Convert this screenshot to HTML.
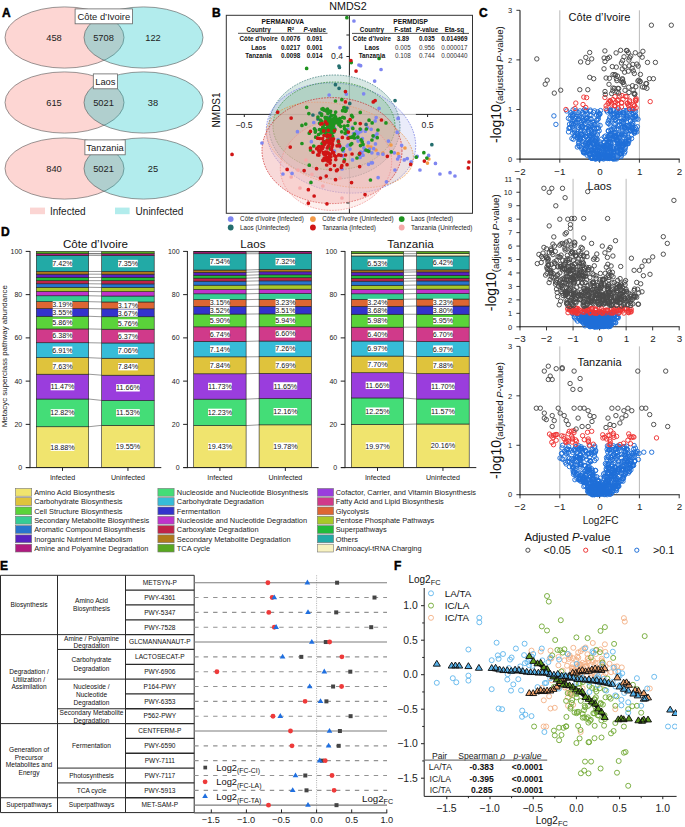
<!DOCTYPE html>
<html><head><meta charset="utf-8"><style>
html,body{margin:0;padding:0;background:#fff;overflow:hidden;}
svg{display:block;font-family:"Liberation Sans", sans-serif;}
</style></head><body>
<svg width="685" height="827" viewBox="0 0 685 827">
<text x="2.00" y="17.00" font-size="12" text-anchor="start" fill="#000" font-weight="bold" stroke="#000" stroke-width="0.45">A</text>
<text x="212.00" y="17.20" font-size="12" text-anchor="start" fill="#000" font-weight="bold" stroke="#000" stroke-width="0.45">B</text>
<text x="479.00" y="17.20" font-size="12" text-anchor="start" fill="#000" font-weight="bold" stroke="#000" stroke-width="0.45">C</text>
<text x="1.00" y="235.50" font-size="12" text-anchor="start" fill="#000" font-weight="bold" stroke="#000" stroke-width="0.45">D</text>
<text x="0.00" y="570.00" font-size="12" text-anchor="start" fill="#000" font-weight="bold" stroke="#000" stroke-width="0.45">E</text>
<text x="394.00" y="570.00" font-size="12" text-anchor="start" fill="#000" font-weight="bold" stroke="#000" stroke-width="0.45">F</text>
<ellipse cx="64.5" cy="37.5" rx="59.5" ry="30.6" fill="#f8766d" fill-opacity="0.3" stroke="#555" stroke-width="0.6"/>
<ellipse cx="143.5" cy="37.5" rx="59.5" ry="30.6" fill="#00bfc4" fill-opacity="0.3" stroke="#555" stroke-width="0.6"/>
<rect x="75.10" y="8.90" width="57.40" height="14.90" fill="#fff" stroke="#666" stroke-width="0.8"/>
<text x="103.80" y="19.60" font-size="9.4" text-anchor="middle" fill="#222">Côte d’Ivoire</text>
<text x="54.00" y="40.60" font-size="9.3" text-anchor="middle" fill="#222">458</text>
<text x="103.50" y="40.60" font-size="9.3" text-anchor="middle" fill="#222">5708</text>
<text x="153.00" y="40.60" font-size="9.3" text-anchor="middle" fill="#222">122</text>
<ellipse cx="64.5" cy="102.5" rx="59.5" ry="30.6" fill="#f8766d" fill-opacity="0.3" stroke="#555" stroke-width="0.6"/>
<ellipse cx="143.5" cy="102.5" rx="59.5" ry="30.6" fill="#00bfc4" fill-opacity="0.3" stroke="#555" stroke-width="0.6"/>
<rect x="93.30" y="73.90" width="24.10" height="14.90" fill="#fff" stroke="#666" stroke-width="0.8"/>
<text x="105.35" y="84.60" font-size="9.4" text-anchor="middle" fill="#222">Laos</text>
<text x="54.00" y="105.60" font-size="9.3" text-anchor="middle" fill="#222">615</text>
<text x="103.50" y="105.60" font-size="9.3" text-anchor="middle" fill="#222">5021</text>
<text x="153.00" y="105.60" font-size="9.3" text-anchor="middle" fill="#222">38</text>
<ellipse cx="64.5" cy="168.5" rx="59.5" ry="30.6" fill="#f8766d" fill-opacity="0.3" stroke="#555" stroke-width="0.6"/>
<ellipse cx="143.5" cy="168.5" rx="59.5" ry="30.6" fill="#00bfc4" fill-opacity="0.3" stroke="#555" stroke-width="0.6"/>
<rect x="84.90" y="139.90" width="40.30" height="14.90" fill="#fff" stroke="#666" stroke-width="0.8"/>
<text x="105.05" y="150.60" font-size="9.4" text-anchor="middle" fill="#222">Tanzania</text>
<text x="54.00" y="171.60" font-size="9.3" text-anchor="middle" fill="#222">840</text>
<text x="103.50" y="171.60" font-size="9.3" text-anchor="middle" fill="#222">5021</text>
<text x="153.00" y="171.60" font-size="9.3" text-anchor="middle" fill="#222">25</text>
<rect x="30.00" y="207.60" width="15.00" height="6.60" fill="#fbd5d3" stroke="none" stroke-width="1"/>
<text x="50.00" y="214.60" font-size="10" text-anchor="start" fill="#222">Infected</text>
<rect x="115.00" y="207.60" width="14.60" height="6.60" fill="#b2ecec" stroke="none" stroke-width="1"/>
<text x="135.60" y="214.60" font-size="10" text-anchor="start" fill="#222">Uninfected</text>
<defs><clipPath id="cb"><rect x="226.3" y="15.3" width="246.2" height="198.0"/></clipPath></defs>
<g clip-path="url(#cb)">
<line x1="270.50" y1="114.40" x2="415.80" y2="114.40" stroke="#222" stroke-width="1" stroke-opacity="0.3"/>
<line x1="349.40" y1="75.60" x2="349.40" y2="208.60" stroke="#222" stroke-width="1" stroke-opacity="0.3"/>
<line x1="226.30" y1="114.40" x2="270.50" y2="114.40" stroke="#222" stroke-width="1"/>
<line x1="415.80" y1="114.40" x2="472.50" y2="114.40" stroke="#222" stroke-width="1"/>
<line x1="349.40" y1="15.30" x2="349.40" y2="75.60" stroke="#222" stroke-width="1"/>
<line x1="349.40" y1="208.60" x2="349.40" y2="213.30" stroke="#222" stroke-width="1"/>
<ellipse cx="334.5" cy="127.0" rx="65.5" ry="52.0" transform="rotate(0 334.5 127.0)" fill="#499684" fill-opacity="0.22" stroke="#2d6e6e" stroke-width="0.7" stroke-dasharray="1.6 1.2"/>
<ellipse cx="341.0" cy="138.0" rx="75.5" ry="54.0" transform="rotate(12 341.0 138.0)" fill="#7b87e3" fill-opacity="0.16" stroke="#6a72e0" stroke-width="0.7" stroke-dasharray="1.6 1.2"/>
<ellipse cx="334.0" cy="126.0" rx="61.0" ry="44.0" transform="rotate(0 334.0 126.0)" fill="#64be5a" fill-opacity="0.22" stroke="#2a8a2a" stroke-width="0.7" stroke-dasharray="1.6 1.2"/>
<ellipse cx="340.0" cy="145.0" rx="75.0" ry="40.0" transform="rotate(14 340.0 145.0)" fill="#f0a060" fill-opacity="0.15" stroke="#e8913f" stroke-width="0.7" stroke-dasharray="1.6 1.2"/>
<ellipse cx="332.0" cy="150.6" rx="70.0" ry="53.0" transform="rotate(0 332.0 150.6)" fill="#f0aaaa" fill-opacity="0.45" stroke="#cc2020" stroke-width="0.7" stroke-dasharray="1.6 1.2"/>
<ellipse cx="336.0" cy="165.0" rx="56.0" ry="45.0" transform="rotate(-10 336.0 165.0)" fill="#f6beb9" fill-opacity="0.25" stroke="#f08d8d" stroke-width="0.7" stroke-dasharray="1.6 1.2"/>
<path fill="#f6a9a9" d="M289.3 177.0a1.85 1.85 0 1 0 3.7 0a1.85 1.85 0 1 0 -3.7 0M321.0 186.0a1.85 1.85 0 1 0 3.7 0a1.85 1.85 0 1 0 -3.7 0M310.1 174.3a1.85 1.85 0 1 0 3.7 0a1.85 1.85 0 1 0 -3.7 0M296.1 170.0a1.85 1.85 0 1 0 3.7 0a1.85 1.85 0 1 0 -3.7 0M328.1 165.0a1.85 1.85 0 1 0 3.7 0a1.85 1.85 0 1 0 -3.7 0M298.1 188.0a1.85 1.85 0 1 0 3.7 0a1.85 1.85 0 1 0 -3.7 0M338.1 178.0a1.85 1.85 0 1 0 3.7 0a1.85 1.85 0 1 0 -3.7 0M304.1 160.0a1.85 1.85 0 1 0 3.7 0a1.85 1.85 0 1 0 -3.7 0M340.1 198.0a1.85 1.85 0 1 0 3.7 0a1.85 1.85 0 1 0 -3.7 0"/>
<path fill="#f39a48" d="M427.0 159.0a1.85 1.85 0 1 0 3.7 0a1.85 1.85 0 1 0 -3.7 0M425.6 163.1a1.85 1.85 0 1 0 3.7 0a1.85 1.85 0 1 0 -3.7 0M396.2 153.6a1.85 1.85 0 1 0 3.7 0a1.85 1.85 0 1 0 -3.7 0M360.1 143.0a1.85 1.85 0 1 0 3.7 0a1.85 1.85 0 1 0 -3.7 0M366.1 146.0a1.85 1.85 0 1 0 3.7 0a1.85 1.85 0 1 0 -3.7 0M369.1 147.0a1.85 1.85 0 1 0 3.7 0a1.85 1.85 0 1 0 -3.7 0M389.1 145.0a1.85 1.85 0 1 0 3.7 0a1.85 1.85 0 1 0 -3.7 0M403.1 148.0a1.85 1.85 0 1 0 3.7 0a1.85 1.85 0 1 0 -3.7 0M381.1 153.0a1.85 1.85 0 1 0 3.7 0a1.85 1.85 0 1 0 -3.7 0M374.1 150.0a1.85 1.85 0 1 0 3.7 0a1.85 1.85 0 1 0 -3.7 0"/>
<path fill="#246e6e" d="M337.1 66.0a1.85 1.85 0 1 0 3.7 0a1.85 1.85 0 1 0 -3.7 0M337.6 67.5a1.85 1.85 0 1 0 3.7 0a1.85 1.85 0 1 0 -3.7 0M333.6 84.7a1.85 1.85 0 1 0 3.7 0a1.85 1.85 0 1 0 -3.7 0M337.2 88.3a1.85 1.85 0 1 0 3.7 0a1.85 1.85 0 1 0 -3.7 0M393.2 100.6a1.85 1.85 0 1 0 3.7 0a1.85 1.85 0 1 0 -3.7 0M347.9 103.4a1.85 1.85 0 1 0 3.7 0a1.85 1.85 0 1 0 -3.7 0M364.2 124.4a1.85 1.85 0 1 0 3.7 0a1.85 1.85 0 1 0 -3.7 0M430.0 144.7a1.85 1.85 0 1 0 3.7 0a1.85 1.85 0 1 0 -3.7 0M311.1 115.0a1.85 1.85 0 1 0 3.7 0a1.85 1.85 0 1 0 -3.7 0M318.1 113.0a1.85 1.85 0 1 0 3.7 0a1.85 1.85 0 1 0 -3.7 0M328.1 117.0a1.85 1.85 0 1 0 3.7 0a1.85 1.85 0 1 0 -3.7 0M322.1 110.0a1.85 1.85 0 1 0 3.7 0a1.85 1.85 0 1 0 -3.7 0M345.1 108.0a1.85 1.85 0 1 0 3.7 0a1.85 1.85 0 1 0 -3.7 0M316.1 119.0a1.85 1.85 0 1 0 3.7 0a1.85 1.85 0 1 0 -3.7 0"/>
<path fill="#7f86f0" d="M351.6 133.5a1.85 1.85 0 1 0 3.7 0a1.85 1.85 0 1 0 -3.7 0M372.8 135.9a1.85 1.85 0 1 0 3.7 0a1.85 1.85 0 1 0 -3.7 0M332.2 127.2a1.85 1.85 0 1 0 3.7 0a1.85 1.85 0 1 0 -3.7 0M392.5 152.8a1.85 1.85 0 1 0 3.7 0a1.85 1.85 0 1 0 -3.7 0M345.9 129.3a1.85 1.85 0 1 0 3.7 0a1.85 1.85 0 1 0 -3.7 0M336.2 139.5a1.85 1.85 0 1 0 3.7 0a1.85 1.85 0 1 0 -3.7 0M366.7 164.3a1.85 1.85 0 1 0 3.7 0a1.85 1.85 0 1 0 -3.7 0M381.1 154.2a1.85 1.85 0 1 0 3.7 0a1.85 1.85 0 1 0 -3.7 0M345.0 131.0a1.85 1.85 0 1 0 3.7 0a1.85 1.85 0 1 0 -3.7 0M311.9 122.5a1.85 1.85 0 1 0 3.7 0a1.85 1.85 0 1 0 -3.7 0M366.6 142.7a1.85 1.85 0 1 0 3.7 0a1.85 1.85 0 1 0 -3.7 0M365.5 127.8a1.85 1.85 0 1 0 3.7 0a1.85 1.85 0 1 0 -3.7 0M376.1 153.7a1.85 1.85 0 1 0 3.7 0a1.85 1.85 0 1 0 -3.7 0M359.0 152.0a1.85 1.85 0 1 0 3.7 0a1.85 1.85 0 1 0 -3.7 0M313.4 129.5a1.85 1.85 0 1 0 3.7 0a1.85 1.85 0 1 0 -3.7 0M340.2 169.0a1.85 1.85 0 1 0 3.7 0a1.85 1.85 0 1 0 -3.7 0M354.5 138.0a1.85 1.85 0 1 0 3.7 0a1.85 1.85 0 1 0 -3.7 0M375.2 133.9a1.85 1.85 0 1 0 3.7 0a1.85 1.85 0 1 0 -3.7 0M386.6 141.1a1.85 1.85 0 1 0 3.7 0a1.85 1.85 0 1 0 -3.7 0M357.0 132.5a1.85 1.85 0 1 0 3.7 0a1.85 1.85 0 1 0 -3.7 0M374.3 117.5a1.85 1.85 0 1 0 3.7 0a1.85 1.85 0 1 0 -3.7 0M372.0 136.7a1.85 1.85 0 1 0 3.7 0a1.85 1.85 0 1 0 -3.7 0M359.1 129.5a1.85 1.85 0 1 0 3.7 0a1.85 1.85 0 1 0 -3.7 0M362.7 149.6a1.85 1.85 0 1 0 3.7 0a1.85 1.85 0 1 0 -3.7 0M370.0 152.8a1.85 1.85 0 1 0 3.7 0a1.85 1.85 0 1 0 -3.7 0M370.6 162.8a1.85 1.85 0 1 0 3.7 0a1.85 1.85 0 1 0 -3.7 0M350.4 127.4a1.85 1.85 0 1 0 3.7 0a1.85 1.85 0 1 0 -3.7 0M332.6 151.1a1.85 1.85 0 1 0 3.7 0a1.85 1.85 0 1 0 -3.7 0M350.6 159.9a1.85 1.85 0 1 0 3.7 0a1.85 1.85 0 1 0 -3.7 0M359.1 131.5a1.85 1.85 0 1 0 3.7 0a1.85 1.85 0 1 0 -3.7 0M376.3 177.6a1.85 1.85 0 1 0 3.7 0a1.85 1.85 0 1 0 -3.7 0M354.5 131.7a1.85 1.85 0 1 0 3.7 0a1.85 1.85 0 1 0 -3.7 0M341.2 155.8a1.85 1.85 0 1 0 3.7 0a1.85 1.85 0 1 0 -3.7 0M346.4 137.9a1.85 1.85 0 1 0 3.7 0a1.85 1.85 0 1 0 -3.7 0M371.8 148.7a1.85 1.85 0 1 0 3.7 0a1.85 1.85 0 1 0 -3.7 0M360.5 138.5a1.85 1.85 0 1 0 3.7 0a1.85 1.85 0 1 0 -3.7 0M345.4 146.0a1.85 1.85 0 1 0 3.7 0a1.85 1.85 0 1 0 -3.7 0M361.2 155.2a1.85 1.85 0 1 0 3.7 0a1.85 1.85 0 1 0 -3.7 0M348.2 149.1a1.85 1.85 0 1 0 3.7 0a1.85 1.85 0 1 0 -3.7 0M367.7 149.0a1.85 1.85 0 1 0 3.7 0a1.85 1.85 0 1 0 -3.7 0M369.6 162.8a1.85 1.85 0 1 0 3.7 0a1.85 1.85 0 1 0 -3.7 0M362.1 147.9a1.85 1.85 0 1 0 3.7 0a1.85 1.85 0 1 0 -3.7 0M338.8 147.1a1.85 1.85 0 1 0 3.7 0a1.85 1.85 0 1 0 -3.7 0M356.3 141.1a1.85 1.85 0 1 0 3.7 0a1.85 1.85 0 1 0 -3.7 0M341.6 151.2a1.85 1.85 0 1 0 3.7 0a1.85 1.85 0 1 0 -3.7 0M409.3 161.9a1.85 1.85 0 1 0 3.7 0a1.85 1.85 0 1 0 -3.7 0M359.9 152.7a1.85 1.85 0 1 0 3.7 0a1.85 1.85 0 1 0 -3.7 0M346.3 145.2a1.85 1.85 0 1 0 3.7 0a1.85 1.85 0 1 0 -3.7 0M344.9 134.2a1.85 1.85 0 1 0 3.7 0a1.85 1.85 0 1 0 -3.7 0M362.8 150.2a1.85 1.85 0 1 0 3.7 0a1.85 1.85 0 1 0 -3.7 0M355.9 134.0a1.85 1.85 0 1 0 3.7 0a1.85 1.85 0 1 0 -3.7 0M363.4 131.2a1.85 1.85 0 1 0 3.7 0a1.85 1.85 0 1 0 -3.7 0M373.6 143.9a1.85 1.85 0 1 0 3.7 0a1.85 1.85 0 1 0 -3.7 0M358.2 157.4a1.85 1.85 0 1 0 3.7 0a1.85 1.85 0 1 0 -3.7 0M369.3 129.3a1.85 1.85 0 1 0 3.7 0a1.85 1.85 0 1 0 -3.7 0M338.1 47.6a1.85 1.85 0 1 0 3.7 0a1.85 1.85 0 1 0 -3.7 0M327.3 95.0a1.85 1.85 0 1 0 3.7 0a1.85 1.85 0 1 0 -3.7 0M344.5 94.1a1.85 1.85 0 1 0 3.7 0a1.85 1.85 0 1 0 -3.7 0M358.8 65.7a1.85 1.85 0 1 0 3.7 0a1.85 1.85 0 1 0 -3.7 0M379.2 69.5a1.85 1.85 0 1 0 3.7 0a1.85 1.85 0 1 0 -3.7 0M372.8 81.1a1.85 1.85 0 1 0 3.7 0a1.85 1.85 0 1 0 -3.7 0M361.8 93.8a1.85 1.85 0 1 0 3.7 0a1.85 1.85 0 1 0 -3.7 0M377.2 108.4a1.85 1.85 0 1 0 3.7 0a1.85 1.85 0 1 0 -3.7 0M373.3 120.9a1.85 1.85 0 1 0 3.7 0a1.85 1.85 0 1 0 -3.7 0M396.4 118.2a1.85 1.85 0 1 0 3.7 0a1.85 1.85 0 1 0 -3.7 0M395.3 132.0a1.85 1.85 0 1 0 3.7 0a1.85 1.85 0 1 0 -3.7 0M352.1 21.0a1.85 1.85 0 1 0 3.7 0a1.85 1.85 0 1 0 -3.7 0M357.1 65.0a1.85 1.85 0 1 0 3.7 0a1.85 1.85 0 1 0 -3.7 0M426.8 155.4a1.85 1.85 0 1 0 3.7 0a1.85 1.85 0 1 0 -3.7 0M433.6 163.4a1.85 1.85 0 1 0 3.7 0a1.85 1.85 0 1 0 -3.7 0M448.2 172.7a1.85 1.85 0 1 0 3.7 0a1.85 1.85 0 1 0 -3.7 0M415.4 156.3a1.85 1.85 0 1 0 3.7 0a1.85 1.85 0 1 0 -3.7 0M402.4 159.9a1.85 1.85 0 1 0 3.7 0a1.85 1.85 0 1 0 -3.7 0M405.4 158.6a1.85 1.85 0 1 0 3.7 0a1.85 1.85 0 1 0 -3.7 0M395.8 159.0a1.85 1.85 0 1 0 3.7 0a1.85 1.85 0 1 0 -3.7 0M397.1 156.7a1.85 1.85 0 1 0 3.7 0a1.85 1.85 0 1 0 -3.7 0M399.8 145.3a1.85 1.85 0 1 0 3.7 0a1.85 1.85 0 1 0 -3.7 0M395.3 132.3a1.85 1.85 0 1 0 3.7 0a1.85 1.85 0 1 0 -3.7 0M396.2 118.5a1.85 1.85 0 1 0 3.7 0a1.85 1.85 0 1 0 -3.7 0M384.6 181.8a1.85 1.85 0 1 0 3.7 0a1.85 1.85 0 1 0 -3.7 0M295.6 131.7a1.85 1.85 0 1 0 3.7 0a1.85 1.85 0 1 0 -3.7 0M290.2 173.4a1.85 1.85 0 1 0 3.7 0a1.85 1.85 0 1 0 -3.7 0M309.5 141.7a1.85 1.85 0 1 0 3.7 0a1.85 1.85 0 1 0 -3.7 0M260.1 143.0a1.85 1.85 0 1 0 3.7 0a1.85 1.85 0 1 0 -3.7 0M281.1 174.0a1.85 1.85 0 1 0 3.7 0a1.85 1.85 0 1 0 -3.7 0M418.1 170.0a1.85 1.85 0 1 0 3.7 0a1.85 1.85 0 1 0 -3.7 0M438.1 174.0a1.85 1.85 0 1 0 3.7 0a1.85 1.85 0 1 0 -3.7 0M453.1 176.0a1.85 1.85 0 1 0 3.7 0a1.85 1.85 0 1 0 -3.7 0M393.1 170.0a1.85 1.85 0 1 0 3.7 0a1.85 1.85 0 1 0 -3.7 0"/>
<path fill="#1f931f" d="M329.8 134.0a1.85 1.85 0 1 0 3.7 0a1.85 1.85 0 1 0 -3.7 0M322.6 132.1a1.85 1.85 0 1 0 3.7 0a1.85 1.85 0 1 0 -3.7 0M327.3 123.1a1.85 1.85 0 1 0 3.7 0a1.85 1.85 0 1 0 -3.7 0M342.4 126.1a1.85 1.85 0 1 0 3.7 0a1.85 1.85 0 1 0 -3.7 0M328.8 130.3a1.85 1.85 0 1 0 3.7 0a1.85 1.85 0 1 0 -3.7 0M337.0 124.8a1.85 1.85 0 1 0 3.7 0a1.85 1.85 0 1 0 -3.7 0M333.3 118.0a1.85 1.85 0 1 0 3.7 0a1.85 1.85 0 1 0 -3.7 0M326.6 121.8a1.85 1.85 0 1 0 3.7 0a1.85 1.85 0 1 0 -3.7 0M319.8 114.1a1.85 1.85 0 1 0 3.7 0a1.85 1.85 0 1 0 -3.7 0M317.8 123.3a1.85 1.85 0 1 0 3.7 0a1.85 1.85 0 1 0 -3.7 0M327.9 122.7a1.85 1.85 0 1 0 3.7 0a1.85 1.85 0 1 0 -3.7 0M329.6 115.4a1.85 1.85 0 1 0 3.7 0a1.85 1.85 0 1 0 -3.7 0M328.6 126.7a1.85 1.85 0 1 0 3.7 0a1.85 1.85 0 1 0 -3.7 0M334.4 118.9a1.85 1.85 0 1 0 3.7 0a1.85 1.85 0 1 0 -3.7 0M326.4 110.5a1.85 1.85 0 1 0 3.7 0a1.85 1.85 0 1 0 -3.7 0M325.6 109.2a1.85 1.85 0 1 0 3.7 0a1.85 1.85 0 1 0 -3.7 0M319.2 132.9a1.85 1.85 0 1 0 3.7 0a1.85 1.85 0 1 0 -3.7 0M313.7 130.7a1.85 1.85 0 1 0 3.7 0a1.85 1.85 0 1 0 -3.7 0M331.4 122.8a1.85 1.85 0 1 0 3.7 0a1.85 1.85 0 1 0 -3.7 0M332.4 128.8a1.85 1.85 0 1 0 3.7 0a1.85 1.85 0 1 0 -3.7 0M336.5 123.3a1.85 1.85 0 1 0 3.7 0a1.85 1.85 0 1 0 -3.7 0M325.0 120.6a1.85 1.85 0 1 0 3.7 0a1.85 1.85 0 1 0 -3.7 0M322.2 124.7a1.85 1.85 0 1 0 3.7 0a1.85 1.85 0 1 0 -3.7 0M323.6 132.7a1.85 1.85 0 1 0 3.7 0a1.85 1.85 0 1 0 -3.7 0M316.1 117.1a1.85 1.85 0 1 0 3.7 0a1.85 1.85 0 1 0 -3.7 0M322.5 109.9a1.85 1.85 0 1 0 3.7 0a1.85 1.85 0 1 0 -3.7 0M342.5 107.7a1.85 1.85 0 1 0 3.7 0a1.85 1.85 0 1 0 -3.7 0M327.2 121.2a1.85 1.85 0 1 0 3.7 0a1.85 1.85 0 1 0 -3.7 0M340.7 110.7a1.85 1.85 0 1 0 3.7 0a1.85 1.85 0 1 0 -3.7 0M336.7 119.7a1.85 1.85 0 1 0 3.7 0a1.85 1.85 0 1 0 -3.7 0M328.1 120.2a1.85 1.85 0 1 0 3.7 0a1.85 1.85 0 1 0 -3.7 0M333.6 116.8a1.85 1.85 0 1 0 3.7 0a1.85 1.85 0 1 0 -3.7 0M328.6 127.5a1.85 1.85 0 1 0 3.7 0a1.85 1.85 0 1 0 -3.7 0M342.0 107.7a1.85 1.85 0 1 0 3.7 0a1.85 1.85 0 1 0 -3.7 0M339.8 131.8a1.85 1.85 0 1 0 3.7 0a1.85 1.85 0 1 0 -3.7 0M325.8 127.2a1.85 1.85 0 1 0 3.7 0a1.85 1.85 0 1 0 -3.7 0M325.9 136.9a1.85 1.85 0 1 0 3.7 0a1.85 1.85 0 1 0 -3.7 0M330.6 123.4a1.85 1.85 0 1 0 3.7 0a1.85 1.85 0 1 0 -3.7 0M327.6 123.6a1.85 1.85 0 1 0 3.7 0a1.85 1.85 0 1 0 -3.7 0M327.9 118.7a1.85 1.85 0 1 0 3.7 0a1.85 1.85 0 1 0 -3.7 0M343.6 111.2a1.85 1.85 0 1 0 3.7 0a1.85 1.85 0 1 0 -3.7 0M303.9 124.1a1.85 1.85 0 1 0 3.7 0a1.85 1.85 0 1 0 -3.7 0M328.1 127.7a1.85 1.85 0 1 0 3.7 0a1.85 1.85 0 1 0 -3.7 0M327.7 123.9a1.85 1.85 0 1 0 3.7 0a1.85 1.85 0 1 0 -3.7 0M331.5 132.0a1.85 1.85 0 1 0 3.7 0a1.85 1.85 0 1 0 -3.7 0M326.0 122.3a1.85 1.85 0 1 0 3.7 0a1.85 1.85 0 1 0 -3.7 0M342.7 128.8a1.85 1.85 0 1 0 3.7 0a1.85 1.85 0 1 0 -3.7 0M322.3 141.7a1.85 1.85 0 1 0 3.7 0a1.85 1.85 0 1 0 -3.7 0M334.6 120.8a1.85 1.85 0 1 0 3.7 0a1.85 1.85 0 1 0 -3.7 0M320.9 127.1a1.85 1.85 0 1 0 3.7 0a1.85 1.85 0 1 0 -3.7 0M323.3 117.4a1.85 1.85 0 1 0 3.7 0a1.85 1.85 0 1 0 -3.7 0M320.1 121.4a1.85 1.85 0 1 0 3.7 0a1.85 1.85 0 1 0 -3.7 0M336.9 121.9a1.85 1.85 0 1 0 3.7 0a1.85 1.85 0 1 0 -3.7 0M319.0 129.8a1.85 1.85 0 1 0 3.7 0a1.85 1.85 0 1 0 -3.7 0M329.6 131.1a1.85 1.85 0 1 0 3.7 0a1.85 1.85 0 1 0 -3.7 0M337.6 123.8a1.85 1.85 0 1 0 3.7 0a1.85 1.85 0 1 0 -3.7 0M328.1 124.7a1.85 1.85 0 1 0 3.7 0a1.85 1.85 0 1 0 -3.7 0M321.2 129.8a1.85 1.85 0 1 0 3.7 0a1.85 1.85 0 1 0 -3.7 0M338.8 126.3a1.85 1.85 0 1 0 3.7 0a1.85 1.85 0 1 0 -3.7 0M327.5 123.1a1.85 1.85 0 1 0 3.7 0a1.85 1.85 0 1 0 -3.7 0M323.7 119.2a1.85 1.85 0 1 0 3.7 0a1.85 1.85 0 1 0 -3.7 0M326.3 118.9a1.85 1.85 0 1 0 3.7 0a1.85 1.85 0 1 0 -3.7 0M326.1 113.6a1.85 1.85 0 1 0 3.7 0a1.85 1.85 0 1 0 -3.7 0M331.6 125.4a1.85 1.85 0 1 0 3.7 0a1.85 1.85 0 1 0 -3.7 0M321.1 108.5a1.85 1.85 0 1 0 3.7 0a1.85 1.85 0 1 0 -3.7 0M329.1 132.9a1.85 1.85 0 1 0 3.7 0a1.85 1.85 0 1 0 -3.7 0M324.0 121.5a1.85 1.85 0 1 0 3.7 0a1.85 1.85 0 1 0 -3.7 0M325.2 129.7a1.85 1.85 0 1 0 3.7 0a1.85 1.85 0 1 0 -3.7 0M322.7 132.1a1.85 1.85 0 1 0 3.7 0a1.85 1.85 0 1 0 -3.7 0M327.0 131.7a1.85 1.85 0 1 0 3.7 0a1.85 1.85 0 1 0 -3.7 0M329.4 123.3a1.85 1.85 0 1 0 3.7 0a1.85 1.85 0 1 0 -3.7 0M318.8 120.1a1.85 1.85 0 1 0 3.7 0a1.85 1.85 0 1 0 -3.7 0M327.3 129.7a1.85 1.85 0 1 0 3.7 0a1.85 1.85 0 1 0 -3.7 0M330.9 120.0a1.85 1.85 0 1 0 3.7 0a1.85 1.85 0 1 0 -3.7 0M332.0 132.1a1.85 1.85 0 1 0 3.7 0a1.85 1.85 0 1 0 -3.7 0M328.1 121.8a1.85 1.85 0 1 0 3.7 0a1.85 1.85 0 1 0 -3.7 0M326.4 130.8a1.85 1.85 0 1 0 3.7 0a1.85 1.85 0 1 0 -3.7 0M332.9 118.3a1.85 1.85 0 1 0 3.7 0a1.85 1.85 0 1 0 -3.7 0M331.8 121.5a1.85 1.85 0 1 0 3.7 0a1.85 1.85 0 1 0 -3.7 0M323.9 133.9a1.85 1.85 0 1 0 3.7 0a1.85 1.85 0 1 0 -3.7 0M334.9 119.8a1.85 1.85 0 1 0 3.7 0a1.85 1.85 0 1 0 -3.7 0M329.7 128.6a1.85 1.85 0 1 0 3.7 0a1.85 1.85 0 1 0 -3.7 0M324.7 124.1a1.85 1.85 0 1 0 3.7 0a1.85 1.85 0 1 0 -3.7 0M333.8 112.1a1.85 1.85 0 1 0 3.7 0a1.85 1.85 0 1 0 -3.7 0M331.4 130.3a1.85 1.85 0 1 0 3.7 0a1.85 1.85 0 1 0 -3.7 0M332.7 115.3a1.85 1.85 0 1 0 3.7 0a1.85 1.85 0 1 0 -3.7 0M331.4 118.8a1.85 1.85 0 1 0 3.7 0a1.85 1.85 0 1 0 -3.7 0M333.1 129.4a1.85 1.85 0 1 0 3.7 0a1.85 1.85 0 1 0 -3.7 0M330.7 119.5a1.85 1.85 0 1 0 3.7 0a1.85 1.85 0 1 0 -3.7 0M325.0 131.1a1.85 1.85 0 1 0 3.7 0a1.85 1.85 0 1 0 -3.7 0M322.9 128.6a1.85 1.85 0 1 0 3.7 0a1.85 1.85 0 1 0 -3.7 0M332.7 123.0a1.85 1.85 0 1 0 3.7 0a1.85 1.85 0 1 0 -3.7 0M345.9 125.5a1.85 1.85 0 1 0 3.7 0a1.85 1.85 0 1 0 -3.7 0M344.2 110.5a1.85 1.85 0 1 0 3.7 0a1.85 1.85 0 1 0 -3.7 0M313.4 132.1a1.85 1.85 0 1 0 3.7 0a1.85 1.85 0 1 0 -3.7 0M333.6 122.8a1.85 1.85 0 1 0 3.7 0a1.85 1.85 0 1 0 -3.7 0M328.8 111.3a1.85 1.85 0 1 0 3.7 0a1.85 1.85 0 1 0 -3.7 0M324.7 117.6a1.85 1.85 0 1 0 3.7 0a1.85 1.85 0 1 0 -3.7 0M327.6 131.4a1.85 1.85 0 1 0 3.7 0a1.85 1.85 0 1 0 -3.7 0M329.5 127.7a1.85 1.85 0 1 0 3.7 0a1.85 1.85 0 1 0 -3.7 0M324.3 121.9a1.85 1.85 0 1 0 3.7 0a1.85 1.85 0 1 0 -3.7 0M329.9 123.0a1.85 1.85 0 1 0 3.7 0a1.85 1.85 0 1 0 -3.7 0M338.0 118.7a1.85 1.85 0 1 0 3.7 0a1.85 1.85 0 1 0 -3.7 0M342.4 117.9a1.85 1.85 0 1 0 3.7 0a1.85 1.85 0 1 0 -3.7 0M336.6 119.4a1.85 1.85 0 1 0 3.7 0a1.85 1.85 0 1 0 -3.7 0M371.2 135.8a1.85 1.85 0 1 0 3.7 0a1.85 1.85 0 1 0 -3.7 0M349.9 143.7a1.85 1.85 0 1 0 3.7 0a1.85 1.85 0 1 0 -3.7 0M332.4 120.5a1.85 1.85 0 1 0 3.7 0a1.85 1.85 0 1 0 -3.7 0M308.7 149.9a1.85 1.85 0 1 0 3.7 0a1.85 1.85 0 1 0 -3.7 0M331.3 126.3a1.85 1.85 0 1 0 3.7 0a1.85 1.85 0 1 0 -3.7 0M342.6 159.9a1.85 1.85 0 1 0 3.7 0a1.85 1.85 0 1 0 -3.7 0M313.8 137.2a1.85 1.85 0 1 0 3.7 0a1.85 1.85 0 1 0 -3.7 0M336.4 140.9a1.85 1.85 0 1 0 3.7 0a1.85 1.85 0 1 0 -3.7 0M312.6 128.8a1.85 1.85 0 1 0 3.7 0a1.85 1.85 0 1 0 -3.7 0M357.4 154.3a1.85 1.85 0 1 0 3.7 0a1.85 1.85 0 1 0 -3.7 0M370.3 122.9a1.85 1.85 0 1 0 3.7 0a1.85 1.85 0 1 0 -3.7 0M344.1 132.6a1.85 1.85 0 1 0 3.7 0a1.85 1.85 0 1 0 -3.7 0M319.8 115.3a1.85 1.85 0 1 0 3.7 0a1.85 1.85 0 1 0 -3.7 0M356.0 137.2a1.85 1.85 0 1 0 3.7 0a1.85 1.85 0 1 0 -3.7 0M340.7 149.8a1.85 1.85 0 1 0 3.7 0a1.85 1.85 0 1 0 -3.7 0M326.1 140.8a1.85 1.85 0 1 0 3.7 0a1.85 1.85 0 1 0 -3.7 0M343.3 133.2a1.85 1.85 0 1 0 3.7 0a1.85 1.85 0 1 0 -3.7 0M351.5 136.3a1.85 1.85 0 1 0 3.7 0a1.85 1.85 0 1 0 -3.7 0M347.7 137.5a1.85 1.85 0 1 0 3.7 0a1.85 1.85 0 1 0 -3.7 0M376.1 130.0a1.85 1.85 0 1 0 3.7 0a1.85 1.85 0 1 0 -3.7 0M360.4 141.9a1.85 1.85 0 1 0 3.7 0a1.85 1.85 0 1 0 -3.7 0M337.2 144.3a1.85 1.85 0 1 0 3.7 0a1.85 1.85 0 1 0 -3.7 0M328.6 149.1a1.85 1.85 0 1 0 3.7 0a1.85 1.85 0 1 0 -3.7 0M329.4 127.6a1.85 1.85 0 1 0 3.7 0a1.85 1.85 0 1 0 -3.7 0M348.6 144.8a1.85 1.85 0 1 0 3.7 0a1.85 1.85 0 1 0 -3.7 0M358.6 145.6a1.85 1.85 0 1 0 3.7 0a1.85 1.85 0 1 0 -3.7 0M339.6 121.6a1.85 1.85 0 1 0 3.7 0a1.85 1.85 0 1 0 -3.7 0M352.5 137.9a1.85 1.85 0 1 0 3.7 0a1.85 1.85 0 1 0 -3.7 0M327.0 146.7a1.85 1.85 0 1 0 3.7 0a1.85 1.85 0 1 0 -3.7 0M346.5 121.5a1.85 1.85 0 1 0 3.7 0a1.85 1.85 0 1 0 -3.7 0M350.7 116.8a1.85 1.85 0 1 0 3.7 0a1.85 1.85 0 1 0 -3.7 0M328.2 139.2a1.85 1.85 0 1 0 3.7 0a1.85 1.85 0 1 0 -3.7 0M316.7 134.5a1.85 1.85 0 1 0 3.7 0a1.85 1.85 0 1 0 -3.7 0M320.2 143.6a1.85 1.85 0 1 0 3.7 0a1.85 1.85 0 1 0 -3.7 0M330.8 136.4a1.85 1.85 0 1 0 3.7 0a1.85 1.85 0 1 0 -3.7 0M317.6 129.5a1.85 1.85 0 1 0 3.7 0a1.85 1.85 0 1 0 -3.7 0M359.3 139.9a1.85 1.85 0 1 0 3.7 0a1.85 1.85 0 1 0 -3.7 0M311.9 146.0a1.85 1.85 0 1 0 3.7 0a1.85 1.85 0 1 0 -3.7 0M358.3 129.1a1.85 1.85 0 1 0 3.7 0a1.85 1.85 0 1 0 -3.7 0M367.2 120.2a1.85 1.85 0 1 0 3.7 0a1.85 1.85 0 1 0 -3.7 0M341.7 148.5a1.85 1.85 0 1 0 3.7 0a1.85 1.85 0 1 0 -3.7 0M365.4 150.6a1.85 1.85 0 1 0 3.7 0a1.85 1.85 0 1 0 -3.7 0M324.5 110.9a1.85 1.85 0 1 0 3.7 0a1.85 1.85 0 1 0 -3.7 0M349.8 115.4a1.85 1.85 0 1 0 3.7 0a1.85 1.85 0 1 0 -3.7 0M340.9 117.3a1.85 1.85 0 1 0 3.7 0a1.85 1.85 0 1 0 -3.7 0M361.2 144.4a1.85 1.85 0 1 0 3.7 0a1.85 1.85 0 1 0 -3.7 0M352.6 134.2a1.85 1.85 0 1 0 3.7 0a1.85 1.85 0 1 0 -3.7 0M343.9 130.1a1.85 1.85 0 1 0 3.7 0a1.85 1.85 0 1 0 -3.7 0M349.7 137.2a1.85 1.85 0 1 0 3.7 0a1.85 1.85 0 1 0 -3.7 0M351.0 128.4a1.85 1.85 0 1 0 3.7 0a1.85 1.85 0 1 0 -3.7 0M375.4 137.7a1.85 1.85 0 1 0 3.7 0a1.85 1.85 0 1 0 -3.7 0M366.9 151.3a1.85 1.85 0 1 0 3.7 0a1.85 1.85 0 1 0 -3.7 0M328.2 112.1a1.85 1.85 0 1 0 3.7 0a1.85 1.85 0 1 0 -3.7 0M364.5 129.0a1.85 1.85 0 1 0 3.7 0a1.85 1.85 0 1 0 -3.7 0M344.5 130.6a1.85 1.85 0 1 0 3.7 0a1.85 1.85 0 1 0 -3.7 0M345.0 17.7a1.85 1.85 0 1 0 3.7 0a1.85 1.85 0 1 0 -3.7 0M304.8 68.4a1.85 1.85 0 1 0 3.7 0a1.85 1.85 0 1 0 -3.7 0M340.0 99.7a1.85 1.85 0 1 0 3.7 0a1.85 1.85 0 1 0 -3.7 0M333.6 101.0a1.85 1.85 0 1 0 3.7 0a1.85 1.85 0 1 0 -3.7 0M304.8 107.3a1.85 1.85 0 1 0 3.7 0a1.85 1.85 0 1 0 -3.7 0M320.1 109.1a1.85 1.85 0 1 0 3.7 0a1.85 1.85 0 1 0 -3.7 0M349.4 62.6a1.85 1.85 0 1 0 3.7 0a1.85 1.85 0 1 0 -3.7 0M377.2 58.5a1.85 1.85 0 1 0 3.7 0a1.85 1.85 0 1 0 -3.7 0M358.4 112.4a1.85 1.85 0 1 0 3.7 0a1.85 1.85 0 1 0 -3.7 0M384.1 122.9a1.85 1.85 0 1 0 3.7 0a1.85 1.85 0 1 0 -3.7 0M353.3 123.3a1.85 1.85 0 1 0 3.7 0a1.85 1.85 0 1 0 -3.7 0M422.0 152.7a1.85 1.85 0 1 0 3.7 0a1.85 1.85 0 1 0 -3.7 0M425.0 158.1a1.85 1.85 0 1 0 3.7 0a1.85 1.85 0 1 0 -3.7 0M414.4 157.2a1.85 1.85 0 1 0 3.7 0a1.85 1.85 0 1 0 -3.7 0M389.4 151.9a1.85 1.85 0 1 0 3.7 0a1.85 1.85 0 1 0 -3.7 0M368.6 180.0a1.85 1.85 0 1 0 3.7 0a1.85 1.85 0 1 0 -3.7 0M300.1 125.4a1.85 1.85 0 1 0 3.7 0a1.85 1.85 0 1 0 -3.7 0M307.4 133.2a1.85 1.85 0 1 0 3.7 0a1.85 1.85 0 1 0 -3.7 0M300.1 143.5a1.85 1.85 0 1 0 3.7 0a1.85 1.85 0 1 0 -3.7 0M307.4 165.2a1.85 1.85 0 1 0 3.7 0a1.85 1.85 0 1 0 -3.7 0M309.1 182.4a1.85 1.85 0 1 0 3.7 0a1.85 1.85 0 1 0 -3.7 0M307.0 113.6a1.85 1.85 0 1 0 3.7 0a1.85 1.85 0 1 0 -3.7 0M355.1 158.0a1.85 1.85 0 1 0 3.7 0a1.85 1.85 0 1 0 -3.7 0M364.1 150.0a1.85 1.85 0 1 0 3.7 0a1.85 1.85 0 1 0 -3.7 0M370.1 140.0a1.85 1.85 0 1 0 3.7 0a1.85 1.85 0 1 0 -3.7 0"/>
<path fill="#d01414" d="M325.9 134.8a1.85 1.85 0 1 0 3.7 0a1.85 1.85 0 1 0 -3.7 0M324.6 141.6a1.85 1.85 0 1 0 3.7 0a1.85 1.85 0 1 0 -3.7 0M325.1 123.8a1.85 1.85 0 1 0 3.7 0a1.85 1.85 0 1 0 -3.7 0M329.7 149.5a1.85 1.85 0 1 0 3.7 0a1.85 1.85 0 1 0 -3.7 0M315.7 138.2a1.85 1.85 0 1 0 3.7 0a1.85 1.85 0 1 0 -3.7 0M325.3 152.0a1.85 1.85 0 1 0 3.7 0a1.85 1.85 0 1 0 -3.7 0M325.2 159.1a1.85 1.85 0 1 0 3.7 0a1.85 1.85 0 1 0 -3.7 0M325.3 136.5a1.85 1.85 0 1 0 3.7 0a1.85 1.85 0 1 0 -3.7 0M321.4 152.7a1.85 1.85 0 1 0 3.7 0a1.85 1.85 0 1 0 -3.7 0M321.8 153.7a1.85 1.85 0 1 0 3.7 0a1.85 1.85 0 1 0 -3.7 0M330.8 152.1a1.85 1.85 0 1 0 3.7 0a1.85 1.85 0 1 0 -3.7 0M330.7 144.8a1.85 1.85 0 1 0 3.7 0a1.85 1.85 0 1 0 -3.7 0M325.1 140.4a1.85 1.85 0 1 0 3.7 0a1.85 1.85 0 1 0 -3.7 0M321.8 130.9a1.85 1.85 0 1 0 3.7 0a1.85 1.85 0 1 0 -3.7 0M322.1 135.6a1.85 1.85 0 1 0 3.7 0a1.85 1.85 0 1 0 -3.7 0M317.3 146.7a1.85 1.85 0 1 0 3.7 0a1.85 1.85 0 1 0 -3.7 0M327.7 143.0a1.85 1.85 0 1 0 3.7 0a1.85 1.85 0 1 0 -3.7 0M332.7 155.6a1.85 1.85 0 1 0 3.7 0a1.85 1.85 0 1 0 -3.7 0M330.9 140.8a1.85 1.85 0 1 0 3.7 0a1.85 1.85 0 1 0 -3.7 0M316.9 150.6a1.85 1.85 0 1 0 3.7 0a1.85 1.85 0 1 0 -3.7 0M326.8 153.0a1.85 1.85 0 1 0 3.7 0a1.85 1.85 0 1 0 -3.7 0M327.4 158.2a1.85 1.85 0 1 0 3.7 0a1.85 1.85 0 1 0 -3.7 0M323.6 152.2a1.85 1.85 0 1 0 3.7 0a1.85 1.85 0 1 0 -3.7 0M320.2 123.7a1.85 1.85 0 1 0 3.7 0a1.85 1.85 0 1 0 -3.7 0M322.7 160.0a1.85 1.85 0 1 0 3.7 0a1.85 1.85 0 1 0 -3.7 0M315.9 154.9a1.85 1.85 0 1 0 3.7 0a1.85 1.85 0 1 0 -3.7 0M321.4 141.9a1.85 1.85 0 1 0 3.7 0a1.85 1.85 0 1 0 -3.7 0M325.4 148.0a1.85 1.85 0 1 0 3.7 0a1.85 1.85 0 1 0 -3.7 0M319.8 146.7a1.85 1.85 0 1 0 3.7 0a1.85 1.85 0 1 0 -3.7 0M327.6 154.1a1.85 1.85 0 1 0 3.7 0a1.85 1.85 0 1 0 -3.7 0M321.0 160.4a1.85 1.85 0 1 0 3.7 0a1.85 1.85 0 1 0 -3.7 0M335.6 169.8a1.85 1.85 0 1 0 3.7 0a1.85 1.85 0 1 0 -3.7 0M317.8 147.0a1.85 1.85 0 1 0 3.7 0a1.85 1.85 0 1 0 -3.7 0M314.9 148.7a1.85 1.85 0 1 0 3.7 0a1.85 1.85 0 1 0 -3.7 0M328.2 135.4a1.85 1.85 0 1 0 3.7 0a1.85 1.85 0 1 0 -3.7 0M316.4 147.0a1.85 1.85 0 1 0 3.7 0a1.85 1.85 0 1 0 -3.7 0M328.6 138.8a1.85 1.85 0 1 0 3.7 0a1.85 1.85 0 1 0 -3.7 0M323.7 121.9a1.85 1.85 0 1 0 3.7 0a1.85 1.85 0 1 0 -3.7 0M321.3 147.1a1.85 1.85 0 1 0 3.7 0a1.85 1.85 0 1 0 -3.7 0M326.0 161.1a1.85 1.85 0 1 0 3.7 0a1.85 1.85 0 1 0 -3.7 0M318.9 124.1a1.85 1.85 0 1 0 3.7 0a1.85 1.85 0 1 0 -3.7 0M327.6 140.6a1.85 1.85 0 1 0 3.7 0a1.85 1.85 0 1 0 -3.7 0M326.7 153.0a1.85 1.85 0 1 0 3.7 0a1.85 1.85 0 1 0 -3.7 0M328.5 160.0a1.85 1.85 0 1 0 3.7 0a1.85 1.85 0 1 0 -3.7 0M332.6 130.8a1.85 1.85 0 1 0 3.7 0a1.85 1.85 0 1 0 -3.7 0M324.8 165.0a1.85 1.85 0 1 0 3.7 0a1.85 1.85 0 1 0 -3.7 0M322.9 155.0a1.85 1.85 0 1 0 3.7 0a1.85 1.85 0 1 0 -3.7 0M324.8 142.0a1.85 1.85 0 1 0 3.7 0a1.85 1.85 0 1 0 -3.7 0M333.9 156.6a1.85 1.85 0 1 0 3.7 0a1.85 1.85 0 1 0 -3.7 0M323.8 154.5a1.85 1.85 0 1 0 3.7 0a1.85 1.85 0 1 0 -3.7 0M317.9 138.5a1.85 1.85 0 1 0 3.7 0a1.85 1.85 0 1 0 -3.7 0M330.1 146.8a1.85 1.85 0 1 0 3.7 0a1.85 1.85 0 1 0 -3.7 0M319.3 149.8a1.85 1.85 0 1 0 3.7 0a1.85 1.85 0 1 0 -3.7 0M327.0 158.3a1.85 1.85 0 1 0 3.7 0a1.85 1.85 0 1 0 -3.7 0M330.4 143.8a1.85 1.85 0 1 0 3.7 0a1.85 1.85 0 1 0 -3.7 0M322.5 144.5a1.85 1.85 0 1 0 3.7 0a1.85 1.85 0 1 0 -3.7 0M323.9 159.8a1.85 1.85 0 1 0 3.7 0a1.85 1.85 0 1 0 -3.7 0M333.9 159.6a1.85 1.85 0 1 0 3.7 0a1.85 1.85 0 1 0 -3.7 0M327.2 143.9a1.85 1.85 0 1 0 3.7 0a1.85 1.85 0 1 0 -3.7 0M330.1 143.1a1.85 1.85 0 1 0 3.7 0a1.85 1.85 0 1 0 -3.7 0M326.4 130.3a1.85 1.85 0 1 0 3.7 0a1.85 1.85 0 1 0 -3.7 0M322.8 159.5a1.85 1.85 0 1 0 3.7 0a1.85 1.85 0 1 0 -3.7 0M320.7 138.6a1.85 1.85 0 1 0 3.7 0a1.85 1.85 0 1 0 -3.7 0M333.7 179.7a1.85 1.85 0 1 0 3.7 0a1.85 1.85 0 1 0 -3.7 0M357.9 153.3a1.85 1.85 0 1 0 3.7 0a1.85 1.85 0 1 0 -3.7 0M329.0 156.6a1.85 1.85 0 1 0 3.7 0a1.85 1.85 0 1 0 -3.7 0M322.2 158.5a1.85 1.85 0 1 0 3.7 0a1.85 1.85 0 1 0 -3.7 0M331.6 138.8a1.85 1.85 0 1 0 3.7 0a1.85 1.85 0 1 0 -3.7 0M327.5 154.7a1.85 1.85 0 1 0 3.7 0a1.85 1.85 0 1 0 -3.7 0M323.2 143.5a1.85 1.85 0 1 0 3.7 0a1.85 1.85 0 1 0 -3.7 0M349.7 182.6a1.85 1.85 0 1 0 3.7 0a1.85 1.85 0 1 0 -3.7 0M331.8 152.5a1.85 1.85 0 1 0 3.7 0a1.85 1.85 0 1 0 -3.7 0M343.7 155.0a1.85 1.85 0 1 0 3.7 0a1.85 1.85 0 1 0 -3.7 0M324.4 176.1a1.85 1.85 0 1 0 3.7 0a1.85 1.85 0 1 0 -3.7 0M320.5 148.5a1.85 1.85 0 1 0 3.7 0a1.85 1.85 0 1 0 -3.7 0M326.2 146.5a1.85 1.85 0 1 0 3.7 0a1.85 1.85 0 1 0 -3.7 0M332.6 165.5a1.85 1.85 0 1 0 3.7 0a1.85 1.85 0 1 0 -3.7 0M357.8 166.6a1.85 1.85 0 1 0 3.7 0a1.85 1.85 0 1 0 -3.7 0M336.7 141.7a1.85 1.85 0 1 0 3.7 0a1.85 1.85 0 1 0 -3.7 0M335.2 145.8a1.85 1.85 0 1 0 3.7 0a1.85 1.85 0 1 0 -3.7 0M334.7 170.7a1.85 1.85 0 1 0 3.7 0a1.85 1.85 0 1 0 -3.7 0M339.2 155.3a1.85 1.85 0 1 0 3.7 0a1.85 1.85 0 1 0 -3.7 0M324.9 157.7a1.85 1.85 0 1 0 3.7 0a1.85 1.85 0 1 0 -3.7 0M337.8 145.9a1.85 1.85 0 1 0 3.7 0a1.85 1.85 0 1 0 -3.7 0M328.6 169.5a1.85 1.85 0 1 0 3.7 0a1.85 1.85 0 1 0 -3.7 0M311.2 152.2a1.85 1.85 0 1 0 3.7 0a1.85 1.85 0 1 0 -3.7 0M318.6 178.1a1.85 1.85 0 1 0 3.7 0a1.85 1.85 0 1 0 -3.7 0M345.2 164.7a1.85 1.85 0 1 0 3.7 0a1.85 1.85 0 1 0 -3.7 0M342.1 161.7a1.85 1.85 0 1 0 3.7 0a1.85 1.85 0 1 0 -3.7 0M340.5 137.4a1.85 1.85 0 1 0 3.7 0a1.85 1.85 0 1 0 -3.7 0M340.0 165.7a1.85 1.85 0 1 0 3.7 0a1.85 1.85 0 1 0 -3.7 0M314.7 168.7a1.85 1.85 0 1 0 3.7 0a1.85 1.85 0 1 0 -3.7 0M346.2 138.2a1.85 1.85 0 1 0 3.7 0a1.85 1.85 0 1 0 -3.7 0M329.1 154.0a1.85 1.85 0 1 0 3.7 0a1.85 1.85 0 1 0 -3.7 0M328.2 163.1a1.85 1.85 0 1 0 3.7 0a1.85 1.85 0 1 0 -3.7 0M317.0 155.1a1.85 1.85 0 1 0 3.7 0a1.85 1.85 0 1 0 -3.7 0M339.5 167.4a1.85 1.85 0 1 0 3.7 0a1.85 1.85 0 1 0 -3.7 0M336.9 154.9a1.85 1.85 0 1 0 3.7 0a1.85 1.85 0 1 0 -3.7 0M346.5 132.1a1.85 1.85 0 1 0 3.7 0a1.85 1.85 0 1 0 -3.7 0M350.2 154.0a1.85 1.85 0 1 0 3.7 0a1.85 1.85 0 1 0 -3.7 0M317.4 152.4a1.85 1.85 0 1 0 3.7 0a1.85 1.85 0 1 0 -3.7 0M308.6 131.4a1.85 1.85 0 1 0 3.7 0a1.85 1.85 0 1 0 -3.7 0M343.6 91.6a1.85 1.85 0 1 0 3.7 0a1.85 1.85 0 1 0 -3.7 0M343.6 101.9a1.85 1.85 0 1 0 3.7 0a1.85 1.85 0 1 0 -3.7 0M275.8 112.2a1.85 1.85 0 1 0 3.7 0a1.85 1.85 0 1 0 -3.7 0M354.2 71.1a1.85 1.85 0 1 0 3.7 0a1.85 1.85 0 1 0 -3.7 0M373.3 100.6a1.85 1.85 0 1 0 3.7 0a1.85 1.85 0 1 0 -3.7 0M371.4 101.9a1.85 1.85 0 1 0 3.7 0a1.85 1.85 0 1 0 -3.7 0M379.6 120.0a1.85 1.85 0 1 0 3.7 0a1.85 1.85 0 1 0 -3.7 0M348.3 119.7a1.85 1.85 0 1 0 3.7 0a1.85 1.85 0 1 0 -3.7 0M358.4 123.6a1.85 1.85 0 1 0 3.7 0a1.85 1.85 0 1 0 -3.7 0M422.5 161.1a1.85 1.85 0 1 0 3.7 0a1.85 1.85 0 1 0 -3.7 0M467.1 162.0a1.85 1.85 0 1 0 3.7 0a1.85 1.85 0 1 0 -3.7 0M466.5 167.9a1.85 1.85 0 1 0 3.7 0a1.85 1.85 0 1 0 -3.7 0M408.8 164.3a1.85 1.85 0 1 0 3.7 0a1.85 1.85 0 1 0 -3.7 0M385.5 156.3a1.85 1.85 0 1 0 3.7 0a1.85 1.85 0 1 0 -3.7 0M363.2 194.6a1.85 1.85 0 1 0 3.7 0a1.85 1.85 0 1 0 -3.7 0M230.2 154.4a1.85 1.85 0 1 0 3.7 0a1.85 1.85 0 1 0 -3.7 0M289.3 118.1a1.85 1.85 0 1 0 3.7 0a1.85 1.85 0 1 0 -3.7 0M288.4 147.1a1.85 1.85 0 1 0 3.7 0a1.85 1.85 0 1 0 -3.7 0M285.3 169.4a1.85 1.85 0 1 0 3.7 0a1.85 1.85 0 1 0 -3.7 0M302.3 170.6a1.85 1.85 0 1 0 3.7 0a1.85 1.85 0 1 0 -3.7 0M306.5 189.7a1.85 1.85 0 1 0 3.7 0a1.85 1.85 0 1 0 -3.7 0M312.3 196.0a1.85 1.85 0 1 0 3.7 0a1.85 1.85 0 1 0 -3.7 0M306.5 203.2a1.85 1.85 0 1 0 3.7 0a1.85 1.85 0 1 0 -3.7 0M325.1 203.8a1.85 1.85 0 1 0 3.7 0a1.85 1.85 0 1 0 -3.7 0M308.6 148.0a1.85 1.85 0 1 0 3.7 0a1.85 1.85 0 1 0 -3.7 0M349.1 60.5a1.85 1.85 0 1 0 3.7 0a1.85 1.85 0 1 0 -3.7 0"/>
</g>
<rect x="226.30" y="15.30" width="246.20" height="198.00" fill="none" stroke="#333" stroke-width="1"/>
<line x1="244.30" y1="114.40" x2="244.30" y2="117.00" stroke="#222" stroke-width="1"/>
<text x="244.10" y="127.70" font-size="8.7" text-anchor="middle" fill="#222">−0.5</text>
<line x1="427.60" y1="114.40" x2="427.60" y2="117.00" stroke="#222" stroke-width="1"/>
<text x="427.60" y="127.70" font-size="8.7" text-anchor="middle" fill="#222">0.5</text>
<line x1="346.40" y1="35.00" x2="349.40" y2="35.00" stroke="#222" stroke-width="1"/>
<line x1="346.40" y1="56.50" x2="349.40" y2="56.50" stroke="#222" stroke-width="1"/>
<line x1="346.40" y1="203.00" x2="349.40" y2="203.00" stroke="#222" stroke-width="1"/>
<text x="343.20" y="58.90" font-size="8.7" text-anchor="end" fill="#222">0.4</text>
<text x="348.00" y="10.00" font-size="10.7" text-anchor="middle" fill="#111">NMDS2</text>
<text transform="translate(219.6,109.9) rotate(-90)" text-anchor="middle" font-size="10" fill="#111">NMDS1</text>
<text x="282.80" y="23.60" font-size="6.6" text-anchor="middle" fill="#111" font-weight="bold">PERMANOVA</text>
<text x="258.60" y="32.20" font-size="6.3" text-anchor="middle" fill="#111" font-weight="bold">Country</text>
<text x="290.7" y="32.2" font-size="6.3" text-anchor="middle" font-weight="bold" fill="#111">R<tspan font-size="4.2" dy="-2.2">2</tspan></text>
<text x="314.7" y="32.2" font-size="6.3" text-anchor="middle" font-weight="bold" fill="#111"><tspan font-style="italic">P</tspan>-value</text>
<line x1="238.00" y1="33.30" x2="327.50" y2="33.30" stroke="#222" stroke-width="0.8"/>
<text x="258.60" y="41.10" font-size="6.3" text-anchor="middle" fill="#111" font-weight="bold">Côte d’Ivoire</text>
<text x="290.70" y="41.10" font-size="6.3" text-anchor="middle" fill="#111" font-weight="bold">0.0076</text>
<text x="314.70" y="41.10" font-size="6.3" text-anchor="middle" fill="#111" font-weight="bold">0.091</text>
<text x="258.60" y="49.70" font-size="6.3" text-anchor="middle" fill="#111" font-weight="bold">Laos</text>
<text x="290.70" y="49.70" font-size="6.3" text-anchor="middle" fill="#111" font-weight="bold">0.0217</text>
<text x="314.70" y="49.70" font-size="6.3" text-anchor="middle" fill="#111" font-weight="bold">0.001</text>
<text x="258.60" y="58.30" font-size="6.3" text-anchor="middle" fill="#111" font-weight="bold">Tanzania</text>
<text x="290.70" y="58.30" font-size="6.3" text-anchor="middle" fill="#111" font-weight="bold">0.0098</text>
<text x="314.70" y="58.30" font-size="6.3" text-anchor="middle" fill="#111" font-weight="bold">0.014</text>
<text x="410.60" y="23.60" font-size="6.6" text-anchor="middle" fill="#111" font-weight="bold">PERMDISP</text>
<text x="371.90" y="32.20" font-size="6.3" text-anchor="middle" fill="#111" font-weight="bold">Country</text>
<text x="402.90" y="32.20" font-size="6.3" text-anchor="middle" fill="#111" font-weight="bold">F-stat</text>
<text x="427.0" y="32.2" font-size="6.3" text-anchor="middle" font-weight="bold" fill="#111"><tspan font-style="italic">P</tspan>-value</text>
<text x="454.40" y="32.20" font-size="6.3" text-anchor="middle" fill="#111" font-weight="bold">Eta-sq</text>
<line x1="352.00" y1="33.40" x2="469.00" y2="33.40" stroke="#222" stroke-width="0.8"/>
<text x="371.90" y="40.50" font-size="6.3" text-anchor="middle" fill="#111" font-weight="bold">Côte d’Ivoire</text>
<text x="402.90" y="40.50" font-size="6.3" text-anchor="middle" fill="#111" font-weight="bold">3.89</text>
<text x="427.00" y="40.50" font-size="6.3" text-anchor="middle" fill="#111" font-weight="bold">0.035</text>
<text x="454.40" y="40.50" font-size="6.3" text-anchor="middle" fill="#111" font-weight="bold">0.014969</text>
<text x="371.90" y="49.60" font-size="6.3" text-anchor="middle" fill="#111" font-weight="bold">Laos</text>
<text x="402.90" y="49.60" font-size="6.3" text-anchor="middle" fill="#333">0.005</text>
<text x="427.00" y="49.60" font-size="6.3" text-anchor="middle" fill="#333">0.956</text>
<text x="454.40" y="49.60" font-size="6.3" text-anchor="middle" fill="#333">0.000017</text>
<text x="371.90" y="58.20" font-size="6.3" text-anchor="middle" fill="#111" font-weight="bold">Tanzania</text>
<text x="402.90" y="58.20" font-size="6.3" text-anchor="middle" fill="#333">0.108</text>
<text x="427.00" y="58.20" font-size="6.3" text-anchor="middle" fill="#333">0.744</text>
<text x="454.40" y="58.20" font-size="6.3" text-anchor="middle" fill="#333">0.000440</text>
<circle cx="230.7" cy="219.1" r="2.9" fill="#7f86f0"/>
<text x="240.10" y="221.30" font-size="6.3" text-anchor="start" fill="#222">Côte d’Ivoire (Infected)</text>
<circle cx="312.9" cy="219.1" r="2.9" fill="#f39a48"/>
<text x="322.30" y="221.30" font-size="6.3" text-anchor="start" fill="#222">Côte d’Ivoire (Uninfected)</text>
<circle cx="401.7" cy="219.1" r="2.9" fill="#1f931f"/>
<text x="411.10" y="221.30" font-size="6.3" text-anchor="start" fill="#222">Laos (Infected)</text>
<circle cx="230.7" cy="227.5" r="2.9" fill="#246e6e"/>
<text x="240.10" y="229.70" font-size="6.3" text-anchor="start" fill="#222">Laos (Uninfected)</text>
<circle cx="312.9" cy="227.5" r="2.9" fill="#d01414"/>
<text x="322.30" y="229.70" font-size="6.3" text-anchor="start" fill="#222">Tanzania (Infected)</text>
<circle cx="401.7" cy="227.5" r="2.9" fill="#f6a9a9"/>
<text x="411.10" y="229.70" font-size="6.3" text-anchor="start" fill="#222">Tanzania (Uninfected)</text>
<line x1="559.80" y1="10.30" x2="559.80" y2="159.10" stroke="#a8a8a8" stroke-width="0.8"/>
<line x1="639.40" y1="10.30" x2="639.40" y2="159.10" stroke="#a8a8a8" stroke-width="0.8"/>
<line x1="520.00" y1="10.30" x2="520.00" y2="159.60" stroke="#222" stroke-width="1.1"/>
<line x1="519.50" y1="159.10" x2="679.70" y2="159.10" stroke="#222" stroke-width="1.1"/>
<line x1="516.40" y1="159.10" x2="520.00" y2="159.10" stroke="#222" stroke-width="0.9"/>
<text x="512.20" y="161.80" font-size="7.5" text-anchor="end" fill="#222">0</text>
<line x1="516.40" y1="109.50" x2="520.00" y2="109.50" stroke="#222" stroke-width="0.9"/>
<text x="512.20" y="112.20" font-size="7.5" text-anchor="end" fill="#222">1</text>
<line x1="516.40" y1="59.90" x2="520.00" y2="59.90" stroke="#222" stroke-width="0.9"/>
<text x="512.20" y="62.60" font-size="7.5" text-anchor="end" fill="#222">2</text>
<line x1="516.40" y1="10.30" x2="520.00" y2="10.30" stroke="#222" stroke-width="0.9"/>
<text x="512.20" y="13.00" font-size="7.5" text-anchor="end" fill="#222">3</text>
<line x1="520.00" y1="159.10" x2="520.00" y2="162.70" stroke="#222" stroke-width="0.9"/>
<text x="520.10" y="174.70" font-size="9.8" text-anchor="middle" fill="#222">−2</text>
<line x1="559.80" y1="159.10" x2="559.80" y2="162.70" stroke="#222" stroke-width="0.9"/>
<text x="559.90" y="174.70" font-size="9.8" text-anchor="middle" fill="#222">−1</text>
<line x1="599.60" y1="159.10" x2="599.60" y2="162.70" stroke="#222" stroke-width="0.9"/>
<text x="600.00" y="174.70" font-size="9.8" text-anchor="middle" fill="#222">0</text>
<line x1="639.40" y1="159.10" x2="639.40" y2="162.70" stroke="#222" stroke-width="0.9"/>
<text x="639.80" y="174.70" font-size="9.8" text-anchor="middle" fill="#222">1</text>
<line x1="679.20" y1="159.10" x2="679.20" y2="162.70" stroke="#222" stroke-width="0.9"/>
<text x="679.60" y="174.70" font-size="9.8" text-anchor="middle" fill="#222">2</text>
<text x="599.50" y="20.90" font-size="11.0" text-anchor="middle" fill="#111">Côte d’Ivoire</text>
<text transform="translate(500.6,84.7) rotate(-90)" text-anchor="middle" fill="#111" font-size="14">-log10<tspan font-size="9.6" dy="2.6">(adjusted <tspan font-style="italic">P</tspan>-value)</tspan></text>
<line x1="573.07" y1="178.80" x2="573.07" y2="326.80" stroke="#a8a8a8" stroke-width="0.8"/>
<line x1="626.13" y1="178.80" x2="626.13" y2="326.80" stroke="#a8a8a8" stroke-width="0.8"/>
<line x1="520.00" y1="178.80" x2="520.00" y2="327.30" stroke="#222" stroke-width="1.1"/>
<line x1="519.50" y1="326.80" x2="679.70" y2="326.80" stroke="#222" stroke-width="1.1"/>
<line x1="516.40" y1="326.80" x2="520.00" y2="326.80" stroke="#222" stroke-width="0.9"/>
<text x="512.20" y="329.50" font-size="7.5" text-anchor="end" fill="#222">0</text>
<line x1="516.40" y1="313.35" x2="520.00" y2="313.35" stroke="#222" stroke-width="0.9"/>
<text x="512.20" y="316.05" font-size="7.5" text-anchor="end" fill="#222">1</text>
<line x1="516.40" y1="299.89" x2="520.00" y2="299.89" stroke="#222" stroke-width="0.9"/>
<text x="512.20" y="302.59" font-size="7.5" text-anchor="end" fill="#222">2</text>
<line x1="516.40" y1="286.44" x2="520.00" y2="286.44" stroke="#222" stroke-width="0.9"/>
<text x="512.20" y="289.14" font-size="7.5" text-anchor="end" fill="#222">3</text>
<line x1="516.40" y1="272.98" x2="520.00" y2="272.98" stroke="#222" stroke-width="0.9"/>
<text x="512.20" y="275.68" font-size="7.5" text-anchor="end" fill="#222">4</text>
<line x1="516.40" y1="259.53" x2="520.00" y2="259.53" stroke="#222" stroke-width="0.9"/>
<text x="512.20" y="262.23" font-size="7.5" text-anchor="end" fill="#222">5</text>
<line x1="516.40" y1="246.07" x2="520.00" y2="246.07" stroke="#222" stroke-width="0.9"/>
<text x="512.20" y="248.77" font-size="7.5" text-anchor="end" fill="#222">6</text>
<line x1="516.40" y1="232.62" x2="520.00" y2="232.62" stroke="#222" stroke-width="0.9"/>
<text x="512.20" y="235.32" font-size="7.5" text-anchor="end" fill="#222">7</text>
<line x1="516.40" y1="219.16" x2="520.00" y2="219.16" stroke="#222" stroke-width="0.9"/>
<text x="512.20" y="221.86" font-size="7.5" text-anchor="end" fill="#222">8</text>
<line x1="516.40" y1="205.71" x2="520.00" y2="205.71" stroke="#222" stroke-width="0.9"/>
<text x="512.20" y="208.41" font-size="7.5" text-anchor="end" fill="#222">9</text>
<line x1="516.40" y1="192.25" x2="520.00" y2="192.25" stroke="#222" stroke-width="0.9"/>
<text x="512.20" y="194.95" font-size="7.5" text-anchor="end" fill="#222">10</text>
<line x1="516.40" y1="178.80" x2="520.00" y2="178.80" stroke="#222" stroke-width="0.9"/>
<text x="512.20" y="181.50" font-size="7.5" text-anchor="end" fill="#222">11</text>
<line x1="520.00" y1="326.80" x2="520.00" y2="330.40" stroke="#222" stroke-width="0.9"/>
<text x="520.10" y="342.40" font-size="9.8" text-anchor="middle" fill="#222">−3</text>
<line x1="546.53" y1="326.80" x2="546.53" y2="330.40" stroke="#222" stroke-width="0.9"/>
<text x="546.63" y="342.40" font-size="9.8" text-anchor="middle" fill="#222">−2</text>
<line x1="573.07" y1="326.80" x2="573.07" y2="330.40" stroke="#222" stroke-width="0.9"/>
<text x="573.17" y="342.40" font-size="9.8" text-anchor="middle" fill="#222">−1</text>
<line x1="599.60" y1="326.80" x2="599.60" y2="330.40" stroke="#222" stroke-width="0.9"/>
<text x="600.00" y="342.40" font-size="9.8" text-anchor="middle" fill="#222">0</text>
<line x1="626.13" y1="326.80" x2="626.13" y2="330.40" stroke="#222" stroke-width="0.9"/>
<text x="626.53" y="342.40" font-size="9.8" text-anchor="middle" fill="#222">1</text>
<line x1="652.67" y1="326.80" x2="652.67" y2="330.40" stroke="#222" stroke-width="0.9"/>
<text x="653.07" y="342.40" font-size="9.8" text-anchor="middle" fill="#222">2</text>
<line x1="679.20" y1="326.80" x2="679.20" y2="330.40" stroke="#222" stroke-width="0.9"/>
<text x="679.60" y="342.40" font-size="9.8" text-anchor="middle" fill="#222">3</text>
<text x="599.50" y="190.40" font-size="11.0" text-anchor="middle" fill="#111">Laos</text>
<text transform="translate(496.4,252.8) rotate(-90)" text-anchor="middle" fill="#111" font-size="14">-log10<tspan font-size="9.6" dy="2.6">(adjusted <tspan font-style="italic">P</tspan>-value)</tspan></text>
<line x1="559.80" y1="346.40" x2="559.80" y2="494.70" stroke="#a8a8a8" stroke-width="0.8"/>
<line x1="639.40" y1="346.40" x2="639.40" y2="494.70" stroke="#a8a8a8" stroke-width="0.8"/>
<line x1="520.00" y1="346.40" x2="520.00" y2="495.20" stroke="#222" stroke-width="1.1"/>
<line x1="519.50" y1="494.70" x2="679.70" y2="494.70" stroke="#222" stroke-width="1.1"/>
<line x1="516.40" y1="494.70" x2="520.00" y2="494.70" stroke="#222" stroke-width="0.9"/>
<text x="512.20" y="497.40" font-size="7.5" text-anchor="end" fill="#222">0</text>
<line x1="516.40" y1="445.27" x2="520.00" y2="445.27" stroke="#222" stroke-width="0.9"/>
<text x="512.20" y="447.97" font-size="7.5" text-anchor="end" fill="#222">1</text>
<line x1="516.40" y1="395.83" x2="520.00" y2="395.83" stroke="#222" stroke-width="0.9"/>
<text x="512.20" y="398.53" font-size="7.5" text-anchor="end" fill="#222">2</text>
<line x1="516.40" y1="346.40" x2="520.00" y2="346.40" stroke="#222" stroke-width="0.9"/>
<text x="512.20" y="349.10" font-size="7.5" text-anchor="end" fill="#222">3</text>
<line x1="520.00" y1="494.70" x2="520.00" y2="498.30" stroke="#222" stroke-width="0.9"/>
<text x="520.10" y="510.30" font-size="9.8" text-anchor="middle" fill="#222">−2</text>
<line x1="559.80" y1="494.70" x2="559.80" y2="498.30" stroke="#222" stroke-width="0.9"/>
<text x="559.90" y="510.30" font-size="9.8" text-anchor="middle" fill="#222">−1</text>
<line x1="599.60" y1="494.70" x2="599.60" y2="498.30" stroke="#222" stroke-width="0.9"/>
<text x="600.00" y="510.30" font-size="9.8" text-anchor="middle" fill="#222">0</text>
<line x1="639.40" y1="494.70" x2="639.40" y2="498.30" stroke="#222" stroke-width="0.9"/>
<text x="639.80" y="510.30" font-size="9.8" text-anchor="middle" fill="#222">1</text>
<line x1="679.20" y1="494.70" x2="679.20" y2="498.30" stroke="#222" stroke-width="0.9"/>
<text x="679.60" y="510.30" font-size="9.8" text-anchor="middle" fill="#222">2</text>
<text x="599.50" y="365.80" font-size="11.0" text-anchor="middle" fill="#111">Tanzania</text>
<text transform="translate(500.6,420.5) rotate(-90)" text-anchor="middle" fill="#111" font-size="14">-log10<tspan font-size="9.6" dy="2.6">(adjusted <tspan font-style="italic">P</tspan>-value)</tspan></text>
<text x="600.60" y="524.20" font-size="10.1" text-anchor="middle" fill="#222">Log2FC</text>
<text x="524.4" y="540.9" font-size="11.4" fill="#111">Adjusted <tspan font-style="italic">P</tspan>-value</text>
<circle cx="527.9" cy="550.2" r="2.1" fill="none" stroke="#4a4a4a" stroke-width="1"/>
<text x="543.40" y="554.00" font-size="10.8" text-anchor="start" fill="#111">&lt;0.05</text>
<circle cx="585.7" cy="550.2" r="2.1" fill="none" stroke="#ee3535" stroke-width="1"/>
<text x="601.80" y="554.00" font-size="10.8" text-anchor="start" fill="#111">&lt;0.1</text>
<circle cx="636.8" cy="550.2" r="2.1" fill="none" stroke="#1f6fd8" stroke-width="1"/>
<text x="652.90" y="554.00" font-size="10.8" text-anchor="start" fill="#111">&gt;0.1</text>
<path fill="none" stroke="#1f6fd8" stroke-width="0.95" d="M626.2 140.0a2.2 2.2 0 1 0 4.4 0a2.2 2.2 0 1 0 -4.4 0M583.5 132.9a2.2 2.2 0 1 0 4.4 0a2.2 2.2 0 1 0 -4.4 0M606.1 130.6a2.2 2.2 0 1 0 4.4 0a2.2 2.2 0 1 0 -4.4 0M606.4 120.6a2.2 2.2 0 1 0 4.4 0a2.2 2.2 0 1 0 -4.4 0M623.9 110.6a2.2 2.2 0 1 0 4.4 0a2.2 2.2 0 1 0 -4.4 0M601.8 158.8a2.2 2.2 0 1 0 4.4 0a2.2 2.2 0 1 0 -4.4 0M599.6 152.3a2.2 2.2 0 1 0 4.4 0a2.2 2.2 0 1 0 -4.4 0M624.3 118.7a2.2 2.2 0 1 0 4.4 0a2.2 2.2 0 1 0 -4.4 0M614.5 137.5a2.2 2.2 0 1 0 4.4 0a2.2 2.2 0 1 0 -4.4 0M630.2 109.8a2.2 2.2 0 1 0 4.4 0a2.2 2.2 0 1 0 -4.4 0M595.9 146.7a2.2 2.2 0 1 0 4.4 0a2.2 2.2 0 1 0 -4.4 0M612.7 142.6a2.2 2.2 0 1 0 4.4 0a2.2 2.2 0 1 0 -4.4 0M605.3 112.0a2.2 2.2 0 1 0 4.4 0a2.2 2.2 0 1 0 -4.4 0M615.5 139.1a2.2 2.2 0 1 0 4.4 0a2.2 2.2 0 1 0 -4.4 0M613.7 157.0a2.2 2.2 0 1 0 4.4 0a2.2 2.2 0 1 0 -4.4 0M620.8 145.9a2.2 2.2 0 1 0 4.4 0a2.2 2.2 0 1 0 -4.4 0M601.7 155.3a2.2 2.2 0 1 0 4.4 0a2.2 2.2 0 1 0 -4.4 0M611.2 152.9a2.2 2.2 0 1 0 4.4 0a2.2 2.2 0 1 0 -4.4 0M603.8 152.3a2.2 2.2 0 1 0 4.4 0a2.2 2.2 0 1 0 -4.4 0M593.1 141.5a2.2 2.2 0 1 0 4.4 0a2.2 2.2 0 1 0 -4.4 0M614.5 111.2a2.2 2.2 0 1 0 4.4 0a2.2 2.2 0 1 0 -4.4 0M618.0 142.9a2.2 2.2 0 1 0 4.4 0a2.2 2.2 0 1 0 -4.4 0M605.0 156.0a2.2 2.2 0 1 0 4.4 0a2.2 2.2 0 1 0 -4.4 0M601.6 146.0a2.2 2.2 0 1 0 4.4 0a2.2 2.2 0 1 0 -4.4 0M604.6 156.3a2.2 2.2 0 1 0 4.4 0a2.2 2.2 0 1 0 -4.4 0M614.5 139.9a2.2 2.2 0 1 0 4.4 0a2.2 2.2 0 1 0 -4.4 0M609.7 133.6a2.2 2.2 0 1 0 4.4 0a2.2 2.2 0 1 0 -4.4 0M594.4 120.1a2.2 2.2 0 1 0 4.4 0a2.2 2.2 0 1 0 -4.4 0M612.9 124.6a2.2 2.2 0 1 0 4.4 0a2.2 2.2 0 1 0 -4.4 0M595.7 132.0a2.2 2.2 0 1 0 4.4 0a2.2 2.2 0 1 0 -4.4 0M604.6 158.1a2.2 2.2 0 1 0 4.4 0a2.2 2.2 0 1 0 -4.4 0M612.7 119.8a2.2 2.2 0 1 0 4.4 0a2.2 2.2 0 1 0 -4.4 0M603.0 153.0a2.2 2.2 0 1 0 4.4 0a2.2 2.2 0 1 0 -4.4 0M614.7 118.2a2.2 2.2 0 1 0 4.4 0a2.2 2.2 0 1 0 -4.4 0M597.6 114.4a2.2 2.2 0 1 0 4.4 0a2.2 2.2 0 1 0 -4.4 0M597.2 157.4a2.2 2.2 0 1 0 4.4 0a2.2 2.2 0 1 0 -4.4 0M591.0 133.7a2.2 2.2 0 1 0 4.4 0a2.2 2.2 0 1 0 -4.4 0M619.8 129.1a2.2 2.2 0 1 0 4.4 0a2.2 2.2 0 1 0 -4.4 0M602.7 154.4a2.2 2.2 0 1 0 4.4 0a2.2 2.2 0 1 0 -4.4 0M611.3 138.4a2.2 2.2 0 1 0 4.4 0a2.2 2.2 0 1 0 -4.4 0M629.2 135.1a2.2 2.2 0 1 0 4.4 0a2.2 2.2 0 1 0 -4.4 0M629.6 124.7a2.2 2.2 0 1 0 4.4 0a2.2 2.2 0 1 0 -4.4 0M630.4 127.6a2.2 2.2 0 1 0 4.4 0a2.2 2.2 0 1 0 -4.4 0M623.5 141.7a2.2 2.2 0 1 0 4.4 0a2.2 2.2 0 1 0 -4.4 0M616.8 143.5a2.2 2.2 0 1 0 4.4 0a2.2 2.2 0 1 0 -4.4 0M618.8 156.7a2.2 2.2 0 1 0 4.4 0a2.2 2.2 0 1 0 -4.4 0M615.5 143.2a2.2 2.2 0 1 0 4.4 0a2.2 2.2 0 1 0 -4.4 0M603.8 140.6a2.2 2.2 0 1 0 4.4 0a2.2 2.2 0 1 0 -4.4 0M592.0 132.2a2.2 2.2 0 1 0 4.4 0a2.2 2.2 0 1 0 -4.4 0M579.7 126.9a2.2 2.2 0 1 0 4.4 0a2.2 2.2 0 1 0 -4.4 0M593.1 158.9a2.2 2.2 0 1 0 4.4 0a2.2 2.2 0 1 0 -4.4 0M581.3 151.8a2.2 2.2 0 1 0 4.4 0a2.2 2.2 0 1 0 -4.4 0M576.0 115.9a2.2 2.2 0 1 0 4.4 0a2.2 2.2 0 1 0 -4.4 0M586.4 152.0a2.2 2.2 0 1 0 4.4 0a2.2 2.2 0 1 0 -4.4 0M608.6 143.4a2.2 2.2 0 1 0 4.4 0a2.2 2.2 0 1 0 -4.4 0M586.9 154.6a2.2 2.2 0 1 0 4.4 0a2.2 2.2 0 1 0 -4.4 0M591.4 112.5a2.2 2.2 0 1 0 4.4 0a2.2 2.2 0 1 0 -4.4 0M593.6 140.0a2.2 2.2 0 1 0 4.4 0a2.2 2.2 0 1 0 -4.4 0M575.8 137.8a2.2 2.2 0 1 0 4.4 0a2.2 2.2 0 1 0 -4.4 0M598.3 110.6a2.2 2.2 0 1 0 4.4 0a2.2 2.2 0 1 0 -4.4 0M610.1 158.0a2.2 2.2 0 1 0 4.4 0a2.2 2.2 0 1 0 -4.4 0M602.8 147.0a2.2 2.2 0 1 0 4.4 0a2.2 2.2 0 1 0 -4.4 0M605.6 158.5a2.2 2.2 0 1 0 4.4 0a2.2 2.2 0 1 0 -4.4 0M588.0 154.4a2.2 2.2 0 1 0 4.4 0a2.2 2.2 0 1 0 -4.4 0M634.2 129.2a2.2 2.2 0 1 0 4.4 0a2.2 2.2 0 1 0 -4.4 0M583.6 127.6a2.2 2.2 0 1 0 4.4 0a2.2 2.2 0 1 0 -4.4 0M606.8 138.9a2.2 2.2 0 1 0 4.4 0a2.2 2.2 0 1 0 -4.4 0M583.0 148.7a2.2 2.2 0 1 0 4.4 0a2.2 2.2 0 1 0 -4.4 0M572.9 123.6a2.2 2.2 0 1 0 4.4 0a2.2 2.2 0 1 0 -4.4 0M568.5 115.0a2.2 2.2 0 1 0 4.4 0a2.2 2.2 0 1 0 -4.4 0M626.6 139.9a2.2 2.2 0 1 0 4.4 0a2.2 2.2 0 1 0 -4.4 0M625.3 143.7a2.2 2.2 0 1 0 4.4 0a2.2 2.2 0 1 0 -4.4 0M604.6 139.4a2.2 2.2 0 1 0 4.4 0a2.2 2.2 0 1 0 -4.4 0M623.8 125.6a2.2 2.2 0 1 0 4.4 0a2.2 2.2 0 1 0 -4.4 0M633.4 115.4a2.2 2.2 0 1 0 4.4 0a2.2 2.2 0 1 0 -4.4 0M613.8 135.6a2.2 2.2 0 1 0 4.4 0a2.2 2.2 0 1 0 -4.4 0M588.4 145.1a2.2 2.2 0 1 0 4.4 0a2.2 2.2 0 1 0 -4.4 0M619.1 134.9a2.2 2.2 0 1 0 4.4 0a2.2 2.2 0 1 0 -4.4 0M604.5 157.3a2.2 2.2 0 1 0 4.4 0a2.2 2.2 0 1 0 -4.4 0M605.8 145.7a2.2 2.2 0 1 0 4.4 0a2.2 2.2 0 1 0 -4.4 0M626.6 125.5a2.2 2.2 0 1 0 4.4 0a2.2 2.2 0 1 0 -4.4 0M568.8 112.7a2.2 2.2 0 1 0 4.4 0a2.2 2.2 0 1 0 -4.4 0M578.0 136.1a2.2 2.2 0 1 0 4.4 0a2.2 2.2 0 1 0 -4.4 0M628.7 130.1a2.2 2.2 0 1 0 4.4 0a2.2 2.2 0 1 0 -4.4 0M624.8 143.5a2.2 2.2 0 1 0 4.4 0a2.2 2.2 0 1 0 -4.4 0M620.2 151.6a2.2 2.2 0 1 0 4.4 0a2.2 2.2 0 1 0 -4.4 0M611.7 151.9a2.2 2.2 0 1 0 4.4 0a2.2 2.2 0 1 0 -4.4 0M566.3 131.9a2.2 2.2 0 1 0 4.4 0a2.2 2.2 0 1 0 -4.4 0M619.4 121.1a2.2 2.2 0 1 0 4.4 0a2.2 2.2 0 1 0 -4.4 0M578.9 127.3a2.2 2.2 0 1 0 4.4 0a2.2 2.2 0 1 0 -4.4 0M584.8 114.0a2.2 2.2 0 1 0 4.4 0a2.2 2.2 0 1 0 -4.4 0M587.6 154.9a2.2 2.2 0 1 0 4.4 0a2.2 2.2 0 1 0 -4.4 0M584.7 146.6a2.2 2.2 0 1 0 4.4 0a2.2 2.2 0 1 0 -4.4 0M608.5 150.7a2.2 2.2 0 1 0 4.4 0a2.2 2.2 0 1 0 -4.4 0M604.1 144.8a2.2 2.2 0 1 0 4.4 0a2.2 2.2 0 1 0 -4.4 0M594.1 137.0a2.2 2.2 0 1 0 4.4 0a2.2 2.2 0 1 0 -4.4 0M587.5 135.9a2.2 2.2 0 1 0 4.4 0a2.2 2.2 0 1 0 -4.4 0M589.8 153.6a2.2 2.2 0 1 0 4.4 0a2.2 2.2 0 1 0 -4.4 0M628.1 130.2a2.2 2.2 0 1 0 4.4 0a2.2 2.2 0 1 0 -4.4 0M617.6 150.5a2.2 2.2 0 1 0 4.4 0a2.2 2.2 0 1 0 -4.4 0M589.0 115.2a2.2 2.2 0 1 0 4.4 0a2.2 2.2 0 1 0 -4.4 0M608.3 109.6a2.2 2.2 0 1 0 4.4 0a2.2 2.2 0 1 0 -4.4 0M609.0 150.2a2.2 2.2 0 1 0 4.4 0a2.2 2.2 0 1 0 -4.4 0M606.2 141.5a2.2 2.2 0 1 0 4.4 0a2.2 2.2 0 1 0 -4.4 0M602.5 142.4a2.2 2.2 0 1 0 4.4 0a2.2 2.2 0 1 0 -4.4 0M609.9 114.7a2.2 2.2 0 1 0 4.4 0a2.2 2.2 0 1 0 -4.4 0M616.3 137.2a2.2 2.2 0 1 0 4.4 0a2.2 2.2 0 1 0 -4.4 0M600.2 157.0a2.2 2.2 0 1 0 4.4 0a2.2 2.2 0 1 0 -4.4 0M619.9 134.8a2.2 2.2 0 1 0 4.4 0a2.2 2.2 0 1 0 -4.4 0M622.7 151.7a2.2 2.2 0 1 0 4.4 0a2.2 2.2 0 1 0 -4.4 0M597.6 113.8a2.2 2.2 0 1 0 4.4 0a2.2 2.2 0 1 0 -4.4 0M583.0 123.2a2.2 2.2 0 1 0 4.4 0a2.2 2.2 0 1 0 -4.4 0M583.7 136.7a2.2 2.2 0 1 0 4.4 0a2.2 2.2 0 1 0 -4.4 0M584.0 118.6a2.2 2.2 0 1 0 4.4 0a2.2 2.2 0 1 0 -4.4 0M592.8 124.6a2.2 2.2 0 1 0 4.4 0a2.2 2.2 0 1 0 -4.4 0M612.9 158.8a2.2 2.2 0 1 0 4.4 0a2.2 2.2 0 1 0 -4.4 0M622.2 126.5a2.2 2.2 0 1 0 4.4 0a2.2 2.2 0 1 0 -4.4 0M626.3 137.3a2.2 2.2 0 1 0 4.4 0a2.2 2.2 0 1 0 -4.4 0M618.7 149.3a2.2 2.2 0 1 0 4.4 0a2.2 2.2 0 1 0 -4.4 0M623.0 142.3a2.2 2.2 0 1 0 4.4 0a2.2 2.2 0 1 0 -4.4 0M626.1 127.1a2.2 2.2 0 1 0 4.4 0a2.2 2.2 0 1 0 -4.4 0M595.2 157.0a2.2 2.2 0 1 0 4.4 0a2.2 2.2 0 1 0 -4.4 0M593.4 158.9a2.2 2.2 0 1 0 4.4 0a2.2 2.2 0 1 0 -4.4 0M614.3 112.8a2.2 2.2 0 1 0 4.4 0a2.2 2.2 0 1 0 -4.4 0M616.4 129.0a2.2 2.2 0 1 0 4.4 0a2.2 2.2 0 1 0 -4.4 0M630.5 129.9a2.2 2.2 0 1 0 4.4 0a2.2 2.2 0 1 0 -4.4 0M595.0 142.5a2.2 2.2 0 1 0 4.4 0a2.2 2.2 0 1 0 -4.4 0M595.8 143.8a2.2 2.2 0 1 0 4.4 0a2.2 2.2 0 1 0 -4.4 0M617.7 137.1a2.2 2.2 0 1 0 4.4 0a2.2 2.2 0 1 0 -4.4 0M630.6 109.8a2.2 2.2 0 1 0 4.4 0a2.2 2.2 0 1 0 -4.4 0M569.4 123.5a2.2 2.2 0 1 0 4.4 0a2.2 2.2 0 1 0 -4.4 0M596.5 153.6a2.2 2.2 0 1 0 4.4 0a2.2 2.2 0 1 0 -4.4 0M607.9 157.5a2.2 2.2 0 1 0 4.4 0a2.2 2.2 0 1 0 -4.4 0M612.6 136.1a2.2 2.2 0 1 0 4.4 0a2.2 2.2 0 1 0 -4.4 0M578.8 134.3a2.2 2.2 0 1 0 4.4 0a2.2 2.2 0 1 0 -4.4 0M596.0 147.6a2.2 2.2 0 1 0 4.4 0a2.2 2.2 0 1 0 -4.4 0M569.9 123.7a2.2 2.2 0 1 0 4.4 0a2.2 2.2 0 1 0 -4.4 0M567.3 124.1a2.2 2.2 0 1 0 4.4 0a2.2 2.2 0 1 0 -4.4 0M582.9 115.1a2.2 2.2 0 1 0 4.4 0a2.2 2.2 0 1 0 -4.4 0M583.4 111.1a2.2 2.2 0 1 0 4.4 0a2.2 2.2 0 1 0 -4.4 0M624.2 139.1a2.2 2.2 0 1 0 4.4 0a2.2 2.2 0 1 0 -4.4 0M578.3 132.0a2.2 2.2 0 1 0 4.4 0a2.2 2.2 0 1 0 -4.4 0M603.5 157.7a2.2 2.2 0 1 0 4.4 0a2.2 2.2 0 1 0 -4.4 0M614.1 140.4a2.2 2.2 0 1 0 4.4 0a2.2 2.2 0 1 0 -4.4 0M617.6 141.6a2.2 2.2 0 1 0 4.4 0a2.2 2.2 0 1 0 -4.4 0M626.9 109.6a2.2 2.2 0 1 0 4.4 0a2.2 2.2 0 1 0 -4.4 0M624.2 115.8a2.2 2.2 0 1 0 4.4 0a2.2 2.2 0 1 0 -4.4 0M581.3 144.6a2.2 2.2 0 1 0 4.4 0a2.2 2.2 0 1 0 -4.4 0M608.6 130.4a2.2 2.2 0 1 0 4.4 0a2.2 2.2 0 1 0 -4.4 0M622.1 149.7a2.2 2.2 0 1 0 4.4 0a2.2 2.2 0 1 0 -4.4 0M594.8 157.4a2.2 2.2 0 1 0 4.4 0a2.2 2.2 0 1 0 -4.4 0M582.2 131.0a2.2 2.2 0 1 0 4.4 0a2.2 2.2 0 1 0 -4.4 0M623.7 128.1a2.2 2.2 0 1 0 4.4 0a2.2 2.2 0 1 0 -4.4 0M594.5 143.9a2.2 2.2 0 1 0 4.4 0a2.2 2.2 0 1 0 -4.4 0M596.1 118.9a2.2 2.2 0 1 0 4.4 0a2.2 2.2 0 1 0 -4.4 0M628.2 120.6a2.2 2.2 0 1 0 4.4 0a2.2 2.2 0 1 0 -4.4 0M611.0 149.3a2.2 2.2 0 1 0 4.4 0a2.2 2.2 0 1 0 -4.4 0M611.9 129.3a2.2 2.2 0 1 0 4.4 0a2.2 2.2 0 1 0 -4.4 0M604.1 156.1a2.2 2.2 0 1 0 4.4 0a2.2 2.2 0 1 0 -4.4 0M611.1 138.3a2.2 2.2 0 1 0 4.4 0a2.2 2.2 0 1 0 -4.4 0M591.2 122.5a2.2 2.2 0 1 0 4.4 0a2.2 2.2 0 1 0 -4.4 0M617.7 147.2a2.2 2.2 0 1 0 4.4 0a2.2 2.2 0 1 0 -4.4 0M592.5 148.2a2.2 2.2 0 1 0 4.4 0a2.2 2.2 0 1 0 -4.4 0M610.4 155.3a2.2 2.2 0 1 0 4.4 0a2.2 2.2 0 1 0 -4.4 0M630.3 114.3a2.2 2.2 0 1 0 4.4 0a2.2 2.2 0 1 0 -4.4 0M592.2 147.2a2.2 2.2 0 1 0 4.4 0a2.2 2.2 0 1 0 -4.4 0M611.4 113.4a2.2 2.2 0 1 0 4.4 0a2.2 2.2 0 1 0 -4.4 0M591.7 144.4a2.2 2.2 0 1 0 4.4 0a2.2 2.2 0 1 0 -4.4 0M615.6 152.1a2.2 2.2 0 1 0 4.4 0a2.2 2.2 0 1 0 -4.4 0M575.1 134.2a2.2 2.2 0 1 0 4.4 0a2.2 2.2 0 1 0 -4.4 0M596.1 116.5a2.2 2.2 0 1 0 4.4 0a2.2 2.2 0 1 0 -4.4 0M622.1 134.0a2.2 2.2 0 1 0 4.4 0a2.2 2.2 0 1 0 -4.4 0M581.0 120.9a2.2 2.2 0 1 0 4.4 0a2.2 2.2 0 1 0 -4.4 0M615.5 156.6a2.2 2.2 0 1 0 4.4 0a2.2 2.2 0 1 0 -4.4 0M603.8 156.5a2.2 2.2 0 1 0 4.4 0a2.2 2.2 0 1 0 -4.4 0M582.0 149.9a2.2 2.2 0 1 0 4.4 0a2.2 2.2 0 1 0 -4.4 0M612.1 136.4a2.2 2.2 0 1 0 4.4 0a2.2 2.2 0 1 0 -4.4 0M584.2 128.3a2.2 2.2 0 1 0 4.4 0a2.2 2.2 0 1 0 -4.4 0M630.4 125.6a2.2 2.2 0 1 0 4.4 0a2.2 2.2 0 1 0 -4.4 0M630.1 128.6a2.2 2.2 0 1 0 4.4 0a2.2 2.2 0 1 0 -4.4 0M632.7 119.2a2.2 2.2 0 1 0 4.4 0a2.2 2.2 0 1 0 -4.4 0M616.1 126.2a2.2 2.2 0 1 0 4.4 0a2.2 2.2 0 1 0 -4.4 0M580.9 141.6a2.2 2.2 0 1 0 4.4 0a2.2 2.2 0 1 0 -4.4 0M592.9 153.3a2.2 2.2 0 1 0 4.4 0a2.2 2.2 0 1 0 -4.4 0M602.7 147.8a2.2 2.2 0 1 0 4.4 0a2.2 2.2 0 1 0 -4.4 0M609.7 129.6a2.2 2.2 0 1 0 4.4 0a2.2 2.2 0 1 0 -4.4 0M592.9 157.3a2.2 2.2 0 1 0 4.4 0a2.2 2.2 0 1 0 -4.4 0M597.5 155.6a2.2 2.2 0 1 0 4.4 0a2.2 2.2 0 1 0 -4.4 0M614.6 150.4a2.2 2.2 0 1 0 4.4 0a2.2 2.2 0 1 0 -4.4 0M583.7 148.3a2.2 2.2 0 1 0 4.4 0a2.2 2.2 0 1 0 -4.4 0M620.4 146.9a2.2 2.2 0 1 0 4.4 0a2.2 2.2 0 1 0 -4.4 0M615.1 116.1a2.2 2.2 0 1 0 4.4 0a2.2 2.2 0 1 0 -4.4 0M616.9 135.0a2.2 2.2 0 1 0 4.4 0a2.2 2.2 0 1 0 -4.4 0M616.7 112.6a2.2 2.2 0 1 0 4.4 0a2.2 2.2 0 1 0 -4.4 0M612.0 136.1a2.2 2.2 0 1 0 4.4 0a2.2 2.2 0 1 0 -4.4 0M590.5 150.3a2.2 2.2 0 1 0 4.4 0a2.2 2.2 0 1 0 -4.4 0M619.5 144.0a2.2 2.2 0 1 0 4.4 0a2.2 2.2 0 1 0 -4.4 0M595.9 153.7a2.2 2.2 0 1 0 4.4 0a2.2 2.2 0 1 0 -4.4 0M624.9 117.2a2.2 2.2 0 1 0 4.4 0a2.2 2.2 0 1 0 -4.4 0M576.0 135.7a2.2 2.2 0 1 0 4.4 0a2.2 2.2 0 1 0 -4.4 0M611.3 159.1a2.2 2.2 0 1 0 4.4 0a2.2 2.2 0 1 0 -4.4 0M603.3 148.8a2.2 2.2 0 1 0 4.4 0a2.2 2.2 0 1 0 -4.4 0M569.7 138.5a2.2 2.2 0 1 0 4.4 0a2.2 2.2 0 1 0 -4.4 0M610.3 147.2a2.2 2.2 0 1 0 4.4 0a2.2 2.2 0 1 0 -4.4 0M575.7 136.2a2.2 2.2 0 1 0 4.4 0a2.2 2.2 0 1 0 -4.4 0M599.1 146.9a2.2 2.2 0 1 0 4.4 0a2.2 2.2 0 1 0 -4.4 0M577.8 125.9a2.2 2.2 0 1 0 4.4 0a2.2 2.2 0 1 0 -4.4 0M595.7 155.8a2.2 2.2 0 1 0 4.4 0a2.2 2.2 0 1 0 -4.4 0M586.5 129.3a2.2 2.2 0 1 0 4.4 0a2.2 2.2 0 1 0 -4.4 0M580.3 126.2a2.2 2.2 0 1 0 4.4 0a2.2 2.2 0 1 0 -4.4 0M611.0 110.0a2.2 2.2 0 1 0 4.4 0a2.2 2.2 0 1 0 -4.4 0M586.3 131.4a2.2 2.2 0 1 0 4.4 0a2.2 2.2 0 1 0 -4.4 0M583.6 145.6a2.2 2.2 0 1 0 4.4 0a2.2 2.2 0 1 0 -4.4 0M582.8 149.4a2.2 2.2 0 1 0 4.4 0a2.2 2.2 0 1 0 -4.4 0M615.1 134.2a2.2 2.2 0 1 0 4.4 0a2.2 2.2 0 1 0 -4.4 0M595.3 119.6a2.2 2.2 0 1 0 4.4 0a2.2 2.2 0 1 0 -4.4 0M586.7 126.3a2.2 2.2 0 1 0 4.4 0a2.2 2.2 0 1 0 -4.4 0M607.5 119.0a2.2 2.2 0 1 0 4.4 0a2.2 2.2 0 1 0 -4.4 0M600.8 155.0a2.2 2.2 0 1 0 4.4 0a2.2 2.2 0 1 0 -4.4 0M580.8 114.2a2.2 2.2 0 1 0 4.4 0a2.2 2.2 0 1 0 -4.4 0M586.1 119.9a2.2 2.2 0 1 0 4.4 0a2.2 2.2 0 1 0 -4.4 0M588.8 142.0a2.2 2.2 0 1 0 4.4 0a2.2 2.2 0 1 0 -4.4 0M619.9 121.7a2.2 2.2 0 1 0 4.4 0a2.2 2.2 0 1 0 -4.4 0M596.9 158.7a2.2 2.2 0 1 0 4.4 0a2.2 2.2 0 1 0 -4.4 0M621.7 143.7a2.2 2.2 0 1 0 4.4 0a2.2 2.2 0 1 0 -4.4 0M609.7 119.7a2.2 2.2 0 1 0 4.4 0a2.2 2.2 0 1 0 -4.4 0M581.8 135.0a2.2 2.2 0 1 0 4.4 0a2.2 2.2 0 1 0 -4.4 0M617.9 154.3a2.2 2.2 0 1 0 4.4 0a2.2 2.2 0 1 0 -4.4 0M568.0 119.1a2.2 2.2 0 1 0 4.4 0a2.2 2.2 0 1 0 -4.4 0M597.0 130.8a2.2 2.2 0 1 0 4.4 0a2.2 2.2 0 1 0 -4.4 0M570.3 126.9a2.2 2.2 0 1 0 4.4 0a2.2 2.2 0 1 0 -4.4 0M598.7 144.5a2.2 2.2 0 1 0 4.4 0a2.2 2.2 0 1 0 -4.4 0M621.5 115.2a2.2 2.2 0 1 0 4.4 0a2.2 2.2 0 1 0 -4.4 0M573.0 134.3a2.2 2.2 0 1 0 4.4 0a2.2 2.2 0 1 0 -4.4 0M572.4 132.1a2.2 2.2 0 1 0 4.4 0a2.2 2.2 0 1 0 -4.4 0M605.1 147.9a2.2 2.2 0 1 0 4.4 0a2.2 2.2 0 1 0 -4.4 0M602.0 152.5a2.2 2.2 0 1 0 4.4 0a2.2 2.2 0 1 0 -4.4 0M590.0 158.3a2.2 2.2 0 1 0 4.4 0a2.2 2.2 0 1 0 -4.4 0M618.6 147.0a2.2 2.2 0 1 0 4.4 0a2.2 2.2 0 1 0 -4.4 0M623.4 143.5a2.2 2.2 0 1 0 4.4 0a2.2 2.2 0 1 0 -4.4 0M589.6 139.2a2.2 2.2 0 1 0 4.4 0a2.2 2.2 0 1 0 -4.4 0M583.2 133.9a2.2 2.2 0 1 0 4.4 0a2.2 2.2 0 1 0 -4.4 0M604.0 145.9a2.2 2.2 0 1 0 4.4 0a2.2 2.2 0 1 0 -4.4 0M566.7 128.4a2.2 2.2 0 1 0 4.4 0a2.2 2.2 0 1 0 -4.4 0M619.4 142.0a2.2 2.2 0 1 0 4.4 0a2.2 2.2 0 1 0 -4.4 0M621.6 123.5a2.2 2.2 0 1 0 4.4 0a2.2 2.2 0 1 0 -4.4 0M584.4 118.0a2.2 2.2 0 1 0 4.4 0a2.2 2.2 0 1 0 -4.4 0M617.2 134.0a2.2 2.2 0 1 0 4.4 0a2.2 2.2 0 1 0 -4.4 0M596.4 115.1a2.2 2.2 0 1 0 4.4 0a2.2 2.2 0 1 0 -4.4 0M625.1 125.3a2.2 2.2 0 1 0 4.4 0a2.2 2.2 0 1 0 -4.4 0M602.0 147.2a2.2 2.2 0 1 0 4.4 0a2.2 2.2 0 1 0 -4.4 0M592.0 155.0a2.2 2.2 0 1 0 4.4 0a2.2 2.2 0 1 0 -4.4 0M611.7 127.1a2.2 2.2 0 1 0 4.4 0a2.2 2.2 0 1 0 -4.4 0M597.9 147.1a2.2 2.2 0 1 0 4.4 0a2.2 2.2 0 1 0 -4.4 0M632.0 111.5a2.2 2.2 0 1 0 4.4 0a2.2 2.2 0 1 0 -4.4 0M607.5 141.5a2.2 2.2 0 1 0 4.4 0a2.2 2.2 0 1 0 -4.4 0M571.5 115.2a2.2 2.2 0 1 0 4.4 0a2.2 2.2 0 1 0 -4.4 0M619.4 155.1a2.2 2.2 0 1 0 4.4 0a2.2 2.2 0 1 0 -4.4 0M599.9 147.4a2.2 2.2 0 1 0 4.4 0a2.2 2.2 0 1 0 -4.4 0M615.7 115.7a2.2 2.2 0 1 0 4.4 0a2.2 2.2 0 1 0 -4.4 0M590.0 157.9a2.2 2.2 0 1 0 4.4 0a2.2 2.2 0 1 0 -4.4 0M579.0 147.0a2.2 2.2 0 1 0 4.4 0a2.2 2.2 0 1 0 -4.4 0M581.3 151.6a2.2 2.2 0 1 0 4.4 0a2.2 2.2 0 1 0 -4.4 0M570.8 115.6a2.2 2.2 0 1 0 4.4 0a2.2 2.2 0 1 0 -4.4 0M622.1 153.1a2.2 2.2 0 1 0 4.4 0a2.2 2.2 0 1 0 -4.4 0M605.7 151.8a2.2 2.2 0 1 0 4.4 0a2.2 2.2 0 1 0 -4.4 0M606.6 155.7a2.2 2.2 0 1 0 4.4 0a2.2 2.2 0 1 0 -4.4 0M627.5 115.4a2.2 2.2 0 1 0 4.4 0a2.2 2.2 0 1 0 -4.4 0M597.2 113.2a2.2 2.2 0 1 0 4.4 0a2.2 2.2 0 1 0 -4.4 0M585.9 150.9a2.2 2.2 0 1 0 4.4 0a2.2 2.2 0 1 0 -4.4 0M619.5 150.4a2.2 2.2 0 1 0 4.4 0a2.2 2.2 0 1 0 -4.4 0M623.8 143.9a2.2 2.2 0 1 0 4.4 0a2.2 2.2 0 1 0 -4.4 0M617.0 147.4a2.2 2.2 0 1 0 4.4 0a2.2 2.2 0 1 0 -4.4 0M604.8 148.5a2.2 2.2 0 1 0 4.4 0a2.2 2.2 0 1 0 -4.4 0M603.4 136.0a2.2 2.2 0 1 0 4.4 0a2.2 2.2 0 1 0 -4.4 0M591.8 132.2a2.2 2.2 0 1 0 4.4 0a2.2 2.2 0 1 0 -4.4 0M606.8 148.1a2.2 2.2 0 1 0 4.4 0a2.2 2.2 0 1 0 -4.4 0M608.6 148.4a2.2 2.2 0 1 0 4.4 0a2.2 2.2 0 1 0 -4.4 0M589.3 158.3a2.2 2.2 0 1 0 4.4 0a2.2 2.2 0 1 0 -4.4 0M615.3 143.3a2.2 2.2 0 1 0 4.4 0a2.2 2.2 0 1 0 -4.4 0M579.1 129.8a2.2 2.2 0 1 0 4.4 0a2.2 2.2 0 1 0 -4.4 0M621.0 122.1a2.2 2.2 0 1 0 4.4 0a2.2 2.2 0 1 0 -4.4 0M605.7 136.4a2.2 2.2 0 1 0 4.4 0a2.2 2.2 0 1 0 -4.4 0M579.1 122.3a2.2 2.2 0 1 0 4.4 0a2.2 2.2 0 1 0 -4.4 0M629.9 122.7a2.2 2.2 0 1 0 4.4 0a2.2 2.2 0 1 0 -4.4 0M595.2 150.3a2.2 2.2 0 1 0 4.4 0a2.2 2.2 0 1 0 -4.4 0M610.7 158.2a2.2 2.2 0 1 0 4.4 0a2.2 2.2 0 1 0 -4.4 0M608.2 133.7a2.2 2.2 0 1 0 4.4 0a2.2 2.2 0 1 0 -4.4 0M587.5 137.7a2.2 2.2 0 1 0 4.4 0a2.2 2.2 0 1 0 -4.4 0M604.4 149.1a2.2 2.2 0 1 0 4.4 0a2.2 2.2 0 1 0 -4.4 0M608.6 135.3a2.2 2.2 0 1 0 4.4 0a2.2 2.2 0 1 0 -4.4 0M600.0 154.2a2.2 2.2 0 1 0 4.4 0a2.2 2.2 0 1 0 -4.4 0M583.6 136.2a2.2 2.2 0 1 0 4.4 0a2.2 2.2 0 1 0 -4.4 0M604.3 156.4a2.2 2.2 0 1 0 4.4 0a2.2 2.2 0 1 0 -4.4 0M629.0 127.3a2.2 2.2 0 1 0 4.4 0a2.2 2.2 0 1 0 -4.4 0M596.7 157.4a2.2 2.2 0 1 0 4.4 0a2.2 2.2 0 1 0 -4.4 0M594.0 158.0a2.2 2.2 0 1 0 4.4 0a2.2 2.2 0 1 0 -4.4 0M583.8 110.3a2.2 2.2 0 1 0 4.4 0a2.2 2.2 0 1 0 -4.4 0M604.3 150.1a2.2 2.2 0 1 0 4.4 0a2.2 2.2 0 1 0 -4.4 0M589.7 142.9a2.2 2.2 0 1 0 4.4 0a2.2 2.2 0 1 0 -4.4 0M627.0 109.7a2.2 2.2 0 1 0 4.4 0a2.2 2.2 0 1 0 -4.4 0M589.1 150.6a2.2 2.2 0 1 0 4.4 0a2.2 2.2 0 1 0 -4.4 0M604.4 110.6a2.2 2.2 0 1 0 4.4 0a2.2 2.2 0 1 0 -4.4 0M592.1 157.5a2.2 2.2 0 1 0 4.4 0a2.2 2.2 0 1 0 -4.4 0M630.3 117.5a2.2 2.2 0 1 0 4.4 0a2.2 2.2 0 1 0 -4.4 0M573.7 118.7a2.2 2.2 0 1 0 4.4 0a2.2 2.2 0 1 0 -4.4 0M596.8 151.2a2.2 2.2 0 1 0 4.4 0a2.2 2.2 0 1 0 -4.4 0M591.2 151.8a2.2 2.2 0 1 0 4.4 0a2.2 2.2 0 1 0 -4.4 0M575.1 147.0a2.2 2.2 0 1 0 4.4 0a2.2 2.2 0 1 0 -4.4 0M597.8 151.7a2.2 2.2 0 1 0 4.4 0a2.2 2.2 0 1 0 -4.4 0M590.8 127.2a2.2 2.2 0 1 0 4.4 0a2.2 2.2 0 1 0 -4.4 0M579.6 149.1a2.2 2.2 0 1 0 4.4 0a2.2 2.2 0 1 0 -4.4 0M588.6 125.9a2.2 2.2 0 1 0 4.4 0a2.2 2.2 0 1 0 -4.4 0M622.3 144.6a2.2 2.2 0 1 0 4.4 0a2.2 2.2 0 1 0 -4.4 0M587.7 115.0a2.2 2.2 0 1 0 4.4 0a2.2 2.2 0 1 0 -4.4 0M588.4 136.5a2.2 2.2 0 1 0 4.4 0a2.2 2.2 0 1 0 -4.4 0M602.4 154.0a2.2 2.2 0 1 0 4.4 0a2.2 2.2 0 1 0 -4.4 0M588.8 146.8a2.2 2.2 0 1 0 4.4 0a2.2 2.2 0 1 0 -4.4 0M618.0 149.2a2.2 2.2 0 1 0 4.4 0a2.2 2.2 0 1 0 -4.4 0M595.8 154.1a2.2 2.2 0 1 0 4.4 0a2.2 2.2 0 1 0 -4.4 0M606.3 143.2a2.2 2.2 0 1 0 4.4 0a2.2 2.2 0 1 0 -4.4 0M596.4 147.8a2.2 2.2 0 1 0 4.4 0a2.2 2.2 0 1 0 -4.4 0M628.5 130.6a2.2 2.2 0 1 0 4.4 0a2.2 2.2 0 1 0 -4.4 0M577.7 110.9a2.2 2.2 0 1 0 4.4 0a2.2 2.2 0 1 0 -4.4 0M633.1 127.4a2.2 2.2 0 1 0 4.4 0a2.2 2.2 0 1 0 -4.4 0M579.2 117.2a2.2 2.2 0 1 0 4.4 0a2.2 2.2 0 1 0 -4.4 0M591.3 143.0a2.2 2.2 0 1 0 4.4 0a2.2 2.2 0 1 0 -4.4 0M594.8 146.1a2.2 2.2 0 1 0 4.4 0a2.2 2.2 0 1 0 -4.4 0M581.8 138.8a2.2 2.2 0 1 0 4.4 0a2.2 2.2 0 1 0 -4.4 0M593.0 150.2a2.2 2.2 0 1 0 4.4 0a2.2 2.2 0 1 0 -4.4 0M619.9 133.2a2.2 2.2 0 1 0 4.4 0a2.2 2.2 0 1 0 -4.4 0M585.9 126.8a2.2 2.2 0 1 0 4.4 0a2.2 2.2 0 1 0 -4.4 0M587.6 142.4a2.2 2.2 0 1 0 4.4 0a2.2 2.2 0 1 0 -4.4 0M589.4 133.0a2.2 2.2 0 1 0 4.4 0a2.2 2.2 0 1 0 -4.4 0M616.0 145.2a2.2 2.2 0 1 0 4.4 0a2.2 2.2 0 1 0 -4.4 0M604.1 149.2a2.2 2.2 0 1 0 4.4 0a2.2 2.2 0 1 0 -4.4 0M580.3 112.2a2.2 2.2 0 1 0 4.4 0a2.2 2.2 0 1 0 -4.4 0M622.7 112.9a2.2 2.2 0 1 0 4.4 0a2.2 2.2 0 1 0 -4.4 0M576.5 141.8a2.2 2.2 0 1 0 4.4 0a2.2 2.2 0 1 0 -4.4 0M570.0 116.6a2.2 2.2 0 1 0 4.4 0a2.2 2.2 0 1 0 -4.4 0M589.8 137.1a2.2 2.2 0 1 0 4.4 0a2.2 2.2 0 1 0 -4.4 0M592.4 110.9a2.2 2.2 0 1 0 4.4 0a2.2 2.2 0 1 0 -4.4 0M590.9 150.4a2.2 2.2 0 1 0 4.4 0a2.2 2.2 0 1 0 -4.4 0M586.6 142.9a2.2 2.2 0 1 0 4.4 0a2.2 2.2 0 1 0 -4.4 0M627.8 130.9a2.2 2.2 0 1 0 4.4 0a2.2 2.2 0 1 0 -4.4 0M588.0 111.3a2.2 2.2 0 1 0 4.4 0a2.2 2.2 0 1 0 -4.4 0M624.7 125.9a2.2 2.2 0 1 0 4.4 0a2.2 2.2 0 1 0 -4.4 0M608.5 111.6a2.2 2.2 0 1 0 4.4 0a2.2 2.2 0 1 0 -4.4 0M590.1 134.2a2.2 2.2 0 1 0 4.4 0a2.2 2.2 0 1 0 -4.4 0M611.8 124.0a2.2 2.2 0 1 0 4.4 0a2.2 2.2 0 1 0 -4.4 0M605.0 152.9a2.2 2.2 0 1 0 4.4 0a2.2 2.2 0 1 0 -4.4 0M599.8 157.3a2.2 2.2 0 1 0 4.4 0a2.2 2.2 0 1 0 -4.4 0M614.5 140.0a2.2 2.2 0 1 0 4.4 0a2.2 2.2 0 1 0 -4.4 0M619.2 153.5a2.2 2.2 0 1 0 4.4 0a2.2 2.2 0 1 0 -4.4 0M613.7 137.1a2.2 2.2 0 1 0 4.4 0a2.2 2.2 0 1 0 -4.4 0M575.1 125.9a2.2 2.2 0 1 0 4.4 0a2.2 2.2 0 1 0 -4.4 0M630.7 123.5a2.2 2.2 0 1 0 4.4 0a2.2 2.2 0 1 0 -4.4 0M575.6 134.0a2.2 2.2 0 1 0 4.4 0a2.2 2.2 0 1 0 -4.4 0M584.7 121.1a2.2 2.2 0 1 0 4.4 0a2.2 2.2 0 1 0 -4.4 0M594.7 128.5a2.2 2.2 0 1 0 4.4 0a2.2 2.2 0 1 0 -4.4 0M608.8 113.0a2.2 2.2 0 1 0 4.4 0a2.2 2.2 0 1 0 -4.4 0M576.2 127.5a2.2 2.2 0 1 0 4.4 0a2.2 2.2 0 1 0 -4.4 0M595.9 155.3a2.2 2.2 0 1 0 4.4 0a2.2 2.2 0 1 0 -4.4 0M597.2 155.2a2.2 2.2 0 1 0 4.4 0a2.2 2.2 0 1 0 -4.4 0M587.8 135.3a2.2 2.2 0 1 0 4.4 0a2.2 2.2 0 1 0 -4.4 0M587.8 118.9a2.2 2.2 0 1 0 4.4 0a2.2 2.2 0 1 0 -4.4 0M632.0 131.3a2.2 2.2 0 1 0 4.4 0a2.2 2.2 0 1 0 -4.4 0M607.9 135.1a2.2 2.2 0 1 0 4.4 0a2.2 2.2 0 1 0 -4.4 0M582.4 153.0a2.2 2.2 0 1 0 4.4 0a2.2 2.2 0 1 0 -4.4 0M602.5 155.2a2.2 2.2 0 1 0 4.4 0a2.2 2.2 0 1 0 -4.4 0M579.8 134.1a2.2 2.2 0 1 0 4.4 0a2.2 2.2 0 1 0 -4.4 0M594.1 138.4a2.2 2.2 0 1 0 4.4 0a2.2 2.2 0 1 0 -4.4 0M588.4 157.7a2.2 2.2 0 1 0 4.4 0a2.2 2.2 0 1 0 -4.4 0M581.3 152.7a2.2 2.2 0 1 0 4.4 0a2.2 2.2 0 1 0 -4.4 0M609.7 151.8a2.2 2.2 0 1 0 4.4 0a2.2 2.2 0 1 0 -4.4 0M586.9 142.8a2.2 2.2 0 1 0 4.4 0a2.2 2.2 0 1 0 -4.4 0M614.5 129.1a2.2 2.2 0 1 0 4.4 0a2.2 2.2 0 1 0 -4.4 0M570.9 109.8a2.2 2.2 0 1 0 4.4 0a2.2 2.2 0 1 0 -4.4 0M597.9 125.4a2.2 2.2 0 1 0 4.4 0a2.2 2.2 0 1 0 -4.4 0M590.1 156.9a2.2 2.2 0 1 0 4.4 0a2.2 2.2 0 1 0 -4.4 0M602.5 146.9a2.2 2.2 0 1 0 4.4 0a2.2 2.2 0 1 0 -4.4 0M614.4 158.9a2.2 2.2 0 1 0 4.4 0a2.2 2.2 0 1 0 -4.4 0M617.5 121.6a2.2 2.2 0 1 0 4.4 0a2.2 2.2 0 1 0 -4.4 0M605.6 123.0a2.2 2.2 0 1 0 4.4 0a2.2 2.2 0 1 0 -4.4 0M575.8 112.4a2.2 2.2 0 1 0 4.4 0a2.2 2.2 0 1 0 -4.4 0M607.1 158.5a2.2 2.2 0 1 0 4.4 0a2.2 2.2 0 1 0 -4.4 0M583.4 143.2a2.2 2.2 0 1 0 4.4 0a2.2 2.2 0 1 0 -4.4 0M589.2 130.2a2.2 2.2 0 1 0 4.4 0a2.2 2.2 0 1 0 -4.4 0M594.3 115.1a2.2 2.2 0 1 0 4.4 0a2.2 2.2 0 1 0 -4.4 0M614.7 151.4a2.2 2.2 0 1 0 4.4 0a2.2 2.2 0 1 0 -4.4 0M596.3 127.9a2.2 2.2 0 1 0 4.4 0a2.2 2.2 0 1 0 -4.4 0M587.5 141.0a2.2 2.2 0 1 0 4.4 0a2.2 2.2 0 1 0 -4.4 0M586.8 142.4a2.2 2.2 0 1 0 4.4 0a2.2 2.2 0 1 0 -4.4 0M574.0 116.5a2.2 2.2 0 1 0 4.4 0a2.2 2.2 0 1 0 -4.4 0M609.7 155.7a2.2 2.2 0 1 0 4.4 0a2.2 2.2 0 1 0 -4.4 0M606.1 142.2a2.2 2.2 0 1 0 4.4 0a2.2 2.2 0 1 0 -4.4 0M623.0 148.6a2.2 2.2 0 1 0 4.4 0a2.2 2.2 0 1 0 -4.4 0M606.0 144.7a2.2 2.2 0 1 0 4.4 0a2.2 2.2 0 1 0 -4.4 0M578.6 130.4a2.2 2.2 0 1 0 4.4 0a2.2 2.2 0 1 0 -4.4 0M625.3 116.1a2.2 2.2 0 1 0 4.4 0a2.2 2.2 0 1 0 -4.4 0M606.2 137.3a2.2 2.2 0 1 0 4.4 0a2.2 2.2 0 1 0 -4.4 0M611.8 139.9a2.2 2.2 0 1 0 4.4 0a2.2 2.2 0 1 0 -4.4 0M583.3 143.3a2.2 2.2 0 1 0 4.4 0a2.2 2.2 0 1 0 -4.4 0M607.0 158.3a2.2 2.2 0 1 0 4.4 0a2.2 2.2 0 1 0 -4.4 0M632.1 132.6a2.2 2.2 0 1 0 4.4 0a2.2 2.2 0 1 0 -4.4 0M615.2 109.9a2.2 2.2 0 1 0 4.4 0a2.2 2.2 0 1 0 -4.4 0M617.2 124.7a2.2 2.2 0 1 0 4.4 0a2.2 2.2 0 1 0 -4.4 0M634.0 118.9a2.2 2.2 0 1 0 4.4 0a2.2 2.2 0 1 0 -4.4 0M602.0 136.9a2.2 2.2 0 1 0 4.4 0a2.2 2.2 0 1 0 -4.4 0M612.7 117.1a2.2 2.2 0 1 0 4.4 0a2.2 2.2 0 1 0 -4.4 0M606.9 135.6a2.2 2.2 0 1 0 4.4 0a2.2 2.2 0 1 0 -4.4 0M601.2 148.4a2.2 2.2 0 1 0 4.4 0a2.2 2.2 0 1 0 -4.4 0M575.5 138.0a2.2 2.2 0 1 0 4.4 0a2.2 2.2 0 1 0 -4.4 0M623.0 118.0a2.2 2.2 0 1 0 4.4 0a2.2 2.2 0 1 0 -4.4 0M598.3 153.9a2.2 2.2 0 1 0 4.4 0a2.2 2.2 0 1 0 -4.4 0M590.0 158.2a2.2 2.2 0 1 0 4.4 0a2.2 2.2 0 1 0 -4.4 0M583.4 152.7a2.2 2.2 0 1 0 4.4 0a2.2 2.2 0 1 0 -4.4 0M606.2 131.3a2.2 2.2 0 1 0 4.4 0a2.2 2.2 0 1 0 -4.4 0M625.8 130.7a2.2 2.2 0 1 0 4.4 0a2.2 2.2 0 1 0 -4.4 0M611.4 152.0a2.2 2.2 0 1 0 4.4 0a2.2 2.2 0 1 0 -4.4 0M608.4 146.7a2.2 2.2 0 1 0 4.4 0a2.2 2.2 0 1 0 -4.4 0M609.8 132.1a2.2 2.2 0 1 0 4.4 0a2.2 2.2 0 1 0 -4.4 0M599.2 139.2a2.2 2.2 0 1 0 4.4 0a2.2 2.2 0 1 0 -4.4 0M616.8 113.0a2.2 2.2 0 1 0 4.4 0a2.2 2.2 0 1 0 -4.4 0M618.8 127.2a2.2 2.2 0 1 0 4.4 0a2.2 2.2 0 1 0 -4.4 0M596.9 146.9a2.2 2.2 0 1 0 4.4 0a2.2 2.2 0 1 0 -4.4 0M582.8 120.0a2.2 2.2 0 1 0 4.4 0a2.2 2.2 0 1 0 -4.4 0M611.8 137.2a2.2 2.2 0 1 0 4.4 0a2.2 2.2 0 1 0 -4.4 0M570.6 133.3a2.2 2.2 0 1 0 4.4 0a2.2 2.2 0 1 0 -4.4 0M614.7 148.0a2.2 2.2 0 1 0 4.4 0a2.2 2.2 0 1 0 -4.4 0M618.2 143.2a2.2 2.2 0 1 0 4.4 0a2.2 2.2 0 1 0 -4.4 0M588.6 140.2a2.2 2.2 0 1 0 4.4 0a2.2 2.2 0 1 0 -4.4 0M587.4 128.3a2.2 2.2 0 1 0 4.4 0a2.2 2.2 0 1 0 -4.4 0M595.4 149.6a2.2 2.2 0 1 0 4.4 0a2.2 2.2 0 1 0 -4.4 0M622.0 120.0a2.2 2.2 0 1 0 4.4 0a2.2 2.2 0 1 0 -4.4 0M617.5 143.8a2.2 2.2 0 1 0 4.4 0a2.2 2.2 0 1 0 -4.4 0M586.4 139.1a2.2 2.2 0 1 0 4.4 0a2.2 2.2 0 1 0 -4.4 0M634.6 131.9a2.2 2.2 0 1 0 4.4 0a2.2 2.2 0 1 0 -4.4 0M582.1 109.6a2.2 2.2 0 1 0 4.4 0a2.2 2.2 0 1 0 -4.4 0M608.1 142.5a2.2 2.2 0 1 0 4.4 0a2.2 2.2 0 1 0 -4.4 0M590.5 144.1a2.2 2.2 0 1 0 4.4 0a2.2 2.2 0 1 0 -4.4 0M592.0 124.4a2.2 2.2 0 1 0 4.4 0a2.2 2.2 0 1 0 -4.4 0M571.1 124.4a2.2 2.2 0 1 0 4.4 0a2.2 2.2 0 1 0 -4.4 0M607.9 125.1a2.2 2.2 0 1 0 4.4 0a2.2 2.2 0 1 0 -4.4 0M631.8 117.7a2.2 2.2 0 1 0 4.4 0a2.2 2.2 0 1 0 -4.4 0M594.1 158.5a2.2 2.2 0 1 0 4.4 0a2.2 2.2 0 1 0 -4.4 0M582.0 121.8a2.2 2.2 0 1 0 4.4 0a2.2 2.2 0 1 0 -4.4 0M605.0 155.0a2.2 2.2 0 1 0 4.4 0a2.2 2.2 0 1 0 -4.4 0M608.1 147.7a2.2 2.2 0 1 0 4.4 0a2.2 2.2 0 1 0 -4.4 0M593.7 141.9a2.2 2.2 0 1 0 4.4 0a2.2 2.2 0 1 0 -4.4 0M604.9 139.6a2.2 2.2 0 1 0 4.4 0a2.2 2.2 0 1 0 -4.4 0M566.2 118.3a2.2 2.2 0 1 0 4.4 0a2.2 2.2 0 1 0 -4.4 0M632.6 131.6a2.2 2.2 0 1 0 4.4 0a2.2 2.2 0 1 0 -4.4 0M597.8 141.9a2.2 2.2 0 1 0 4.4 0a2.2 2.2 0 1 0 -4.4 0M579.8 126.1a2.2 2.2 0 1 0 4.4 0a2.2 2.2 0 1 0 -4.4 0M599.2 158.4a2.2 2.2 0 1 0 4.4 0a2.2 2.2 0 1 0 -4.4 0M584.7 118.4a2.2 2.2 0 1 0 4.4 0a2.2 2.2 0 1 0 -4.4 0M600.6 156.8a2.2 2.2 0 1 0 4.4 0a2.2 2.2 0 1 0 -4.4 0M626.9 138.1a2.2 2.2 0 1 0 4.4 0a2.2 2.2 0 1 0 -4.4 0M620.8 112.7a2.2 2.2 0 1 0 4.4 0a2.2 2.2 0 1 0 -4.4 0M607.0 147.4a2.2 2.2 0 1 0 4.4 0a2.2 2.2 0 1 0 -4.4 0M587.5 144.2a2.2 2.2 0 1 0 4.4 0a2.2 2.2 0 1 0 -4.4 0M577.2 140.0a2.2 2.2 0 1 0 4.4 0a2.2 2.2 0 1 0 -4.4 0M609.1 157.3a2.2 2.2 0 1 0 4.4 0a2.2 2.2 0 1 0 -4.4 0M596.6 156.0a2.2 2.2 0 1 0 4.4 0a2.2 2.2 0 1 0 -4.4 0M577.8 138.3a2.2 2.2 0 1 0 4.4 0a2.2 2.2 0 1 0 -4.4 0M601.7 142.3a2.2 2.2 0 1 0 4.4 0a2.2 2.2 0 1 0 -4.4 0M613.1 132.6a2.2 2.2 0 1 0 4.4 0a2.2 2.2 0 1 0 -4.4 0M614.9 147.3a2.2 2.2 0 1 0 4.4 0a2.2 2.2 0 1 0 -4.4 0M588.2 146.7a2.2 2.2 0 1 0 4.4 0a2.2 2.2 0 1 0 -4.4 0M596.6 156.2a2.2 2.2 0 1 0 4.4 0a2.2 2.2 0 1 0 -4.4 0M570.1 121.4a2.2 2.2 0 1 0 4.4 0a2.2 2.2 0 1 0 -4.4 0M567.5 127.9a2.2 2.2 0 1 0 4.4 0a2.2 2.2 0 1 0 -4.4 0M589.1 119.3a2.2 2.2 0 1 0 4.4 0a2.2 2.2 0 1 0 -4.4 0M572.4 129.9a2.2 2.2 0 1 0 4.4 0a2.2 2.2 0 1 0 -4.4 0M611.0 157.8a2.2 2.2 0 1 0 4.4 0a2.2 2.2 0 1 0 -4.4 0M610.6 158.6a2.2 2.2 0 1 0 4.4 0a2.2 2.2 0 1 0 -4.4 0M574.4 133.3a2.2 2.2 0 1 0 4.4 0a2.2 2.2 0 1 0 -4.4 0M607.8 110.5a2.2 2.2 0 1 0 4.4 0a2.2 2.2 0 1 0 -4.4 0M573.4 122.2a2.2 2.2 0 1 0 4.4 0a2.2 2.2 0 1 0 -4.4 0M592.8 140.7a2.2 2.2 0 1 0 4.4 0a2.2 2.2 0 1 0 -4.4 0M595.6 124.8a2.2 2.2 0 1 0 4.4 0a2.2 2.2 0 1 0 -4.4 0M595.2 135.0a2.2 2.2 0 1 0 4.4 0a2.2 2.2 0 1 0 -4.4 0M615.7 146.9a2.2 2.2 0 1 0 4.4 0a2.2 2.2 0 1 0 -4.4 0M623.9 141.8a2.2 2.2 0 1 0 4.4 0a2.2 2.2 0 1 0 -4.4 0M611.2 155.1a2.2 2.2 0 1 0 4.4 0a2.2 2.2 0 1 0 -4.4 0M626.0 143.7a2.2 2.2 0 1 0 4.4 0a2.2 2.2 0 1 0 -4.4 0M613.2 137.8a2.2 2.2 0 1 0 4.4 0a2.2 2.2 0 1 0 -4.4 0M579.1 124.4a2.2 2.2 0 1 0 4.4 0a2.2 2.2 0 1 0 -4.4 0M597.0 151.8a2.2 2.2 0 1 0 4.4 0a2.2 2.2 0 1 0 -4.4 0M583.9 136.5a2.2 2.2 0 1 0 4.4 0a2.2 2.2 0 1 0 -4.4 0M576.4 118.7a2.2 2.2 0 1 0 4.4 0a2.2 2.2 0 1 0 -4.4 0M607.7 146.1a2.2 2.2 0 1 0 4.4 0a2.2 2.2 0 1 0 -4.4 0M614.5 149.2a2.2 2.2 0 1 0 4.4 0a2.2 2.2 0 1 0 -4.4 0M575.9 119.7a2.2 2.2 0 1 0 4.4 0a2.2 2.2 0 1 0 -4.4 0M619.6 140.9a2.2 2.2 0 1 0 4.4 0a2.2 2.2 0 1 0 -4.4 0M594.0 139.8a2.2 2.2 0 1 0 4.4 0a2.2 2.2 0 1 0 -4.4 0M588.7 123.8a2.2 2.2 0 1 0 4.4 0a2.2 2.2 0 1 0 -4.4 0M620.8 126.9a2.2 2.2 0 1 0 4.4 0a2.2 2.2 0 1 0 -4.4 0M576.6 145.8a2.2 2.2 0 1 0 4.4 0a2.2 2.2 0 1 0 -4.4 0M603.0 156.1a2.2 2.2 0 1 0 4.4 0a2.2 2.2 0 1 0 -4.4 0M615.5 151.9a2.2 2.2 0 1 0 4.4 0a2.2 2.2 0 1 0 -4.4 0M632.2 133.2a2.2 2.2 0 1 0 4.4 0a2.2 2.2 0 1 0 -4.4 0M567.9 127.4a2.2 2.2 0 1 0 4.4 0a2.2 2.2 0 1 0 -4.4 0M611.7 117.8a2.2 2.2 0 1 0 4.4 0a2.2 2.2 0 1 0 -4.4 0M588.9 149.7a2.2 2.2 0 1 0 4.4 0a2.2 2.2 0 1 0 -4.4 0M591.1 149.6a2.2 2.2 0 1 0 4.4 0a2.2 2.2 0 1 0 -4.4 0M592.3 148.7a2.2 2.2 0 1 0 4.4 0a2.2 2.2 0 1 0 -4.4 0M617.8 153.6a2.2 2.2 0 1 0 4.4 0a2.2 2.2 0 1 0 -4.4 0M623.9 131.7a2.2 2.2 0 1 0 4.4 0a2.2 2.2 0 1 0 -4.4 0M612.1 114.3a2.2 2.2 0 1 0 4.4 0a2.2 2.2 0 1 0 -4.4 0M607.1 157.6a2.2 2.2 0 1 0 4.4 0a2.2 2.2 0 1 0 -4.4 0M578.5 139.9a2.2 2.2 0 1 0 4.4 0a2.2 2.2 0 1 0 -4.4 0M621.3 112.8a2.2 2.2 0 1 0 4.4 0a2.2 2.2 0 1 0 -4.4 0M570.9 129.1a2.2 2.2 0 1 0 4.4 0a2.2 2.2 0 1 0 -4.4 0M607.9 155.2a2.2 2.2 0 1 0 4.4 0a2.2 2.2 0 1 0 -4.4 0M577.3 117.0a2.2 2.2 0 1 0 4.4 0a2.2 2.2 0 1 0 -4.4 0M623.5 133.8a2.2 2.2 0 1 0 4.4 0a2.2 2.2 0 1 0 -4.4 0M621.7 118.0a2.2 2.2 0 1 0 4.4 0a2.2 2.2 0 1 0 -4.4 0M609.3 152.6a2.2 2.2 0 1 0 4.4 0a2.2 2.2 0 1 0 -4.4 0M577.8 137.6a2.2 2.2 0 1 0 4.4 0a2.2 2.2 0 1 0 -4.4 0M593.2 156.8a2.2 2.2 0 1 0 4.4 0a2.2 2.2 0 1 0 -4.4 0M608.4 111.1a2.2 2.2 0 1 0 4.4 0a2.2 2.2 0 1 0 -4.4 0M635.2 126.7a2.2 2.2 0 1 0 4.4 0a2.2 2.2 0 1 0 -4.4 0M630.9 112.5a2.2 2.2 0 1 0 4.4 0a2.2 2.2 0 1 0 -4.4 0M621.5 138.0a2.2 2.2 0 1 0 4.4 0a2.2 2.2 0 1 0 -4.4 0M633.1 131.5a2.2 2.2 0 1 0 4.4 0a2.2 2.2 0 1 0 -4.4 0M595.5 111.9a2.2 2.2 0 1 0 4.4 0a2.2 2.2 0 1 0 -4.4 0M607.6 117.2a2.2 2.2 0 1 0 4.4 0a2.2 2.2 0 1 0 -4.4 0M622.4 127.4a2.2 2.2 0 1 0 4.4 0a2.2 2.2 0 1 0 -4.4 0M606.6 123.6a2.2 2.2 0 1 0 4.4 0a2.2 2.2 0 1 0 -4.4 0M617.9 111.0a2.2 2.2 0 1 0 4.4 0a2.2 2.2 0 1 0 -4.4 0M601.2 145.7a2.2 2.2 0 1 0 4.4 0a2.2 2.2 0 1 0 -4.4 0M612.1 133.0a2.2 2.2 0 1 0 4.4 0a2.2 2.2 0 1 0 -4.4 0M592.0 128.2a2.2 2.2 0 1 0 4.4 0a2.2 2.2 0 1 0 -4.4 0M591.7 154.0a2.2 2.2 0 1 0 4.4 0a2.2 2.2 0 1 0 -4.4 0M590.2 122.1a2.2 2.2 0 1 0 4.4 0a2.2 2.2 0 1 0 -4.4 0M572.1 136.3a2.2 2.2 0 1 0 4.4 0a2.2 2.2 0 1 0 -4.4 0M594.3 152.6a2.2 2.2 0 1 0 4.4 0a2.2 2.2 0 1 0 -4.4 0M622.3 128.2a2.2 2.2 0 1 0 4.4 0a2.2 2.2 0 1 0 -4.4 0M605.6 156.8a2.2 2.2 0 1 0 4.4 0a2.2 2.2 0 1 0 -4.4 0M588.2 110.1a2.2 2.2 0 1 0 4.4 0a2.2 2.2 0 1 0 -4.4 0M617.8 114.7a2.2 2.2 0 1 0 4.4 0a2.2 2.2 0 1 0 -4.4 0M574.7 122.2a2.2 2.2 0 1 0 4.4 0a2.2 2.2 0 1 0 -4.4 0M584.8 143.6a2.2 2.2 0 1 0 4.4 0a2.2 2.2 0 1 0 -4.4 0M581.1 120.1a2.2 2.2 0 1 0 4.4 0a2.2 2.2 0 1 0 -4.4 0M576.4 143.5a2.2 2.2 0 1 0 4.4 0a2.2 2.2 0 1 0 -4.4 0M633.5 116.7a2.2 2.2 0 1 0 4.4 0a2.2 2.2 0 1 0 -4.4 0M604.4 145.4a2.2 2.2 0 1 0 4.4 0a2.2 2.2 0 1 0 -4.4 0M584.3 152.2a2.2 2.2 0 1 0 4.4 0a2.2 2.2 0 1 0 -4.4 0M632.3 116.4a2.2 2.2 0 1 0 4.4 0a2.2 2.2 0 1 0 -4.4 0M584.9 155.2a2.2 2.2 0 1 0 4.4 0a2.2 2.2 0 1 0 -4.4 0M597.0 157.0a2.2 2.2 0 1 0 4.4 0a2.2 2.2 0 1 0 -4.4 0M590.9 152.6a2.2 2.2 0 1 0 4.4 0a2.2 2.2 0 1 0 -4.4 0M622.1 135.4a2.2 2.2 0 1 0 4.4 0a2.2 2.2 0 1 0 -4.4 0M599.8 156.7a2.2 2.2 0 1 0 4.4 0a2.2 2.2 0 1 0 -4.4 0M623.1 147.0a2.2 2.2 0 1 0 4.4 0a2.2 2.2 0 1 0 -4.4 0M608.8 146.0a2.2 2.2 0 1 0 4.4 0a2.2 2.2 0 1 0 -4.4 0M616.7 121.6a2.2 2.2 0 1 0 4.4 0a2.2 2.2 0 1 0 -4.4 0M571.1 139.3a2.2 2.2 0 1 0 4.4 0a2.2 2.2 0 1 0 -4.4 0M573.7 110.8a2.2 2.2 0 1 0 4.4 0a2.2 2.2 0 1 0 -4.4 0M587.0 153.5a2.2 2.2 0 1 0 4.4 0a2.2 2.2 0 1 0 -4.4 0M597.1 151.4a2.2 2.2 0 1 0 4.4 0a2.2 2.2 0 1 0 -4.4 0M592.0 129.4a2.2 2.2 0 1 0 4.4 0a2.2 2.2 0 1 0 -4.4 0M600.9 158.8a2.2 2.2 0 1 0 4.4 0a2.2 2.2 0 1 0 -4.4 0M585.9 144.1a2.2 2.2 0 1 0 4.4 0a2.2 2.2 0 1 0 -4.4 0M577.6 146.6a2.2 2.2 0 1 0 4.4 0a2.2 2.2 0 1 0 -4.4 0M589.4 135.4a2.2 2.2 0 1 0 4.4 0a2.2 2.2 0 1 0 -4.4 0M570.0 114.6a2.2 2.2 0 1 0 4.4 0a2.2 2.2 0 1 0 -4.4 0M618.5 153.5a2.2 2.2 0 1 0 4.4 0a2.2 2.2 0 1 0 -4.4 0M583.7 147.9a2.2 2.2 0 1 0 4.4 0a2.2 2.2 0 1 0 -4.4 0M608.5 153.7a2.2 2.2 0 1 0 4.4 0a2.2 2.2 0 1 0 -4.4 0M606.0 156.1a2.2 2.2 0 1 0 4.4 0a2.2 2.2 0 1 0 -4.4 0M615.6 114.1a2.2 2.2 0 1 0 4.4 0a2.2 2.2 0 1 0 -4.4 0M597.1 159.1a2.2 2.2 0 1 0 4.4 0a2.2 2.2 0 1 0 -4.4 0M585.5 139.5a2.2 2.2 0 1 0 4.4 0a2.2 2.2 0 1 0 -4.4 0M629.4 138.5a2.2 2.2 0 1 0 4.4 0a2.2 2.2 0 1 0 -4.4 0M606.6 156.5a2.2 2.2 0 1 0 4.4 0a2.2 2.2 0 1 0 -4.4 0M613.5 119.5a2.2 2.2 0 1 0 4.4 0a2.2 2.2 0 1 0 -4.4 0M626.7 141.3a2.2 2.2 0 1 0 4.4 0a2.2 2.2 0 1 0 -4.4 0M592.9 138.0a2.2 2.2 0 1 0 4.4 0a2.2 2.2 0 1 0 -4.4 0M594.6 145.4a2.2 2.2 0 1 0 4.4 0a2.2 2.2 0 1 0 -4.4 0M635.8 119.2a2.2 2.2 0 1 0 4.4 0a2.2 2.2 0 1 0 -4.4 0M628.3 121.3a2.2 2.2 0 1 0 4.4 0a2.2 2.2 0 1 0 -4.4 0M572.1 121.1a2.2 2.2 0 1 0 4.4 0a2.2 2.2 0 1 0 -4.4 0M551.7 115.9a2.2 2.2 0 1 0 4.4 0a2.2 2.2 0 1 0 -4.4 0M553.7 124.4a2.2 2.2 0 1 0 4.4 0a2.2 2.2 0 1 0 -4.4 0M564.5 111.0a2.2 2.2 0 1 0 4.4 0a2.2 2.2 0 1 0 -4.4 0M633.3 111.5a2.2 2.2 0 1 0 4.4 0a2.2 2.2 0 1 0 -4.4 0M628.5 111.0a2.2 2.2 0 1 0 4.4 0a2.2 2.2 0 1 0 -4.4 0M621.4 110.5a2.2 2.2 0 1 0 4.4 0a2.2 2.2 0 1 0 -4.4 0M596.4 326.2a2.2 2.2 0 1 0 4.4 0a2.2 2.2 0 1 0 -4.4 0M596.6 317.8a2.2 2.2 0 1 0 4.4 0a2.2 2.2 0 1 0 -4.4 0M593.7 324.8a2.2 2.2 0 1 0 4.4 0a2.2 2.2 0 1 0 -4.4 0M610.6 317.8a2.2 2.2 0 1 0 4.4 0a2.2 2.2 0 1 0 -4.4 0M588.2 322.9a2.2 2.2 0 1 0 4.4 0a2.2 2.2 0 1 0 -4.4 0M596.9 319.7a2.2 2.2 0 1 0 4.4 0a2.2 2.2 0 1 0 -4.4 0M590.9 322.5a2.2 2.2 0 1 0 4.4 0a2.2 2.2 0 1 0 -4.4 0M600.2 323.3a2.2 2.2 0 1 0 4.4 0a2.2 2.2 0 1 0 -4.4 0M602.4 323.7a2.2 2.2 0 1 0 4.4 0a2.2 2.2 0 1 0 -4.4 0M596.2 319.2a2.2 2.2 0 1 0 4.4 0a2.2 2.2 0 1 0 -4.4 0M607.5 323.6a2.2 2.2 0 1 0 4.4 0a2.2 2.2 0 1 0 -4.4 0M607.2 321.0a2.2 2.2 0 1 0 4.4 0a2.2 2.2 0 1 0 -4.4 0M587.4 320.4a2.2 2.2 0 1 0 4.4 0a2.2 2.2 0 1 0 -4.4 0M615.9 316.9a2.2 2.2 0 1 0 4.4 0a2.2 2.2 0 1 0 -4.4 0M586.6 318.8a2.2 2.2 0 1 0 4.4 0a2.2 2.2 0 1 0 -4.4 0M582.5 320.5a2.2 2.2 0 1 0 4.4 0a2.2 2.2 0 1 0 -4.4 0M586.7 321.7a2.2 2.2 0 1 0 4.4 0a2.2 2.2 0 1 0 -4.4 0M602.4 321.0a2.2 2.2 0 1 0 4.4 0a2.2 2.2 0 1 0 -4.4 0M578.0 320.1a2.2 2.2 0 1 0 4.4 0a2.2 2.2 0 1 0 -4.4 0M591.0 314.9a2.2 2.2 0 1 0 4.4 0a2.2 2.2 0 1 0 -4.4 0M602.0 324.2a2.2 2.2 0 1 0 4.4 0a2.2 2.2 0 1 0 -4.4 0M596.0 326.5a2.2 2.2 0 1 0 4.4 0a2.2 2.2 0 1 0 -4.4 0M588.6 316.3a2.2 2.2 0 1 0 4.4 0a2.2 2.2 0 1 0 -4.4 0M590.9 324.6a2.2 2.2 0 1 0 4.4 0a2.2 2.2 0 1 0 -4.4 0M604.0 315.3a2.2 2.2 0 1 0 4.4 0a2.2 2.2 0 1 0 -4.4 0M581.2 317.8a2.2 2.2 0 1 0 4.4 0a2.2 2.2 0 1 0 -4.4 0M584.6 317.1a2.2 2.2 0 1 0 4.4 0a2.2 2.2 0 1 0 -4.4 0M598.1 319.8a2.2 2.2 0 1 0 4.4 0a2.2 2.2 0 1 0 -4.4 0M611.2 315.1a2.2 2.2 0 1 0 4.4 0a2.2 2.2 0 1 0 -4.4 0M594.5 326.0a2.2 2.2 0 1 0 4.4 0a2.2 2.2 0 1 0 -4.4 0M605.4 323.9a2.2 2.2 0 1 0 4.4 0a2.2 2.2 0 1 0 -4.4 0M593.0 320.3a2.2 2.2 0 1 0 4.4 0a2.2 2.2 0 1 0 -4.4 0M602.0 323.1a2.2 2.2 0 1 0 4.4 0a2.2 2.2 0 1 0 -4.4 0M584.2 313.5a2.2 2.2 0 1 0 4.4 0a2.2 2.2 0 1 0 -4.4 0M596.4 326.0a2.2 2.2 0 1 0 4.4 0a2.2 2.2 0 1 0 -4.4 0M595.2 325.2a2.2 2.2 0 1 0 4.4 0a2.2 2.2 0 1 0 -4.4 0M592.4 322.0a2.2 2.2 0 1 0 4.4 0a2.2 2.2 0 1 0 -4.4 0M591.5 319.7a2.2 2.2 0 1 0 4.4 0a2.2 2.2 0 1 0 -4.4 0M576.8 314.2a2.2 2.2 0 1 0 4.4 0a2.2 2.2 0 1 0 -4.4 0M602.0 319.2a2.2 2.2 0 1 0 4.4 0a2.2 2.2 0 1 0 -4.4 0M600.4 319.4a2.2 2.2 0 1 0 4.4 0a2.2 2.2 0 1 0 -4.4 0M606.4 314.8a2.2 2.2 0 1 0 4.4 0a2.2 2.2 0 1 0 -4.4 0M597.6 318.1a2.2 2.2 0 1 0 4.4 0a2.2 2.2 0 1 0 -4.4 0M605.7 319.9a2.2 2.2 0 1 0 4.4 0a2.2 2.2 0 1 0 -4.4 0M584.2 322.7a2.2 2.2 0 1 0 4.4 0a2.2 2.2 0 1 0 -4.4 0M591.5 326.6a2.2 2.2 0 1 0 4.4 0a2.2 2.2 0 1 0 -4.4 0M592.2 324.3a2.2 2.2 0 1 0 4.4 0a2.2 2.2 0 1 0 -4.4 0M591.4 326.0a2.2 2.2 0 1 0 4.4 0a2.2 2.2 0 1 0 -4.4 0M581.2 316.8a2.2 2.2 0 1 0 4.4 0a2.2 2.2 0 1 0 -4.4 0M578.1 319.7a2.2 2.2 0 1 0 4.4 0a2.2 2.2 0 1 0 -4.4 0M593.8 318.6a2.2 2.2 0 1 0 4.4 0a2.2 2.2 0 1 0 -4.4 0M614.6 317.4a2.2 2.2 0 1 0 4.4 0a2.2 2.2 0 1 0 -4.4 0M597.9 316.9a2.2 2.2 0 1 0 4.4 0a2.2 2.2 0 1 0 -4.4 0M596.3 316.3a2.2 2.2 0 1 0 4.4 0a2.2 2.2 0 1 0 -4.4 0M595.8 325.2a2.2 2.2 0 1 0 4.4 0a2.2 2.2 0 1 0 -4.4 0M597.1 325.0a2.2 2.2 0 1 0 4.4 0a2.2 2.2 0 1 0 -4.4 0M603.3 320.9a2.2 2.2 0 1 0 4.4 0a2.2 2.2 0 1 0 -4.4 0M593.4 323.8a2.2 2.2 0 1 0 4.4 0a2.2 2.2 0 1 0 -4.4 0M601.5 315.9a2.2 2.2 0 1 0 4.4 0a2.2 2.2 0 1 0 -4.4 0M608.4 318.9a2.2 2.2 0 1 0 4.4 0a2.2 2.2 0 1 0 -4.4 0M609.4 314.3a2.2 2.2 0 1 0 4.4 0a2.2 2.2 0 1 0 -4.4 0M598.4 322.1a2.2 2.2 0 1 0 4.4 0a2.2 2.2 0 1 0 -4.4 0M595.0 315.9a2.2 2.2 0 1 0 4.4 0a2.2 2.2 0 1 0 -4.4 0M607.6 324.7a2.2 2.2 0 1 0 4.4 0a2.2 2.2 0 1 0 -4.4 0M602.2 320.6a2.2 2.2 0 1 0 4.4 0a2.2 2.2 0 1 0 -4.4 0M594.0 323.5a2.2 2.2 0 1 0 4.4 0a2.2 2.2 0 1 0 -4.4 0M593.3 314.6a2.2 2.2 0 1 0 4.4 0a2.2 2.2 0 1 0 -4.4 0M592.7 324.7a2.2 2.2 0 1 0 4.4 0a2.2 2.2 0 1 0 -4.4 0M591.3 324.0a2.2 2.2 0 1 0 4.4 0a2.2 2.2 0 1 0 -4.4 0M614.8 317.7a2.2 2.2 0 1 0 4.4 0a2.2 2.2 0 1 0 -4.4 0M587.1 313.6a2.2 2.2 0 1 0 4.4 0a2.2 2.2 0 1 0 -4.4 0M584.0 322.1a2.2 2.2 0 1 0 4.4 0a2.2 2.2 0 1 0 -4.4 0M591.5 317.5a2.2 2.2 0 1 0 4.4 0a2.2 2.2 0 1 0 -4.4 0M595.4 320.6a2.2 2.2 0 1 0 4.4 0a2.2 2.2 0 1 0 -4.4 0M592.4 322.1a2.2 2.2 0 1 0 4.4 0a2.2 2.2 0 1 0 -4.4 0M594.9 326.5a2.2 2.2 0 1 0 4.4 0a2.2 2.2 0 1 0 -4.4 0M587.8 313.6a2.2 2.2 0 1 0 4.4 0a2.2 2.2 0 1 0 -4.4 0M600.1 325.2a2.2 2.2 0 1 0 4.4 0a2.2 2.2 0 1 0 -4.4 0M600.7 319.2a2.2 2.2 0 1 0 4.4 0a2.2 2.2 0 1 0 -4.4 0M592.1 320.5a2.2 2.2 0 1 0 4.4 0a2.2 2.2 0 1 0 -4.4 0M596.5 320.5a2.2 2.2 0 1 0 4.4 0a2.2 2.2 0 1 0 -4.4 0M584.7 324.0a2.2 2.2 0 1 0 4.4 0a2.2 2.2 0 1 0 -4.4 0M594.8 324.6a2.2 2.2 0 1 0 4.4 0a2.2 2.2 0 1 0 -4.4 0M590.7 315.3a2.2 2.2 0 1 0 4.4 0a2.2 2.2 0 1 0 -4.4 0M597.9 326.5a2.2 2.2 0 1 0 4.4 0a2.2 2.2 0 1 0 -4.4 0M606.8 315.6a2.2 2.2 0 1 0 4.4 0a2.2 2.2 0 1 0 -4.4 0M594.8 318.9a2.2 2.2 0 1 0 4.4 0a2.2 2.2 0 1 0 -4.4 0M576.8 317.4a2.2 2.2 0 1 0 4.4 0a2.2 2.2 0 1 0 -4.4 0M596.9 326.3a2.2 2.2 0 1 0 4.4 0a2.2 2.2 0 1 0 -4.4 0M591.5 325.0a2.2 2.2 0 1 0 4.4 0a2.2 2.2 0 1 0 -4.4 0M607.9 326.4a2.2 2.2 0 1 0 4.4 0a2.2 2.2 0 1 0 -4.4 0M598.5 322.1a2.2 2.2 0 1 0 4.4 0a2.2 2.2 0 1 0 -4.4 0M608.0 325.9a2.2 2.2 0 1 0 4.4 0a2.2 2.2 0 1 0 -4.4 0M600.9 319.1a2.2 2.2 0 1 0 4.4 0a2.2 2.2 0 1 0 -4.4 0M600.6 314.6a2.2 2.2 0 1 0 4.4 0a2.2 2.2 0 1 0 -4.4 0M596.2 323.4a2.2 2.2 0 1 0 4.4 0a2.2 2.2 0 1 0 -4.4 0M599.3 324.6a2.2 2.2 0 1 0 4.4 0a2.2 2.2 0 1 0 -4.4 0M599.7 318.6a2.2 2.2 0 1 0 4.4 0a2.2 2.2 0 1 0 -4.4 0M599.9 324.9a2.2 2.2 0 1 0 4.4 0a2.2 2.2 0 1 0 -4.4 0M604.9 322.2a2.2 2.2 0 1 0 4.4 0a2.2 2.2 0 1 0 -4.4 0M587.2 325.1a2.2 2.2 0 1 0 4.4 0a2.2 2.2 0 1 0 -4.4 0M590.7 322.1a2.2 2.2 0 1 0 4.4 0a2.2 2.2 0 1 0 -4.4 0M607.9 320.9a2.2 2.2 0 1 0 4.4 0a2.2 2.2 0 1 0 -4.4 0M597.9 324.6a2.2 2.2 0 1 0 4.4 0a2.2 2.2 0 1 0 -4.4 0M613.5 322.8a2.2 2.2 0 1 0 4.4 0a2.2 2.2 0 1 0 -4.4 0M596.5 319.3a2.2 2.2 0 1 0 4.4 0a2.2 2.2 0 1 0 -4.4 0M580.8 322.0a2.2 2.2 0 1 0 4.4 0a2.2 2.2 0 1 0 -4.4 0M589.6 322.1a2.2 2.2 0 1 0 4.4 0a2.2 2.2 0 1 0 -4.4 0M583.5 317.6a2.2 2.2 0 1 0 4.4 0a2.2 2.2 0 1 0 -4.4 0M608.0 314.7a2.2 2.2 0 1 0 4.4 0a2.2 2.2 0 1 0 -4.4 0M594.2 326.4a2.2 2.2 0 1 0 4.4 0a2.2 2.2 0 1 0 -4.4 0M603.9 317.0a2.2 2.2 0 1 0 4.4 0a2.2 2.2 0 1 0 -4.4 0M587.3 316.5a2.2 2.2 0 1 0 4.4 0a2.2 2.2 0 1 0 -4.4 0M591.7 324.7a2.2 2.2 0 1 0 4.4 0a2.2 2.2 0 1 0 -4.4 0M595.8 315.5a2.2 2.2 0 1 0 4.4 0a2.2 2.2 0 1 0 -4.4 0M589.4 313.6a2.2 2.2 0 1 0 4.4 0a2.2 2.2 0 1 0 -4.4 0M602.0 317.1a2.2 2.2 0 1 0 4.4 0a2.2 2.2 0 1 0 -4.4 0M587.9 319.1a2.2 2.2 0 1 0 4.4 0a2.2 2.2 0 1 0 -4.4 0M607.3 314.0a2.2 2.2 0 1 0 4.4 0a2.2 2.2 0 1 0 -4.4 0M586.1 315.0a2.2 2.2 0 1 0 4.4 0a2.2 2.2 0 1 0 -4.4 0M604.3 313.4a2.2 2.2 0 1 0 4.4 0a2.2 2.2 0 1 0 -4.4 0M580.5 313.9a2.2 2.2 0 1 0 4.4 0a2.2 2.2 0 1 0 -4.4 0M587.4 325.2a2.2 2.2 0 1 0 4.4 0a2.2 2.2 0 1 0 -4.4 0M600.6 325.4a2.2 2.2 0 1 0 4.4 0a2.2 2.2 0 1 0 -4.4 0M609.3 316.6a2.2 2.2 0 1 0 4.4 0a2.2 2.2 0 1 0 -4.4 0M599.8 323.5a2.2 2.2 0 1 0 4.4 0a2.2 2.2 0 1 0 -4.4 0M590.8 322.9a2.2 2.2 0 1 0 4.4 0a2.2 2.2 0 1 0 -4.4 0M591.4 321.2a2.2 2.2 0 1 0 4.4 0a2.2 2.2 0 1 0 -4.4 0M603.9 315.4a2.2 2.2 0 1 0 4.4 0a2.2 2.2 0 1 0 -4.4 0M594.7 322.4a2.2 2.2 0 1 0 4.4 0a2.2 2.2 0 1 0 -4.4 0M602.8 317.8a2.2 2.2 0 1 0 4.4 0a2.2 2.2 0 1 0 -4.4 0M609.5 324.5a2.2 2.2 0 1 0 4.4 0a2.2 2.2 0 1 0 -4.4 0M595.0 319.7a2.2 2.2 0 1 0 4.4 0a2.2 2.2 0 1 0 -4.4 0M595.5 326.8a2.2 2.2 0 1 0 4.4 0a2.2 2.2 0 1 0 -4.4 0M593.3 326.8a2.2 2.2 0 1 0 4.4 0a2.2 2.2 0 1 0 -4.4 0M603.5 313.5a2.2 2.2 0 1 0 4.4 0a2.2 2.2 0 1 0 -4.4 0M610.1 318.6a2.2 2.2 0 1 0 4.4 0a2.2 2.2 0 1 0 -4.4 0M600.4 324.1a2.2 2.2 0 1 0 4.4 0a2.2 2.2 0 1 0 -4.4 0M592.0 320.8a2.2 2.2 0 1 0 4.4 0a2.2 2.2 0 1 0 -4.4 0M572.3 314.3a2.2 2.2 0 1 0 4.4 0a2.2 2.2 0 1 0 -4.4 0M591.4 321.6a2.2 2.2 0 1 0 4.4 0a2.2 2.2 0 1 0 -4.4 0M603.2 323.1a2.2 2.2 0 1 0 4.4 0a2.2 2.2 0 1 0 -4.4 0M579.0 317.1a2.2 2.2 0 1 0 4.4 0a2.2 2.2 0 1 0 -4.4 0M597.9 325.1a2.2 2.2 0 1 0 4.4 0a2.2 2.2 0 1 0 -4.4 0M602.4 316.5a2.2 2.2 0 1 0 4.4 0a2.2 2.2 0 1 0 -4.4 0M593.8 318.9a2.2 2.2 0 1 0 4.4 0a2.2 2.2 0 1 0 -4.4 0M602.9 325.0a2.2 2.2 0 1 0 4.4 0a2.2 2.2 0 1 0 -4.4 0M597.0 324.7a2.2 2.2 0 1 0 4.4 0a2.2 2.2 0 1 0 -4.4 0M580.5 317.3a2.2 2.2 0 1 0 4.4 0a2.2 2.2 0 1 0 -4.4 0M587.4 313.8a2.2 2.2 0 1 0 4.4 0a2.2 2.2 0 1 0 -4.4 0M596.7 326.2a2.2 2.2 0 1 0 4.4 0a2.2 2.2 0 1 0 -4.4 0M596.7 321.1a2.2 2.2 0 1 0 4.4 0a2.2 2.2 0 1 0 -4.4 0M589.5 315.9a2.2 2.2 0 1 0 4.4 0a2.2 2.2 0 1 0 -4.4 0M582.0 315.5a2.2 2.2 0 1 0 4.4 0a2.2 2.2 0 1 0 -4.4 0M605.0 322.3a2.2 2.2 0 1 0 4.4 0a2.2 2.2 0 1 0 -4.4 0M601.0 326.6a2.2 2.2 0 1 0 4.4 0a2.2 2.2 0 1 0 -4.4 0M600.0 324.1a2.2 2.2 0 1 0 4.4 0a2.2 2.2 0 1 0 -4.4 0M596.0 326.1a2.2 2.2 0 1 0 4.4 0a2.2 2.2 0 1 0 -4.4 0M604.5 320.1a2.2 2.2 0 1 0 4.4 0a2.2 2.2 0 1 0 -4.4 0M606.0 315.9a2.2 2.2 0 1 0 4.4 0a2.2 2.2 0 1 0 -4.4 0M604.8 322.6a2.2 2.2 0 1 0 4.4 0a2.2 2.2 0 1 0 -4.4 0M606.1 317.3a2.2 2.2 0 1 0 4.4 0a2.2 2.2 0 1 0 -4.4 0M580.8 315.1a2.2 2.2 0 1 0 4.4 0a2.2 2.2 0 1 0 -4.4 0M590.2 315.4a2.2 2.2 0 1 0 4.4 0a2.2 2.2 0 1 0 -4.4 0M603.7 318.0a2.2 2.2 0 1 0 4.4 0a2.2 2.2 0 1 0 -4.4 0M593.8 316.6a2.2 2.2 0 1 0 4.4 0a2.2 2.2 0 1 0 -4.4 0M593.8 318.7a2.2 2.2 0 1 0 4.4 0a2.2 2.2 0 1 0 -4.4 0M595.6 320.8a2.2 2.2 0 1 0 4.4 0a2.2 2.2 0 1 0 -4.4 0M587.2 323.7a2.2 2.2 0 1 0 4.4 0a2.2 2.2 0 1 0 -4.4 0M588.2 320.4a2.2 2.2 0 1 0 4.4 0a2.2 2.2 0 1 0 -4.4 0M601.4 326.2a2.2 2.2 0 1 0 4.4 0a2.2 2.2 0 1 0 -4.4 0M605.7 318.0a2.2 2.2 0 1 0 4.4 0a2.2 2.2 0 1 0 -4.4 0M597.8 313.5a2.2 2.2 0 1 0 4.4 0a2.2 2.2 0 1 0 -4.4 0M587.6 321.1a2.2 2.2 0 1 0 4.4 0a2.2 2.2 0 1 0 -4.4 0M598.5 320.4a2.2 2.2 0 1 0 4.4 0a2.2 2.2 0 1 0 -4.4 0M584.2 314.5a2.2 2.2 0 1 0 4.4 0a2.2 2.2 0 1 0 -4.4 0M586.3 320.7a2.2 2.2 0 1 0 4.4 0a2.2 2.2 0 1 0 -4.4 0M601.3 322.5a2.2 2.2 0 1 0 4.4 0a2.2 2.2 0 1 0 -4.4 0M606.5 313.4a2.2 2.2 0 1 0 4.4 0a2.2 2.2 0 1 0 -4.4 0M597.3 326.0a2.2 2.2 0 1 0 4.4 0a2.2 2.2 0 1 0 -4.4 0M598.7 318.0a2.2 2.2 0 1 0 4.4 0a2.2 2.2 0 1 0 -4.4 0M599.5 321.6a2.2 2.2 0 1 0 4.4 0a2.2 2.2 0 1 0 -4.4 0M596.2 319.1a2.2 2.2 0 1 0 4.4 0a2.2 2.2 0 1 0 -4.4 0M586.0 323.3a2.2 2.2 0 1 0 4.4 0a2.2 2.2 0 1 0 -4.4 0M600.0 322.3a2.2 2.2 0 1 0 4.4 0a2.2 2.2 0 1 0 -4.4 0M592.8 326.7a2.2 2.2 0 1 0 4.4 0a2.2 2.2 0 1 0 -4.4 0M589.1 315.0a2.2 2.2 0 1 0 4.4 0a2.2 2.2 0 1 0 -4.4 0M595.7 325.3a2.2 2.2 0 1 0 4.4 0a2.2 2.2 0 1 0 -4.4 0M595.3 315.0a2.2 2.2 0 1 0 4.4 0a2.2 2.2 0 1 0 -4.4 0M591.4 318.1a2.2 2.2 0 1 0 4.4 0a2.2 2.2 0 1 0 -4.4 0M585.0 324.3a2.2 2.2 0 1 0 4.4 0a2.2 2.2 0 1 0 -4.4 0M598.2 326.3a2.2 2.2 0 1 0 4.4 0a2.2 2.2 0 1 0 -4.4 0M591.9 314.3a2.2 2.2 0 1 0 4.4 0a2.2 2.2 0 1 0 -4.4 0M600.4 316.6a2.2 2.2 0 1 0 4.4 0a2.2 2.2 0 1 0 -4.4 0M605.3 325.6a2.2 2.2 0 1 0 4.4 0a2.2 2.2 0 1 0 -4.4 0M598.5 320.9a2.2 2.2 0 1 0 4.4 0a2.2 2.2 0 1 0 -4.4 0M597.2 314.8a2.2 2.2 0 1 0 4.4 0a2.2 2.2 0 1 0 -4.4 0M591.1 326.4a2.2 2.2 0 1 0 4.4 0a2.2 2.2 0 1 0 -4.4 0M586.6 319.1a2.2 2.2 0 1 0 4.4 0a2.2 2.2 0 1 0 -4.4 0M597.0 314.6a2.2 2.2 0 1 0 4.4 0a2.2 2.2 0 1 0 -4.4 0M593.3 324.4a2.2 2.2 0 1 0 4.4 0a2.2 2.2 0 1 0 -4.4 0M591.7 314.5a2.2 2.2 0 1 0 4.4 0a2.2 2.2 0 1 0 -4.4 0M587.6 314.1a2.2 2.2 0 1 0 4.4 0a2.2 2.2 0 1 0 -4.4 0M588.8 317.4a2.2 2.2 0 1 0 4.4 0a2.2 2.2 0 1 0 -4.4 0M596.2 314.8a2.2 2.2 0 1 0 4.4 0a2.2 2.2 0 1 0 -4.4 0M592.5 320.5a2.2 2.2 0 1 0 4.4 0a2.2 2.2 0 1 0 -4.4 0M606.8 325.3a2.2 2.2 0 1 0 4.4 0a2.2 2.2 0 1 0 -4.4 0M589.4 323.9a2.2 2.2 0 1 0 4.4 0a2.2 2.2 0 1 0 -4.4 0M592.8 319.8a2.2 2.2 0 1 0 4.4 0a2.2 2.2 0 1 0 -4.4 0M601.2 317.1a2.2 2.2 0 1 0 4.4 0a2.2 2.2 0 1 0 -4.4 0M589.3 316.9a2.2 2.2 0 1 0 4.4 0a2.2 2.2 0 1 0 -4.4 0M604.6 317.8a2.2 2.2 0 1 0 4.4 0a2.2 2.2 0 1 0 -4.4 0M589.9 317.3a2.2 2.2 0 1 0 4.4 0a2.2 2.2 0 1 0 -4.4 0M596.1 325.8a2.2 2.2 0 1 0 4.4 0a2.2 2.2 0 1 0 -4.4 0M599.4 324.9a2.2 2.2 0 1 0 4.4 0a2.2 2.2 0 1 0 -4.4 0M584.3 318.5a2.2 2.2 0 1 0 4.4 0a2.2 2.2 0 1 0 -4.4 0M591.4 322.4a2.2 2.2 0 1 0 4.4 0a2.2 2.2 0 1 0 -4.4 0M600.5 313.7a2.2 2.2 0 1 0 4.4 0a2.2 2.2 0 1 0 -4.4 0M606.1 319.1a2.2 2.2 0 1 0 4.4 0a2.2 2.2 0 1 0 -4.4 0M606.6 319.2a2.2 2.2 0 1 0 4.4 0a2.2 2.2 0 1 0 -4.4 0M597.0 318.9a2.2 2.2 0 1 0 4.4 0a2.2 2.2 0 1 0 -4.4 0M579.5 315.2a2.2 2.2 0 1 0 4.4 0a2.2 2.2 0 1 0 -4.4 0M580.9 313.8a2.2 2.2 0 1 0 4.4 0a2.2 2.2 0 1 0 -4.4 0M602.4 322.2a2.2 2.2 0 1 0 4.4 0a2.2 2.2 0 1 0 -4.4 0M586.3 321.7a2.2 2.2 0 1 0 4.4 0a2.2 2.2 0 1 0 -4.4 0M604.8 322.5a2.2 2.2 0 1 0 4.4 0a2.2 2.2 0 1 0 -4.4 0M604.3 322.5a2.2 2.2 0 1 0 4.4 0a2.2 2.2 0 1 0 -4.4 0M579.5 318.1a2.2 2.2 0 1 0 4.4 0a2.2 2.2 0 1 0 -4.4 0M582.9 315.6a2.2 2.2 0 1 0 4.4 0a2.2 2.2 0 1 0 -4.4 0M603.0 323.9a2.2 2.2 0 1 0 4.4 0a2.2 2.2 0 1 0 -4.4 0M607.7 323.0a2.2 2.2 0 1 0 4.4 0a2.2 2.2 0 1 0 -4.4 0M607.2 314.5a2.2 2.2 0 1 0 4.4 0a2.2 2.2 0 1 0 -4.4 0M592.2 323.2a2.2 2.2 0 1 0 4.4 0a2.2 2.2 0 1 0 -4.4 0M597.8 325.2a2.2 2.2 0 1 0 4.4 0a2.2 2.2 0 1 0 -4.4 0M598.6 318.6a2.2 2.2 0 1 0 4.4 0a2.2 2.2 0 1 0 -4.4 0M593.1 323.8a2.2 2.2 0 1 0 4.4 0a2.2 2.2 0 1 0 -4.4 0M598.6 316.9a2.2 2.2 0 1 0 4.4 0a2.2 2.2 0 1 0 -4.4 0M613.2 322.5a2.2 2.2 0 1 0 4.4 0a2.2 2.2 0 1 0 -4.4 0M597.6 320.9a2.2 2.2 0 1 0 4.4 0a2.2 2.2 0 1 0 -4.4 0M602.6 321.6a2.2 2.2 0 1 0 4.4 0a2.2 2.2 0 1 0 -4.4 0M595.0 323.5a2.2 2.2 0 1 0 4.4 0a2.2 2.2 0 1 0 -4.4 0M592.7 318.6a2.2 2.2 0 1 0 4.4 0a2.2 2.2 0 1 0 -4.4 0M591.9 316.2a2.2 2.2 0 1 0 4.4 0a2.2 2.2 0 1 0 -4.4 0M599.5 325.5a2.2 2.2 0 1 0 4.4 0a2.2 2.2 0 1 0 -4.4 0M597.7 326.0a2.2 2.2 0 1 0 4.4 0a2.2 2.2 0 1 0 -4.4 0M587.8 326.7a2.2 2.2 0 1 0 4.4 0a2.2 2.2 0 1 0 -4.4 0M588.4 321.2a2.2 2.2 0 1 0 4.4 0a2.2 2.2 0 1 0 -4.4 0M592.2 326.5a2.2 2.2 0 1 0 4.4 0a2.2 2.2 0 1 0 -4.4 0M580.0 321.6a2.2 2.2 0 1 0 4.4 0a2.2 2.2 0 1 0 -4.4 0M611.2 322.4a2.2 2.2 0 1 0 4.4 0a2.2 2.2 0 1 0 -4.4 0M589.9 315.3a2.2 2.2 0 1 0 4.4 0a2.2 2.2 0 1 0 -4.4 0M592.6 316.2a2.2 2.2 0 1 0 4.4 0a2.2 2.2 0 1 0 -4.4 0M592.4 325.8a2.2 2.2 0 1 0 4.4 0a2.2 2.2 0 1 0 -4.4 0M594.2 325.8a2.2 2.2 0 1 0 4.4 0a2.2 2.2 0 1 0 -4.4 0M611.0 321.7a2.2 2.2 0 1 0 4.4 0a2.2 2.2 0 1 0 -4.4 0M612.1 319.4a2.2 2.2 0 1 0 4.4 0a2.2 2.2 0 1 0 -4.4 0M596.1 314.0a2.2 2.2 0 1 0 4.4 0a2.2 2.2 0 1 0 -4.4 0M581.3 320.9a2.2 2.2 0 1 0 4.4 0a2.2 2.2 0 1 0 -4.4 0M592.1 316.6a2.2 2.2 0 1 0 4.4 0a2.2 2.2 0 1 0 -4.4 0M590.1 320.1a2.2 2.2 0 1 0 4.4 0a2.2 2.2 0 1 0 -4.4 0M580.6 321.7a2.2 2.2 0 1 0 4.4 0a2.2 2.2 0 1 0 -4.4 0M593.6 317.9a2.2 2.2 0 1 0 4.4 0a2.2 2.2 0 1 0 -4.4 0M599.7 319.6a2.2 2.2 0 1 0 4.4 0a2.2 2.2 0 1 0 -4.4 0M582.8 325.8a2.2 2.2 0 1 0 4.4 0a2.2 2.2 0 1 0 -4.4 0M599.5 325.2a2.2 2.2 0 1 0 4.4 0a2.2 2.2 0 1 0 -4.4 0M597.3 314.0a2.2 2.2 0 1 0 4.4 0a2.2 2.2 0 1 0 -4.4 0M586.2 323.1a2.2 2.2 0 1 0 4.4 0a2.2 2.2 0 1 0 -4.4 0M599.4 319.6a2.2 2.2 0 1 0 4.4 0a2.2 2.2 0 1 0 -4.4 0M596.6 323.5a2.2 2.2 0 1 0 4.4 0a2.2 2.2 0 1 0 -4.4 0M585.1 315.6a2.2 2.2 0 1 0 4.4 0a2.2 2.2 0 1 0 -4.4 0M609.0 316.2a2.2 2.2 0 1 0 4.4 0a2.2 2.2 0 1 0 -4.4 0M595.3 325.8a2.2 2.2 0 1 0 4.4 0a2.2 2.2 0 1 0 -4.4 0M603.3 315.1a2.2 2.2 0 1 0 4.4 0a2.2 2.2 0 1 0 -4.4 0M598.9 316.7a2.2 2.2 0 1 0 4.4 0a2.2 2.2 0 1 0 -4.4 0M590.0 319.3a2.2 2.2 0 1 0 4.4 0a2.2 2.2 0 1 0 -4.4 0M586.4 320.2a2.2 2.2 0 1 0 4.4 0a2.2 2.2 0 1 0 -4.4 0M589.3 324.5a2.2 2.2 0 1 0 4.4 0a2.2 2.2 0 1 0 -4.4 0M597.1 318.1a2.2 2.2 0 1 0 4.4 0a2.2 2.2 0 1 0 -4.4 0M598.3 325.7a2.2 2.2 0 1 0 4.4 0a2.2 2.2 0 1 0 -4.4 0M600.2 320.1a2.2 2.2 0 1 0 4.4 0a2.2 2.2 0 1 0 -4.4 0M609.5 319.4a2.2 2.2 0 1 0 4.4 0a2.2 2.2 0 1 0 -4.4 0M595.8 322.2a2.2 2.2 0 1 0 4.4 0a2.2 2.2 0 1 0 -4.4 0M604.8 325.0a2.2 2.2 0 1 0 4.4 0a2.2 2.2 0 1 0 -4.4 0M603.7 324.8a2.2 2.2 0 1 0 4.4 0a2.2 2.2 0 1 0 -4.4 0M602.2 316.0a2.2 2.2 0 1 0 4.4 0a2.2 2.2 0 1 0 -4.4 0M593.4 325.5a2.2 2.2 0 1 0 4.4 0a2.2 2.2 0 1 0 -4.4 0M597.2 325.0a2.2 2.2 0 1 0 4.4 0a2.2 2.2 0 1 0 -4.4 0M594.0 314.7a2.2 2.2 0 1 0 4.4 0a2.2 2.2 0 1 0 -4.4 0M592.0 325.4a2.2 2.2 0 1 0 4.4 0a2.2 2.2 0 1 0 -4.4 0M601.4 318.4a2.2 2.2 0 1 0 4.4 0a2.2 2.2 0 1 0 -4.4 0M597.1 317.4a2.2 2.2 0 1 0 4.4 0a2.2 2.2 0 1 0 -4.4 0M585.1 321.1a2.2 2.2 0 1 0 4.4 0a2.2 2.2 0 1 0 -4.4 0M588.0 321.0a2.2 2.2 0 1 0 4.4 0a2.2 2.2 0 1 0 -4.4 0M603.6 317.9a2.2 2.2 0 1 0 4.4 0a2.2 2.2 0 1 0 -4.4 0M588.8 317.6a2.2 2.2 0 1 0 4.4 0a2.2 2.2 0 1 0 -4.4 0M603.8 325.2a2.2 2.2 0 1 0 4.4 0a2.2 2.2 0 1 0 -4.4 0M590.8 326.4a2.2 2.2 0 1 0 4.4 0a2.2 2.2 0 1 0 -4.4 0M599.1 326.5a2.2 2.2 0 1 0 4.4 0a2.2 2.2 0 1 0 -4.4 0M605.1 326.0a2.2 2.2 0 1 0 4.4 0a2.2 2.2 0 1 0 -4.4 0M601.9 326.5a2.2 2.2 0 1 0 4.4 0a2.2 2.2 0 1 0 -4.4 0M590.1 323.0a2.2 2.2 0 1 0 4.4 0a2.2 2.2 0 1 0 -4.4 0M600.0 325.3a2.2 2.2 0 1 0 4.4 0a2.2 2.2 0 1 0 -4.4 0M600.5 319.3a2.2 2.2 0 1 0 4.4 0a2.2 2.2 0 1 0 -4.4 0M588.9 324.8a2.2 2.2 0 1 0 4.4 0a2.2 2.2 0 1 0 -4.4 0M607.3 325.7a2.2 2.2 0 1 0 4.4 0a2.2 2.2 0 1 0 -4.4 0M596.6 324.1a2.2 2.2 0 1 0 4.4 0a2.2 2.2 0 1 0 -4.4 0M596.4 317.4a2.2 2.2 0 1 0 4.4 0a2.2 2.2 0 1 0 -4.4 0M592.1 324.6a2.2 2.2 0 1 0 4.4 0a2.2 2.2 0 1 0 -4.4 0M596.9 323.0a2.2 2.2 0 1 0 4.4 0a2.2 2.2 0 1 0 -4.4 0M581.2 323.2a2.2 2.2 0 1 0 4.4 0a2.2 2.2 0 1 0 -4.4 0M588.6 321.2a2.2 2.2 0 1 0 4.4 0a2.2 2.2 0 1 0 -4.4 0M604.9 316.4a2.2 2.2 0 1 0 4.4 0a2.2 2.2 0 1 0 -4.4 0M602.2 323.7a2.2 2.2 0 1 0 4.4 0a2.2 2.2 0 1 0 -4.4 0M573.7 319.1a2.2 2.2 0 1 0 4.4 0a2.2 2.2 0 1 0 -4.4 0M601.8 314.0a2.2 2.2 0 1 0 4.4 0a2.2 2.2 0 1 0 -4.4 0M592.5 313.5a2.2 2.2 0 1 0 4.4 0a2.2 2.2 0 1 0 -4.4 0M596.6 324.5a2.2 2.2 0 1 0 4.4 0a2.2 2.2 0 1 0 -4.4 0M591.1 323.2a2.2 2.2 0 1 0 4.4 0a2.2 2.2 0 1 0 -4.4 0M602.7 321.3a2.2 2.2 0 1 0 4.4 0a2.2 2.2 0 1 0 -4.4 0M585.1 324.5a2.2 2.2 0 1 0 4.4 0a2.2 2.2 0 1 0 -4.4 0M604.2 314.9a2.2 2.2 0 1 0 4.4 0a2.2 2.2 0 1 0 -4.4 0M589.6 326.3a2.2 2.2 0 1 0 4.4 0a2.2 2.2 0 1 0 -4.4 0M592.9 323.4a2.2 2.2 0 1 0 4.4 0a2.2 2.2 0 1 0 -4.4 0M606.7 314.2a2.2 2.2 0 1 0 4.4 0a2.2 2.2 0 1 0 -4.4 0M596.9 319.2a2.2 2.2 0 1 0 4.4 0a2.2 2.2 0 1 0 -4.4 0M592.4 323.9a2.2 2.2 0 1 0 4.4 0a2.2 2.2 0 1 0 -4.4 0M591.0 317.3a2.2 2.2 0 1 0 4.4 0a2.2 2.2 0 1 0 -4.4 0M599.3 326.2a2.2 2.2 0 1 0 4.4 0a2.2 2.2 0 1 0 -4.4 0M588.5 326.3a2.2 2.2 0 1 0 4.4 0a2.2 2.2 0 1 0 -4.4 0M601.3 321.9a2.2 2.2 0 1 0 4.4 0a2.2 2.2 0 1 0 -4.4 0M594.8 319.6a2.2 2.2 0 1 0 4.4 0a2.2 2.2 0 1 0 -4.4 0M597.1 318.1a2.2 2.2 0 1 0 4.4 0a2.2 2.2 0 1 0 -4.4 0M586.6 322.8a2.2 2.2 0 1 0 4.4 0a2.2 2.2 0 1 0 -4.4 0M595.7 323.6a2.2 2.2 0 1 0 4.4 0a2.2 2.2 0 1 0 -4.4 0M593.7 326.3a2.2 2.2 0 1 0 4.4 0a2.2 2.2 0 1 0 -4.4 0M601.1 325.6a2.2 2.2 0 1 0 4.4 0a2.2 2.2 0 1 0 -4.4 0M594.1 326.5a2.2 2.2 0 1 0 4.4 0a2.2 2.2 0 1 0 -4.4 0M595.5 315.1a2.2 2.2 0 1 0 4.4 0a2.2 2.2 0 1 0 -4.4 0M584.9 322.4a2.2 2.2 0 1 0 4.4 0a2.2 2.2 0 1 0 -4.4 0M597.8 326.6a2.2 2.2 0 1 0 4.4 0a2.2 2.2 0 1 0 -4.4 0M597.3 325.7a2.2 2.2 0 1 0 4.4 0a2.2 2.2 0 1 0 -4.4 0M583.1 320.6a2.2 2.2 0 1 0 4.4 0a2.2 2.2 0 1 0 -4.4 0M595.4 322.6a2.2 2.2 0 1 0 4.4 0a2.2 2.2 0 1 0 -4.4 0M582.0 316.4a2.2 2.2 0 1 0 4.4 0a2.2 2.2 0 1 0 -4.4 0M609.2 315.8a2.2 2.2 0 1 0 4.4 0a2.2 2.2 0 1 0 -4.4 0M584.6 318.1a2.2 2.2 0 1 0 4.4 0a2.2 2.2 0 1 0 -4.4 0M582.9 321.1a2.2 2.2 0 1 0 4.4 0a2.2 2.2 0 1 0 -4.4 0M592.5 320.2a2.2 2.2 0 1 0 4.4 0a2.2 2.2 0 1 0 -4.4 0M597.5 316.0a2.2 2.2 0 1 0 4.4 0a2.2 2.2 0 1 0 -4.4 0M592.5 317.0a2.2 2.2 0 1 0 4.4 0a2.2 2.2 0 1 0 -4.4 0M576.7 318.9a2.2 2.2 0 1 0 4.4 0a2.2 2.2 0 1 0 -4.4 0M587.2 326.3a2.2 2.2 0 1 0 4.4 0a2.2 2.2 0 1 0 -4.4 0M578.5 320.9a2.2 2.2 0 1 0 4.4 0a2.2 2.2 0 1 0 -4.4 0M608.3 325.0a2.2 2.2 0 1 0 4.4 0a2.2 2.2 0 1 0 -4.4 0M605.5 319.6a2.2 2.2 0 1 0 4.4 0a2.2 2.2 0 1 0 -4.4 0M607.8 320.7a2.2 2.2 0 1 0 4.4 0a2.2 2.2 0 1 0 -4.4 0M587.3 317.2a2.2 2.2 0 1 0 4.4 0a2.2 2.2 0 1 0 -4.4 0M606.3 326.7a2.2 2.2 0 1 0 4.4 0a2.2 2.2 0 1 0 -4.4 0M593.5 324.2a2.2 2.2 0 1 0 4.4 0a2.2 2.2 0 1 0 -4.4 0M572.4 316.6a2.2 2.2 0 1 0 4.4 0a2.2 2.2 0 1 0 -4.4 0M606.8 323.5a2.2 2.2 0 1 0 4.4 0a2.2 2.2 0 1 0 -4.4 0M603.4 317.3a2.2 2.2 0 1 0 4.4 0a2.2 2.2 0 1 0 -4.4 0M602.7 326.2a2.2 2.2 0 1 0 4.4 0a2.2 2.2 0 1 0 -4.4 0M592.3 326.5a2.2 2.2 0 1 0 4.4 0a2.2 2.2 0 1 0 -4.4 0M592.9 320.8a2.2 2.2 0 1 0 4.4 0a2.2 2.2 0 1 0 -4.4 0M599.7 315.0a2.2 2.2 0 1 0 4.4 0a2.2 2.2 0 1 0 -4.4 0M604.1 314.3a2.2 2.2 0 1 0 4.4 0a2.2 2.2 0 1 0 -4.4 0M601.7 323.6a2.2 2.2 0 1 0 4.4 0a2.2 2.2 0 1 0 -4.4 0M602.5 318.1a2.2 2.2 0 1 0 4.4 0a2.2 2.2 0 1 0 -4.4 0M600.5 321.8a2.2 2.2 0 1 0 4.4 0a2.2 2.2 0 1 0 -4.4 0M583.3 320.9a2.2 2.2 0 1 0 4.4 0a2.2 2.2 0 1 0 -4.4 0M601.3 314.2a2.2 2.2 0 1 0 4.4 0a2.2 2.2 0 1 0 -4.4 0M613.1 314.4a2.2 2.2 0 1 0 4.4 0a2.2 2.2 0 1 0 -4.4 0M586.9 324.2a2.2 2.2 0 1 0 4.4 0a2.2 2.2 0 1 0 -4.4 0M583.8 323.9a2.2 2.2 0 1 0 4.4 0a2.2 2.2 0 1 0 -4.4 0M598.9 319.0a2.2 2.2 0 1 0 4.4 0a2.2 2.2 0 1 0 -4.4 0M602.9 322.6a2.2 2.2 0 1 0 4.4 0a2.2 2.2 0 1 0 -4.4 0M595.0 326.6a2.2 2.2 0 1 0 4.4 0a2.2 2.2 0 1 0 -4.4 0M598.1 325.8a2.2 2.2 0 1 0 4.4 0a2.2 2.2 0 1 0 -4.4 0M612.6 315.7a2.2 2.2 0 1 0 4.4 0a2.2 2.2 0 1 0 -4.4 0M595.7 326.4a2.2 2.2 0 1 0 4.4 0a2.2 2.2 0 1 0 -4.4 0M603.3 316.5a2.2 2.2 0 1 0 4.4 0a2.2 2.2 0 1 0 -4.4 0M594.8 314.9a2.2 2.2 0 1 0 4.4 0a2.2 2.2 0 1 0 -4.4 0M600.6 313.8a2.2 2.2 0 1 0 4.4 0a2.2 2.2 0 1 0 -4.4 0M592.5 313.8a2.2 2.2 0 1 0 4.4 0a2.2 2.2 0 1 0 -4.4 0M583.1 317.0a2.2 2.2 0 1 0 4.4 0a2.2 2.2 0 1 0 -4.4 0M586.4 316.7a2.2 2.2 0 1 0 4.4 0a2.2 2.2 0 1 0 -4.4 0M594.8 320.2a2.2 2.2 0 1 0 4.4 0a2.2 2.2 0 1 0 -4.4 0M588.4 318.3a2.2 2.2 0 1 0 4.4 0a2.2 2.2 0 1 0 -4.4 0M604.8 325.2a2.2 2.2 0 1 0 4.4 0a2.2 2.2 0 1 0 -4.4 0M597.3 313.8a2.2 2.2 0 1 0 4.4 0a2.2 2.2 0 1 0 -4.4 0M603.2 313.9a2.2 2.2 0 1 0 4.4 0a2.2 2.2 0 1 0 -4.4 0M614.8 314.1a2.2 2.2 0 1 0 4.4 0a2.2 2.2 0 1 0 -4.4 0M585.3 315.6a2.2 2.2 0 1 0 4.4 0a2.2 2.2 0 1 0 -4.4 0M591.2 316.0a2.2 2.2 0 1 0 4.4 0a2.2 2.2 0 1 0 -4.4 0M593.5 317.3a2.2 2.2 0 1 0 4.4 0a2.2 2.2 0 1 0 -4.4 0M597.0 315.8a2.2 2.2 0 1 0 4.4 0a2.2 2.2 0 1 0 -4.4 0M593.6 326.2a2.2 2.2 0 1 0 4.4 0a2.2 2.2 0 1 0 -4.4 0M572.1 317.3a2.2 2.2 0 1 0 4.4 0a2.2 2.2 0 1 0 -4.4 0M597.1 313.5a2.2 2.2 0 1 0 4.4 0a2.2 2.2 0 1 0 -4.4 0M588.9 321.3a2.2 2.2 0 1 0 4.4 0a2.2 2.2 0 1 0 -4.4 0M581.0 317.8a2.2 2.2 0 1 0 4.4 0a2.2 2.2 0 1 0 -4.4 0M593.1 322.3a2.2 2.2 0 1 0 4.4 0a2.2 2.2 0 1 0 -4.4 0M591.9 314.8a2.2 2.2 0 1 0 4.4 0a2.2 2.2 0 1 0 -4.4 0M599.1 317.4a2.2 2.2 0 1 0 4.4 0a2.2 2.2 0 1 0 -4.4 0M586.9 324.4a2.2 2.2 0 1 0 4.4 0a2.2 2.2 0 1 0 -4.4 0M590.2 321.2a2.2 2.2 0 1 0 4.4 0a2.2 2.2 0 1 0 -4.4 0M587.2 325.6a2.2 2.2 0 1 0 4.4 0a2.2 2.2 0 1 0 -4.4 0M592.1 326.8a2.2 2.2 0 1 0 4.4 0a2.2 2.2 0 1 0 -4.4 0M598.9 324.2a2.2 2.2 0 1 0 4.4 0a2.2 2.2 0 1 0 -4.4 0M584.5 324.2a2.2 2.2 0 1 0 4.4 0a2.2 2.2 0 1 0 -4.4 0M604.1 314.6a2.2 2.2 0 1 0 4.4 0a2.2 2.2 0 1 0 -4.4 0M615.9 318.0a2.2 2.2 0 1 0 4.4 0a2.2 2.2 0 1 0 -4.4 0M597.9 319.0a2.2 2.2 0 1 0 4.4 0a2.2 2.2 0 1 0 -4.4 0M587.5 317.3a2.2 2.2 0 1 0 4.4 0a2.2 2.2 0 1 0 -4.4 0M589.8 322.7a2.2 2.2 0 1 0 4.4 0a2.2 2.2 0 1 0 -4.4 0M594.1 326.1a2.2 2.2 0 1 0 4.4 0a2.2 2.2 0 1 0 -4.4 0M592.2 318.0a2.2 2.2 0 1 0 4.4 0a2.2 2.2 0 1 0 -4.4 0M587.4 314.7a2.2 2.2 0 1 0 4.4 0a2.2 2.2 0 1 0 -4.4 0M581.8 316.2a2.2 2.2 0 1 0 4.4 0a2.2 2.2 0 1 0 -4.4 0M608.6 313.9a2.2 2.2 0 1 0 4.4 0a2.2 2.2 0 1 0 -4.4 0M575.4 321.1a2.2 2.2 0 1 0 4.4 0a2.2 2.2 0 1 0 -4.4 0M581.9 318.9a2.2 2.2 0 1 0 4.4 0a2.2 2.2 0 1 0 -4.4 0M579.4 319.0a2.2 2.2 0 1 0 4.4 0a2.2 2.2 0 1 0 -4.4 0M612.0 322.4a2.2 2.2 0 1 0 4.4 0a2.2 2.2 0 1 0 -4.4 0M595.8 318.8a2.2 2.2 0 1 0 4.4 0a2.2 2.2 0 1 0 -4.4 0M575.7 313.6a2.2 2.2 0 1 0 4.4 0a2.2 2.2 0 1 0 -4.4 0M583.2 316.7a2.2 2.2 0 1 0 4.4 0a2.2 2.2 0 1 0 -4.4 0M570.3 313.5a2.2 2.2 0 1 0 4.4 0a2.2 2.2 0 1 0 -4.4 0M599.8 321.9a2.2 2.2 0 1 0 4.4 0a2.2 2.2 0 1 0 -4.4 0M592.9 326.7a2.2 2.2 0 1 0 4.4 0a2.2 2.2 0 1 0 -4.4 0M604.8 313.5a2.2 2.2 0 1 0 4.4 0a2.2 2.2 0 1 0 -4.4 0M593.1 322.0a2.2 2.2 0 1 0 4.4 0a2.2 2.2 0 1 0 -4.4 0M605.9 325.8a2.2 2.2 0 1 0 4.4 0a2.2 2.2 0 1 0 -4.4 0M591.7 323.2a2.2 2.2 0 1 0 4.4 0a2.2 2.2 0 1 0 -4.4 0M598.4 319.2a2.2 2.2 0 1 0 4.4 0a2.2 2.2 0 1 0 -4.4 0M598.0 321.6a2.2 2.2 0 1 0 4.4 0a2.2 2.2 0 1 0 -4.4 0M584.9 313.7a2.2 2.2 0 1 0 4.4 0a2.2 2.2 0 1 0 -4.4 0M589.7 324.6a2.2 2.2 0 1 0 4.4 0a2.2 2.2 0 1 0 -4.4 0M594.5 326.7a2.2 2.2 0 1 0 4.4 0a2.2 2.2 0 1 0 -4.4 0M600.9 323.2a2.2 2.2 0 1 0 4.4 0a2.2 2.2 0 1 0 -4.4 0M590.3 320.7a2.2 2.2 0 1 0 4.4 0a2.2 2.2 0 1 0 -4.4 0M594.0 320.2a2.2 2.2 0 1 0 4.4 0a2.2 2.2 0 1 0 -4.4 0M603.5 326.1a2.2 2.2 0 1 0 4.4 0a2.2 2.2 0 1 0 -4.4 0M591.7 322.6a2.2 2.2 0 1 0 4.4 0a2.2 2.2 0 1 0 -4.4 0M614.6 316.7a2.2 2.2 0 1 0 4.4 0a2.2 2.2 0 1 0 -4.4 0M577.3 317.7a2.2 2.2 0 1 0 4.4 0a2.2 2.2 0 1 0 -4.4 0M582.9 317.1a2.2 2.2 0 1 0 4.4 0a2.2 2.2 0 1 0 -4.4 0M602.7 326.2a2.2 2.2 0 1 0 4.4 0a2.2 2.2 0 1 0 -4.4 0M608.6 315.7a2.2 2.2 0 1 0 4.4 0a2.2 2.2 0 1 0 -4.4 0M590.5 482.3a2.2 2.2 0 1 0 4.4 0a2.2 2.2 0 1 0 -4.4 0M582.8 485.6a2.2 2.2 0 1 0 4.4 0a2.2 2.2 0 1 0 -4.4 0M581.7 482.4a2.2 2.2 0 1 0 4.4 0a2.2 2.2 0 1 0 -4.4 0M607.3 492.4a2.2 2.2 0 1 0 4.4 0a2.2 2.2 0 1 0 -4.4 0M590.4 494.2a2.2 2.2 0 1 0 4.4 0a2.2 2.2 0 1 0 -4.4 0M587.5 446.1a2.2 2.2 0 1 0 4.4 0a2.2 2.2 0 1 0 -4.4 0M624.7 462.2a2.2 2.2 0 1 0 4.4 0a2.2 2.2 0 1 0 -4.4 0M615.4 486.3a2.2 2.2 0 1 0 4.4 0a2.2 2.2 0 1 0 -4.4 0M610.4 490.6a2.2 2.2 0 1 0 4.4 0a2.2 2.2 0 1 0 -4.4 0M581.2 481.7a2.2 2.2 0 1 0 4.4 0a2.2 2.2 0 1 0 -4.4 0M604.2 470.2a2.2 2.2 0 1 0 4.4 0a2.2 2.2 0 1 0 -4.4 0M624.1 455.1a2.2 2.2 0 1 0 4.4 0a2.2 2.2 0 1 0 -4.4 0M626.4 464.8a2.2 2.2 0 1 0 4.4 0a2.2 2.2 0 1 0 -4.4 0M598.1 494.4a2.2 2.2 0 1 0 4.4 0a2.2 2.2 0 1 0 -4.4 0M608.5 493.4a2.2 2.2 0 1 0 4.4 0a2.2 2.2 0 1 0 -4.4 0M595.6 494.2a2.2 2.2 0 1 0 4.4 0a2.2 2.2 0 1 0 -4.4 0M581.0 480.0a2.2 2.2 0 1 0 4.4 0a2.2 2.2 0 1 0 -4.4 0M601.4 487.1a2.2 2.2 0 1 0 4.4 0a2.2 2.2 0 1 0 -4.4 0M609.6 474.4a2.2 2.2 0 1 0 4.4 0a2.2 2.2 0 1 0 -4.4 0M623.1 456.3a2.2 2.2 0 1 0 4.4 0a2.2 2.2 0 1 0 -4.4 0M589.9 492.1a2.2 2.2 0 1 0 4.4 0a2.2 2.2 0 1 0 -4.4 0M628.2 463.7a2.2 2.2 0 1 0 4.4 0a2.2 2.2 0 1 0 -4.4 0M597.3 489.7a2.2 2.2 0 1 0 4.4 0a2.2 2.2 0 1 0 -4.4 0M571.9 462.0a2.2 2.2 0 1 0 4.4 0a2.2 2.2 0 1 0 -4.4 0M586.9 483.6a2.2 2.2 0 1 0 4.4 0a2.2 2.2 0 1 0 -4.4 0M587.2 457.4a2.2 2.2 0 1 0 4.4 0a2.2 2.2 0 1 0 -4.4 0M567.0 462.1a2.2 2.2 0 1 0 4.4 0a2.2 2.2 0 1 0 -4.4 0M632.3 461.5a2.2 2.2 0 1 0 4.4 0a2.2 2.2 0 1 0 -4.4 0M571.9 472.7a2.2 2.2 0 1 0 4.4 0a2.2 2.2 0 1 0 -4.4 0M580.7 479.3a2.2 2.2 0 1 0 4.4 0a2.2 2.2 0 1 0 -4.4 0M572.0 458.8a2.2 2.2 0 1 0 4.4 0a2.2 2.2 0 1 0 -4.4 0M621.3 469.4a2.2 2.2 0 1 0 4.4 0a2.2 2.2 0 1 0 -4.4 0M591.2 477.9a2.2 2.2 0 1 0 4.4 0a2.2 2.2 0 1 0 -4.4 0M565.9 457.2a2.2 2.2 0 1 0 4.4 0a2.2 2.2 0 1 0 -4.4 0M611.0 488.7a2.2 2.2 0 1 0 4.4 0a2.2 2.2 0 1 0 -4.4 0M581.6 486.5a2.2 2.2 0 1 0 4.4 0a2.2 2.2 0 1 0 -4.4 0M592.3 456.1a2.2 2.2 0 1 0 4.4 0a2.2 2.2 0 1 0 -4.4 0M623.7 469.7a2.2 2.2 0 1 0 4.4 0a2.2 2.2 0 1 0 -4.4 0M604.6 489.8a2.2 2.2 0 1 0 4.4 0a2.2 2.2 0 1 0 -4.4 0M593.0 485.2a2.2 2.2 0 1 0 4.4 0a2.2 2.2 0 1 0 -4.4 0M587.0 470.1a2.2 2.2 0 1 0 4.4 0a2.2 2.2 0 1 0 -4.4 0M577.9 450.3a2.2 2.2 0 1 0 4.4 0a2.2 2.2 0 1 0 -4.4 0M598.9 489.9a2.2 2.2 0 1 0 4.4 0a2.2 2.2 0 1 0 -4.4 0M588.0 482.9a2.2 2.2 0 1 0 4.4 0a2.2 2.2 0 1 0 -4.4 0M625.4 461.7a2.2 2.2 0 1 0 4.4 0a2.2 2.2 0 1 0 -4.4 0M589.8 483.5a2.2 2.2 0 1 0 4.4 0a2.2 2.2 0 1 0 -4.4 0M599.4 490.9a2.2 2.2 0 1 0 4.4 0a2.2 2.2 0 1 0 -4.4 0M610.4 447.3a2.2 2.2 0 1 0 4.4 0a2.2 2.2 0 1 0 -4.4 0M585.8 466.7a2.2 2.2 0 1 0 4.4 0a2.2 2.2 0 1 0 -4.4 0M591.3 482.0a2.2 2.2 0 1 0 4.4 0a2.2 2.2 0 1 0 -4.4 0M566.8 449.6a2.2 2.2 0 1 0 4.4 0a2.2 2.2 0 1 0 -4.4 0M607.1 479.7a2.2 2.2 0 1 0 4.4 0a2.2 2.2 0 1 0 -4.4 0M585.2 471.6a2.2 2.2 0 1 0 4.4 0a2.2 2.2 0 1 0 -4.4 0M625.3 470.9a2.2 2.2 0 1 0 4.4 0a2.2 2.2 0 1 0 -4.4 0M583.6 451.3a2.2 2.2 0 1 0 4.4 0a2.2 2.2 0 1 0 -4.4 0M577.5 478.5a2.2 2.2 0 1 0 4.4 0a2.2 2.2 0 1 0 -4.4 0M610.2 459.5a2.2 2.2 0 1 0 4.4 0a2.2 2.2 0 1 0 -4.4 0M570.8 470.1a2.2 2.2 0 1 0 4.4 0a2.2 2.2 0 1 0 -4.4 0M622.7 473.8a2.2 2.2 0 1 0 4.4 0a2.2 2.2 0 1 0 -4.4 0M621.8 476.0a2.2 2.2 0 1 0 4.4 0a2.2 2.2 0 1 0 -4.4 0M587.7 477.4a2.2 2.2 0 1 0 4.4 0a2.2 2.2 0 1 0 -4.4 0M620.2 466.1a2.2 2.2 0 1 0 4.4 0a2.2 2.2 0 1 0 -4.4 0M592.5 494.6a2.2 2.2 0 1 0 4.4 0a2.2 2.2 0 1 0 -4.4 0M613.8 485.8a2.2 2.2 0 1 0 4.4 0a2.2 2.2 0 1 0 -4.4 0M609.1 466.1a2.2 2.2 0 1 0 4.4 0a2.2 2.2 0 1 0 -4.4 0M612.5 470.7a2.2 2.2 0 1 0 4.4 0a2.2 2.2 0 1 0 -4.4 0M608.9 449.0a2.2 2.2 0 1 0 4.4 0a2.2 2.2 0 1 0 -4.4 0M623.9 472.4a2.2 2.2 0 1 0 4.4 0a2.2 2.2 0 1 0 -4.4 0M580.7 482.1a2.2 2.2 0 1 0 4.4 0a2.2 2.2 0 1 0 -4.4 0M564.0 464.0a2.2 2.2 0 1 0 4.4 0a2.2 2.2 0 1 0 -4.4 0M621.4 466.6a2.2 2.2 0 1 0 4.4 0a2.2 2.2 0 1 0 -4.4 0M616.3 471.7a2.2 2.2 0 1 0 4.4 0a2.2 2.2 0 1 0 -4.4 0M590.1 470.4a2.2 2.2 0 1 0 4.4 0a2.2 2.2 0 1 0 -4.4 0M609.6 473.9a2.2 2.2 0 1 0 4.4 0a2.2 2.2 0 1 0 -4.4 0M615.6 485.7a2.2 2.2 0 1 0 4.4 0a2.2 2.2 0 1 0 -4.4 0M594.5 476.7a2.2 2.2 0 1 0 4.4 0a2.2 2.2 0 1 0 -4.4 0M588.0 469.8a2.2 2.2 0 1 0 4.4 0a2.2 2.2 0 1 0 -4.4 0M620.9 469.1a2.2 2.2 0 1 0 4.4 0a2.2 2.2 0 1 0 -4.4 0M607.0 449.7a2.2 2.2 0 1 0 4.4 0a2.2 2.2 0 1 0 -4.4 0M596.5 490.4a2.2 2.2 0 1 0 4.4 0a2.2 2.2 0 1 0 -4.4 0M586.5 489.0a2.2 2.2 0 1 0 4.4 0a2.2 2.2 0 1 0 -4.4 0M616.6 469.9a2.2 2.2 0 1 0 4.4 0a2.2 2.2 0 1 0 -4.4 0M593.0 492.1a2.2 2.2 0 1 0 4.4 0a2.2 2.2 0 1 0 -4.4 0M589.2 487.1a2.2 2.2 0 1 0 4.4 0a2.2 2.2 0 1 0 -4.4 0M578.8 464.1a2.2 2.2 0 1 0 4.4 0a2.2 2.2 0 1 0 -4.4 0M604.8 493.1a2.2 2.2 0 1 0 4.4 0a2.2 2.2 0 1 0 -4.4 0M571.4 450.0a2.2 2.2 0 1 0 4.4 0a2.2 2.2 0 1 0 -4.4 0M578.0 464.6a2.2 2.2 0 1 0 4.4 0a2.2 2.2 0 1 0 -4.4 0M624.4 446.2a2.2 2.2 0 1 0 4.4 0a2.2 2.2 0 1 0 -4.4 0M592.6 446.1a2.2 2.2 0 1 0 4.4 0a2.2 2.2 0 1 0 -4.4 0M590.3 476.2a2.2 2.2 0 1 0 4.4 0a2.2 2.2 0 1 0 -4.4 0M612.9 448.6a2.2 2.2 0 1 0 4.4 0a2.2 2.2 0 1 0 -4.4 0M613.5 470.0a2.2 2.2 0 1 0 4.4 0a2.2 2.2 0 1 0 -4.4 0M624.8 449.6a2.2 2.2 0 1 0 4.4 0a2.2 2.2 0 1 0 -4.4 0M614.0 488.6a2.2 2.2 0 1 0 4.4 0a2.2 2.2 0 1 0 -4.4 0M584.0 483.1a2.2 2.2 0 1 0 4.4 0a2.2 2.2 0 1 0 -4.4 0M623.2 451.7a2.2 2.2 0 1 0 4.4 0a2.2 2.2 0 1 0 -4.4 0M606.7 470.0a2.2 2.2 0 1 0 4.4 0a2.2 2.2 0 1 0 -4.4 0M601.4 473.9a2.2 2.2 0 1 0 4.4 0a2.2 2.2 0 1 0 -4.4 0M606.6 491.7a2.2 2.2 0 1 0 4.4 0a2.2 2.2 0 1 0 -4.4 0M623.1 451.5a2.2 2.2 0 1 0 4.4 0a2.2 2.2 0 1 0 -4.4 0M608.7 475.5a2.2 2.2 0 1 0 4.4 0a2.2 2.2 0 1 0 -4.4 0M615.7 456.5a2.2 2.2 0 1 0 4.4 0a2.2 2.2 0 1 0 -4.4 0M626.3 454.5a2.2 2.2 0 1 0 4.4 0a2.2 2.2 0 1 0 -4.4 0M596.9 484.9a2.2 2.2 0 1 0 4.4 0a2.2 2.2 0 1 0 -4.4 0M590.4 492.1a2.2 2.2 0 1 0 4.4 0a2.2 2.2 0 1 0 -4.4 0M609.0 475.4a2.2 2.2 0 1 0 4.4 0a2.2 2.2 0 1 0 -4.4 0M600.5 489.9a2.2 2.2 0 1 0 4.4 0a2.2 2.2 0 1 0 -4.4 0M588.5 489.2a2.2 2.2 0 1 0 4.4 0a2.2 2.2 0 1 0 -4.4 0M609.5 485.1a2.2 2.2 0 1 0 4.4 0a2.2 2.2 0 1 0 -4.4 0M625.0 456.6a2.2 2.2 0 1 0 4.4 0a2.2 2.2 0 1 0 -4.4 0M562.5 451.3a2.2 2.2 0 1 0 4.4 0a2.2 2.2 0 1 0 -4.4 0M578.6 464.7a2.2 2.2 0 1 0 4.4 0a2.2 2.2 0 1 0 -4.4 0M577.5 477.5a2.2 2.2 0 1 0 4.4 0a2.2 2.2 0 1 0 -4.4 0M583.2 480.8a2.2 2.2 0 1 0 4.4 0a2.2 2.2 0 1 0 -4.4 0M573.4 475.2a2.2 2.2 0 1 0 4.4 0a2.2 2.2 0 1 0 -4.4 0M563.2 462.3a2.2 2.2 0 1 0 4.4 0a2.2 2.2 0 1 0 -4.4 0M580.9 458.0a2.2 2.2 0 1 0 4.4 0a2.2 2.2 0 1 0 -4.4 0M612.1 488.2a2.2 2.2 0 1 0 4.4 0a2.2 2.2 0 1 0 -4.4 0M617.0 446.6a2.2 2.2 0 1 0 4.4 0a2.2 2.2 0 1 0 -4.4 0M602.9 483.2a2.2 2.2 0 1 0 4.4 0a2.2 2.2 0 1 0 -4.4 0M595.8 493.9a2.2 2.2 0 1 0 4.4 0a2.2 2.2 0 1 0 -4.4 0M597.3 485.3a2.2 2.2 0 1 0 4.4 0a2.2 2.2 0 1 0 -4.4 0M583.1 482.8a2.2 2.2 0 1 0 4.4 0a2.2 2.2 0 1 0 -4.4 0M598.5 486.2a2.2 2.2 0 1 0 4.4 0a2.2 2.2 0 1 0 -4.4 0M582.8 450.5a2.2 2.2 0 1 0 4.4 0a2.2 2.2 0 1 0 -4.4 0M575.3 452.7a2.2 2.2 0 1 0 4.4 0a2.2 2.2 0 1 0 -4.4 0M598.2 488.3a2.2 2.2 0 1 0 4.4 0a2.2 2.2 0 1 0 -4.4 0M595.3 494.5a2.2 2.2 0 1 0 4.4 0a2.2 2.2 0 1 0 -4.4 0M616.3 476.7a2.2 2.2 0 1 0 4.4 0a2.2 2.2 0 1 0 -4.4 0M619.9 461.3a2.2 2.2 0 1 0 4.4 0a2.2 2.2 0 1 0 -4.4 0M603.6 492.1a2.2 2.2 0 1 0 4.4 0a2.2 2.2 0 1 0 -4.4 0M605.1 493.5a2.2 2.2 0 1 0 4.4 0a2.2 2.2 0 1 0 -4.4 0M623.3 473.9a2.2 2.2 0 1 0 4.4 0a2.2 2.2 0 1 0 -4.4 0M578.3 458.1a2.2 2.2 0 1 0 4.4 0a2.2 2.2 0 1 0 -4.4 0M612.4 474.6a2.2 2.2 0 1 0 4.4 0a2.2 2.2 0 1 0 -4.4 0M586.1 469.8a2.2 2.2 0 1 0 4.4 0a2.2 2.2 0 1 0 -4.4 0M600.1 494.0a2.2 2.2 0 1 0 4.4 0a2.2 2.2 0 1 0 -4.4 0M614.8 455.6a2.2 2.2 0 1 0 4.4 0a2.2 2.2 0 1 0 -4.4 0M627.0 459.4a2.2 2.2 0 1 0 4.4 0a2.2 2.2 0 1 0 -4.4 0M571.4 467.3a2.2 2.2 0 1 0 4.4 0a2.2 2.2 0 1 0 -4.4 0M621.2 478.3a2.2 2.2 0 1 0 4.4 0a2.2 2.2 0 1 0 -4.4 0M610.1 455.5a2.2 2.2 0 1 0 4.4 0a2.2 2.2 0 1 0 -4.4 0M610.8 486.9a2.2 2.2 0 1 0 4.4 0a2.2 2.2 0 1 0 -4.4 0M607.4 450.0a2.2 2.2 0 1 0 4.4 0a2.2 2.2 0 1 0 -4.4 0M587.8 488.1a2.2 2.2 0 1 0 4.4 0a2.2 2.2 0 1 0 -4.4 0M577.7 454.8a2.2 2.2 0 1 0 4.4 0a2.2 2.2 0 1 0 -4.4 0M582.9 465.7a2.2 2.2 0 1 0 4.4 0a2.2 2.2 0 1 0 -4.4 0M610.8 487.5a2.2 2.2 0 1 0 4.4 0a2.2 2.2 0 1 0 -4.4 0M619.4 467.0a2.2 2.2 0 1 0 4.4 0a2.2 2.2 0 1 0 -4.4 0M581.9 476.9a2.2 2.2 0 1 0 4.4 0a2.2 2.2 0 1 0 -4.4 0M606.5 446.8a2.2 2.2 0 1 0 4.4 0a2.2 2.2 0 1 0 -4.4 0M559.8 453.2a2.2 2.2 0 1 0 4.4 0a2.2 2.2 0 1 0 -4.4 0M591.2 493.0a2.2 2.2 0 1 0 4.4 0a2.2 2.2 0 1 0 -4.4 0M609.8 472.8a2.2 2.2 0 1 0 4.4 0a2.2 2.2 0 1 0 -4.4 0M602.4 486.6a2.2 2.2 0 1 0 4.4 0a2.2 2.2 0 1 0 -4.4 0M614.3 490.6a2.2 2.2 0 1 0 4.4 0a2.2 2.2 0 1 0 -4.4 0M587.7 461.2a2.2 2.2 0 1 0 4.4 0a2.2 2.2 0 1 0 -4.4 0M626.7 468.2a2.2 2.2 0 1 0 4.4 0a2.2 2.2 0 1 0 -4.4 0M600.0 492.3a2.2 2.2 0 1 0 4.4 0a2.2 2.2 0 1 0 -4.4 0M626.2 473.1a2.2 2.2 0 1 0 4.4 0a2.2 2.2 0 1 0 -4.4 0M608.4 482.4a2.2 2.2 0 1 0 4.4 0a2.2 2.2 0 1 0 -4.4 0M611.7 472.7a2.2 2.2 0 1 0 4.4 0a2.2 2.2 0 1 0 -4.4 0M630.9 464.8a2.2 2.2 0 1 0 4.4 0a2.2 2.2 0 1 0 -4.4 0M573.7 456.4a2.2 2.2 0 1 0 4.4 0a2.2 2.2 0 1 0 -4.4 0M593.5 450.4a2.2 2.2 0 1 0 4.4 0a2.2 2.2 0 1 0 -4.4 0M613.5 452.6a2.2 2.2 0 1 0 4.4 0a2.2 2.2 0 1 0 -4.4 0M615.1 478.3a2.2 2.2 0 1 0 4.4 0a2.2 2.2 0 1 0 -4.4 0M572.8 450.9a2.2 2.2 0 1 0 4.4 0a2.2 2.2 0 1 0 -4.4 0M627.3 471.5a2.2 2.2 0 1 0 4.4 0a2.2 2.2 0 1 0 -4.4 0M598.0 493.9a2.2 2.2 0 1 0 4.4 0a2.2 2.2 0 1 0 -4.4 0M607.1 492.0a2.2 2.2 0 1 0 4.4 0a2.2 2.2 0 1 0 -4.4 0M609.2 480.0a2.2 2.2 0 1 0 4.4 0a2.2 2.2 0 1 0 -4.4 0M621.8 448.6a2.2 2.2 0 1 0 4.4 0a2.2 2.2 0 1 0 -4.4 0M626.8 456.2a2.2 2.2 0 1 0 4.4 0a2.2 2.2 0 1 0 -4.4 0M578.6 481.3a2.2 2.2 0 1 0 4.4 0a2.2 2.2 0 1 0 -4.4 0M587.4 492.0a2.2 2.2 0 1 0 4.4 0a2.2 2.2 0 1 0 -4.4 0M596.9 494.1a2.2 2.2 0 1 0 4.4 0a2.2 2.2 0 1 0 -4.4 0M628.6 465.3a2.2 2.2 0 1 0 4.4 0a2.2 2.2 0 1 0 -4.4 0M576.4 445.7a2.2 2.2 0 1 0 4.4 0a2.2 2.2 0 1 0 -4.4 0M595.4 480.0a2.2 2.2 0 1 0 4.4 0a2.2 2.2 0 1 0 -4.4 0M615.4 480.2a2.2 2.2 0 1 0 4.4 0a2.2 2.2 0 1 0 -4.4 0M600.4 493.7a2.2 2.2 0 1 0 4.4 0a2.2 2.2 0 1 0 -4.4 0M600.2 486.6a2.2 2.2 0 1 0 4.4 0a2.2 2.2 0 1 0 -4.4 0M595.6 481.3a2.2 2.2 0 1 0 4.4 0a2.2 2.2 0 1 0 -4.4 0M602.5 491.9a2.2 2.2 0 1 0 4.4 0a2.2 2.2 0 1 0 -4.4 0M578.6 479.1a2.2 2.2 0 1 0 4.4 0a2.2 2.2 0 1 0 -4.4 0M620.6 478.9a2.2 2.2 0 1 0 4.4 0a2.2 2.2 0 1 0 -4.4 0M605.6 474.1a2.2 2.2 0 1 0 4.4 0a2.2 2.2 0 1 0 -4.4 0M601.0 484.8a2.2 2.2 0 1 0 4.4 0a2.2 2.2 0 1 0 -4.4 0M580.5 473.3a2.2 2.2 0 1 0 4.4 0a2.2 2.2 0 1 0 -4.4 0M597.2 484.4a2.2 2.2 0 1 0 4.4 0a2.2 2.2 0 1 0 -4.4 0M575.0 457.1a2.2 2.2 0 1 0 4.4 0a2.2 2.2 0 1 0 -4.4 0M585.2 487.5a2.2 2.2 0 1 0 4.4 0a2.2 2.2 0 1 0 -4.4 0M573.1 460.2a2.2 2.2 0 1 0 4.4 0a2.2 2.2 0 1 0 -4.4 0M616.6 465.1a2.2 2.2 0 1 0 4.4 0a2.2 2.2 0 1 0 -4.4 0M617.2 468.3a2.2 2.2 0 1 0 4.4 0a2.2 2.2 0 1 0 -4.4 0M574.4 457.3a2.2 2.2 0 1 0 4.4 0a2.2 2.2 0 1 0 -4.4 0M586.2 489.4a2.2 2.2 0 1 0 4.4 0a2.2 2.2 0 1 0 -4.4 0M620.3 470.2a2.2 2.2 0 1 0 4.4 0a2.2 2.2 0 1 0 -4.4 0M622.0 462.6a2.2 2.2 0 1 0 4.4 0a2.2 2.2 0 1 0 -4.4 0M588.8 483.2a2.2 2.2 0 1 0 4.4 0a2.2 2.2 0 1 0 -4.4 0M566.4 446.7a2.2 2.2 0 1 0 4.4 0a2.2 2.2 0 1 0 -4.4 0M619.3 469.9a2.2 2.2 0 1 0 4.4 0a2.2 2.2 0 1 0 -4.4 0M614.9 482.4a2.2 2.2 0 1 0 4.4 0a2.2 2.2 0 1 0 -4.4 0M577.9 468.1a2.2 2.2 0 1 0 4.4 0a2.2 2.2 0 1 0 -4.4 0M603.8 481.4a2.2 2.2 0 1 0 4.4 0a2.2 2.2 0 1 0 -4.4 0M608.8 475.5a2.2 2.2 0 1 0 4.4 0a2.2 2.2 0 1 0 -4.4 0M570.4 466.8a2.2 2.2 0 1 0 4.4 0a2.2 2.2 0 1 0 -4.4 0M629.4 453.2a2.2 2.2 0 1 0 4.4 0a2.2 2.2 0 1 0 -4.4 0M599.6 487.5a2.2 2.2 0 1 0 4.4 0a2.2 2.2 0 1 0 -4.4 0M594.7 486.5a2.2 2.2 0 1 0 4.4 0a2.2 2.2 0 1 0 -4.4 0M603.2 463.6a2.2 2.2 0 1 0 4.4 0a2.2 2.2 0 1 0 -4.4 0M601.4 487.9a2.2 2.2 0 1 0 4.4 0a2.2 2.2 0 1 0 -4.4 0M592.7 494.3a2.2 2.2 0 1 0 4.4 0a2.2 2.2 0 1 0 -4.4 0M578.1 475.7a2.2 2.2 0 1 0 4.4 0a2.2 2.2 0 1 0 -4.4 0M596.4 481.0a2.2 2.2 0 1 0 4.4 0a2.2 2.2 0 1 0 -4.4 0M605.8 472.6a2.2 2.2 0 1 0 4.4 0a2.2 2.2 0 1 0 -4.4 0M602.0 494.6a2.2 2.2 0 1 0 4.4 0a2.2 2.2 0 1 0 -4.4 0M606.7 467.5a2.2 2.2 0 1 0 4.4 0a2.2 2.2 0 1 0 -4.4 0M616.6 486.4a2.2 2.2 0 1 0 4.4 0a2.2 2.2 0 1 0 -4.4 0M582.8 465.4a2.2 2.2 0 1 0 4.4 0a2.2 2.2 0 1 0 -4.4 0M606.5 483.2a2.2 2.2 0 1 0 4.4 0a2.2 2.2 0 1 0 -4.4 0M564.2 453.8a2.2 2.2 0 1 0 4.4 0a2.2 2.2 0 1 0 -4.4 0M595.4 485.1a2.2 2.2 0 1 0 4.4 0a2.2 2.2 0 1 0 -4.4 0M582.5 479.4a2.2 2.2 0 1 0 4.4 0a2.2 2.2 0 1 0 -4.4 0M616.3 485.6a2.2 2.2 0 1 0 4.4 0a2.2 2.2 0 1 0 -4.4 0M629.0 457.5a2.2 2.2 0 1 0 4.4 0a2.2 2.2 0 1 0 -4.4 0M573.7 468.4a2.2 2.2 0 1 0 4.4 0a2.2 2.2 0 1 0 -4.4 0M579.9 458.3a2.2 2.2 0 1 0 4.4 0a2.2 2.2 0 1 0 -4.4 0M631.4 465.5a2.2 2.2 0 1 0 4.4 0a2.2 2.2 0 1 0 -4.4 0M611.1 476.4a2.2 2.2 0 1 0 4.4 0a2.2 2.2 0 1 0 -4.4 0M585.7 492.0a2.2 2.2 0 1 0 4.4 0a2.2 2.2 0 1 0 -4.4 0M635.0 451.4a2.2 2.2 0 1 0 4.4 0a2.2 2.2 0 1 0 -4.4 0M573.6 446.6a2.2 2.2 0 1 0 4.4 0a2.2 2.2 0 1 0 -4.4 0M576.8 479.3a2.2 2.2 0 1 0 4.4 0a2.2 2.2 0 1 0 -4.4 0M619.6 469.1a2.2 2.2 0 1 0 4.4 0a2.2 2.2 0 1 0 -4.4 0M583.9 469.9a2.2 2.2 0 1 0 4.4 0a2.2 2.2 0 1 0 -4.4 0M620.9 447.0a2.2 2.2 0 1 0 4.4 0a2.2 2.2 0 1 0 -4.4 0M597.3 493.3a2.2 2.2 0 1 0 4.4 0a2.2 2.2 0 1 0 -4.4 0M590.3 477.9a2.2 2.2 0 1 0 4.4 0a2.2 2.2 0 1 0 -4.4 0M601.4 484.6a2.2 2.2 0 1 0 4.4 0a2.2 2.2 0 1 0 -4.4 0M586.4 453.9a2.2 2.2 0 1 0 4.4 0a2.2 2.2 0 1 0 -4.4 0M591.2 479.1a2.2 2.2 0 1 0 4.4 0a2.2 2.2 0 1 0 -4.4 0M577.8 448.8a2.2 2.2 0 1 0 4.4 0a2.2 2.2 0 1 0 -4.4 0M607.9 489.1a2.2 2.2 0 1 0 4.4 0a2.2 2.2 0 1 0 -4.4 0M604.0 481.4a2.2 2.2 0 1 0 4.4 0a2.2 2.2 0 1 0 -4.4 0M559.3 453.6a2.2 2.2 0 1 0 4.4 0a2.2 2.2 0 1 0 -4.4 0M588.0 486.5a2.2 2.2 0 1 0 4.4 0a2.2 2.2 0 1 0 -4.4 0M607.5 474.1a2.2 2.2 0 1 0 4.4 0a2.2 2.2 0 1 0 -4.4 0M621.7 475.7a2.2 2.2 0 1 0 4.4 0a2.2 2.2 0 1 0 -4.4 0M583.3 474.0a2.2 2.2 0 1 0 4.4 0a2.2 2.2 0 1 0 -4.4 0M565.1 448.7a2.2 2.2 0 1 0 4.4 0a2.2 2.2 0 1 0 -4.4 0M583.8 479.9a2.2 2.2 0 1 0 4.4 0a2.2 2.2 0 1 0 -4.4 0M585.0 454.0a2.2 2.2 0 1 0 4.4 0a2.2 2.2 0 1 0 -4.4 0M615.6 469.1a2.2 2.2 0 1 0 4.4 0a2.2 2.2 0 1 0 -4.4 0M605.3 482.7a2.2 2.2 0 1 0 4.4 0a2.2 2.2 0 1 0 -4.4 0M605.6 456.3a2.2 2.2 0 1 0 4.4 0a2.2 2.2 0 1 0 -4.4 0M612.4 483.7a2.2 2.2 0 1 0 4.4 0a2.2 2.2 0 1 0 -4.4 0M597.3 492.7a2.2 2.2 0 1 0 4.4 0a2.2 2.2 0 1 0 -4.4 0M593.3 470.5a2.2 2.2 0 1 0 4.4 0a2.2 2.2 0 1 0 -4.4 0M614.3 480.0a2.2 2.2 0 1 0 4.4 0a2.2 2.2 0 1 0 -4.4 0M607.2 486.1a2.2 2.2 0 1 0 4.4 0a2.2 2.2 0 1 0 -4.4 0M603.9 464.7a2.2 2.2 0 1 0 4.4 0a2.2 2.2 0 1 0 -4.4 0M627.2 468.9a2.2 2.2 0 1 0 4.4 0a2.2 2.2 0 1 0 -4.4 0M600.5 489.6a2.2 2.2 0 1 0 4.4 0a2.2 2.2 0 1 0 -4.4 0M604.9 479.9a2.2 2.2 0 1 0 4.4 0a2.2 2.2 0 1 0 -4.4 0M612.2 472.2a2.2 2.2 0 1 0 4.4 0a2.2 2.2 0 1 0 -4.4 0M559.7 458.7a2.2 2.2 0 1 0 4.4 0a2.2 2.2 0 1 0 -4.4 0M585.5 478.9a2.2 2.2 0 1 0 4.4 0a2.2 2.2 0 1 0 -4.4 0M606.0 467.7a2.2 2.2 0 1 0 4.4 0a2.2 2.2 0 1 0 -4.4 0M588.1 476.9a2.2 2.2 0 1 0 4.4 0a2.2 2.2 0 1 0 -4.4 0M587.1 466.8a2.2 2.2 0 1 0 4.4 0a2.2 2.2 0 1 0 -4.4 0M609.8 459.6a2.2 2.2 0 1 0 4.4 0a2.2 2.2 0 1 0 -4.4 0M572.7 479.7a2.2 2.2 0 1 0 4.4 0a2.2 2.2 0 1 0 -4.4 0M595.8 484.8a2.2 2.2 0 1 0 4.4 0a2.2 2.2 0 1 0 -4.4 0M612.6 478.1a2.2 2.2 0 1 0 4.4 0a2.2 2.2 0 1 0 -4.4 0M603.5 483.6a2.2 2.2 0 1 0 4.4 0a2.2 2.2 0 1 0 -4.4 0M611.1 445.7a2.2 2.2 0 1 0 4.4 0a2.2 2.2 0 1 0 -4.4 0M604.0 493.4a2.2 2.2 0 1 0 4.4 0a2.2 2.2 0 1 0 -4.4 0M601.9 476.9a2.2 2.2 0 1 0 4.4 0a2.2 2.2 0 1 0 -4.4 0M587.9 493.6a2.2 2.2 0 1 0 4.4 0a2.2 2.2 0 1 0 -4.4 0M588.3 487.1a2.2 2.2 0 1 0 4.4 0a2.2 2.2 0 1 0 -4.4 0M598.2 487.2a2.2 2.2 0 1 0 4.4 0a2.2 2.2 0 1 0 -4.4 0M585.4 490.5a2.2 2.2 0 1 0 4.4 0a2.2 2.2 0 1 0 -4.4 0M603.9 477.6a2.2 2.2 0 1 0 4.4 0a2.2 2.2 0 1 0 -4.4 0M598.5 492.8a2.2 2.2 0 1 0 4.4 0a2.2 2.2 0 1 0 -4.4 0M579.0 446.8a2.2 2.2 0 1 0 4.4 0a2.2 2.2 0 1 0 -4.4 0M616.2 469.7a2.2 2.2 0 1 0 4.4 0a2.2 2.2 0 1 0 -4.4 0M616.2 483.4a2.2 2.2 0 1 0 4.4 0a2.2 2.2 0 1 0 -4.4 0M609.5 482.1a2.2 2.2 0 1 0 4.4 0a2.2 2.2 0 1 0 -4.4 0M605.2 477.7a2.2 2.2 0 1 0 4.4 0a2.2 2.2 0 1 0 -4.4 0M573.7 446.9a2.2 2.2 0 1 0 4.4 0a2.2 2.2 0 1 0 -4.4 0M625.6 461.8a2.2 2.2 0 1 0 4.4 0a2.2 2.2 0 1 0 -4.4 0M583.7 481.5a2.2 2.2 0 1 0 4.4 0a2.2 2.2 0 1 0 -4.4 0M607.4 469.0a2.2 2.2 0 1 0 4.4 0a2.2 2.2 0 1 0 -4.4 0M590.0 486.4a2.2 2.2 0 1 0 4.4 0a2.2 2.2 0 1 0 -4.4 0M587.7 486.7a2.2 2.2 0 1 0 4.4 0a2.2 2.2 0 1 0 -4.4 0M592.6 483.1a2.2 2.2 0 1 0 4.4 0a2.2 2.2 0 1 0 -4.4 0M581.9 448.4a2.2 2.2 0 1 0 4.4 0a2.2 2.2 0 1 0 -4.4 0M588.2 472.7a2.2 2.2 0 1 0 4.4 0a2.2 2.2 0 1 0 -4.4 0M560.6 459.3a2.2 2.2 0 1 0 4.4 0a2.2 2.2 0 1 0 -4.4 0M582.8 466.1a2.2 2.2 0 1 0 4.4 0a2.2 2.2 0 1 0 -4.4 0M621.2 473.8a2.2 2.2 0 1 0 4.4 0a2.2 2.2 0 1 0 -4.4 0M586.6 492.1a2.2 2.2 0 1 0 4.4 0a2.2 2.2 0 1 0 -4.4 0M588.9 452.2a2.2 2.2 0 1 0 4.4 0a2.2 2.2 0 1 0 -4.4 0M577.4 457.5a2.2 2.2 0 1 0 4.4 0a2.2 2.2 0 1 0 -4.4 0M590.7 475.4a2.2 2.2 0 1 0 4.4 0a2.2 2.2 0 1 0 -4.4 0M613.1 449.4a2.2 2.2 0 1 0 4.4 0a2.2 2.2 0 1 0 -4.4 0M577.0 480.1a2.2 2.2 0 1 0 4.4 0a2.2 2.2 0 1 0 -4.4 0M592.9 494.3a2.2 2.2 0 1 0 4.4 0a2.2 2.2 0 1 0 -4.4 0M588.1 460.8a2.2 2.2 0 1 0 4.4 0a2.2 2.2 0 1 0 -4.4 0M569.3 450.3a2.2 2.2 0 1 0 4.4 0a2.2 2.2 0 1 0 -4.4 0M614.1 458.9a2.2 2.2 0 1 0 4.4 0a2.2 2.2 0 1 0 -4.4 0M576.7 450.0a2.2 2.2 0 1 0 4.4 0a2.2 2.2 0 1 0 -4.4 0M570.4 452.3a2.2 2.2 0 1 0 4.4 0a2.2 2.2 0 1 0 -4.4 0M619.3 473.2a2.2 2.2 0 1 0 4.4 0a2.2 2.2 0 1 0 -4.4 0M610.6 486.3a2.2 2.2 0 1 0 4.4 0a2.2 2.2 0 1 0 -4.4 0M578.0 459.4a2.2 2.2 0 1 0 4.4 0a2.2 2.2 0 1 0 -4.4 0M575.6 464.7a2.2 2.2 0 1 0 4.4 0a2.2 2.2 0 1 0 -4.4 0M617.7 481.7a2.2 2.2 0 1 0 4.4 0a2.2 2.2 0 1 0 -4.4 0M615.5 464.1a2.2 2.2 0 1 0 4.4 0a2.2 2.2 0 1 0 -4.4 0M587.3 489.1a2.2 2.2 0 1 0 4.4 0a2.2 2.2 0 1 0 -4.4 0M601.5 487.4a2.2 2.2 0 1 0 4.4 0a2.2 2.2 0 1 0 -4.4 0M620.8 481.2a2.2 2.2 0 1 0 4.4 0a2.2 2.2 0 1 0 -4.4 0M608.0 461.3a2.2 2.2 0 1 0 4.4 0a2.2 2.2 0 1 0 -4.4 0M605.5 479.9a2.2 2.2 0 1 0 4.4 0a2.2 2.2 0 1 0 -4.4 0M597.3 488.3a2.2 2.2 0 1 0 4.4 0a2.2 2.2 0 1 0 -4.4 0M590.8 486.4a2.2 2.2 0 1 0 4.4 0a2.2 2.2 0 1 0 -4.4 0M598.0 487.9a2.2 2.2 0 1 0 4.4 0a2.2 2.2 0 1 0 -4.4 0M583.4 482.5a2.2 2.2 0 1 0 4.4 0a2.2 2.2 0 1 0 -4.4 0M613.7 489.7a2.2 2.2 0 1 0 4.4 0a2.2 2.2 0 1 0 -4.4 0M588.6 461.7a2.2 2.2 0 1 0 4.4 0a2.2 2.2 0 1 0 -4.4 0M610.3 491.9a2.2 2.2 0 1 0 4.4 0a2.2 2.2 0 1 0 -4.4 0M577.8 454.6a2.2 2.2 0 1 0 4.4 0a2.2 2.2 0 1 0 -4.4 0M614.1 473.3a2.2 2.2 0 1 0 4.4 0a2.2 2.2 0 1 0 -4.4 0M611.4 454.1a2.2 2.2 0 1 0 4.4 0a2.2 2.2 0 1 0 -4.4 0M579.8 450.0a2.2 2.2 0 1 0 4.4 0a2.2 2.2 0 1 0 -4.4 0M603.7 476.0a2.2 2.2 0 1 0 4.4 0a2.2 2.2 0 1 0 -4.4 0M595.5 483.4a2.2 2.2 0 1 0 4.4 0a2.2 2.2 0 1 0 -4.4 0M560.4 445.3a2.2 2.2 0 1 0 4.4 0a2.2 2.2 0 1 0 -4.4 0M612.6 467.6a2.2 2.2 0 1 0 4.4 0a2.2 2.2 0 1 0 -4.4 0M587.3 469.9a2.2 2.2 0 1 0 4.4 0a2.2 2.2 0 1 0 -4.4 0M622.0 446.6a2.2 2.2 0 1 0 4.4 0a2.2 2.2 0 1 0 -4.4 0M602.8 486.7a2.2 2.2 0 1 0 4.4 0a2.2 2.2 0 1 0 -4.4 0M574.8 478.6a2.2 2.2 0 1 0 4.4 0a2.2 2.2 0 1 0 -4.4 0M578.9 475.7a2.2 2.2 0 1 0 4.4 0a2.2 2.2 0 1 0 -4.4 0M587.3 453.4a2.2 2.2 0 1 0 4.4 0a2.2 2.2 0 1 0 -4.4 0M582.7 471.0a2.2 2.2 0 1 0 4.4 0a2.2 2.2 0 1 0 -4.4 0M571.0 467.7a2.2 2.2 0 1 0 4.4 0a2.2 2.2 0 1 0 -4.4 0M604.9 449.4a2.2 2.2 0 1 0 4.4 0a2.2 2.2 0 1 0 -4.4 0M621.4 461.3a2.2 2.2 0 1 0 4.4 0a2.2 2.2 0 1 0 -4.4 0M612.4 486.6a2.2 2.2 0 1 0 4.4 0a2.2 2.2 0 1 0 -4.4 0M589.6 487.5a2.2 2.2 0 1 0 4.4 0a2.2 2.2 0 1 0 -4.4 0M587.6 489.5a2.2 2.2 0 1 0 4.4 0a2.2 2.2 0 1 0 -4.4 0M595.7 493.9a2.2 2.2 0 1 0 4.4 0a2.2 2.2 0 1 0 -4.4 0M606.6 450.1a2.2 2.2 0 1 0 4.4 0a2.2 2.2 0 1 0 -4.4 0M578.1 466.2a2.2 2.2 0 1 0 4.4 0a2.2 2.2 0 1 0 -4.4 0M594.9 486.5a2.2 2.2 0 1 0 4.4 0a2.2 2.2 0 1 0 -4.4 0M593.3 451.8a2.2 2.2 0 1 0 4.4 0a2.2 2.2 0 1 0 -4.4 0M621.8 464.8a2.2 2.2 0 1 0 4.4 0a2.2 2.2 0 1 0 -4.4 0M627.4 463.2a2.2 2.2 0 1 0 4.4 0a2.2 2.2 0 1 0 -4.4 0M592.8 483.6a2.2 2.2 0 1 0 4.4 0a2.2 2.2 0 1 0 -4.4 0M589.8 474.4a2.2 2.2 0 1 0 4.4 0a2.2 2.2 0 1 0 -4.4 0M613.7 467.8a2.2 2.2 0 1 0 4.4 0a2.2 2.2 0 1 0 -4.4 0M627.2 466.0a2.2 2.2 0 1 0 4.4 0a2.2 2.2 0 1 0 -4.4 0M624.3 448.6a2.2 2.2 0 1 0 4.4 0a2.2 2.2 0 1 0 -4.4 0M585.3 471.5a2.2 2.2 0 1 0 4.4 0a2.2 2.2 0 1 0 -4.4 0M590.6 479.2a2.2 2.2 0 1 0 4.4 0a2.2 2.2 0 1 0 -4.4 0M572.5 469.5a2.2 2.2 0 1 0 4.4 0a2.2 2.2 0 1 0 -4.4 0M632.8 460.6a2.2 2.2 0 1 0 4.4 0a2.2 2.2 0 1 0 -4.4 0M590.0 449.4a2.2 2.2 0 1 0 4.4 0a2.2 2.2 0 1 0 -4.4 0M590.4 494.1a2.2 2.2 0 1 0 4.4 0a2.2 2.2 0 1 0 -4.4 0M591.0 494.6a2.2 2.2 0 1 0 4.4 0a2.2 2.2 0 1 0 -4.4 0M605.9 481.2a2.2 2.2 0 1 0 4.4 0a2.2 2.2 0 1 0 -4.4 0M579.6 448.6a2.2 2.2 0 1 0 4.4 0a2.2 2.2 0 1 0 -4.4 0M622.4 461.2a2.2 2.2 0 1 0 4.4 0a2.2 2.2 0 1 0 -4.4 0M615.1 485.6a2.2 2.2 0 1 0 4.4 0a2.2 2.2 0 1 0 -4.4 0M613.4 467.8a2.2 2.2 0 1 0 4.4 0a2.2 2.2 0 1 0 -4.4 0M611.5 473.7a2.2 2.2 0 1 0 4.4 0a2.2 2.2 0 1 0 -4.4 0M598.4 484.5a2.2 2.2 0 1 0 4.4 0a2.2 2.2 0 1 0 -4.4 0M589.3 468.7a2.2 2.2 0 1 0 4.4 0a2.2 2.2 0 1 0 -4.4 0M613.1 478.8a2.2 2.2 0 1 0 4.4 0a2.2 2.2 0 1 0 -4.4 0M580.6 479.0a2.2 2.2 0 1 0 4.4 0a2.2 2.2 0 1 0 -4.4 0M631.5 449.2a2.2 2.2 0 1 0 4.4 0a2.2 2.2 0 1 0 -4.4 0M572.9 465.2a2.2 2.2 0 1 0 4.4 0a2.2 2.2 0 1 0 -4.4 0M609.1 457.2a2.2 2.2 0 1 0 4.4 0a2.2 2.2 0 1 0 -4.4 0M622.1 454.9a2.2 2.2 0 1 0 4.4 0a2.2 2.2 0 1 0 -4.4 0M615.9 469.9a2.2 2.2 0 1 0 4.4 0a2.2 2.2 0 1 0 -4.4 0M576.5 457.9a2.2 2.2 0 1 0 4.4 0a2.2 2.2 0 1 0 -4.4 0M596.3 486.6a2.2 2.2 0 1 0 4.4 0a2.2 2.2 0 1 0 -4.4 0M587.6 484.1a2.2 2.2 0 1 0 4.4 0a2.2 2.2 0 1 0 -4.4 0M604.4 483.1a2.2 2.2 0 1 0 4.4 0a2.2 2.2 0 1 0 -4.4 0M608.4 453.2a2.2 2.2 0 1 0 4.4 0a2.2 2.2 0 1 0 -4.4 0M588.4 489.6a2.2 2.2 0 1 0 4.4 0a2.2 2.2 0 1 0 -4.4 0M600.1 483.2a2.2 2.2 0 1 0 4.4 0a2.2 2.2 0 1 0 -4.4 0M622.9 460.2a2.2 2.2 0 1 0 4.4 0a2.2 2.2 0 1 0 -4.4 0M625.4 449.7a2.2 2.2 0 1 0 4.4 0a2.2 2.2 0 1 0 -4.4 0M628.5 467.2a2.2 2.2 0 1 0 4.4 0a2.2 2.2 0 1 0 -4.4 0M591.5 490.2a2.2 2.2 0 1 0 4.4 0a2.2 2.2 0 1 0 -4.4 0M586.7 463.0a2.2 2.2 0 1 0 4.4 0a2.2 2.2 0 1 0 -4.4 0M610.2 468.8a2.2 2.2 0 1 0 4.4 0a2.2 2.2 0 1 0 -4.4 0M590.5 475.2a2.2 2.2 0 1 0 4.4 0a2.2 2.2 0 1 0 -4.4 0M576.2 447.9a2.2 2.2 0 1 0 4.4 0a2.2 2.2 0 1 0 -4.4 0M600.6 491.5a2.2 2.2 0 1 0 4.4 0a2.2 2.2 0 1 0 -4.4 0M582.0 479.5a2.2 2.2 0 1 0 4.4 0a2.2 2.2 0 1 0 -4.4 0M604.7 492.3a2.2 2.2 0 1 0 4.4 0a2.2 2.2 0 1 0 -4.4 0M565.3 461.4a2.2 2.2 0 1 0 4.4 0a2.2 2.2 0 1 0 -4.4 0M633.2 452.3a2.2 2.2 0 1 0 4.4 0a2.2 2.2 0 1 0 -4.4 0M617.4 475.9a2.2 2.2 0 1 0 4.4 0a2.2 2.2 0 1 0 -4.4 0M607.8 490.8a2.2 2.2 0 1 0 4.4 0a2.2 2.2 0 1 0 -4.4 0M566.0 452.5a2.2 2.2 0 1 0 4.4 0a2.2 2.2 0 1 0 -4.4 0M625.4 468.8a2.2 2.2 0 1 0 4.4 0a2.2 2.2 0 1 0 -4.4 0M586.0 467.9a2.2 2.2 0 1 0 4.4 0a2.2 2.2 0 1 0 -4.4 0M589.9 494.7a2.2 2.2 0 1 0 4.4 0a2.2 2.2 0 1 0 -4.4 0M601.9 478.8a2.2 2.2 0 1 0 4.4 0a2.2 2.2 0 1 0 -4.4 0M604.1 488.3a2.2 2.2 0 1 0 4.4 0a2.2 2.2 0 1 0 -4.4 0M606.7 492.7a2.2 2.2 0 1 0 4.4 0a2.2 2.2 0 1 0 -4.4 0M609.5 464.9a2.2 2.2 0 1 0 4.4 0a2.2 2.2 0 1 0 -4.4 0M578.8 462.8a2.2 2.2 0 1 0 4.4 0a2.2 2.2 0 1 0 -4.4 0M599.9 492.0a2.2 2.2 0 1 0 4.4 0a2.2 2.2 0 1 0 -4.4 0M579.1 448.3a2.2 2.2 0 1 0 4.4 0a2.2 2.2 0 1 0 -4.4 0M589.8 454.3a2.2 2.2 0 1 0 4.4 0a2.2 2.2 0 1 0 -4.4 0M592.4 494.6a2.2 2.2 0 1 0 4.4 0a2.2 2.2 0 1 0 -4.4 0M611.6 454.6a2.2 2.2 0 1 0 4.4 0a2.2 2.2 0 1 0 -4.4 0M597.0 493.0a2.2 2.2 0 1 0 4.4 0a2.2 2.2 0 1 0 -4.4 0M636.2 459.5a2.2 2.2 0 1 0 4.4 0a2.2 2.2 0 1 0 -4.4 0M609.8 449.9a2.2 2.2 0 1 0 4.4 0a2.2 2.2 0 1 0 -4.4 0M571.1 472.0a2.2 2.2 0 1 0 4.4 0a2.2 2.2 0 1 0 -4.4 0M624.6 464.6a2.2 2.2 0 1 0 4.4 0a2.2 2.2 0 1 0 -4.4 0M599.2 489.3a2.2 2.2 0 1 0 4.4 0a2.2 2.2 0 1 0 -4.4 0M585.8 479.6a2.2 2.2 0 1 0 4.4 0a2.2 2.2 0 1 0 -4.4 0M599.5 490.8a2.2 2.2 0 1 0 4.4 0a2.2 2.2 0 1 0 -4.4 0M574.7 473.2a2.2 2.2 0 1 0 4.4 0a2.2 2.2 0 1 0 -4.4 0M616.3 448.5a2.2 2.2 0 1 0 4.4 0a2.2 2.2 0 1 0 -4.4 0M593.4 492.1a2.2 2.2 0 1 0 4.4 0a2.2 2.2 0 1 0 -4.4 0M594.0 488.1a2.2 2.2 0 1 0 4.4 0a2.2 2.2 0 1 0 -4.4 0M583.8 475.7a2.2 2.2 0 1 0 4.4 0a2.2 2.2 0 1 0 -4.4 0M604.3 485.8a2.2 2.2 0 1 0 4.4 0a2.2 2.2 0 1 0 -4.4 0M590.8 494.6a2.2 2.2 0 1 0 4.4 0a2.2 2.2 0 1 0 -4.4 0M619.6 480.5a2.2 2.2 0 1 0 4.4 0a2.2 2.2 0 1 0 -4.4 0M592.6 476.2a2.2 2.2 0 1 0 4.4 0a2.2 2.2 0 1 0 -4.4 0M581.7 482.6a2.2 2.2 0 1 0 4.4 0a2.2 2.2 0 1 0 -4.4 0M569.6 458.5a2.2 2.2 0 1 0 4.4 0a2.2 2.2 0 1 0 -4.4 0M586.1 479.6a2.2 2.2 0 1 0 4.4 0a2.2 2.2 0 1 0 -4.4 0M583.8 450.8a2.2 2.2 0 1 0 4.4 0a2.2 2.2 0 1 0 -4.4 0M594.6 488.7a2.2 2.2 0 1 0 4.4 0a2.2 2.2 0 1 0 -4.4 0M617.8 447.9a2.2 2.2 0 1 0 4.4 0a2.2 2.2 0 1 0 -4.4 0M591.3 485.4a2.2 2.2 0 1 0 4.4 0a2.2 2.2 0 1 0 -4.4 0M610.4 466.1a2.2 2.2 0 1 0 4.4 0a2.2 2.2 0 1 0 -4.4 0M610.5 486.0a2.2 2.2 0 1 0 4.4 0a2.2 2.2 0 1 0 -4.4 0M574.2 474.4a2.2 2.2 0 1 0 4.4 0a2.2 2.2 0 1 0 -4.4 0M584.5 468.5a2.2 2.2 0 1 0 4.4 0a2.2 2.2 0 1 0 -4.4 0M606.3 457.5a2.2 2.2 0 1 0 4.4 0a2.2 2.2 0 1 0 -4.4 0M580.1 477.2a2.2 2.2 0 1 0 4.4 0a2.2 2.2 0 1 0 -4.4 0M588.2 461.1a2.2 2.2 0 1 0 4.4 0a2.2 2.2 0 1 0 -4.4 0M572.4 449.4a2.2 2.2 0 1 0 4.4 0a2.2 2.2 0 1 0 -4.4 0M584.5 474.7a2.2 2.2 0 1 0 4.4 0a2.2 2.2 0 1 0 -4.4 0M606.6 488.9a2.2 2.2 0 1 0 4.4 0a2.2 2.2 0 1 0 -4.4 0M594.5 485.3a2.2 2.2 0 1 0 4.4 0a2.2 2.2 0 1 0 -4.4 0M616.3 460.9a2.2 2.2 0 1 0 4.4 0a2.2 2.2 0 1 0 -4.4 0M590.3 479.7a2.2 2.2 0 1 0 4.4 0a2.2 2.2 0 1 0 -4.4 0M604.7 484.7a2.2 2.2 0 1 0 4.4 0a2.2 2.2 0 1 0 -4.4 0M611.5 479.9a2.2 2.2 0 1 0 4.4 0a2.2 2.2 0 1 0 -4.4 0M633.2 448.2a2.2 2.2 0 1 0 4.4 0a2.2 2.2 0 1 0 -4.4 0M601.3 486.6a2.2 2.2 0 1 0 4.4 0a2.2 2.2 0 1 0 -4.4 0M600.7 482.8a2.2 2.2 0 1 0 4.4 0a2.2 2.2 0 1 0 -4.4 0M612.8 485.9a2.2 2.2 0 1 0 4.4 0a2.2 2.2 0 1 0 -4.4 0M591.2 486.4a2.2 2.2 0 1 0 4.4 0a2.2 2.2 0 1 0 -4.4 0M597.0 481.0a2.2 2.2 0 1 0 4.4 0a2.2 2.2 0 1 0 -4.4 0M605.1 473.0a2.2 2.2 0 1 0 4.4 0a2.2 2.2 0 1 0 -4.4 0M630.4 455.3a2.2 2.2 0 1 0 4.4 0a2.2 2.2 0 1 0 -4.4 0M579.0 475.5a2.2 2.2 0 1 0 4.4 0a2.2 2.2 0 1 0 -4.4 0M596.7 484.8a2.2 2.2 0 1 0 4.4 0a2.2 2.2 0 1 0 -4.4 0M630.5 465.4a2.2 2.2 0 1 0 4.4 0a2.2 2.2 0 1 0 -4.4 0M589.3 491.8a2.2 2.2 0 1 0 4.4 0a2.2 2.2 0 1 0 -4.4 0M592.2 480.1a2.2 2.2 0 1 0 4.4 0a2.2 2.2 0 1 0 -4.4 0M559.9 447.9a2.2 2.2 0 1 0 4.4 0a2.2 2.2 0 1 0 -4.4 0M584.3 477.0a2.2 2.2 0 1 0 4.4 0a2.2 2.2 0 1 0 -4.4 0M626.6 471.5a2.2 2.2 0 1 0 4.4 0a2.2 2.2 0 1 0 -4.4 0M606.5 464.0a2.2 2.2 0 1 0 4.4 0a2.2 2.2 0 1 0 -4.4 0M571.9 471.8a2.2 2.2 0 1 0 4.4 0a2.2 2.2 0 1 0 -4.4 0M590.5 486.5a2.2 2.2 0 1 0 4.4 0a2.2 2.2 0 1 0 -4.4 0M612.6 472.8a2.2 2.2 0 1 0 4.4 0a2.2 2.2 0 1 0 -4.4 0M619.1 454.5a2.2 2.2 0 1 0 4.4 0a2.2 2.2 0 1 0 -4.4 0M613.2 485.8a2.2 2.2 0 1 0 4.4 0a2.2 2.2 0 1 0 -4.4 0M604.9 485.6a2.2 2.2 0 1 0 4.4 0a2.2 2.2 0 1 0 -4.4 0M614.7 448.4a2.2 2.2 0 1 0 4.4 0a2.2 2.2 0 1 0 -4.4 0M603.2 494.4a2.2 2.2 0 1 0 4.4 0a2.2 2.2 0 1 0 -4.4 0M609.1 476.5a2.2 2.2 0 1 0 4.4 0a2.2 2.2 0 1 0 -4.4 0M608.8 460.2a2.2 2.2 0 1 0 4.4 0a2.2 2.2 0 1 0 -4.4 0M604.3 489.7a2.2 2.2 0 1 0 4.4 0a2.2 2.2 0 1 0 -4.4 0M573.5 456.2a2.2 2.2 0 1 0 4.4 0a2.2 2.2 0 1 0 -4.4 0M588.7 488.5a2.2 2.2 0 1 0 4.4 0a2.2 2.2 0 1 0 -4.4 0M603.5 489.0a2.2 2.2 0 1 0 4.4 0a2.2 2.2 0 1 0 -4.4 0M592.8 483.6a2.2 2.2 0 1 0 4.4 0a2.2 2.2 0 1 0 -4.4 0M586.7 486.4a2.2 2.2 0 1 0 4.4 0a2.2 2.2 0 1 0 -4.4 0M569.6 464.6a2.2 2.2 0 1 0 4.4 0a2.2 2.2 0 1 0 -4.4 0M594.0 458.8a2.2 2.2 0 1 0 4.4 0a2.2 2.2 0 1 0 -4.4 0M605.9 493.4a2.2 2.2 0 1 0 4.4 0a2.2 2.2 0 1 0 -4.4 0M577.8 464.1a2.2 2.2 0 1 0 4.4 0a2.2 2.2 0 1 0 -4.4 0M592.7 491.2a2.2 2.2 0 1 0 4.4 0a2.2 2.2 0 1 0 -4.4 0M610.9 476.7a2.2 2.2 0 1 0 4.4 0a2.2 2.2 0 1 0 -4.4 0M564.5 449.7a2.2 2.2 0 1 0 4.4 0a2.2 2.2 0 1 0 -4.4 0M593.6 491.1a2.2 2.2 0 1 0 4.4 0a2.2 2.2 0 1 0 -4.4 0M614.2 471.9a2.2 2.2 0 1 0 4.4 0a2.2 2.2 0 1 0 -4.4 0M628.0 460.7a2.2 2.2 0 1 0 4.4 0a2.2 2.2 0 1 0 -4.4 0M628.7 469.9a2.2 2.2 0 1 0 4.4 0a2.2 2.2 0 1 0 -4.4 0M622.7 453.8a2.2 2.2 0 1 0 4.4 0a2.2 2.2 0 1 0 -4.4 0M583.4 456.5a2.2 2.2 0 1 0 4.4 0a2.2 2.2 0 1 0 -4.4 0M608.6 477.1a2.2 2.2 0 1 0 4.4 0a2.2 2.2 0 1 0 -4.4 0M632.4 461.5a2.2 2.2 0 1 0 4.4 0a2.2 2.2 0 1 0 -4.4 0M608.2 468.7a2.2 2.2 0 1 0 4.4 0a2.2 2.2 0 1 0 -4.4 0M605.3 490.1a2.2 2.2 0 1 0 4.4 0a2.2 2.2 0 1 0 -4.4 0M571.4 474.4a2.2 2.2 0 1 0 4.4 0a2.2 2.2 0 1 0 -4.4 0M582.2 477.9a2.2 2.2 0 1 0 4.4 0a2.2 2.2 0 1 0 -4.4 0M589.7 491.5a2.2 2.2 0 1 0 4.4 0a2.2 2.2 0 1 0 -4.4 0M623.6 458.5a2.2 2.2 0 1 0 4.4 0a2.2 2.2 0 1 0 -4.4 0M611.1 485.1a2.2 2.2 0 1 0 4.4 0a2.2 2.2 0 1 0 -4.4 0M605.1 492.4a2.2 2.2 0 1 0 4.4 0a2.2 2.2 0 1 0 -4.4 0M612.8 486.1a2.2 2.2 0 1 0 4.4 0a2.2 2.2 0 1 0 -4.4 0M605.8 468.1a2.2 2.2 0 1 0 4.4 0a2.2 2.2 0 1 0 -4.4 0M627.6 456.3a2.2 2.2 0 1 0 4.4 0a2.2 2.2 0 1 0 -4.4 0M609.3 493.4a2.2 2.2 0 1 0 4.4 0a2.2 2.2 0 1 0 -4.4 0M629.2 461.2a2.2 2.2 0 1 0 4.4 0a2.2 2.2 0 1 0 -4.4 0M598.3 478.1a2.2 2.2 0 1 0 4.4 0a2.2 2.2 0 1 0 -4.4 0M599.1 492.0a2.2 2.2 0 1 0 4.4 0a2.2 2.2 0 1 0 -4.4 0M570.3 460.3a2.2 2.2 0 1 0 4.4 0a2.2 2.2 0 1 0 -4.4 0M578.4 454.6a2.2 2.2 0 1 0 4.4 0a2.2 2.2 0 1 0 -4.4 0M586.2 468.9a2.2 2.2 0 1 0 4.4 0a2.2 2.2 0 1 0 -4.4 0M613.2 479.6a2.2 2.2 0 1 0 4.4 0a2.2 2.2 0 1 0 -4.4 0M614.8 482.5a2.2 2.2 0 1 0 4.4 0a2.2 2.2 0 1 0 -4.4 0M589.3 452.1a2.2 2.2 0 1 0 4.4 0a2.2 2.2 0 1 0 -4.4 0M630.8 453.6a2.2 2.2 0 1 0 4.4 0a2.2 2.2 0 1 0 -4.4 0M604.0 468.7a2.2 2.2 0 1 0 4.4 0a2.2 2.2 0 1 0 -4.4 0M599.9 492.6a2.2 2.2 0 1 0 4.4 0a2.2 2.2 0 1 0 -4.4 0M590.9 472.7a2.2 2.2 0 1 0 4.4 0a2.2 2.2 0 1 0 -4.4 0M605.0 465.5a2.2 2.2 0 1 0 4.4 0a2.2 2.2 0 1 0 -4.4 0M602.6 476.2a2.2 2.2 0 1 0 4.4 0a2.2 2.2 0 1 0 -4.4 0M585.7 485.9a2.2 2.2 0 1 0 4.4 0a2.2 2.2 0 1 0 -4.4 0M606.7 480.5a2.2 2.2 0 1 0 4.4 0a2.2 2.2 0 1 0 -4.4 0M557.8 458.1a2.2 2.2 0 1 0 4.4 0a2.2 2.2 0 1 0 -4.4 0M606.6 484.8a2.2 2.2 0 1 0 4.4 0a2.2 2.2 0 1 0 -4.4 0M601.8 490.1a2.2 2.2 0 1 0 4.4 0a2.2 2.2 0 1 0 -4.4 0M603.9 493.1a2.2 2.2 0 1 0 4.4 0a2.2 2.2 0 1 0 -4.4 0M606.1 493.1a2.2 2.2 0 1 0 4.4 0a2.2 2.2 0 1 0 -4.4 0M584.5 459.4a2.2 2.2 0 1 0 4.4 0a2.2 2.2 0 1 0 -4.4 0M596.0 483.8a2.2 2.2 0 1 0 4.4 0a2.2 2.2 0 1 0 -4.4 0M578.0 460.2a2.2 2.2 0 1 0 4.4 0a2.2 2.2 0 1 0 -4.4 0M601.2 485.8a2.2 2.2 0 1 0 4.4 0a2.2 2.2 0 1 0 -4.4 0M611.7 460.4a2.2 2.2 0 1 0 4.4 0a2.2 2.2 0 1 0 -4.4 0M607.9 494.4a2.2 2.2 0 1 0 4.4 0a2.2 2.2 0 1 0 -4.4 0M617.9 467.6a2.2 2.2 0 1 0 4.4 0a2.2 2.2 0 1 0 -4.4 0M612.5 466.5a2.2 2.2 0 1 0 4.4 0a2.2 2.2 0 1 0 -4.4 0M597.3 489.2a2.2 2.2 0 1 0 4.4 0a2.2 2.2 0 1 0 -4.4 0M636.9 453.4a2.2 2.2 0 1 0 4.4 0a2.2 2.2 0 1 0 -4.4 0M631.8 457.3a2.2 2.2 0 1 0 4.4 0a2.2 2.2 0 1 0 -4.4 0M616.2 462.0a2.2 2.2 0 1 0 4.4 0a2.2 2.2 0 1 0 -4.4 0M632.4 455.3a2.2 2.2 0 1 0 4.4 0a2.2 2.2 0 1 0 -4.4 0M563.8 452.1a2.2 2.2 0 1 0 4.4 0a2.2 2.2 0 1 0 -4.4 0M615.1 484.0a2.2 2.2 0 1 0 4.4 0a2.2 2.2 0 1 0 -4.4 0M602.2 487.2a2.2 2.2 0 1 0 4.4 0a2.2 2.2 0 1 0 -4.4 0M620.7 478.4a2.2 2.2 0 1 0 4.4 0a2.2 2.2 0 1 0 -4.4 0M604.3 457.6a2.2 2.2 0 1 0 4.4 0a2.2 2.2 0 1 0 -4.4 0M592.4 447.5a2.2 2.2 0 1 0 4.4 0a2.2 2.2 0 1 0 -4.4 0M609.5 491.2a2.2 2.2 0 1 0 4.4 0a2.2 2.2 0 1 0 -4.4 0M631.9 445.5a2.2 2.2 0 1 0 4.4 0a2.2 2.2 0 1 0 -4.4 0M627.8 461.3a2.2 2.2 0 1 0 4.4 0a2.2 2.2 0 1 0 -4.4 0M625.7 467.4a2.2 2.2 0 1 0 4.4 0a2.2 2.2 0 1 0 -4.4 0M580.4 452.4a2.2 2.2 0 1 0 4.4 0a2.2 2.2 0 1 0 -4.4 0M589.6 472.7a2.2 2.2 0 1 0 4.4 0a2.2 2.2 0 1 0 -4.4 0M602.9 472.9a2.2 2.2 0 1 0 4.4 0a2.2 2.2 0 1 0 -4.4 0M609.6 470.5a2.2 2.2 0 1 0 4.4 0a2.2 2.2 0 1 0 -4.4 0M575.9 474.7a2.2 2.2 0 1 0 4.4 0a2.2 2.2 0 1 0 -4.4 0M595.6 487.9a2.2 2.2 0 1 0 4.4 0a2.2 2.2 0 1 0 -4.4 0M616.9 454.7a2.2 2.2 0 1 0 4.4 0a2.2 2.2 0 1 0 -4.4 0M600.9 490.6a2.2 2.2 0 1 0 4.4 0a2.2 2.2 0 1 0 -4.4 0M576.6 479.4a2.2 2.2 0 1 0 4.4 0a2.2 2.2 0 1 0 -4.4 0M614.7 453.3a2.2 2.2 0 1 0 4.4 0a2.2 2.2 0 1 0 -4.4 0M605.2 445.9a2.2 2.2 0 1 0 4.4 0a2.2 2.2 0 1 0 -4.4 0M614.7 488.3a2.2 2.2 0 1 0 4.4 0a2.2 2.2 0 1 0 -4.4 0M634.6 453.3a2.2 2.2 0 1 0 4.4 0a2.2 2.2 0 1 0 -4.4 0M591.5 452.1a2.2 2.2 0 1 0 4.4 0a2.2 2.2 0 1 0 -4.4 0M615.4 452.2a2.2 2.2 0 1 0 4.4 0a2.2 2.2 0 1 0 -4.4 0M576.9 458.3a2.2 2.2 0 1 0 4.4 0a2.2 2.2 0 1 0 -4.4 0M599.4 489.5a2.2 2.2 0 1 0 4.4 0a2.2 2.2 0 1 0 -4.4 0M614.7 446.5a2.2 2.2 0 1 0 4.4 0a2.2 2.2 0 1 0 -4.4 0M605.6 472.9a2.2 2.2 0 1 0 4.4 0a2.2 2.2 0 1 0 -4.4 0M578.0 479.2a2.2 2.2 0 1 0 4.4 0a2.2 2.2 0 1 0 -4.4 0M593.3 470.5a2.2 2.2 0 1 0 4.4 0a2.2 2.2 0 1 0 -4.4 0M592.8 490.9a2.2 2.2 0 1 0 4.4 0a2.2 2.2 0 1 0 -4.4 0M595.2 493.1a2.2 2.2 0 1 0 4.4 0a2.2 2.2 0 1 0 -4.4 0M602.5 484.9a2.2 2.2 0 1 0 4.4 0a2.2 2.2 0 1 0 -4.4 0M582.6 471.4a2.2 2.2 0 1 0 4.4 0a2.2 2.2 0 1 0 -4.4 0M615.9 445.8a2.2 2.2 0 1 0 4.4 0a2.2 2.2 0 1 0 -4.4 0M590.0 482.3a2.2 2.2 0 1 0 4.4 0a2.2 2.2 0 1 0 -4.4 0M567.2 458.5a2.2 2.2 0 1 0 4.4 0a2.2 2.2 0 1 0 -4.4 0M605.5 451.9a2.2 2.2 0 1 0 4.4 0a2.2 2.2 0 1 0 -4.4 0M569.1 463.1a2.2 2.2 0 1 0 4.4 0a2.2 2.2 0 1 0 -4.4 0M574.1 461.6a2.2 2.2 0 1 0 4.4 0a2.2 2.2 0 1 0 -4.4 0M606.0 464.1a2.2 2.2 0 1 0 4.4 0a2.2 2.2 0 1 0 -4.4 0M567.2 466.6a2.2 2.2 0 1 0 4.4 0a2.2 2.2 0 1 0 -4.4 0M600.0 492.3a2.2 2.2 0 1 0 4.4 0a2.2 2.2 0 1 0 -4.4 0M603.8 493.1a2.2 2.2 0 1 0 4.4 0a2.2 2.2 0 1 0 -4.4 0M612.4 456.7a2.2 2.2 0 1 0 4.4 0a2.2 2.2 0 1 0 -4.4 0M575.4 457.0a2.2 2.2 0 1 0 4.4 0a2.2 2.2 0 1 0 -4.4 0M593.0 492.5a2.2 2.2 0 1 0 4.4 0a2.2 2.2 0 1 0 -4.4 0M604.7 459.5a2.2 2.2 0 1 0 4.4 0a2.2 2.2 0 1 0 -4.4 0M576.5 473.2a2.2 2.2 0 1 0 4.4 0a2.2 2.2 0 1 0 -4.4 0M592.5 453.0a2.2 2.2 0 1 0 4.4 0a2.2 2.2 0 1 0 -4.4 0M629.9 466.2a2.2 2.2 0 1 0 4.4 0a2.2 2.2 0 1 0 -4.4 0M619.0 457.6a2.2 2.2 0 1 0 4.4 0a2.2 2.2 0 1 0 -4.4 0M616.6 481.5a2.2 2.2 0 1 0 4.4 0a2.2 2.2 0 1 0 -4.4 0M606.3 488.5a2.2 2.2 0 1 0 4.4 0a2.2 2.2 0 1 0 -4.4 0M592.5 460.6a2.2 2.2 0 1 0 4.4 0a2.2 2.2 0 1 0 -4.4 0M593.9 488.9a2.2 2.2 0 1 0 4.4 0a2.2 2.2 0 1 0 -4.4 0M593.6 489.4a2.2 2.2 0 1 0 4.4 0a2.2 2.2 0 1 0 -4.4 0M587.1 491.1a2.2 2.2 0 1 0 4.4 0a2.2 2.2 0 1 0 -4.4 0M604.9 494.7a2.2 2.2 0 1 0 4.4 0a2.2 2.2 0 1 0 -4.4 0M583.7 481.9a2.2 2.2 0 1 0 4.4 0a2.2 2.2 0 1 0 -4.4 0M631.6 452.2a2.2 2.2 0 1 0 4.4 0a2.2 2.2 0 1 0 -4.4 0M641.6 452.2a2.2 2.2 0 1 0 4.4 0a2.2 2.2 0 1 0 -4.4 0M649.5 452.2a2.2 2.2 0 1 0 4.4 0a2.2 2.2 0 1 0 -4.4 0M621.7 451.2a2.2 2.2 0 1 0 4.4 0a2.2 2.2 0 1 0 -4.4 0"/>
<path fill="none" stroke="#ee3535" stroke-width="0.95" d="M563.7 109.5a2.2 2.2 0 1 0 4.4 0a2.2 2.2 0 1 0 -4.4 0M573.6 103.1a2.2 2.2 0 1 0 4.4 0a2.2 2.2 0 1 0 -4.4 0M572.8 108.5a2.2 2.2 0 1 0 4.4 0a2.2 2.2 0 1 0 -4.4 0M581.6 97.1a2.2 2.2 0 1 0 4.4 0a2.2 2.2 0 1 0 -4.4 0M584.4 97.6a2.2 2.2 0 1 0 4.4 0a2.2 2.2 0 1 0 -4.4 0M580.8 104.5a2.2 2.2 0 1 0 4.4 0a2.2 2.2 0 1 0 -4.4 0M583.6 107.5a2.2 2.2 0 1 0 4.4 0a2.2 2.2 0 1 0 -4.4 0M648.0 101.6a2.2 2.2 0 1 0 4.4 0a2.2 2.2 0 1 0 -4.4 0M633.3 99.6a2.2 2.2 0 1 0 4.4 0a2.2 2.2 0 1 0 -4.4 0M631.3 104.5a2.2 2.2 0 1 0 4.4 0a2.2 2.2 0 1 0 -4.4 0M612.2 105.7a2.2 2.2 0 1 0 4.4 0a2.2 2.2 0 1 0 -4.4 0M607.8 100.5a2.2 2.2 0 1 0 4.4 0a2.2 2.2 0 1 0 -4.4 0M624.7 96.4a2.2 2.2 0 1 0 4.4 0a2.2 2.2 0 1 0 -4.4 0M612.7 96.6a2.2 2.2 0 1 0 4.4 0a2.2 2.2 0 1 0 -4.4 0M632.3 105.5a2.2 2.2 0 1 0 4.4 0a2.2 2.2 0 1 0 -4.4 0M633.7 100.9a2.2 2.2 0 1 0 4.4 0a2.2 2.2 0 1 0 -4.4 0M634.0 98.7a2.2 2.2 0 1 0 4.4 0a2.2 2.2 0 1 0 -4.4 0M612.8 105.6a2.2 2.2 0 1 0 4.4 0a2.2 2.2 0 1 0 -4.4 0M619.2 102.7a2.2 2.2 0 1 0 4.4 0a2.2 2.2 0 1 0 -4.4 0M602.7 97.5a2.2 2.2 0 1 0 4.4 0a2.2 2.2 0 1 0 -4.4 0M619.6 102.9a2.2 2.2 0 1 0 4.4 0a2.2 2.2 0 1 0 -4.4 0M626.7 106.0a2.2 2.2 0 1 0 4.4 0a2.2 2.2 0 1 0 -4.4 0M608.2 101.4a2.2 2.2 0 1 0 4.4 0a2.2 2.2 0 1 0 -4.4 0M609.6 105.0a2.2 2.2 0 1 0 4.4 0a2.2 2.2 0 1 0 -4.4 0M603.8 108.8a2.2 2.2 0 1 0 4.4 0a2.2 2.2 0 1 0 -4.4 0M613.5 102.2a2.2 2.2 0 1 0 4.4 0a2.2 2.2 0 1 0 -4.4 0M633.6 100.6a2.2 2.2 0 1 0 4.4 0a2.2 2.2 0 1 0 -4.4 0M615.5 103.9a2.2 2.2 0 1 0 4.4 0a2.2 2.2 0 1 0 -4.4 0M609.4 102.9a2.2 2.2 0 1 0 4.4 0a2.2 2.2 0 1 0 -4.4 0M633.9 107.8a2.2 2.2 0 1 0 4.4 0a2.2 2.2 0 1 0 -4.4 0M616.1 100.0a2.2 2.2 0 1 0 4.4 0a2.2 2.2 0 1 0 -4.4 0M627.3 101.8a2.2 2.2 0 1 0 4.4 0a2.2 2.2 0 1 0 -4.4 0M623.2 96.5a2.2 2.2 0 1 0 4.4 0a2.2 2.2 0 1 0 -4.4 0M632.0 106.0a2.2 2.2 0 1 0 4.4 0a2.2 2.2 0 1 0 -4.4 0M619.8 95.6a2.2 2.2 0 1 0 4.4 0a2.2 2.2 0 1 0 -4.4 0M619.3 106.9a2.2 2.2 0 1 0 4.4 0a2.2 2.2 0 1 0 -4.4 0M627.4 108.7a2.2 2.2 0 1 0 4.4 0a2.2 2.2 0 1 0 -4.4 0M606.6 101.8a2.2 2.2 0 1 0 4.4 0a2.2 2.2 0 1 0 -4.4 0M610.7 99.5a2.2 2.2 0 1 0 4.4 0a2.2 2.2 0 1 0 -4.4 0M626.1 105.1a2.2 2.2 0 1 0 4.4 0a2.2 2.2 0 1 0 -4.4 0M627.4 100.5a2.2 2.2 0 1 0 4.4 0a2.2 2.2 0 1 0 -4.4 0M625.4 103.2a2.2 2.2 0 1 0 4.4 0a2.2 2.2 0 1 0 -4.4 0M616.1 108.0a2.2 2.2 0 1 0 4.4 0a2.2 2.2 0 1 0 -4.4 0M617.5 96.2a2.2 2.2 0 1 0 4.4 0a2.2 2.2 0 1 0 -4.4 0M631.5 108.7a2.2 2.2 0 1 0 4.4 0a2.2 2.2 0 1 0 -4.4 0M603.9 105.8a2.2 2.2 0 1 0 4.4 0a2.2 2.2 0 1 0 -4.4 0M625.0 103.4a2.2 2.2 0 1 0 4.4 0a2.2 2.2 0 1 0 -4.4 0M605.8 103.6a2.2 2.2 0 1 0 4.4 0a2.2 2.2 0 1 0 -4.4 0M620.9 99.2a2.2 2.2 0 1 0 4.4 0a2.2 2.2 0 1 0 -4.4 0M615.1 100.5a2.2 2.2 0 1 0 4.4 0a2.2 2.2 0 1 0 -4.4 0M629.1 309.4a2.2 2.2 0 1 0 4.4 0a2.2 2.2 0 1 0 -4.4 0M575.7 310.5a2.2 2.2 0 1 0 4.4 0a2.2 2.2 0 1 0 -4.4 0M605.6 310.3a2.2 2.2 0 1 0 4.4 0a2.2 2.2 0 1 0 -4.4 0M574.2 308.4a2.2 2.2 0 1 0 4.4 0a2.2 2.2 0 1 0 -4.4 0M598.3 312.0a2.2 2.2 0 1 0 4.4 0a2.2 2.2 0 1 0 -4.4 0M628.5 311.4a2.2 2.2 0 1 0 4.4 0a2.2 2.2 0 1 0 -4.4 0M570.1 309.9a2.2 2.2 0 1 0 4.4 0a2.2 2.2 0 1 0 -4.4 0M582.2 312.2a2.2 2.2 0 1 0 4.4 0a2.2 2.2 0 1 0 -4.4 0M585.0 310.2a2.2 2.2 0 1 0 4.4 0a2.2 2.2 0 1 0 -4.4 0M586.1 310.0a2.2 2.2 0 1 0 4.4 0a2.2 2.2 0 1 0 -4.4 0M623.7 308.3a2.2 2.2 0 1 0 4.4 0a2.2 2.2 0 1 0 -4.4 0M622.6 308.6a2.2 2.2 0 1 0 4.4 0a2.2 2.2 0 1 0 -4.4 0M581.8 309.1a2.2 2.2 0 1 0 4.4 0a2.2 2.2 0 1 0 -4.4 0M571.3 310.4a2.2 2.2 0 1 0 4.4 0a2.2 2.2 0 1 0 -4.4 0M570.4 312.8a2.2 2.2 0 1 0 4.4 0a2.2 2.2 0 1 0 -4.4 0M626.5 312.7a2.2 2.2 0 1 0 4.4 0a2.2 2.2 0 1 0 -4.4 0M611.6 310.7a2.2 2.2 0 1 0 4.4 0a2.2 2.2 0 1 0 -4.4 0M565.6 309.3a2.2 2.2 0 1 0 4.4 0a2.2 2.2 0 1 0 -4.4 0M569.5 308.8a2.2 2.2 0 1 0 4.4 0a2.2 2.2 0 1 0 -4.4 0M618.1 310.8a2.2 2.2 0 1 0 4.4 0a2.2 2.2 0 1 0 -4.4 0M594.2 313.2a2.2 2.2 0 1 0 4.4 0a2.2 2.2 0 1 0 -4.4 0M610.5 313.2a2.2 2.2 0 1 0 4.4 0a2.2 2.2 0 1 0 -4.4 0M599.3 308.6a2.2 2.2 0 1 0 4.4 0a2.2 2.2 0 1 0 -4.4 0M609.1 312.8a2.2 2.2 0 1 0 4.4 0a2.2 2.2 0 1 0 -4.4 0M611.9 309.8a2.2 2.2 0 1 0 4.4 0a2.2 2.2 0 1 0 -4.4 0M586.7 309.4a2.2 2.2 0 1 0 4.4 0a2.2 2.2 0 1 0 -4.4 0M602.7 311.2a2.2 2.2 0 1 0 4.4 0a2.2 2.2 0 1 0 -4.4 0M599.3 311.9a2.2 2.2 0 1 0 4.4 0a2.2 2.2 0 1 0 -4.4 0M584.0 308.8a2.2 2.2 0 1 0 4.4 0a2.2 2.2 0 1 0 -4.4 0M588.0 309.4a2.2 2.2 0 1 0 4.4 0a2.2 2.2 0 1 0 -4.4 0M589.1 312.4a2.2 2.2 0 1 0 4.4 0a2.2 2.2 0 1 0 -4.4 0M565.7 308.4a2.2 2.2 0 1 0 4.4 0a2.2 2.2 0 1 0 -4.4 0M613.8 308.3a2.2 2.2 0 1 0 4.4 0a2.2 2.2 0 1 0 -4.4 0M603.4 313.0a2.2 2.2 0 1 0 4.4 0a2.2 2.2 0 1 0 -4.4 0M576.0 313.1a2.2 2.2 0 1 0 4.4 0a2.2 2.2 0 1 0 -4.4 0M604.9 310.2a2.2 2.2 0 1 0 4.4 0a2.2 2.2 0 1 0 -4.4 0M626.9 311.8a2.2 2.2 0 1 0 4.4 0a2.2 2.2 0 1 0 -4.4 0M580.5 312.2a2.2 2.2 0 1 0 4.4 0a2.2 2.2 0 1 0 -4.4 0M575.0 313.2a2.2 2.2 0 1 0 4.4 0a2.2 2.2 0 1 0 -4.4 0M597.3 311.2a2.2 2.2 0 1 0 4.4 0a2.2 2.2 0 1 0 -4.4 0M589.2 308.5a2.2 2.2 0 1 0 4.4 0a2.2 2.2 0 1 0 -4.4 0M585.7 309.1a2.2 2.2 0 1 0 4.4 0a2.2 2.2 0 1 0 -4.4 0M599.7 312.8a2.2 2.2 0 1 0 4.4 0a2.2 2.2 0 1 0 -4.4 0M567.5 310.2a2.2 2.2 0 1 0 4.4 0a2.2 2.2 0 1 0 -4.4 0M621.7 313.1a2.2 2.2 0 1 0 4.4 0a2.2 2.2 0 1 0 -4.4 0M610.6 312.2a2.2 2.2 0 1 0 4.4 0a2.2 2.2 0 1 0 -4.4 0M609.7 309.1a2.2 2.2 0 1 0 4.4 0a2.2 2.2 0 1 0 -4.4 0M612.3 312.1a2.2 2.2 0 1 0 4.4 0a2.2 2.2 0 1 0 -4.4 0M575.6 308.4a2.2 2.2 0 1 0 4.4 0a2.2 2.2 0 1 0 -4.4 0M624.4 308.6a2.2 2.2 0 1 0 4.4 0a2.2 2.2 0 1 0 -4.4 0M600.3 313.1a2.2 2.2 0 1 0 4.4 0a2.2 2.2 0 1 0 -4.4 0M589.2 308.7a2.2 2.2 0 1 0 4.4 0a2.2 2.2 0 1 0 -4.4 0M569.9 311.8a2.2 2.2 0 1 0 4.4 0a2.2 2.2 0 1 0 -4.4 0M568.3 308.9a2.2 2.2 0 1 0 4.4 0a2.2 2.2 0 1 0 -4.4 0M588.3 312.9a2.2 2.2 0 1 0 4.4 0a2.2 2.2 0 1 0 -4.4 0M588.4 312.3a2.2 2.2 0 1 0 4.4 0a2.2 2.2 0 1 0 -4.4 0M593.4 310.2a2.2 2.2 0 1 0 4.4 0a2.2 2.2 0 1 0 -4.4 0M607.8 312.9a2.2 2.2 0 1 0 4.4 0a2.2 2.2 0 1 0 -4.4 0M599.9 313.1a2.2 2.2 0 1 0 4.4 0a2.2 2.2 0 1 0 -4.4 0M593.9 309.2a2.2 2.2 0 1 0 4.4 0a2.2 2.2 0 1 0 -4.4 0M582.4 309.1a2.2 2.2 0 1 0 4.4 0a2.2 2.2 0 1 0 -4.4 0M581.2 311.3a2.2 2.2 0 1 0 4.4 0a2.2 2.2 0 1 0 -4.4 0M616.4 313.3a2.2 2.2 0 1 0 4.4 0a2.2 2.2 0 1 0 -4.4 0M601.1 310.6a2.2 2.2 0 1 0 4.4 0a2.2 2.2 0 1 0 -4.4 0M611.5 308.5a2.2 2.2 0 1 0 4.4 0a2.2 2.2 0 1 0 -4.4 0M610.2 312.2a2.2 2.2 0 1 0 4.4 0a2.2 2.2 0 1 0 -4.4 0M578.3 310.9a2.2 2.2 0 1 0 4.4 0a2.2 2.2 0 1 0 -4.4 0M583.6 310.5a2.2 2.2 0 1 0 4.4 0a2.2 2.2 0 1 0 -4.4 0M571.3 309.8a2.2 2.2 0 1 0 4.4 0a2.2 2.2 0 1 0 -4.4 0M592.3 313.1a2.2 2.2 0 1 0 4.4 0a2.2 2.2 0 1 0 -4.4 0M573.3 308.6a2.2 2.2 0 1 0 4.4 0a2.2 2.2 0 1 0 -4.4 0M620.1 308.8a2.2 2.2 0 1 0 4.4 0a2.2 2.2 0 1 0 -4.4 0M590.6 308.3a2.2 2.2 0 1 0 4.4 0a2.2 2.2 0 1 0 -4.4 0M576.5 309.6a2.2 2.2 0 1 0 4.4 0a2.2 2.2 0 1 0 -4.4 0M626.0 312.3a2.2 2.2 0 1 0 4.4 0a2.2 2.2 0 1 0 -4.4 0M565.8 312.7a2.2 2.2 0 1 0 4.4 0a2.2 2.2 0 1 0 -4.4 0M570.9 309.2a2.2 2.2 0 1 0 4.4 0a2.2 2.2 0 1 0 -4.4 0M604.5 310.9a2.2 2.2 0 1 0 4.4 0a2.2 2.2 0 1 0 -4.4 0M572.9 310.1a2.2 2.2 0 1 0 4.4 0a2.2 2.2 0 1 0 -4.4 0M574.4 312.7a2.2 2.2 0 1 0 4.4 0a2.2 2.2 0 1 0 -4.4 0M603.7 310.1a2.2 2.2 0 1 0 4.4 0a2.2 2.2 0 1 0 -4.4 0M617.0 309.1a2.2 2.2 0 1 0 4.4 0a2.2 2.2 0 1 0 -4.4 0M574.4 311.8a2.2 2.2 0 1 0 4.4 0a2.2 2.2 0 1 0 -4.4 0M574.8 310.8a2.2 2.2 0 1 0 4.4 0a2.2 2.2 0 1 0 -4.4 0M567.4 308.9a2.2 2.2 0 1 0 4.4 0a2.2 2.2 0 1 0 -4.4 0M609.3 309.2a2.2 2.2 0 1 0 4.4 0a2.2 2.2 0 1 0 -4.4 0M596.9 308.7a2.2 2.2 0 1 0 4.4 0a2.2 2.2 0 1 0 -4.4 0M619.2 309.1a2.2 2.2 0 1 0 4.4 0a2.2 2.2 0 1 0 -4.4 0M617.3 312.2a2.2 2.2 0 1 0 4.4 0a2.2 2.2 0 1 0 -4.4 0M587.7 313.1a2.2 2.2 0 1 0 4.4 0a2.2 2.2 0 1 0 -4.4 0M614.6 310.9a2.2 2.2 0 1 0 4.4 0a2.2 2.2 0 1 0 -4.4 0M628.9 311.9a2.2 2.2 0 1 0 4.4 0a2.2 2.2 0 1 0 -4.4 0M593.2 308.9a2.2 2.2 0 1 0 4.4 0a2.2 2.2 0 1 0 -4.4 0M627.8 309.5a2.2 2.2 0 1 0 4.4 0a2.2 2.2 0 1 0 -4.4 0M622.2 308.6a2.2 2.2 0 1 0 4.4 0a2.2 2.2 0 1 0 -4.4 0M583.0 310.2a2.2 2.2 0 1 0 4.4 0a2.2 2.2 0 1 0 -4.4 0M569.6 309.9a2.2 2.2 0 1 0 4.4 0a2.2 2.2 0 1 0 -4.4 0M626.7 310.8a2.2 2.2 0 1 0 4.4 0a2.2 2.2 0 1 0 -4.4 0M574.9 310.4a2.2 2.2 0 1 0 4.4 0a2.2 2.2 0 1 0 -4.4 0M569.8 311.0a2.2 2.2 0 1 0 4.4 0a2.2 2.2 0 1 0 -4.4 0M570.7 311.2a2.2 2.2 0 1 0 4.4 0a2.2 2.2 0 1 0 -4.4 0M618.1 309.6a2.2 2.2 0 1 0 4.4 0a2.2 2.2 0 1 0 -4.4 0M620.4 311.0a2.2 2.2 0 1 0 4.4 0a2.2 2.2 0 1 0 -4.4 0M593.9 313.1a2.2 2.2 0 1 0 4.4 0a2.2 2.2 0 1 0 -4.4 0M616.2 310.4a2.2 2.2 0 1 0 4.4 0a2.2 2.2 0 1 0 -4.4 0M591.8 312.6a2.2 2.2 0 1 0 4.4 0a2.2 2.2 0 1 0 -4.4 0M595.0 313.0a2.2 2.2 0 1 0 4.4 0a2.2 2.2 0 1 0 -4.4 0M573.3 312.9a2.2 2.2 0 1 0 4.4 0a2.2 2.2 0 1 0 -4.4 0M592.8 312.6a2.2 2.2 0 1 0 4.4 0a2.2 2.2 0 1 0 -4.4 0M618.7 310.2a2.2 2.2 0 1 0 4.4 0a2.2 2.2 0 1 0 -4.4 0M553.7 434.6a2.2 2.2 0 1 0 4.4 0a2.2 2.2 0 1 0 -4.4 0M573.3 439.8a2.2 2.2 0 1 0 4.4 0a2.2 2.2 0 1 0 -4.4 0M564.8 440.2a2.2 2.2 0 1 0 4.4 0a2.2 2.2 0 1 0 -4.4 0M630.8 436.8a2.2 2.2 0 1 0 4.4 0a2.2 2.2 0 1 0 -4.4 0M628.4 443.7a2.2 2.2 0 1 0 4.4 0a2.2 2.2 0 1 0 -4.4 0M547.3 434.1a2.2 2.2 0 1 0 4.4 0a2.2 2.2 0 1 0 -4.4 0M604.4 439.0a2.2 2.2 0 1 0 4.4 0a2.2 2.2 0 1 0 -4.4 0M617.8 444.5a2.2 2.2 0 1 0 4.4 0a2.2 2.2 0 1 0 -4.4 0M561.6 436.3a2.2 2.2 0 1 0 4.4 0a2.2 2.2 0 1 0 -4.4 0M602.4 437.3a2.2 2.2 0 1 0 4.4 0a2.2 2.2 0 1 0 -4.4 0M563.8 442.4a2.2 2.2 0 1 0 4.4 0a2.2 2.2 0 1 0 -4.4 0M551.5 435.3a2.2 2.2 0 1 0 4.4 0a2.2 2.2 0 1 0 -4.4 0M586.0 441.7a2.2 2.2 0 1 0 4.4 0a2.2 2.2 0 1 0 -4.4 0M554.7 434.5a2.2 2.2 0 1 0 4.4 0a2.2 2.2 0 1 0 -4.4 0M629.2 437.6a2.2 2.2 0 1 0 4.4 0a2.2 2.2 0 1 0 -4.4 0M611.8 437.3a2.2 2.2 0 1 0 4.4 0a2.2 2.2 0 1 0 -4.4 0M586.0 439.0a2.2 2.2 0 1 0 4.4 0a2.2 2.2 0 1 0 -4.4 0M550.8 437.7a2.2 2.2 0 1 0 4.4 0a2.2 2.2 0 1 0 -4.4 0M591.1 444.2a2.2 2.2 0 1 0 4.4 0a2.2 2.2 0 1 0 -4.4 0M549.6 442.3a2.2 2.2 0 1 0 4.4 0a2.2 2.2 0 1 0 -4.4 0M549.2 435.9a2.2 2.2 0 1 0 4.4 0a2.2 2.2 0 1 0 -4.4 0M625.7 440.2a2.2 2.2 0 1 0 4.4 0a2.2 2.2 0 1 0 -4.4 0M611.2 435.1a2.2 2.2 0 1 0 4.4 0a2.2 2.2 0 1 0 -4.4 0M605.8 435.2a2.2 2.2 0 1 0 4.4 0a2.2 2.2 0 1 0 -4.4 0M608.2 444.5a2.2 2.2 0 1 0 4.4 0a2.2 2.2 0 1 0 -4.4 0M569.4 436.2a2.2 2.2 0 1 0 4.4 0a2.2 2.2 0 1 0 -4.4 0M611.1 433.3a2.2 2.2 0 1 0 4.4 0a2.2 2.2 0 1 0 -4.4 0M608.1 441.8a2.2 2.2 0 1 0 4.4 0a2.2 2.2 0 1 0 -4.4 0M585.3 432.3a2.2 2.2 0 1 0 4.4 0a2.2 2.2 0 1 0 -4.4 0M570.3 437.9a2.2 2.2 0 1 0 4.4 0a2.2 2.2 0 1 0 -4.4 0M600.5 434.8a2.2 2.2 0 1 0 4.4 0a2.2 2.2 0 1 0 -4.4 0M571.8 432.6a2.2 2.2 0 1 0 4.4 0a2.2 2.2 0 1 0 -4.4 0M569.5 431.2a2.2 2.2 0 1 0 4.4 0a2.2 2.2 0 1 0 -4.4 0M574.3 441.2a2.2 2.2 0 1 0 4.4 0a2.2 2.2 0 1 0 -4.4 0M621.4 443.2a2.2 2.2 0 1 0 4.4 0a2.2 2.2 0 1 0 -4.4 0M561.9 438.7a2.2 2.2 0 1 0 4.4 0a2.2 2.2 0 1 0 -4.4 0M631.7 437.1a2.2 2.2 0 1 0 4.4 0a2.2 2.2 0 1 0 -4.4 0M567.1 431.3a2.2 2.2 0 1 0 4.4 0a2.2 2.2 0 1 0 -4.4 0M566.3 441.3a2.2 2.2 0 1 0 4.4 0a2.2 2.2 0 1 0 -4.4 0M606.9 444.6a2.2 2.2 0 1 0 4.4 0a2.2 2.2 0 1 0 -4.4 0M570.1 439.0a2.2 2.2 0 1 0 4.4 0a2.2 2.2 0 1 0 -4.4 0M607.0 435.6a2.2 2.2 0 1 0 4.4 0a2.2 2.2 0 1 0 -4.4 0M600.7 438.0a2.2 2.2 0 1 0 4.4 0a2.2 2.2 0 1 0 -4.4 0M563.7 441.4a2.2 2.2 0 1 0 4.4 0a2.2 2.2 0 1 0 -4.4 0M608.5 430.7a2.2 2.2 0 1 0 4.4 0a2.2 2.2 0 1 0 -4.4 0M559.5 435.8a2.2 2.2 0 1 0 4.4 0a2.2 2.2 0 1 0 -4.4 0M554.0 440.3a2.2 2.2 0 1 0 4.4 0a2.2 2.2 0 1 0 -4.4 0M627.6 436.5a2.2 2.2 0 1 0 4.4 0a2.2 2.2 0 1 0 -4.4 0M571.8 430.7a2.2 2.2 0 1 0 4.4 0a2.2 2.2 0 1 0 -4.4 0M551.3 444.7a2.2 2.2 0 1 0 4.4 0a2.2 2.2 0 1 0 -4.4 0M589.5 431.3a2.2 2.2 0 1 0 4.4 0a2.2 2.2 0 1 0 -4.4 0M607.6 439.7a2.2 2.2 0 1 0 4.4 0a2.2 2.2 0 1 0 -4.4 0M566.1 433.8a2.2 2.2 0 1 0 4.4 0a2.2 2.2 0 1 0 -4.4 0M569.9 442.1a2.2 2.2 0 1 0 4.4 0a2.2 2.2 0 1 0 -4.4 0M626.5 433.9a2.2 2.2 0 1 0 4.4 0a2.2 2.2 0 1 0 -4.4 0M587.1 445.1a2.2 2.2 0 1 0 4.4 0a2.2 2.2 0 1 0 -4.4 0M552.8 435.1a2.2 2.2 0 1 0 4.4 0a2.2 2.2 0 1 0 -4.4 0M573.6 444.4a2.2 2.2 0 1 0 4.4 0a2.2 2.2 0 1 0 -4.4 0M580.4 435.7a2.2 2.2 0 1 0 4.4 0a2.2 2.2 0 1 0 -4.4 0M614.4 436.4a2.2 2.2 0 1 0 4.4 0a2.2 2.2 0 1 0 -4.4 0M586.2 440.9a2.2 2.2 0 1 0 4.4 0a2.2 2.2 0 1 0 -4.4 0M582.1 439.7a2.2 2.2 0 1 0 4.4 0a2.2 2.2 0 1 0 -4.4 0M654.3 437.9a2.2 2.2 0 1 0 4.4 0a2.2 2.2 0 1 0 -4.4 0"/>
<path fill="none" stroke="#4a4a4a" stroke-width="0.95" d="M534.6 58.9a2.2 2.2 0 1 0 4.4 0a2.2 2.2 0 1 0 -4.4 0M545.0 80.2a2.2 2.2 0 1 0 4.4 0a2.2 2.2 0 1 0 -4.4 0M543.0 84.2a2.2 2.2 0 1 0 4.4 0a2.2 2.2 0 1 0 -4.4 0M552.1 93.1a2.2 2.2 0 1 0 4.4 0a2.2 2.2 0 1 0 -4.4 0M558.5 90.2a2.2 2.2 0 1 0 4.4 0a2.2 2.2 0 1 0 -4.4 0M578.4 61.9a2.2 2.2 0 1 0 4.4 0a2.2 2.2 0 1 0 -4.4 0M583.6 57.4a2.2 2.2 0 1 0 4.4 0a2.2 2.2 0 1 0 -4.4 0M585.6 62.4a2.2 2.2 0 1 0 4.4 0a2.2 2.2 0 1 0 -4.4 0M587.5 52.5a2.2 2.2 0 1 0 4.4 0a2.2 2.2 0 1 0 -4.4 0M589.5 58.9a2.2 2.2 0 1 0 4.4 0a2.2 2.2 0 1 0 -4.4 0M587.5 77.3a2.2 2.2 0 1 0 4.4 0a2.2 2.2 0 1 0 -4.4 0M591.5 78.7a2.2 2.2 0 1 0 4.4 0a2.2 2.2 0 1 0 -4.4 0M577.6 89.7a2.2 2.2 0 1 0 4.4 0a2.2 2.2 0 1 0 -4.4 0M585.6 89.7a2.2 2.2 0 1 0 4.4 0a2.2 2.2 0 1 0 -4.4 0M649.2 25.2a2.2 2.2 0 1 0 4.4 0a2.2 2.2 0 1 0 -4.4 0M669.1 25.2a2.2 2.2 0 1 0 4.4 0a2.2 2.2 0 1 0 -4.4 0M653.2 62.4a2.2 2.2 0 1 0 4.4 0a2.2 2.2 0 1 0 -4.4 0M651.2 78.7a2.2 2.2 0 1 0 4.4 0a2.2 2.2 0 1 0 -4.4 0M645.3 62.4a2.2 2.2 0 1 0 4.4 0a2.2 2.2 0 1 0 -4.4 0M647.2 78.7a2.2 2.2 0 1 0 4.4 0a2.2 2.2 0 1 0 -4.4 0M631.1 70.9a2.2 2.2 0 1 0 4.4 0a2.2 2.2 0 1 0 -4.4 0M602.8 91.5a2.2 2.2 0 1 0 4.4 0a2.2 2.2 0 1 0 -4.4 0M603.1 94.4a2.2 2.2 0 1 0 4.4 0a2.2 2.2 0 1 0 -4.4 0M603.9 78.0a2.2 2.2 0 1 0 4.4 0a2.2 2.2 0 1 0 -4.4 0M605.4 58.4a2.2 2.2 0 1 0 4.4 0a2.2 2.2 0 1 0 -4.4 0M622.4 72.2a2.2 2.2 0 1 0 4.4 0a2.2 2.2 0 1 0 -4.4 0M614.8 91.8a2.2 2.2 0 1 0 4.4 0a2.2 2.2 0 1 0 -4.4 0M615.3 76.1a2.2 2.2 0 1 0 4.4 0a2.2 2.2 0 1 0 -4.4 0M619.0 81.1a2.2 2.2 0 1 0 4.4 0a2.2 2.2 0 1 0 -4.4 0M640.2 87.0a2.2 2.2 0 1 0 4.4 0a2.2 2.2 0 1 0 -4.4 0M636.0 66.1a2.2 2.2 0 1 0 4.4 0a2.2 2.2 0 1 0 -4.4 0M620.7 82.5a2.2 2.2 0 1 0 4.4 0a2.2 2.2 0 1 0 -4.4 0M620.2 78.7a2.2 2.2 0 1 0 4.4 0a2.2 2.2 0 1 0 -4.4 0M614.7 80.6a2.2 2.2 0 1 0 4.4 0a2.2 2.2 0 1 0 -4.4 0M614.2 78.6a2.2 2.2 0 1 0 4.4 0a2.2 2.2 0 1 0 -4.4 0M621.8 56.8a2.2 2.2 0 1 0 4.4 0a2.2 2.2 0 1 0 -4.4 0M621.0 82.1a2.2 2.2 0 1 0 4.4 0a2.2 2.2 0 1 0 -4.4 0M640.7 51.3a2.2 2.2 0 1 0 4.4 0a2.2 2.2 0 1 0 -4.4 0M635.7 81.0a2.2 2.2 0 1 0 4.4 0a2.2 2.2 0 1 0 -4.4 0M630.6 64.4a2.2 2.2 0 1 0 4.4 0a2.2 2.2 0 1 0 -4.4 0M613.9 52.9a2.2 2.2 0 1 0 4.4 0a2.2 2.2 0 1 0 -4.4 0M629.9 68.2a2.2 2.2 0 1 0 4.4 0a2.2 2.2 0 1 0 -4.4 0M620.1 68.9a2.2 2.2 0 1 0 4.4 0a2.2 2.2 0 1 0 -4.4 0M610.8 74.6a2.2 2.2 0 1 0 4.4 0a2.2 2.2 0 1 0 -4.4 0M644.4 83.6a2.2 2.2 0 1 0 4.4 0a2.2 2.2 0 1 0 -4.4 0M632.4 94.4a2.2 2.2 0 1 0 4.4 0a2.2 2.2 0 1 0 -4.4 0M619.2 63.0a2.2 2.2 0 1 0 4.4 0a2.2 2.2 0 1 0 -4.4 0M612.3 88.4a2.2 2.2 0 1 0 4.4 0a2.2 2.2 0 1 0 -4.4 0M618.4 50.3a2.2 2.2 0 1 0 4.4 0a2.2 2.2 0 1 0 -4.4 0M609.4 93.5a2.2 2.2 0 1 0 4.4 0a2.2 2.2 0 1 0 -4.4 0M626.7 60.1a2.2 2.2 0 1 0 4.4 0a2.2 2.2 0 1 0 -4.4 0M638.0 81.4a2.2 2.2 0 1 0 4.4 0a2.2 2.2 0 1 0 -4.4 0M627.0 65.9a2.2 2.2 0 1 0 4.4 0a2.2 2.2 0 1 0 -4.4 0M634.6 64.1a2.2 2.2 0 1 0 4.4 0a2.2 2.2 0 1 0 -4.4 0M626.5 87.2a2.2 2.2 0 1 0 4.4 0a2.2 2.2 0 1 0 -4.4 0M632.1 73.5a2.2 2.2 0 1 0 4.4 0a2.2 2.2 0 1 0 -4.4 0M624.9 50.7a2.2 2.2 0 1 0 4.4 0a2.2 2.2 0 1 0 -4.4 0M606.8 84.3a2.2 2.2 0 1 0 4.4 0a2.2 2.2 0 1 0 -4.4 0M633.1 52.8a2.2 2.2 0 1 0 4.4 0a2.2 2.2 0 1 0 -4.4 0M612.9 75.1a2.2 2.2 0 1 0 4.4 0a2.2 2.2 0 1 0 -4.4 0M622.8 90.3a2.2 2.2 0 1 0 4.4 0a2.2 2.2 0 1 0 -4.4 0M628.6 56.1a2.2 2.2 0 1 0 4.4 0a2.2 2.2 0 1 0 -4.4 0M630.3 85.7a2.2 2.2 0 1 0 4.4 0a2.2 2.2 0 1 0 -4.4 0M636.6 80.2a2.2 2.2 0 1 0 4.4 0a2.2 2.2 0 1 0 -4.4 0M607.2 78.3a2.2 2.2 0 1 0 4.4 0a2.2 2.2 0 1 0 -4.4 0M624.3 50.5a2.2 2.2 0 1 0 4.4 0a2.2 2.2 0 1 0 -4.4 0M626.1 52.7a2.2 2.2 0 1 0 4.4 0a2.2 2.2 0 1 0 -4.4 0M616.4 93.1a2.2 2.2 0 1 0 4.4 0a2.2 2.2 0 1 0 -4.4 0M614.1 67.1a2.2 2.2 0 1 0 4.4 0a2.2 2.2 0 1 0 -4.4 0M637.6 81.9a2.2 2.2 0 1 0 4.4 0a2.2 2.2 0 1 0 -4.4 0M612.9 74.7a2.2 2.2 0 1 0 4.4 0a2.2 2.2 0 1 0 -4.4 0M601.8 68.8a2.2 2.2 0 1 0 4.4 0a2.2 2.2 0 1 0 -4.4 0M607.3 57.2a2.2 2.2 0 1 0 4.4 0a2.2 2.2 0 1 0 -4.4 0M642.3 87.3a2.2 2.2 0 1 0 4.4 0a2.2 2.2 0 1 0 -4.4 0M602.8 61.5a2.2 2.2 0 1 0 4.4 0a2.2 2.2 0 1 0 -4.4 0M633.6 86.7a2.2 2.2 0 1 0 4.4 0a2.2 2.2 0 1 0 -4.4 0M622.5 66.8a2.2 2.2 0 1 0 4.4 0a2.2 2.2 0 1 0 -4.4 0M601.9 58.0a2.2 2.2 0 1 0 4.4 0a2.2 2.2 0 1 0 -4.4 0M610.1 66.6a2.2 2.2 0 1 0 4.4 0a2.2 2.2 0 1 0 -4.4 0M615.7 88.4a2.2 2.2 0 1 0 4.4 0a2.2 2.2 0 1 0 -4.4 0M621.8 84.7a2.2 2.2 0 1 0 4.4 0a2.2 2.2 0 1 0 -4.4 0M620.4 60.6a2.2 2.2 0 1 0 4.4 0a2.2 2.2 0 1 0 -4.4 0M626.1 71.2a2.2 2.2 0 1 0 4.4 0a2.2 2.2 0 1 0 -4.4 0M644.7 88.3a2.2 2.2 0 1 0 4.4 0a2.2 2.2 0 1 0 -4.4 0M610.6 90.8a2.2 2.2 0 1 0 4.4 0a2.2 2.2 0 1 0 -4.4 0M643.7 83.6a2.2 2.2 0 1 0 4.4 0a2.2 2.2 0 1 0 -4.4 0M620.3 79.7a2.2 2.2 0 1 0 4.4 0a2.2 2.2 0 1 0 -4.4 0M637.6 54.8a2.2 2.2 0 1 0 4.4 0a2.2 2.2 0 1 0 -4.4 0M630.9 90.1a2.2 2.2 0 1 0 4.4 0a2.2 2.2 0 1 0 -4.4 0M616.5 88.5a2.2 2.2 0 1 0 4.4 0a2.2 2.2 0 1 0 -4.4 0M640.0 57.2a2.2 2.2 0 1 0 4.4 0a2.2 2.2 0 1 0 -4.4 0M610.8 88.1a2.2 2.2 0 1 0 4.4 0a2.2 2.2 0 1 0 -4.4 0M632.7 93.8a2.2 2.2 0 1 0 4.4 0a2.2 2.2 0 1 0 -4.4 0M631.7 93.4a2.2 2.2 0 1 0 4.4 0a2.2 2.2 0 1 0 -4.4 0M638.2 74.4a2.2 2.2 0 1 0 4.4 0a2.2 2.2 0 1 0 -4.4 0M626.7 92.5a2.2 2.2 0 1 0 4.4 0a2.2 2.2 0 1 0 -4.4 0M602.7 50.9a2.2 2.2 0 1 0 4.4 0a2.2 2.2 0 1 0 -4.4 0M627.4 57.8a2.2 2.2 0 1 0 4.4 0a2.2 2.2 0 1 0 -4.4 0M622.9 302.9a2.2 2.2 0 1 0 4.4 0a2.2 2.2 0 1 0 -4.4 0M618.7 296.4a2.2 2.2 0 1 0 4.4 0a2.2 2.2 0 1 0 -4.4 0M564.9 292.7a2.2 2.2 0 1 0 4.4 0a2.2 2.2 0 1 0 -4.4 0M628.3 305.5a2.2 2.2 0 1 0 4.4 0a2.2 2.2 0 1 0 -4.4 0M595.6 301.0a2.2 2.2 0 1 0 4.4 0a2.2 2.2 0 1 0 -4.4 0M576.2 295.8a2.2 2.2 0 1 0 4.4 0a2.2 2.2 0 1 0 -4.4 0M625.3 298.8a2.2 2.2 0 1 0 4.4 0a2.2 2.2 0 1 0 -4.4 0M573.3 292.8a2.2 2.2 0 1 0 4.4 0a2.2 2.2 0 1 0 -4.4 0M579.0 295.2a2.2 2.2 0 1 0 4.4 0a2.2 2.2 0 1 0 -4.4 0M582.7 291.7a2.2 2.2 0 1 0 4.4 0a2.2 2.2 0 1 0 -4.4 0M590.0 302.7a2.2 2.2 0 1 0 4.4 0a2.2 2.2 0 1 0 -4.4 0M607.7 305.5a2.2 2.2 0 1 0 4.4 0a2.2 2.2 0 1 0 -4.4 0M605.7 295.1a2.2 2.2 0 1 0 4.4 0a2.2 2.2 0 1 0 -4.4 0M570.9 300.0a2.2 2.2 0 1 0 4.4 0a2.2 2.2 0 1 0 -4.4 0M632.4 289.0a2.2 2.2 0 1 0 4.4 0a2.2 2.2 0 1 0 -4.4 0M609.2 297.6a2.2 2.2 0 1 0 4.4 0a2.2 2.2 0 1 0 -4.4 0M581.3 301.4a2.2 2.2 0 1 0 4.4 0a2.2 2.2 0 1 0 -4.4 0M611.3 300.9a2.2 2.2 0 1 0 4.4 0a2.2 2.2 0 1 0 -4.4 0M560.0 293.2a2.2 2.2 0 1 0 4.4 0a2.2 2.2 0 1 0 -4.4 0M596.6 299.1a2.2 2.2 0 1 0 4.4 0a2.2 2.2 0 1 0 -4.4 0M606.9 302.8a2.2 2.2 0 1 0 4.4 0a2.2 2.2 0 1 0 -4.4 0M563.3 291.8a2.2 2.2 0 1 0 4.4 0a2.2 2.2 0 1 0 -4.4 0M578.6 299.4a2.2 2.2 0 1 0 4.4 0a2.2 2.2 0 1 0 -4.4 0M573.8 303.0a2.2 2.2 0 1 0 4.4 0a2.2 2.2 0 1 0 -4.4 0M581.6 304.5a2.2 2.2 0 1 0 4.4 0a2.2 2.2 0 1 0 -4.4 0M601.3 295.4a2.2 2.2 0 1 0 4.4 0a2.2 2.2 0 1 0 -4.4 0M602.3 302.7a2.2 2.2 0 1 0 4.4 0a2.2 2.2 0 1 0 -4.4 0M593.9 295.2a2.2 2.2 0 1 0 4.4 0a2.2 2.2 0 1 0 -4.4 0M608.1 299.0a2.2 2.2 0 1 0 4.4 0a2.2 2.2 0 1 0 -4.4 0M616.6 298.7a2.2 2.2 0 1 0 4.4 0a2.2 2.2 0 1 0 -4.4 0M614.4 292.1a2.2 2.2 0 1 0 4.4 0a2.2 2.2 0 1 0 -4.4 0M622.7 298.3a2.2 2.2 0 1 0 4.4 0a2.2 2.2 0 1 0 -4.4 0M589.3 298.7a2.2 2.2 0 1 0 4.4 0a2.2 2.2 0 1 0 -4.4 0M609.5 298.0a2.2 2.2 0 1 0 4.4 0a2.2 2.2 0 1 0 -4.4 0M611.8 297.2a2.2 2.2 0 1 0 4.4 0a2.2 2.2 0 1 0 -4.4 0M608.5 297.3a2.2 2.2 0 1 0 4.4 0a2.2 2.2 0 1 0 -4.4 0M605.0 297.4a2.2 2.2 0 1 0 4.4 0a2.2 2.2 0 1 0 -4.4 0M569.6 304.8a2.2 2.2 0 1 0 4.4 0a2.2 2.2 0 1 0 -4.4 0M628.5 301.1a2.2 2.2 0 1 0 4.4 0a2.2 2.2 0 1 0 -4.4 0M600.0 295.1a2.2 2.2 0 1 0 4.4 0a2.2 2.2 0 1 0 -4.4 0M567.6 300.1a2.2 2.2 0 1 0 4.4 0a2.2 2.2 0 1 0 -4.4 0M605.8 301.9a2.2 2.2 0 1 0 4.4 0a2.2 2.2 0 1 0 -4.4 0M594.1 298.7a2.2 2.2 0 1 0 4.4 0a2.2 2.2 0 1 0 -4.4 0M589.9 297.3a2.2 2.2 0 1 0 4.4 0a2.2 2.2 0 1 0 -4.4 0M588.4 302.4a2.2 2.2 0 1 0 4.4 0a2.2 2.2 0 1 0 -4.4 0M601.6 297.5a2.2 2.2 0 1 0 4.4 0a2.2 2.2 0 1 0 -4.4 0M596.0 302.5a2.2 2.2 0 1 0 4.4 0a2.2 2.2 0 1 0 -4.4 0M589.0 301.8a2.2 2.2 0 1 0 4.4 0a2.2 2.2 0 1 0 -4.4 0M600.7 295.1a2.2 2.2 0 1 0 4.4 0a2.2 2.2 0 1 0 -4.4 0M581.8 302.1a2.2 2.2 0 1 0 4.4 0a2.2 2.2 0 1 0 -4.4 0M578.4 294.8a2.2 2.2 0 1 0 4.4 0a2.2 2.2 0 1 0 -4.4 0M580.9 293.4a2.2 2.2 0 1 0 4.4 0a2.2 2.2 0 1 0 -4.4 0M589.4 297.9a2.2 2.2 0 1 0 4.4 0a2.2 2.2 0 1 0 -4.4 0M593.7 294.4a2.2 2.2 0 1 0 4.4 0a2.2 2.2 0 1 0 -4.4 0M567.7 306.5a2.2 2.2 0 1 0 4.4 0a2.2 2.2 0 1 0 -4.4 0M620.9 304.2a2.2 2.2 0 1 0 4.4 0a2.2 2.2 0 1 0 -4.4 0M597.4 304.5a2.2 2.2 0 1 0 4.4 0a2.2 2.2 0 1 0 -4.4 0M563.8 299.6a2.2 2.2 0 1 0 4.4 0a2.2 2.2 0 1 0 -4.4 0M628.5 294.7a2.2 2.2 0 1 0 4.4 0a2.2 2.2 0 1 0 -4.4 0M626.8 300.3a2.2 2.2 0 1 0 4.4 0a2.2 2.2 0 1 0 -4.4 0M601.5 296.6a2.2 2.2 0 1 0 4.4 0a2.2 2.2 0 1 0 -4.4 0M569.4 303.2a2.2 2.2 0 1 0 4.4 0a2.2 2.2 0 1 0 -4.4 0M605.9 303.6a2.2 2.2 0 1 0 4.4 0a2.2 2.2 0 1 0 -4.4 0M596.9 295.8a2.2 2.2 0 1 0 4.4 0a2.2 2.2 0 1 0 -4.4 0M603.8 293.7a2.2 2.2 0 1 0 4.4 0a2.2 2.2 0 1 0 -4.4 0M630.6 303.9a2.2 2.2 0 1 0 4.4 0a2.2 2.2 0 1 0 -4.4 0M565.7 305.8a2.2 2.2 0 1 0 4.4 0a2.2 2.2 0 1 0 -4.4 0M564.5 303.1a2.2 2.2 0 1 0 4.4 0a2.2 2.2 0 1 0 -4.4 0M615.5 297.2a2.2 2.2 0 1 0 4.4 0a2.2 2.2 0 1 0 -4.4 0M631.7 297.7a2.2 2.2 0 1 0 4.4 0a2.2 2.2 0 1 0 -4.4 0M615.4 299.8a2.2 2.2 0 1 0 4.4 0a2.2 2.2 0 1 0 -4.4 0M619.5 299.3a2.2 2.2 0 1 0 4.4 0a2.2 2.2 0 1 0 -4.4 0M571.6 293.1a2.2 2.2 0 1 0 4.4 0a2.2 2.2 0 1 0 -4.4 0M595.5 295.0a2.2 2.2 0 1 0 4.4 0a2.2 2.2 0 1 0 -4.4 0M614.1 305.4a2.2 2.2 0 1 0 4.4 0a2.2 2.2 0 1 0 -4.4 0M613.5 300.9a2.2 2.2 0 1 0 4.4 0a2.2 2.2 0 1 0 -4.4 0M597.3 294.3a2.2 2.2 0 1 0 4.4 0a2.2 2.2 0 1 0 -4.4 0M557.0 304.8a2.2 2.2 0 1 0 4.4 0a2.2 2.2 0 1 0 -4.4 0M614.6 301.1a2.2 2.2 0 1 0 4.4 0a2.2 2.2 0 1 0 -4.4 0M600.3 299.6a2.2 2.2 0 1 0 4.4 0a2.2 2.2 0 1 0 -4.4 0M617.0 299.9a2.2 2.2 0 1 0 4.4 0a2.2 2.2 0 1 0 -4.4 0M576.8 294.3a2.2 2.2 0 1 0 4.4 0a2.2 2.2 0 1 0 -4.4 0M617.6 302.5a2.2 2.2 0 1 0 4.4 0a2.2 2.2 0 1 0 -4.4 0M577.2 294.1a2.2 2.2 0 1 0 4.4 0a2.2 2.2 0 1 0 -4.4 0M631.6 296.6a2.2 2.2 0 1 0 4.4 0a2.2 2.2 0 1 0 -4.4 0M614.7 305.1a2.2 2.2 0 1 0 4.4 0a2.2 2.2 0 1 0 -4.4 0M578.5 299.5a2.2 2.2 0 1 0 4.4 0a2.2 2.2 0 1 0 -4.4 0M599.4 296.4a2.2 2.2 0 1 0 4.4 0a2.2 2.2 0 1 0 -4.4 0M575.9 299.2a2.2 2.2 0 1 0 4.4 0a2.2 2.2 0 1 0 -4.4 0M600.1 298.4a2.2 2.2 0 1 0 4.4 0a2.2 2.2 0 1 0 -4.4 0M603.0 297.0a2.2 2.2 0 1 0 4.4 0a2.2 2.2 0 1 0 -4.4 0M631.6 295.9a2.2 2.2 0 1 0 4.4 0a2.2 2.2 0 1 0 -4.4 0M609.2 305.2a2.2 2.2 0 1 0 4.4 0a2.2 2.2 0 1 0 -4.4 0M609.4 295.8a2.2 2.2 0 1 0 4.4 0a2.2 2.2 0 1 0 -4.4 0M603.2 302.2a2.2 2.2 0 1 0 4.4 0a2.2 2.2 0 1 0 -4.4 0M614.1 301.3a2.2 2.2 0 1 0 4.4 0a2.2 2.2 0 1 0 -4.4 0M589.5 295.0a2.2 2.2 0 1 0 4.4 0a2.2 2.2 0 1 0 -4.4 0M619.1 289.5a2.2 2.2 0 1 0 4.4 0a2.2 2.2 0 1 0 -4.4 0M589.2 301.6a2.2 2.2 0 1 0 4.4 0a2.2 2.2 0 1 0 -4.4 0M618.3 298.3a2.2 2.2 0 1 0 4.4 0a2.2 2.2 0 1 0 -4.4 0M589.9 300.4a2.2 2.2 0 1 0 4.4 0a2.2 2.2 0 1 0 -4.4 0M635.4 289.2a2.2 2.2 0 1 0 4.4 0a2.2 2.2 0 1 0 -4.4 0M618.9 294.3a2.2 2.2 0 1 0 4.4 0a2.2 2.2 0 1 0 -4.4 0M563.1 291.7a2.2 2.2 0 1 0 4.4 0a2.2 2.2 0 1 0 -4.4 0M622.4 298.7a2.2 2.2 0 1 0 4.4 0a2.2 2.2 0 1 0 -4.4 0M564.6 293.6a2.2 2.2 0 1 0 4.4 0a2.2 2.2 0 1 0 -4.4 0M580.9 302.4a2.2 2.2 0 1 0 4.4 0a2.2 2.2 0 1 0 -4.4 0M560.9 295.5a2.2 2.2 0 1 0 4.4 0a2.2 2.2 0 1 0 -4.4 0M596.1 297.6a2.2 2.2 0 1 0 4.4 0a2.2 2.2 0 1 0 -4.4 0M626.3 297.5a2.2 2.2 0 1 0 4.4 0a2.2 2.2 0 1 0 -4.4 0M609.4 305.5a2.2 2.2 0 1 0 4.4 0a2.2 2.2 0 1 0 -4.4 0M628.3 296.2a2.2 2.2 0 1 0 4.4 0a2.2 2.2 0 1 0 -4.4 0M609.4 301.0a2.2 2.2 0 1 0 4.4 0a2.2 2.2 0 1 0 -4.4 0M592.3 298.6a2.2 2.2 0 1 0 4.4 0a2.2 2.2 0 1 0 -4.4 0M571.3 305.6a2.2 2.2 0 1 0 4.4 0a2.2 2.2 0 1 0 -4.4 0M599.0 291.8a2.2 2.2 0 1 0 4.4 0a2.2 2.2 0 1 0 -4.4 0M604.0 292.7a2.2 2.2 0 1 0 4.4 0a2.2 2.2 0 1 0 -4.4 0M587.4 292.2a2.2 2.2 0 1 0 4.4 0a2.2 2.2 0 1 0 -4.4 0M613.2 301.2a2.2 2.2 0 1 0 4.4 0a2.2 2.2 0 1 0 -4.4 0M586.8 300.5a2.2 2.2 0 1 0 4.4 0a2.2 2.2 0 1 0 -4.4 0M571.0 295.4a2.2 2.2 0 1 0 4.4 0a2.2 2.2 0 1 0 -4.4 0M585.7 290.8a2.2 2.2 0 1 0 4.4 0a2.2 2.2 0 1 0 -4.4 0M623.9 289.4a2.2 2.2 0 1 0 4.4 0a2.2 2.2 0 1 0 -4.4 0M625.7 304.4a2.2 2.2 0 1 0 4.4 0a2.2 2.2 0 1 0 -4.4 0M585.2 303.9a2.2 2.2 0 1 0 4.4 0a2.2 2.2 0 1 0 -4.4 0M619.3 299.2a2.2 2.2 0 1 0 4.4 0a2.2 2.2 0 1 0 -4.4 0M621.6 296.8a2.2 2.2 0 1 0 4.4 0a2.2 2.2 0 1 0 -4.4 0M575.3 291.9a2.2 2.2 0 1 0 4.4 0a2.2 2.2 0 1 0 -4.4 0M593.2 291.5a2.2 2.2 0 1 0 4.4 0a2.2 2.2 0 1 0 -4.4 0M586.3 294.5a2.2 2.2 0 1 0 4.4 0a2.2 2.2 0 1 0 -4.4 0M632.6 295.9a2.2 2.2 0 1 0 4.4 0a2.2 2.2 0 1 0 -4.4 0M595.3 302.2a2.2 2.2 0 1 0 4.4 0a2.2 2.2 0 1 0 -4.4 0M565.2 302.7a2.2 2.2 0 1 0 4.4 0a2.2 2.2 0 1 0 -4.4 0M582.1 299.5a2.2 2.2 0 1 0 4.4 0a2.2 2.2 0 1 0 -4.4 0M617.3 296.0a2.2 2.2 0 1 0 4.4 0a2.2 2.2 0 1 0 -4.4 0M568.5 300.7a2.2 2.2 0 1 0 4.4 0a2.2 2.2 0 1 0 -4.4 0M614.7 301.9a2.2 2.2 0 1 0 4.4 0a2.2 2.2 0 1 0 -4.4 0M563.7 293.2a2.2 2.2 0 1 0 4.4 0a2.2 2.2 0 1 0 -4.4 0M564.5 303.7a2.2 2.2 0 1 0 4.4 0a2.2 2.2 0 1 0 -4.4 0M572.7 290.7a2.2 2.2 0 1 0 4.4 0a2.2 2.2 0 1 0 -4.4 0M600.2 296.9a2.2 2.2 0 1 0 4.4 0a2.2 2.2 0 1 0 -4.4 0M570.9 295.4a2.2 2.2 0 1 0 4.4 0a2.2 2.2 0 1 0 -4.4 0M563.0 295.3a2.2 2.2 0 1 0 4.4 0a2.2 2.2 0 1 0 -4.4 0M594.6 295.4a2.2 2.2 0 1 0 4.4 0a2.2 2.2 0 1 0 -4.4 0M581.7 306.3a2.2 2.2 0 1 0 4.4 0a2.2 2.2 0 1 0 -4.4 0M569.3 298.3a2.2 2.2 0 1 0 4.4 0a2.2 2.2 0 1 0 -4.4 0M625.5 304.8a2.2 2.2 0 1 0 4.4 0a2.2 2.2 0 1 0 -4.4 0M590.2 296.3a2.2 2.2 0 1 0 4.4 0a2.2 2.2 0 1 0 -4.4 0M584.5 298.9a2.2 2.2 0 1 0 4.4 0a2.2 2.2 0 1 0 -4.4 0M591.0 303.7a2.2 2.2 0 1 0 4.4 0a2.2 2.2 0 1 0 -4.4 0M615.2 290.6a2.2 2.2 0 1 0 4.4 0a2.2 2.2 0 1 0 -4.4 0M605.0 289.0a2.2 2.2 0 1 0 4.4 0a2.2 2.2 0 1 0 -4.4 0M584.8 304.2a2.2 2.2 0 1 0 4.4 0a2.2 2.2 0 1 0 -4.4 0M594.5 293.6a2.2 2.2 0 1 0 4.4 0a2.2 2.2 0 1 0 -4.4 0M619.3 306.0a2.2 2.2 0 1 0 4.4 0a2.2 2.2 0 1 0 -4.4 0M613.2 298.8a2.2 2.2 0 1 0 4.4 0a2.2 2.2 0 1 0 -4.4 0M596.5 303.6a2.2 2.2 0 1 0 4.4 0a2.2 2.2 0 1 0 -4.4 0M618.4 298.5a2.2 2.2 0 1 0 4.4 0a2.2 2.2 0 1 0 -4.4 0M620.8 292.5a2.2 2.2 0 1 0 4.4 0a2.2 2.2 0 1 0 -4.4 0M570.2 304.8a2.2 2.2 0 1 0 4.4 0a2.2 2.2 0 1 0 -4.4 0M580.8 305.2a2.2 2.2 0 1 0 4.4 0a2.2 2.2 0 1 0 -4.4 0M607.0 292.1a2.2 2.2 0 1 0 4.4 0a2.2 2.2 0 1 0 -4.4 0M584.7 296.5a2.2 2.2 0 1 0 4.4 0a2.2 2.2 0 1 0 -4.4 0M594.8 298.5a2.2 2.2 0 1 0 4.4 0a2.2 2.2 0 1 0 -4.4 0M564.8 294.4a2.2 2.2 0 1 0 4.4 0a2.2 2.2 0 1 0 -4.4 0M568.9 294.4a2.2 2.2 0 1 0 4.4 0a2.2 2.2 0 1 0 -4.4 0M605.6 301.3a2.2 2.2 0 1 0 4.4 0a2.2 2.2 0 1 0 -4.4 0M615.4 301.0a2.2 2.2 0 1 0 4.4 0a2.2 2.2 0 1 0 -4.4 0M622.0 304.7a2.2 2.2 0 1 0 4.4 0a2.2 2.2 0 1 0 -4.4 0M625.1 300.9a2.2 2.2 0 1 0 4.4 0a2.2 2.2 0 1 0 -4.4 0M618.0 302.7a2.2 2.2 0 1 0 4.4 0a2.2 2.2 0 1 0 -4.4 0M633.2 296.6a2.2 2.2 0 1 0 4.4 0a2.2 2.2 0 1 0 -4.4 0M616.7 294.2a2.2 2.2 0 1 0 4.4 0a2.2 2.2 0 1 0 -4.4 0M635.8 304.2a2.2 2.2 0 1 0 4.4 0a2.2 2.2 0 1 0 -4.4 0M611.7 292.5a2.2 2.2 0 1 0 4.4 0a2.2 2.2 0 1 0 -4.4 0M601.1 300.6a2.2 2.2 0 1 0 4.4 0a2.2 2.2 0 1 0 -4.4 0M608.6 290.5a2.2 2.2 0 1 0 4.4 0a2.2 2.2 0 1 0 -4.4 0M585.6 299.1a2.2 2.2 0 1 0 4.4 0a2.2 2.2 0 1 0 -4.4 0M558.8 291.5a2.2 2.2 0 1 0 4.4 0a2.2 2.2 0 1 0 -4.4 0M600.9 300.4a2.2 2.2 0 1 0 4.4 0a2.2 2.2 0 1 0 -4.4 0M607.7 302.7a2.2 2.2 0 1 0 4.4 0a2.2 2.2 0 1 0 -4.4 0M586.8 299.4a2.2 2.2 0 1 0 4.4 0a2.2 2.2 0 1 0 -4.4 0M565.6 291.1a2.2 2.2 0 1 0 4.4 0a2.2 2.2 0 1 0 -4.4 0M621.0 299.9a2.2 2.2 0 1 0 4.4 0a2.2 2.2 0 1 0 -4.4 0M583.3 305.5a2.2 2.2 0 1 0 4.4 0a2.2 2.2 0 1 0 -4.4 0M594.5 298.5a2.2 2.2 0 1 0 4.4 0a2.2 2.2 0 1 0 -4.4 0M604.0 299.1a2.2 2.2 0 1 0 4.4 0a2.2 2.2 0 1 0 -4.4 0M598.3 303.3a2.2 2.2 0 1 0 4.4 0a2.2 2.2 0 1 0 -4.4 0M593.3 295.1a2.2 2.2 0 1 0 4.4 0a2.2 2.2 0 1 0 -4.4 0M578.8 295.5a2.2 2.2 0 1 0 4.4 0a2.2 2.2 0 1 0 -4.4 0M571.1 293.6a2.2 2.2 0 1 0 4.4 0a2.2 2.2 0 1 0 -4.4 0M607.6 292.0a2.2 2.2 0 1 0 4.4 0a2.2 2.2 0 1 0 -4.4 0M586.4 301.7a2.2 2.2 0 1 0 4.4 0a2.2 2.2 0 1 0 -4.4 0M577.2 299.6a2.2 2.2 0 1 0 4.4 0a2.2 2.2 0 1 0 -4.4 0M630.1 299.4a2.2 2.2 0 1 0 4.4 0a2.2 2.2 0 1 0 -4.4 0M585.5 294.6a2.2 2.2 0 1 0 4.4 0a2.2 2.2 0 1 0 -4.4 0M591.3 301.5a2.2 2.2 0 1 0 4.4 0a2.2 2.2 0 1 0 -4.4 0M609.8 304.1a2.2 2.2 0 1 0 4.4 0a2.2 2.2 0 1 0 -4.4 0M595.0 293.9a2.2 2.2 0 1 0 4.4 0a2.2 2.2 0 1 0 -4.4 0M584.8 305.2a2.2 2.2 0 1 0 4.4 0a2.2 2.2 0 1 0 -4.4 0M568.5 288.1a2.2 2.2 0 1 0 4.4 0a2.2 2.2 0 1 0 -4.4 0M604.3 297.6a2.2 2.2 0 1 0 4.4 0a2.2 2.2 0 1 0 -4.4 0M615.6 302.3a2.2 2.2 0 1 0 4.4 0a2.2 2.2 0 1 0 -4.4 0M573.8 301.8a2.2 2.2 0 1 0 4.4 0a2.2 2.2 0 1 0 -4.4 0M636.3 304.2a2.2 2.2 0 1 0 4.4 0a2.2 2.2 0 1 0 -4.4 0M569.9 298.0a2.2 2.2 0 1 0 4.4 0a2.2 2.2 0 1 0 -4.4 0M601.3 303.8a2.2 2.2 0 1 0 4.4 0a2.2 2.2 0 1 0 -4.4 0M608.9 293.1a2.2 2.2 0 1 0 4.4 0a2.2 2.2 0 1 0 -4.4 0M563.3 293.0a2.2 2.2 0 1 0 4.4 0a2.2 2.2 0 1 0 -4.4 0M607.5 304.3a2.2 2.2 0 1 0 4.4 0a2.2 2.2 0 1 0 -4.4 0M600.0 299.5a2.2 2.2 0 1 0 4.4 0a2.2 2.2 0 1 0 -4.4 0M601.2 299.4a2.2 2.2 0 1 0 4.4 0a2.2 2.2 0 1 0 -4.4 0M618.2 299.3a2.2 2.2 0 1 0 4.4 0a2.2 2.2 0 1 0 -4.4 0M572.0 302.3a2.2 2.2 0 1 0 4.4 0a2.2 2.2 0 1 0 -4.4 0M628.6 303.6a2.2 2.2 0 1 0 4.4 0a2.2 2.2 0 1 0 -4.4 0M596.1 304.4a2.2 2.2 0 1 0 4.4 0a2.2 2.2 0 1 0 -4.4 0M599.8 303.1a2.2 2.2 0 1 0 4.4 0a2.2 2.2 0 1 0 -4.4 0M605.2 296.9a2.2 2.2 0 1 0 4.4 0a2.2 2.2 0 1 0 -4.4 0M626.9 299.3a2.2 2.2 0 1 0 4.4 0a2.2 2.2 0 1 0 -4.4 0M579.7 296.3a2.2 2.2 0 1 0 4.4 0a2.2 2.2 0 1 0 -4.4 0M601.6 304.1a2.2 2.2 0 1 0 4.4 0a2.2 2.2 0 1 0 -4.4 0M563.3 294.4a2.2 2.2 0 1 0 4.4 0a2.2 2.2 0 1 0 -4.4 0M636.5 292.9a2.2 2.2 0 1 0 4.4 0a2.2 2.2 0 1 0 -4.4 0M558.4 301.2a2.2 2.2 0 1 0 4.4 0a2.2 2.2 0 1 0 -4.4 0M565.3 300.5a2.2 2.2 0 1 0 4.4 0a2.2 2.2 0 1 0 -4.4 0M596.9 288.7a2.2 2.2 0 1 0 4.4 0a2.2 2.2 0 1 0 -4.4 0M598.3 294.3a2.2 2.2 0 1 0 4.4 0a2.2 2.2 0 1 0 -4.4 0M614.9 298.8a2.2 2.2 0 1 0 4.4 0a2.2 2.2 0 1 0 -4.4 0M571.8 296.5a2.2 2.2 0 1 0 4.4 0a2.2 2.2 0 1 0 -4.4 0M573.2 298.8a2.2 2.2 0 1 0 4.4 0a2.2 2.2 0 1 0 -4.4 0M614.5 288.3a2.2 2.2 0 1 0 4.4 0a2.2 2.2 0 1 0 -4.4 0M604.5 286.5a2.2 2.2 0 1 0 4.4 0a2.2 2.2 0 1 0 -4.4 0M584.0 290.8a2.2 2.2 0 1 0 4.4 0a2.2 2.2 0 1 0 -4.4 0M564.8 283.6a2.2 2.2 0 1 0 4.4 0a2.2 2.2 0 1 0 -4.4 0M599.3 284.8a2.2 2.2 0 1 0 4.4 0a2.2 2.2 0 1 0 -4.4 0M579.7 295.1a2.2 2.2 0 1 0 4.4 0a2.2 2.2 0 1 0 -4.4 0M602.1 285.1a2.2 2.2 0 1 0 4.4 0a2.2 2.2 0 1 0 -4.4 0M592.8 289.0a2.2 2.2 0 1 0 4.4 0a2.2 2.2 0 1 0 -4.4 0M622.9 284.8a2.2 2.2 0 1 0 4.4 0a2.2 2.2 0 1 0 -4.4 0M603.0 303.3a2.2 2.2 0 1 0 4.4 0a2.2 2.2 0 1 0 -4.4 0M569.7 274.6a2.2 2.2 0 1 0 4.4 0a2.2 2.2 0 1 0 -4.4 0M563.3 282.8a2.2 2.2 0 1 0 4.4 0a2.2 2.2 0 1 0 -4.4 0M599.5 296.7a2.2 2.2 0 1 0 4.4 0a2.2 2.2 0 1 0 -4.4 0M617.9 278.6a2.2 2.2 0 1 0 4.4 0a2.2 2.2 0 1 0 -4.4 0M572.0 275.7a2.2 2.2 0 1 0 4.4 0a2.2 2.2 0 1 0 -4.4 0M623.4 280.6a2.2 2.2 0 1 0 4.4 0a2.2 2.2 0 1 0 -4.4 0M618.0 294.5a2.2 2.2 0 1 0 4.4 0a2.2 2.2 0 1 0 -4.4 0M566.2 284.5a2.2 2.2 0 1 0 4.4 0a2.2 2.2 0 1 0 -4.4 0M568.9 279.6a2.2 2.2 0 1 0 4.4 0a2.2 2.2 0 1 0 -4.4 0M554.3 289.1a2.2 2.2 0 1 0 4.4 0a2.2 2.2 0 1 0 -4.4 0M590.7 282.1a2.2 2.2 0 1 0 4.4 0a2.2 2.2 0 1 0 -4.4 0M606.1 289.6a2.2 2.2 0 1 0 4.4 0a2.2 2.2 0 1 0 -4.4 0M618.6 284.0a2.2 2.2 0 1 0 4.4 0a2.2 2.2 0 1 0 -4.4 0M619.3 285.2a2.2 2.2 0 1 0 4.4 0a2.2 2.2 0 1 0 -4.4 0M603.0 294.4a2.2 2.2 0 1 0 4.4 0a2.2 2.2 0 1 0 -4.4 0M563.8 294.7a2.2 2.2 0 1 0 4.4 0a2.2 2.2 0 1 0 -4.4 0M559.7 285.5a2.2 2.2 0 1 0 4.4 0a2.2 2.2 0 1 0 -4.4 0M570.3 278.2a2.2 2.2 0 1 0 4.4 0a2.2 2.2 0 1 0 -4.4 0M598.5 285.7a2.2 2.2 0 1 0 4.4 0a2.2 2.2 0 1 0 -4.4 0M581.6 288.6a2.2 2.2 0 1 0 4.4 0a2.2 2.2 0 1 0 -4.4 0M617.3 287.8a2.2 2.2 0 1 0 4.4 0a2.2 2.2 0 1 0 -4.4 0M558.5 284.7a2.2 2.2 0 1 0 4.4 0a2.2 2.2 0 1 0 -4.4 0M585.2 291.1a2.2 2.2 0 1 0 4.4 0a2.2 2.2 0 1 0 -4.4 0M571.7 282.9a2.2 2.2 0 1 0 4.4 0a2.2 2.2 0 1 0 -4.4 0M605.7 288.3a2.2 2.2 0 1 0 4.4 0a2.2 2.2 0 1 0 -4.4 0M592.3 285.6a2.2 2.2 0 1 0 4.4 0a2.2 2.2 0 1 0 -4.4 0M586.9 295.0a2.2 2.2 0 1 0 4.4 0a2.2 2.2 0 1 0 -4.4 0M579.5 282.9a2.2 2.2 0 1 0 4.4 0a2.2 2.2 0 1 0 -4.4 0M570.2 278.6a2.2 2.2 0 1 0 4.4 0a2.2 2.2 0 1 0 -4.4 0M585.4 288.9a2.2 2.2 0 1 0 4.4 0a2.2 2.2 0 1 0 -4.4 0M567.6 289.1a2.2 2.2 0 1 0 4.4 0a2.2 2.2 0 1 0 -4.4 0M585.0 285.8a2.2 2.2 0 1 0 4.4 0a2.2 2.2 0 1 0 -4.4 0M567.3 290.4a2.2 2.2 0 1 0 4.4 0a2.2 2.2 0 1 0 -4.4 0M575.0 278.2a2.2 2.2 0 1 0 4.4 0a2.2 2.2 0 1 0 -4.4 0M615.2 287.4a2.2 2.2 0 1 0 4.4 0a2.2 2.2 0 1 0 -4.4 0M591.7 287.1a2.2 2.2 0 1 0 4.4 0a2.2 2.2 0 1 0 -4.4 0M558.9 286.9a2.2 2.2 0 1 0 4.4 0a2.2 2.2 0 1 0 -4.4 0M554.4 280.0a2.2 2.2 0 1 0 4.4 0a2.2 2.2 0 1 0 -4.4 0M568.1 279.9a2.2 2.2 0 1 0 4.4 0a2.2 2.2 0 1 0 -4.4 0M560.3 289.0a2.2 2.2 0 1 0 4.4 0a2.2 2.2 0 1 0 -4.4 0M619.8 293.8a2.2 2.2 0 1 0 4.4 0a2.2 2.2 0 1 0 -4.4 0M624.2 291.2a2.2 2.2 0 1 0 4.4 0a2.2 2.2 0 1 0 -4.4 0M554.6 282.6a2.2 2.2 0 1 0 4.4 0a2.2 2.2 0 1 0 -4.4 0M622.1 282.2a2.2 2.2 0 1 0 4.4 0a2.2 2.2 0 1 0 -4.4 0M597.7 279.7a2.2 2.2 0 1 0 4.4 0a2.2 2.2 0 1 0 -4.4 0M607.4 297.8a2.2 2.2 0 1 0 4.4 0a2.2 2.2 0 1 0 -4.4 0M615.5 280.4a2.2 2.2 0 1 0 4.4 0a2.2 2.2 0 1 0 -4.4 0M580.3 283.2a2.2 2.2 0 1 0 4.4 0a2.2 2.2 0 1 0 -4.4 0M582.3 290.1a2.2 2.2 0 1 0 4.4 0a2.2 2.2 0 1 0 -4.4 0M579.3 292.2a2.2 2.2 0 1 0 4.4 0a2.2 2.2 0 1 0 -4.4 0M620.7 295.8a2.2 2.2 0 1 0 4.4 0a2.2 2.2 0 1 0 -4.4 0M572.8 294.7a2.2 2.2 0 1 0 4.4 0a2.2 2.2 0 1 0 -4.4 0M581.8 288.9a2.2 2.2 0 1 0 4.4 0a2.2 2.2 0 1 0 -4.4 0M591.8 283.3a2.2 2.2 0 1 0 4.4 0a2.2 2.2 0 1 0 -4.4 0M571.9 282.2a2.2 2.2 0 1 0 4.4 0a2.2 2.2 0 1 0 -4.4 0M593.8 275.8a2.2 2.2 0 1 0 4.4 0a2.2 2.2 0 1 0 -4.4 0M569.5 294.1a2.2 2.2 0 1 0 4.4 0a2.2 2.2 0 1 0 -4.4 0M606.6 292.2a2.2 2.2 0 1 0 4.4 0a2.2 2.2 0 1 0 -4.4 0M577.9 285.8a2.2 2.2 0 1 0 4.4 0a2.2 2.2 0 1 0 -4.4 0M555.0 292.5a2.2 2.2 0 1 0 4.4 0a2.2 2.2 0 1 0 -4.4 0M560.7 287.2a2.2 2.2 0 1 0 4.4 0a2.2 2.2 0 1 0 -4.4 0M571.6 289.6a2.2 2.2 0 1 0 4.4 0a2.2 2.2 0 1 0 -4.4 0M601.9 284.0a2.2 2.2 0 1 0 4.4 0a2.2 2.2 0 1 0 -4.4 0M598.4 289.2a2.2 2.2 0 1 0 4.4 0a2.2 2.2 0 1 0 -4.4 0M569.0 279.8a2.2 2.2 0 1 0 4.4 0a2.2 2.2 0 1 0 -4.4 0M620.6 290.6a2.2 2.2 0 1 0 4.4 0a2.2 2.2 0 1 0 -4.4 0M606.6 284.7a2.2 2.2 0 1 0 4.4 0a2.2 2.2 0 1 0 -4.4 0M564.4 291.8a2.2 2.2 0 1 0 4.4 0a2.2 2.2 0 1 0 -4.4 0M557.6 281.1a2.2 2.2 0 1 0 4.4 0a2.2 2.2 0 1 0 -4.4 0M595.3 291.7a2.2 2.2 0 1 0 4.4 0a2.2 2.2 0 1 0 -4.4 0M597.8 288.9a2.2 2.2 0 1 0 4.4 0a2.2 2.2 0 1 0 -4.4 0M583.1 290.7a2.2 2.2 0 1 0 4.4 0a2.2 2.2 0 1 0 -4.4 0M606.5 284.6a2.2 2.2 0 1 0 4.4 0a2.2 2.2 0 1 0 -4.4 0M574.7 287.2a2.2 2.2 0 1 0 4.4 0a2.2 2.2 0 1 0 -4.4 0M599.5 283.9a2.2 2.2 0 1 0 4.4 0a2.2 2.2 0 1 0 -4.4 0M598.5 283.9a2.2 2.2 0 1 0 4.4 0a2.2 2.2 0 1 0 -4.4 0M594.7 285.7a2.2 2.2 0 1 0 4.4 0a2.2 2.2 0 1 0 -4.4 0M612.0 282.5a2.2 2.2 0 1 0 4.4 0a2.2 2.2 0 1 0 -4.4 0M571.3 284.0a2.2 2.2 0 1 0 4.4 0a2.2 2.2 0 1 0 -4.4 0M614.0 285.9a2.2 2.2 0 1 0 4.4 0a2.2 2.2 0 1 0 -4.4 0M610.9 276.8a2.2 2.2 0 1 0 4.4 0a2.2 2.2 0 1 0 -4.4 0M614.6 292.2a2.2 2.2 0 1 0 4.4 0a2.2 2.2 0 1 0 -4.4 0M559.9 282.5a2.2 2.2 0 1 0 4.4 0a2.2 2.2 0 1 0 -4.4 0M593.6 298.6a2.2 2.2 0 1 0 4.4 0a2.2 2.2 0 1 0 -4.4 0M571.1 279.0a2.2 2.2 0 1 0 4.4 0a2.2 2.2 0 1 0 -4.4 0M586.6 290.4a2.2 2.2 0 1 0 4.4 0a2.2 2.2 0 1 0 -4.4 0M606.6 279.9a2.2 2.2 0 1 0 4.4 0a2.2 2.2 0 1 0 -4.4 0M601.4 279.4a2.2 2.2 0 1 0 4.4 0a2.2 2.2 0 1 0 -4.4 0M577.7 272.6a2.2 2.2 0 1 0 4.4 0a2.2 2.2 0 1 0 -4.4 0M596.7 287.5a2.2 2.2 0 1 0 4.4 0a2.2 2.2 0 1 0 -4.4 0M572.6 281.5a2.2 2.2 0 1 0 4.4 0a2.2 2.2 0 1 0 -4.4 0M563.6 277.2a2.2 2.2 0 1 0 4.4 0a2.2 2.2 0 1 0 -4.4 0M604.2 295.2a2.2 2.2 0 1 0 4.4 0a2.2 2.2 0 1 0 -4.4 0M592.6 292.3a2.2 2.2 0 1 0 4.4 0a2.2 2.2 0 1 0 -4.4 0M564.7 284.7a2.2 2.2 0 1 0 4.4 0a2.2 2.2 0 1 0 -4.4 0M570.9 279.6a2.2 2.2 0 1 0 4.4 0a2.2 2.2 0 1 0 -4.4 0M621.8 291.4a2.2 2.2 0 1 0 4.4 0a2.2 2.2 0 1 0 -4.4 0M615.0 284.3a2.2 2.2 0 1 0 4.4 0a2.2 2.2 0 1 0 -4.4 0M624.4 291.8a2.2 2.2 0 1 0 4.4 0a2.2 2.2 0 1 0 -4.4 0M609.9 282.9a2.2 2.2 0 1 0 4.4 0a2.2 2.2 0 1 0 -4.4 0M606.6 292.6a2.2 2.2 0 1 0 4.4 0a2.2 2.2 0 1 0 -4.4 0M596.7 294.7a2.2 2.2 0 1 0 4.4 0a2.2 2.2 0 1 0 -4.4 0M588.1 290.5a2.2 2.2 0 1 0 4.4 0a2.2 2.2 0 1 0 -4.4 0M617.0 286.1a2.2 2.2 0 1 0 4.4 0a2.2 2.2 0 1 0 -4.4 0M620.1 287.0a2.2 2.2 0 1 0 4.4 0a2.2 2.2 0 1 0 -4.4 0M614.0 288.9a2.2 2.2 0 1 0 4.4 0a2.2 2.2 0 1 0 -4.4 0M566.3 289.5a2.2 2.2 0 1 0 4.4 0a2.2 2.2 0 1 0 -4.4 0M617.3 286.0a2.2 2.2 0 1 0 4.4 0a2.2 2.2 0 1 0 -4.4 0M606.8 291.7a2.2 2.2 0 1 0 4.4 0a2.2 2.2 0 1 0 -4.4 0M589.7 292.4a2.2 2.2 0 1 0 4.4 0a2.2 2.2 0 1 0 -4.4 0M603.6 296.1a2.2 2.2 0 1 0 4.4 0a2.2 2.2 0 1 0 -4.4 0M555.4 296.6a2.2 2.2 0 1 0 4.4 0a2.2 2.2 0 1 0 -4.4 0M611.5 293.1a2.2 2.2 0 1 0 4.4 0a2.2 2.2 0 1 0 -4.4 0M597.2 282.3a2.2 2.2 0 1 0 4.4 0a2.2 2.2 0 1 0 -4.4 0M573.1 298.6a2.2 2.2 0 1 0 4.4 0a2.2 2.2 0 1 0 -4.4 0M594.7 289.5a2.2 2.2 0 1 0 4.4 0a2.2 2.2 0 1 0 -4.4 0M582.9 282.4a2.2 2.2 0 1 0 4.4 0a2.2 2.2 0 1 0 -4.4 0M621.9 291.4a2.2 2.2 0 1 0 4.4 0a2.2 2.2 0 1 0 -4.4 0M605.6 286.1a2.2 2.2 0 1 0 4.4 0a2.2 2.2 0 1 0 -4.4 0M588.0 284.0a2.2 2.2 0 1 0 4.4 0a2.2 2.2 0 1 0 -4.4 0M610.0 289.6a2.2 2.2 0 1 0 4.4 0a2.2 2.2 0 1 0 -4.4 0M609.8 288.0a2.2 2.2 0 1 0 4.4 0a2.2 2.2 0 1 0 -4.4 0M584.2 295.4a2.2 2.2 0 1 0 4.4 0a2.2 2.2 0 1 0 -4.4 0M600.8 279.8a2.2 2.2 0 1 0 4.4 0a2.2 2.2 0 1 0 -4.4 0M556.3 286.3a2.2 2.2 0 1 0 4.4 0a2.2 2.2 0 1 0 -4.4 0M590.6 289.4a2.2 2.2 0 1 0 4.4 0a2.2 2.2 0 1 0 -4.4 0M608.9 293.3a2.2 2.2 0 1 0 4.4 0a2.2 2.2 0 1 0 -4.4 0M576.0 282.4a2.2 2.2 0 1 0 4.4 0a2.2 2.2 0 1 0 -4.4 0M618.0 286.2a2.2 2.2 0 1 0 4.4 0a2.2 2.2 0 1 0 -4.4 0M591.8 285.8a2.2 2.2 0 1 0 4.4 0a2.2 2.2 0 1 0 -4.4 0M599.0 287.1a2.2 2.2 0 1 0 4.4 0a2.2 2.2 0 1 0 -4.4 0M581.0 295.7a2.2 2.2 0 1 0 4.4 0a2.2 2.2 0 1 0 -4.4 0M579.2 278.0a2.2 2.2 0 1 0 4.4 0a2.2 2.2 0 1 0 -4.4 0M590.2 282.9a2.2 2.2 0 1 0 4.4 0a2.2 2.2 0 1 0 -4.4 0M590.5 289.7a2.2 2.2 0 1 0 4.4 0a2.2 2.2 0 1 0 -4.4 0M578.0 278.9a2.2 2.2 0 1 0 4.4 0a2.2 2.2 0 1 0 -4.4 0M591.3 282.2a2.2 2.2 0 1 0 4.4 0a2.2 2.2 0 1 0 -4.4 0M586.0 285.6a2.2 2.2 0 1 0 4.4 0a2.2 2.2 0 1 0 -4.4 0M599.1 287.1a2.2 2.2 0 1 0 4.4 0a2.2 2.2 0 1 0 -4.4 0M568.5 284.8a2.2 2.2 0 1 0 4.4 0a2.2 2.2 0 1 0 -4.4 0M587.6 277.6a2.2 2.2 0 1 0 4.4 0a2.2 2.2 0 1 0 -4.4 0M549.2 276.8a2.2 2.2 0 1 0 4.4 0a2.2 2.2 0 1 0 -4.4 0M570.1 265.7a2.2 2.2 0 1 0 4.4 0a2.2 2.2 0 1 0 -4.4 0M591.7 274.9a2.2 2.2 0 1 0 4.4 0a2.2 2.2 0 1 0 -4.4 0M567.7 270.7a2.2 2.2 0 1 0 4.4 0a2.2 2.2 0 1 0 -4.4 0M560.6 268.2a2.2 2.2 0 1 0 4.4 0a2.2 2.2 0 1 0 -4.4 0M558.5 279.9a2.2 2.2 0 1 0 4.4 0a2.2 2.2 0 1 0 -4.4 0M573.9 272.3a2.2 2.2 0 1 0 4.4 0a2.2 2.2 0 1 0 -4.4 0M569.2 277.7a2.2 2.2 0 1 0 4.4 0a2.2 2.2 0 1 0 -4.4 0M566.3 270.2a2.2 2.2 0 1 0 4.4 0a2.2 2.2 0 1 0 -4.4 0M576.3 275.3a2.2 2.2 0 1 0 4.4 0a2.2 2.2 0 1 0 -4.4 0M586.2 269.4a2.2 2.2 0 1 0 4.4 0a2.2 2.2 0 1 0 -4.4 0M571.5 269.8a2.2 2.2 0 1 0 4.4 0a2.2 2.2 0 1 0 -4.4 0M571.1 267.5a2.2 2.2 0 1 0 4.4 0a2.2 2.2 0 1 0 -4.4 0M581.4 269.7a2.2 2.2 0 1 0 4.4 0a2.2 2.2 0 1 0 -4.4 0M577.6 273.7a2.2 2.2 0 1 0 4.4 0a2.2 2.2 0 1 0 -4.4 0M574.9 273.9a2.2 2.2 0 1 0 4.4 0a2.2 2.2 0 1 0 -4.4 0M551.2 273.8a2.2 2.2 0 1 0 4.4 0a2.2 2.2 0 1 0 -4.4 0M573.7 277.3a2.2 2.2 0 1 0 4.4 0a2.2 2.2 0 1 0 -4.4 0M575.1 261.9a2.2 2.2 0 1 0 4.4 0a2.2 2.2 0 1 0 -4.4 0M590.6 273.7a2.2 2.2 0 1 0 4.4 0a2.2 2.2 0 1 0 -4.4 0M548.0 279.4a2.2 2.2 0 1 0 4.4 0a2.2 2.2 0 1 0 -4.4 0M567.9 273.8a2.2 2.2 0 1 0 4.4 0a2.2 2.2 0 1 0 -4.4 0M573.0 275.5a2.2 2.2 0 1 0 4.4 0a2.2 2.2 0 1 0 -4.4 0M577.2 277.3a2.2 2.2 0 1 0 4.4 0a2.2 2.2 0 1 0 -4.4 0M543.4 275.1a2.2 2.2 0 1 0 4.4 0a2.2 2.2 0 1 0 -4.4 0M586.7 269.6a2.2 2.2 0 1 0 4.4 0a2.2 2.2 0 1 0 -4.4 0M589.5 269.1a2.2 2.2 0 1 0 4.4 0a2.2 2.2 0 1 0 -4.4 0M559.7 265.9a2.2 2.2 0 1 0 4.4 0a2.2 2.2 0 1 0 -4.4 0M562.2 268.3a2.2 2.2 0 1 0 4.4 0a2.2 2.2 0 1 0 -4.4 0M548.7 273.7a2.2 2.2 0 1 0 4.4 0a2.2 2.2 0 1 0 -4.4 0M562.3 269.5a2.2 2.2 0 1 0 4.4 0a2.2 2.2 0 1 0 -4.4 0M546.5 264.9a2.2 2.2 0 1 0 4.4 0a2.2 2.2 0 1 0 -4.4 0M545.9 269.4a2.2 2.2 0 1 0 4.4 0a2.2 2.2 0 1 0 -4.4 0M560.3 269.8a2.2 2.2 0 1 0 4.4 0a2.2 2.2 0 1 0 -4.4 0M548.4 272.5a2.2 2.2 0 1 0 4.4 0a2.2 2.2 0 1 0 -4.4 0M575.6 266.4a2.2 2.2 0 1 0 4.4 0a2.2 2.2 0 1 0 -4.4 0M548.6 270.9a2.2 2.2 0 1 0 4.4 0a2.2 2.2 0 1 0 -4.4 0M555.6 274.6a2.2 2.2 0 1 0 4.4 0a2.2 2.2 0 1 0 -4.4 0M574.1 275.3a2.2 2.2 0 1 0 4.4 0a2.2 2.2 0 1 0 -4.4 0M568.0 273.6a2.2 2.2 0 1 0 4.4 0a2.2 2.2 0 1 0 -4.4 0M544.9 273.4a2.2 2.2 0 1 0 4.4 0a2.2 2.2 0 1 0 -4.4 0M580.5 278.6a2.2 2.2 0 1 0 4.4 0a2.2 2.2 0 1 0 -4.4 0M559.9 279.1a2.2 2.2 0 1 0 4.4 0a2.2 2.2 0 1 0 -4.4 0M583.3 273.7a2.2 2.2 0 1 0 4.4 0a2.2 2.2 0 1 0 -4.4 0M572.8 263.7a2.2 2.2 0 1 0 4.4 0a2.2 2.2 0 1 0 -4.4 0M585.1 273.4a2.2 2.2 0 1 0 4.4 0a2.2 2.2 0 1 0 -4.4 0M565.7 270.8a2.2 2.2 0 1 0 4.4 0a2.2 2.2 0 1 0 -4.4 0M564.2 268.6a2.2 2.2 0 1 0 4.4 0a2.2 2.2 0 1 0 -4.4 0M557.6 273.0a2.2 2.2 0 1 0 4.4 0a2.2 2.2 0 1 0 -4.4 0M558.1 266.7a2.2 2.2 0 1 0 4.4 0a2.2 2.2 0 1 0 -4.4 0M555.0 275.7a2.2 2.2 0 1 0 4.4 0a2.2 2.2 0 1 0 -4.4 0M577.1 270.8a2.2 2.2 0 1 0 4.4 0a2.2 2.2 0 1 0 -4.4 0M564.4 279.7a2.2 2.2 0 1 0 4.4 0a2.2 2.2 0 1 0 -4.4 0M549.5 264.3a2.2 2.2 0 1 0 4.4 0a2.2 2.2 0 1 0 -4.4 0M561.7 278.0a2.2 2.2 0 1 0 4.4 0a2.2 2.2 0 1 0 -4.4 0M564.6 276.8a2.2 2.2 0 1 0 4.4 0a2.2 2.2 0 1 0 -4.4 0M581.7 275.8a2.2 2.2 0 1 0 4.4 0a2.2 2.2 0 1 0 -4.4 0M546.9 282.6a2.2 2.2 0 1 0 4.4 0a2.2 2.2 0 1 0 -4.4 0M558.4 266.9a2.2 2.2 0 1 0 4.4 0a2.2 2.2 0 1 0 -4.4 0M576.9 264.0a2.2 2.2 0 1 0 4.4 0a2.2 2.2 0 1 0 -4.4 0M551.6 267.3a2.2 2.2 0 1 0 4.4 0a2.2 2.2 0 1 0 -4.4 0M565.9 272.2a2.2 2.2 0 1 0 4.4 0a2.2 2.2 0 1 0 -4.4 0M581.2 276.7a2.2 2.2 0 1 0 4.4 0a2.2 2.2 0 1 0 -4.4 0M584.6 279.6a2.2 2.2 0 1 0 4.4 0a2.2 2.2 0 1 0 -4.4 0M562.4 279.4a2.2 2.2 0 1 0 4.4 0a2.2 2.2 0 1 0 -4.4 0M564.0 273.9a2.2 2.2 0 1 0 4.4 0a2.2 2.2 0 1 0 -4.4 0M579.2 275.5a2.2 2.2 0 1 0 4.4 0a2.2 2.2 0 1 0 -4.4 0M580.5 275.1a2.2 2.2 0 1 0 4.4 0a2.2 2.2 0 1 0 -4.4 0M583.2 276.4a2.2 2.2 0 1 0 4.4 0a2.2 2.2 0 1 0 -4.4 0M564.5 272.6a2.2 2.2 0 1 0 4.4 0a2.2 2.2 0 1 0 -4.4 0M547.3 270.2a2.2 2.2 0 1 0 4.4 0a2.2 2.2 0 1 0 -4.4 0M550.9 277.7a2.2 2.2 0 1 0 4.4 0a2.2 2.2 0 1 0 -4.4 0M567.8 270.4a2.2 2.2 0 1 0 4.4 0a2.2 2.2 0 1 0 -4.4 0M586.9 267.6a2.2 2.2 0 1 0 4.4 0a2.2 2.2 0 1 0 -4.4 0M575.0 270.1a2.2 2.2 0 1 0 4.4 0a2.2 2.2 0 1 0 -4.4 0M566.6 266.9a2.2 2.2 0 1 0 4.4 0a2.2 2.2 0 1 0 -4.4 0M582.3 267.7a2.2 2.2 0 1 0 4.4 0a2.2 2.2 0 1 0 -4.4 0M577.4 266.4a2.2 2.2 0 1 0 4.4 0a2.2 2.2 0 1 0 -4.4 0M555.8 267.0a2.2 2.2 0 1 0 4.4 0a2.2 2.2 0 1 0 -4.4 0M569.0 277.3a2.2 2.2 0 1 0 4.4 0a2.2 2.2 0 1 0 -4.4 0M573.8 276.3a2.2 2.2 0 1 0 4.4 0a2.2 2.2 0 1 0 -4.4 0M579.2 271.6a2.2 2.2 0 1 0 4.4 0a2.2 2.2 0 1 0 -4.4 0M580.6 265.5a2.2 2.2 0 1 0 4.4 0a2.2 2.2 0 1 0 -4.4 0M553.3 281.9a2.2 2.2 0 1 0 4.4 0a2.2 2.2 0 1 0 -4.4 0M553.3 284.2a2.2 2.2 0 1 0 4.4 0a2.2 2.2 0 1 0 -4.4 0M570.6 266.4a2.2 2.2 0 1 0 4.4 0a2.2 2.2 0 1 0 -4.4 0M544.6 267.2a2.2 2.2 0 1 0 4.4 0a2.2 2.2 0 1 0 -4.4 0M584.3 267.3a2.2 2.2 0 1 0 4.4 0a2.2 2.2 0 1 0 -4.4 0M553.1 276.8a2.2 2.2 0 1 0 4.4 0a2.2 2.2 0 1 0 -4.4 0M549.7 272.6a2.2 2.2 0 1 0 4.4 0a2.2 2.2 0 1 0 -4.4 0M564.3 279.1a2.2 2.2 0 1 0 4.4 0a2.2 2.2 0 1 0 -4.4 0M570.4 270.0a2.2 2.2 0 1 0 4.4 0a2.2 2.2 0 1 0 -4.4 0M582.6 274.2a2.2 2.2 0 1 0 4.4 0a2.2 2.2 0 1 0 -4.4 0M569.5 269.9a2.2 2.2 0 1 0 4.4 0a2.2 2.2 0 1 0 -4.4 0M579.2 263.5a2.2 2.2 0 1 0 4.4 0a2.2 2.2 0 1 0 -4.4 0M578.4 269.8a2.2 2.2 0 1 0 4.4 0a2.2 2.2 0 1 0 -4.4 0M566.0 266.5a2.2 2.2 0 1 0 4.4 0a2.2 2.2 0 1 0 -4.4 0M571.5 279.8a2.2 2.2 0 1 0 4.4 0a2.2 2.2 0 1 0 -4.4 0M567.6 269.3a2.2 2.2 0 1 0 4.4 0a2.2 2.2 0 1 0 -4.4 0M609.1 275.4a2.2 2.2 0 1 0 4.4 0a2.2 2.2 0 1 0 -4.4 0M598.2 273.4a2.2 2.2 0 1 0 4.4 0a2.2 2.2 0 1 0 -4.4 0M604.1 267.1a2.2 2.2 0 1 0 4.4 0a2.2 2.2 0 1 0 -4.4 0M600.4 279.2a2.2 2.2 0 1 0 4.4 0a2.2 2.2 0 1 0 -4.4 0M606.8 277.5a2.2 2.2 0 1 0 4.4 0a2.2 2.2 0 1 0 -4.4 0M606.3 286.8a2.2 2.2 0 1 0 4.4 0a2.2 2.2 0 1 0 -4.4 0M607.5 272.6a2.2 2.2 0 1 0 4.4 0a2.2 2.2 0 1 0 -4.4 0M606.0 275.3a2.2 2.2 0 1 0 4.4 0a2.2 2.2 0 1 0 -4.4 0M606.3 270.7a2.2 2.2 0 1 0 4.4 0a2.2 2.2 0 1 0 -4.4 0M602.1 279.4a2.2 2.2 0 1 0 4.4 0a2.2 2.2 0 1 0 -4.4 0M618.5 266.5a2.2 2.2 0 1 0 4.4 0a2.2 2.2 0 1 0 -4.4 0M603.5 278.2a2.2 2.2 0 1 0 4.4 0a2.2 2.2 0 1 0 -4.4 0M610.2 272.3a2.2 2.2 0 1 0 4.4 0a2.2 2.2 0 1 0 -4.4 0M603.0 273.3a2.2 2.2 0 1 0 4.4 0a2.2 2.2 0 1 0 -4.4 0M594.0 278.3a2.2 2.2 0 1 0 4.4 0a2.2 2.2 0 1 0 -4.4 0M558.9 255.1a2.2 2.2 0 1 0 4.4 0a2.2 2.2 0 1 0 -4.4 0M550.7 254.6a2.2 2.2 0 1 0 4.4 0a2.2 2.2 0 1 0 -4.4 0M553.1 251.4a2.2 2.2 0 1 0 4.4 0a2.2 2.2 0 1 0 -4.4 0M580.3 262.1a2.2 2.2 0 1 0 4.4 0a2.2 2.2 0 1 0 -4.4 0M578.8 253.3a2.2 2.2 0 1 0 4.4 0a2.2 2.2 0 1 0 -4.4 0M536.7 254.4a2.2 2.2 0 1 0 4.4 0a2.2 2.2 0 1 0 -4.4 0M565.7 258.7a2.2 2.2 0 1 0 4.4 0a2.2 2.2 0 1 0 -4.4 0M558.3 264.5a2.2 2.2 0 1 0 4.4 0a2.2 2.2 0 1 0 -4.4 0M555.6 266.2a2.2 2.2 0 1 0 4.4 0a2.2 2.2 0 1 0 -4.4 0M552.6 263.4a2.2 2.2 0 1 0 4.4 0a2.2 2.2 0 1 0 -4.4 0M548.6 248.9a2.2 2.2 0 1 0 4.4 0a2.2 2.2 0 1 0 -4.4 0M582.4 268.7a2.2 2.2 0 1 0 4.4 0a2.2 2.2 0 1 0 -4.4 0M581.6 256.7a2.2 2.2 0 1 0 4.4 0a2.2 2.2 0 1 0 -4.4 0M539.3 256.5a2.2 2.2 0 1 0 4.4 0a2.2 2.2 0 1 0 -4.4 0M545.0 268.8a2.2 2.2 0 1 0 4.4 0a2.2 2.2 0 1 0 -4.4 0M549.0 250.5a2.2 2.2 0 1 0 4.4 0a2.2 2.2 0 1 0 -4.4 0M579.9 259.3a2.2 2.2 0 1 0 4.4 0a2.2 2.2 0 1 0 -4.4 0M554.1 260.8a2.2 2.2 0 1 0 4.4 0a2.2 2.2 0 1 0 -4.4 0M563.7 260.2a2.2 2.2 0 1 0 4.4 0a2.2 2.2 0 1 0 -4.4 0M563.5 262.5a2.2 2.2 0 1 0 4.4 0a2.2 2.2 0 1 0 -4.4 0M581.0 255.5a2.2 2.2 0 1 0 4.4 0a2.2 2.2 0 1 0 -4.4 0M571.1 260.5a2.2 2.2 0 1 0 4.4 0a2.2 2.2 0 1 0 -4.4 0M558.1 257.3a2.2 2.2 0 1 0 4.4 0a2.2 2.2 0 1 0 -4.4 0M565.1 255.3a2.2 2.2 0 1 0 4.4 0a2.2 2.2 0 1 0 -4.4 0M560.5 260.2a2.2 2.2 0 1 0 4.4 0a2.2 2.2 0 1 0 -4.4 0M557.0 256.9a2.2 2.2 0 1 0 4.4 0a2.2 2.2 0 1 0 -4.4 0M545.7 264.8a2.2 2.2 0 1 0 4.4 0a2.2 2.2 0 1 0 -4.4 0M552.0 262.0a2.2 2.2 0 1 0 4.4 0a2.2 2.2 0 1 0 -4.4 0M565.7 260.4a2.2 2.2 0 1 0 4.4 0a2.2 2.2 0 1 0 -4.4 0M540.6 258.4a2.2 2.2 0 1 0 4.4 0a2.2 2.2 0 1 0 -4.4 0M547.2 252.7a2.2 2.2 0 1 0 4.4 0a2.2 2.2 0 1 0 -4.4 0M546.0 258.7a2.2 2.2 0 1 0 4.4 0a2.2 2.2 0 1 0 -4.4 0M546.3 265.6a2.2 2.2 0 1 0 4.4 0a2.2 2.2 0 1 0 -4.4 0M581.3 263.1a2.2 2.2 0 1 0 4.4 0a2.2 2.2 0 1 0 -4.4 0M567.5 259.2a2.2 2.2 0 1 0 4.4 0a2.2 2.2 0 1 0 -4.4 0M573.3 256.0a2.2 2.2 0 1 0 4.4 0a2.2 2.2 0 1 0 -4.4 0M539.0 262.5a2.2 2.2 0 1 0 4.4 0a2.2 2.2 0 1 0 -4.4 0M545.1 257.9a2.2 2.2 0 1 0 4.4 0a2.2 2.2 0 1 0 -4.4 0M561.3 264.8a2.2 2.2 0 1 0 4.4 0a2.2 2.2 0 1 0 -4.4 0M545.7 261.7a2.2 2.2 0 1 0 4.4 0a2.2 2.2 0 1 0 -4.4 0M572.8 252.8a2.2 2.2 0 1 0 4.4 0a2.2 2.2 0 1 0 -4.4 0M545.8 259.8a2.2 2.2 0 1 0 4.4 0a2.2 2.2 0 1 0 -4.4 0M576.0 258.9a2.2 2.2 0 1 0 4.4 0a2.2 2.2 0 1 0 -4.4 0M555.8 256.6a2.2 2.2 0 1 0 4.4 0a2.2 2.2 0 1 0 -4.4 0M584.9 256.6a2.2 2.2 0 1 0 4.4 0a2.2 2.2 0 1 0 -4.4 0M568.7 265.7a2.2 2.2 0 1 0 4.4 0a2.2 2.2 0 1 0 -4.4 0M574.2 256.0a2.2 2.2 0 1 0 4.4 0a2.2 2.2 0 1 0 -4.4 0M543.7 256.2a2.2 2.2 0 1 0 4.4 0a2.2 2.2 0 1 0 -4.4 0M573.5 255.2a2.2 2.2 0 1 0 4.4 0a2.2 2.2 0 1 0 -4.4 0M560.8 268.4a2.2 2.2 0 1 0 4.4 0a2.2 2.2 0 1 0 -4.4 0M568.7 253.6a2.2 2.2 0 1 0 4.4 0a2.2 2.2 0 1 0 -4.4 0M544.2 257.6a2.2 2.2 0 1 0 4.4 0a2.2 2.2 0 1 0 -4.4 0M540.8 253.1a2.2 2.2 0 1 0 4.4 0a2.2 2.2 0 1 0 -4.4 0M562.7 264.3a2.2 2.2 0 1 0 4.4 0a2.2 2.2 0 1 0 -4.4 0M566.5 262.6a2.2 2.2 0 1 0 4.4 0a2.2 2.2 0 1 0 -4.4 0M605.6 264.3a2.2 2.2 0 1 0 4.4 0a2.2 2.2 0 1 0 -4.4 0M592.1 265.8a2.2 2.2 0 1 0 4.4 0a2.2 2.2 0 1 0 -4.4 0M591.3 259.3a2.2 2.2 0 1 0 4.4 0a2.2 2.2 0 1 0 -4.4 0M594.6 254.0a2.2 2.2 0 1 0 4.4 0a2.2 2.2 0 1 0 -4.4 0M605.2 257.4a2.2 2.2 0 1 0 4.4 0a2.2 2.2 0 1 0 -4.4 0M594.8 259.5a2.2 2.2 0 1 0 4.4 0a2.2 2.2 0 1 0 -4.4 0M606.7 249.7a2.2 2.2 0 1 0 4.4 0a2.2 2.2 0 1 0 -4.4 0M592.6 257.9a2.2 2.2 0 1 0 4.4 0a2.2 2.2 0 1 0 -4.4 0M608.9 266.0a2.2 2.2 0 1 0 4.4 0a2.2 2.2 0 1 0 -4.4 0M610.7 256.0a2.2 2.2 0 1 0 4.4 0a2.2 2.2 0 1 0 -4.4 0M580.2 248.3a2.2 2.2 0 1 0 4.4 0a2.2 2.2 0 1 0 -4.4 0M558.7 243.9a2.2 2.2 0 1 0 4.4 0a2.2 2.2 0 1 0 -4.4 0M550.7 244.1a2.2 2.2 0 1 0 4.4 0a2.2 2.2 0 1 0 -4.4 0M562.7 248.3a2.2 2.2 0 1 0 4.4 0a2.2 2.2 0 1 0 -4.4 0M570.0 251.9a2.2 2.2 0 1 0 4.4 0a2.2 2.2 0 1 0 -4.4 0M572.1 242.2a2.2 2.2 0 1 0 4.4 0a2.2 2.2 0 1 0 -4.4 0M562.9 250.0a2.2 2.2 0 1 0 4.4 0a2.2 2.2 0 1 0 -4.4 0M568.2 228.3a2.2 2.2 0 1 0 4.4 0a2.2 2.2 0 1 0 -4.4 0M568.8 245.1a2.2 2.2 0 1 0 4.4 0a2.2 2.2 0 1 0 -4.4 0M572.7 242.9a2.2 2.2 0 1 0 4.4 0a2.2 2.2 0 1 0 -4.4 0M557.5 245.2a2.2 2.2 0 1 0 4.4 0a2.2 2.2 0 1 0 -4.4 0M570.5 252.7a2.2 2.2 0 1 0 4.4 0a2.2 2.2 0 1 0 -4.4 0M562.7 244.0a2.2 2.2 0 1 0 4.4 0a2.2 2.2 0 1 0 -4.4 0M572.2 245.2a2.2 2.2 0 1 0 4.4 0a2.2 2.2 0 1 0 -4.4 0M567.1 240.8a2.2 2.2 0 1 0 4.4 0a2.2 2.2 0 1 0 -4.4 0M584.5 253.0a2.2 2.2 0 1 0 4.4 0a2.2 2.2 0 1 0 -4.4 0M564.7 249.1a2.2 2.2 0 1 0 4.4 0a2.2 2.2 0 1 0 -4.4 0M569.4 252.0a2.2 2.2 0 1 0 4.4 0a2.2 2.2 0 1 0 -4.4 0M576.6 251.2a2.2 2.2 0 1 0 4.4 0a2.2 2.2 0 1 0 -4.4 0M578.7 255.3a2.2 2.2 0 1 0 4.4 0a2.2 2.2 0 1 0 -4.4 0M564.2 242.0a2.2 2.2 0 1 0 4.4 0a2.2 2.2 0 1 0 -4.4 0M551.6 236.9a2.2 2.2 0 1 0 4.4 0a2.2 2.2 0 1 0 -4.4 0M549.3 250.1a2.2 2.2 0 1 0 4.4 0a2.2 2.2 0 1 0 -4.4 0M568.9 247.2a2.2 2.2 0 1 0 4.4 0a2.2 2.2 0 1 0 -4.4 0M578.9 247.3a2.2 2.2 0 1 0 4.4 0a2.2 2.2 0 1 0 -4.4 0M535.1 263.6a2.2 2.2 0 1 0 4.4 0a2.2 2.2 0 1 0 -4.4 0M541.7 188.3a2.2 2.2 0 1 0 4.4 0a2.2 2.2 0 1 0 -4.4 0M547.0 192.3a2.2 2.2 0 1 0 4.4 0a2.2 2.2 0 1 0 -4.4 0M549.6 188.3a2.2 2.2 0 1 0 4.4 0a2.2 2.2 0 1 0 -4.4 0M560.3 188.3a2.2 2.2 0 1 0 4.4 0a2.2 2.2 0 1 0 -4.4 0M562.9 197.7a2.2 2.2 0 1 0 4.4 0a2.2 2.2 0 1 0 -4.4 0M553.6 205.8a2.2 2.2 0 1 0 4.4 0a2.2 2.2 0 1 0 -4.4 0M557.6 219.2a2.2 2.2 0 1 0 4.4 0a2.2 2.2 0 1 0 -4.4 0M565.6 219.2a2.2 2.2 0 1 0 4.4 0a2.2 2.2 0 1 0 -4.4 0M569.5 218.5a2.2 2.2 0 1 0 4.4 0a2.2 2.2 0 1 0 -4.4 0M572.2 218.5a2.2 2.2 0 1 0 4.4 0a2.2 2.2 0 1 0 -4.4 0M581.5 218.5a2.2 2.2 0 1 0 4.4 0a2.2 2.2 0 1 0 -4.4 0M605.4 218.5a2.2 2.2 0 1 0 4.4 0a2.2 2.2 0 1 0 -4.4 0M585.5 191.6a2.2 2.2 0 1 0 4.4 0a2.2 2.2 0 1 0 -4.4 0M547.0 225.9a2.2 2.2 0 1 0 4.4 0a2.2 2.2 0 1 0 -4.4 0M568.2 224.6a2.2 2.2 0 1 0 4.4 0a2.2 2.2 0 1 0 -4.4 0M671.7 200.4a2.2 2.2 0 1 0 4.4 0a2.2 2.2 0 1 0 -4.4 0M661.1 236.7a2.2 2.2 0 1 0 4.4 0a2.2 2.2 0 1 0 -4.4 0M665.1 243.4a2.2 2.2 0 1 0 4.4 0a2.2 2.2 0 1 0 -4.4 0M661.1 254.2a2.2 2.2 0 1 0 4.4 0a2.2 2.2 0 1 0 -4.4 0M650.5 256.9a2.2 2.2 0 1 0 4.4 0a2.2 2.2 0 1 0 -4.4 0M646.5 260.9a2.2 2.2 0 1 0 4.4 0a2.2 2.2 0 1 0 -4.4 0M642.5 260.9a2.2 2.2 0 1 0 4.4 0a2.2 2.2 0 1 0 -4.4 0M639.8 266.3a2.2 2.2 0 1 0 4.4 0a2.2 2.2 0 1 0 -4.4 0M637.2 270.3a2.2 2.2 0 1 0 4.4 0a2.2 2.2 0 1 0 -4.4 0M631.9 270.3a2.2 2.2 0 1 0 4.4 0a2.2 2.2 0 1 0 -4.4 0M629.2 258.2a2.2 2.2 0 1 0 4.4 0a2.2 2.2 0 1 0 -4.4 0M634.5 282.4a2.2 2.2 0 1 0 4.4 0a2.2 2.2 0 1 0 -4.4 0M641.2 275.7a2.2 2.2 0 1 0 4.4 0a2.2 2.2 0 1 0 -4.4 0M647.8 274.3a2.2 2.2 0 1 0 4.4 0a2.2 2.2 0 1 0 -4.4 0M638.5 283.8a2.2 2.2 0 1 0 4.4 0a2.2 2.2 0 1 0 -4.4 0M626.6 293.2a2.2 2.2 0 1 0 4.4 0a2.2 2.2 0 1 0 -4.4 0M631.9 290.5a2.2 2.2 0 1 0 4.4 0a2.2 2.2 0 1 0 -4.4 0M639.8 291.8a2.2 2.2 0 1 0 4.4 0a2.2 2.2 0 1 0 -4.4 0M634.5 297.2a2.2 2.2 0 1 0 4.4 0a2.2 2.2 0 1 0 -4.4 0M613.3 240.7a2.2 2.2 0 1 0 4.4 0a2.2 2.2 0 1 0 -4.4 0M608.0 247.4a2.2 2.2 0 1 0 4.4 0a2.2 2.2 0 1 0 -4.4 0M602.7 252.8a2.2 2.2 0 1 0 4.4 0a2.2 2.2 0 1 0 -4.4 0M589.4 243.4a2.2 2.2 0 1 0 4.4 0a2.2 2.2 0 1 0 -4.4 0M581.5 238.0a2.2 2.2 0 1 0 4.4 0a2.2 2.2 0 1 0 -4.4 0M600.1 246.1a2.2 2.2 0 1 0 4.4 0a2.2 2.2 0 1 0 -4.4 0M560.3 243.4a2.2 2.2 0 1 0 4.4 0a2.2 2.2 0 1 0 -4.4 0M552.3 246.1a2.2 2.2 0 1 0 4.4 0a2.2 2.2 0 1 0 -4.4 0M544.3 248.8a2.2 2.2 0 1 0 4.4 0a2.2 2.2 0 1 0 -4.4 0M541.7 247.4a2.2 2.2 0 1 0 4.4 0a2.2 2.2 0 1 0 -4.4 0M549.6 252.8a2.2 2.2 0 1 0 4.4 0a2.2 2.2 0 1 0 -4.4 0M562.9 234.0a2.2 2.2 0 1 0 4.4 0a2.2 2.2 0 1 0 -4.4 0M564.2 232.7a2.2 2.2 0 1 0 4.4 0a2.2 2.2 0 1 0 -4.4 0M542.1 371.1a2.2 2.2 0 1 0 4.4 0a2.2 2.2 0 1 0 -4.4 0M548.0 376.1a2.2 2.2 0 1 0 4.4 0a2.2 2.2 0 1 0 -4.4 0M546.1 379.5a2.2 2.2 0 1 0 4.4 0a2.2 2.2 0 1 0 -4.4 0M550.0 379.5a2.2 2.2 0 1 0 4.4 0a2.2 2.2 0 1 0 -4.4 0M554.0 368.7a2.2 2.2 0 1 0 4.4 0a2.2 2.2 0 1 0 -4.4 0M560.0 368.7a2.2 2.2 0 1 0 4.4 0a2.2 2.2 0 1 0 -4.4 0M546.1 366.2a2.2 2.2 0 1 0 4.4 0a2.2 2.2 0 1 0 -4.4 0M571.9 371.1a2.2 2.2 0 1 0 4.4 0a2.2 2.2 0 1 0 -4.4 0M577.9 378.5a2.2 2.2 0 1 0 4.4 0a2.2 2.2 0 1 0 -4.4 0M577.9 389.4a2.2 2.2 0 1 0 4.4 0a2.2 2.2 0 1 0 -4.4 0M570.7 389.4a2.2 2.2 0 1 0 4.4 0a2.2 2.2 0 1 0 -4.4 0M567.9 383.5a2.2 2.2 0 1 0 4.4 0a2.2 2.2 0 1 0 -4.4 0M560.0 367.7a2.2 2.2 0 1 0 4.4 0a2.2 2.2 0 1 0 -4.4 0M635.6 371.1a2.2 2.2 0 1 0 4.4 0a2.2 2.2 0 1 0 -4.4 0M663.5 371.1a2.2 2.2 0 1 0 4.4 0a2.2 2.2 0 1 0 -4.4 0M534.1 408.2a2.2 2.2 0 1 0 4.4 0a2.2 2.2 0 1 0 -4.4 0M538.1 408.2a2.2 2.2 0 1 0 4.4 0a2.2 2.2 0 1 0 -4.4 0M556.0 408.2a2.2 2.2 0 1 0 4.4 0a2.2 2.2 0 1 0 -4.4 0M571.9 408.2a2.2 2.2 0 1 0 4.4 0a2.2 2.2 0 1 0 -4.4 0M577.9 408.2a2.2 2.2 0 1 0 4.4 0a2.2 2.2 0 1 0 -4.4 0M581.9 408.2a2.2 2.2 0 1 0 4.4 0a2.2 2.2 0 1 0 -4.4 0M585.9 410.7a2.2 2.2 0 1 0 4.4 0a2.2 2.2 0 1 0 -4.4 0M587.8 415.6a2.2 2.2 0 1 0 4.4 0a2.2 2.2 0 1 0 -4.4 0M542.1 418.1a2.2 2.2 0 1 0 4.4 0a2.2 2.2 0 1 0 -4.4 0M542.1 413.1a2.2 2.2 0 1 0 4.4 0a2.2 2.2 0 1 0 -4.4 0M550.0 415.6a2.2 2.2 0 1 0 4.4 0a2.2 2.2 0 1 0 -4.4 0M558.0 413.1a2.2 2.2 0 1 0 4.4 0a2.2 2.2 0 1 0 -4.4 0M562.0 415.6a2.2 2.2 0 1 0 4.4 0a2.2 2.2 0 1 0 -4.4 0M575.9 418.1a2.2 2.2 0 1 0 4.4 0a2.2 2.2 0 1 0 -4.4 0M585.9 426.5a2.2 2.2 0 1 0 4.4 0a2.2 2.2 0 1 0 -4.4 0M579.9 426.5a2.2 2.2 0 1 0 4.4 0a2.2 2.2 0 1 0 -4.4 0M573.9 429.0a2.2 2.2 0 1 0 4.4 0a2.2 2.2 0 1 0 -4.4 0M566.0 424.5a2.2 2.2 0 1 0 4.4 0a2.2 2.2 0 1 0 -4.4 0M550.0 426.5a2.2 2.2 0 1 0 4.4 0a2.2 2.2 0 1 0 -4.4 0M544.1 419.6a2.2 2.2 0 1 0 4.4 0a2.2 2.2 0 1 0 -4.4 0M589.8 421.5a2.2 2.2 0 1 0 4.4 0a2.2 2.2 0 1 0 -4.4 0M609.7 408.2a2.2 2.2 0 1 0 4.4 0a2.2 2.2 0 1 0 -4.4 0M615.7 408.2a2.2 2.2 0 1 0 4.4 0a2.2 2.2 0 1 0 -4.4 0M625.7 408.2a2.2 2.2 0 1 0 4.4 0a2.2 2.2 0 1 0 -4.4 0M629.6 410.7a2.2 2.2 0 1 0 4.4 0a2.2 2.2 0 1 0 -4.4 0M639.6 408.2a2.2 2.2 0 1 0 4.4 0a2.2 2.2 0 1 0 -4.4 0M643.6 408.2a2.2 2.2 0 1 0 4.4 0a2.2 2.2 0 1 0 -4.4 0M647.5 414.6a2.2 2.2 0 1 0 4.4 0a2.2 2.2 0 1 0 -4.4 0M651.5 424.5a2.2 2.2 0 1 0 4.4 0a2.2 2.2 0 1 0 -4.4 0M665.5 426.5a2.2 2.2 0 1 0 4.4 0a2.2 2.2 0 1 0 -4.4 0M605.8 418.1a2.2 2.2 0 1 0 4.4 0a2.2 2.2 0 1 0 -4.4 0M613.7 415.6a2.2 2.2 0 1 0 4.4 0a2.2 2.2 0 1 0 -4.4 0M619.7 418.1a2.2 2.2 0 1 0 4.4 0a2.2 2.2 0 1 0 -4.4 0M623.7 415.6a2.2 2.2 0 1 0 4.4 0a2.2 2.2 0 1 0 -4.4 0M603.8 427.5a2.2 2.2 0 1 0 4.4 0a2.2 2.2 0 1 0 -4.4 0M607.8 424.5a2.2 2.2 0 1 0 4.4 0a2.2 2.2 0 1 0 -4.4 0M611.7 425.5a2.2 2.2 0 1 0 4.4 0a2.2 2.2 0 1 0 -4.4 0M591.8 416.6a2.2 2.2 0 1 0 4.4 0a2.2 2.2 0 1 0 -4.4 0M621.7 410.7a2.2 2.2 0 1 0 4.4 0a2.2 2.2 0 1 0 -4.4 0M617.7 423.0a2.2 2.2 0 1 0 4.4 0a2.2 2.2 0 1 0 -4.4 0M564.0 420.6a2.2 2.2 0 1 0 4.4 0a2.2 2.2 0 1 0 -4.4 0M552.0 420.6a2.2 2.2 0 1 0 4.4 0a2.2 2.2 0 1 0 -4.4 0"/>
<rect x="36.30" y="426.75" width="52.40" height="40.85" fill="#f0e46e" stroke="#222" stroke-width="0.6"/>
<rect x="36.30" y="399.02" width="52.40" height="27.74" fill="#44dd77" stroke="#222" stroke-width="0.6"/>
<rect x="36.30" y="374.20" width="52.40" height="24.82" fill="#9a3ddd" stroke="#222" stroke-width="0.6"/>
<rect x="36.30" y="357.69" width="52.40" height="16.51" fill="#dfc33c" stroke="#222" stroke-width="0.6"/>
<rect x="36.30" y="342.74" width="52.40" height="14.95" fill="#36bcd8" stroke="#222" stroke-width="0.6"/>
<rect x="36.30" y="328.94" width="52.40" height="13.80" fill="#d03a8a" stroke="#222" stroke-width="0.6"/>
<rect x="36.30" y="316.26" width="52.40" height="12.68" fill="#5ad33a" stroke="#222" stroke-width="0.6"/>
<rect x="36.30" y="308.58" width="52.40" height="7.68" fill="#3333cc" stroke="#222" stroke-width="0.6"/>
<rect x="36.30" y="301.68" width="52.40" height="6.90" fill="#dd6633" stroke="#222" stroke-width="0.6"/>
<rect x="36.30" y="295.77" width="52.40" height="5.91" fill="#36cc94" stroke="#222" stroke-width="0.6"/>
<rect x="36.30" y="291.47" width="52.40" height="4.31" fill="#bf33cc" stroke="#222" stroke-width="0.6"/>
<rect x="36.30" y="287.27" width="52.40" height="4.20" fill="#a8c828" stroke="#222" stroke-width="0.6"/>
<rect x="36.30" y="283.77" width="52.40" height="3.50" fill="#2874cc" stroke="#222" stroke-width="0.6"/>
<rect x="36.30" y="280.67" width="52.40" height="3.09" fill="#c02248" stroke="#222" stroke-width="0.6"/>
<rect x="36.30" y="277.47" width="52.40" height="3.20" fill="#22bb3a" stroke="#222" stroke-width="0.6"/>
<rect x="36.30" y="274.16" width="52.40" height="3.31" fill="#5a20c0" stroke="#222" stroke-width="0.6"/>
<rect x="36.30" y="271.46" width="52.40" height="2.70" fill="#b07a1a" stroke="#222" stroke-width="0.6"/>
<rect x="36.30" y="255.40" width="52.40" height="16.05" fill="#22aaa6" stroke="#222" stroke-width="0.6"/>
<rect x="36.30" y="253.69" width="52.40" height="1.71" fill="#b01a80" stroke="#222" stroke-width="0.6"/>
<rect x="36.30" y="251.40" width="52.40" height="2.29" fill="#58a820" stroke="#222" stroke-width="0.6"/>
<rect x="101.70" y="425.33" width="52.50" height="42.27" fill="#f0e46e" stroke="#222" stroke-width="0.6"/>
<rect x="101.70" y="400.41" width="52.50" height="24.93" fill="#44dd77" stroke="#222" stroke-width="0.6"/>
<rect x="101.70" y="375.20" width="52.50" height="25.21" fill="#9a3ddd" stroke="#222" stroke-width="0.6"/>
<rect x="101.70" y="358.25" width="52.50" height="16.95" fill="#dfc33c" stroke="#222" stroke-width="0.6"/>
<rect x="101.70" y="342.98" width="52.50" height="15.26" fill="#36bcd8" stroke="#222" stroke-width="0.6"/>
<rect x="101.70" y="329.21" width="52.50" height="13.77" fill="#d03a8a" stroke="#222" stroke-width="0.6"/>
<rect x="101.70" y="316.76" width="52.50" height="12.45" fill="#5ad33a" stroke="#222" stroke-width="0.6"/>
<rect x="101.70" y="308.82" width="52.50" height="7.93" fill="#3333cc" stroke="#222" stroke-width="0.6"/>
<rect x="101.70" y="301.97" width="52.50" height="6.85" fill="#dd6633" stroke="#222" stroke-width="0.6"/>
<rect x="101.70" y="296.02" width="52.50" height="5.95" fill="#36cc94" stroke="#222" stroke-width="0.6"/>
<rect x="101.70" y="291.70" width="52.50" height="4.32" fill="#bf33cc" stroke="#222" stroke-width="0.6"/>
<rect x="101.70" y="287.48" width="52.50" height="4.22" fill="#a8c828" stroke="#222" stroke-width="0.6"/>
<rect x="101.70" y="283.92" width="52.50" height="3.57" fill="#2874cc" stroke="#222" stroke-width="0.6"/>
<rect x="101.70" y="280.67" width="52.50" height="3.24" fill="#c02248" stroke="#222" stroke-width="0.6"/>
<rect x="101.70" y="277.43" width="52.50" height="3.24" fill="#22bb3a" stroke="#222" stroke-width="0.6"/>
<rect x="101.70" y="274.19" width="52.50" height="3.24" fill="#5a20c0" stroke="#222" stroke-width="0.6"/>
<rect x="101.70" y="271.48" width="52.50" height="2.70" fill="#b07a1a" stroke="#222" stroke-width="0.6"/>
<rect x="101.70" y="255.59" width="52.50" height="15.89" fill="#22aaa6" stroke="#222" stroke-width="0.6"/>
<rect x="101.70" y="253.76" width="52.50" height="1.84" fill="#b01a80" stroke="#222" stroke-width="0.6"/>
<rect x="101.70" y="251.40" width="52.50" height="2.36" fill="#58a820" stroke="#222" stroke-width="0.6"/>
<line x1="88.70" y1="426.75" x2="101.70" y2="425.33" stroke="#333" stroke-width="0.5"/>
<line x1="88.70" y1="399.02" x2="101.70" y2="400.41" stroke="#333" stroke-width="0.5"/>
<line x1="88.70" y1="374.20" x2="101.70" y2="375.20" stroke="#333" stroke-width="0.5"/>
<line x1="88.70" y1="357.69" x2="101.70" y2="358.25" stroke="#333" stroke-width="0.5"/>
<line x1="88.70" y1="342.74" x2="101.70" y2="342.98" stroke="#333" stroke-width="0.5"/>
<line x1="88.70" y1="328.94" x2="101.70" y2="329.21" stroke="#333" stroke-width="0.5"/>
<line x1="88.70" y1="316.26" x2="101.70" y2="316.76" stroke="#333" stroke-width="0.5"/>
<line x1="88.70" y1="308.58" x2="101.70" y2="308.82" stroke="#333" stroke-width="0.5"/>
<line x1="88.70" y1="301.68" x2="101.70" y2="301.97" stroke="#333" stroke-width="0.5"/>
<line x1="88.70" y1="295.77" x2="101.70" y2="296.02" stroke="#333" stroke-width="0.5"/>
<line x1="88.70" y1="291.47" x2="101.70" y2="291.70" stroke="#333" stroke-width="0.5"/>
<line x1="88.70" y1="287.27" x2="101.70" y2="287.48" stroke="#333" stroke-width="0.5"/>
<line x1="88.70" y1="283.77" x2="101.70" y2="283.92" stroke="#333" stroke-width="0.5"/>
<line x1="88.70" y1="280.67" x2="101.70" y2="280.67" stroke="#333" stroke-width="0.5"/>
<line x1="88.70" y1="277.47" x2="101.70" y2="277.43" stroke="#333" stroke-width="0.5"/>
<line x1="88.70" y1="274.16" x2="101.70" y2="274.19" stroke="#333" stroke-width="0.5"/>
<line x1="88.70" y1="271.46" x2="101.70" y2="271.48" stroke="#333" stroke-width="0.5"/>
<line x1="88.70" y1="255.40" x2="101.70" y2="255.59" stroke="#333" stroke-width="0.5"/>
<line x1="88.70" y1="253.69" x2="101.70" y2="253.76" stroke="#333" stroke-width="0.5"/>
<line x1="88.70" y1="253.69" x2="101.70" y2="253.76" stroke="#333" stroke-width="0.5"/>
<line x1="88.70" y1="251.40" x2="101.70" y2="251.40" stroke="#333" stroke-width="0.5"/>
<rect x="50.65" y="443.48" width="23.70" height="7.40" fill="#fff" stroke="none" stroke-width="1"/>
<text x="62.50" y="449.73" font-size="7.2" text-anchor="middle" fill="#111">18.88%</text>
<rect x="50.65" y="409.18" width="23.70" height="7.40" fill="#fff" stroke="none" stroke-width="1"/>
<text x="62.50" y="415.43" font-size="7.2" text-anchor="middle" fill="#111">12.82%</text>
<rect x="50.65" y="382.91" width="23.70" height="7.40" fill="#fff" stroke="none" stroke-width="1"/>
<text x="62.50" y="389.16" font-size="7.2" text-anchor="middle" fill="#111">11.47%</text>
<rect x="52.68" y="362.25" width="19.65" height="7.40" fill="#fff" stroke="none" stroke-width="1"/>
<text x="62.50" y="368.50" font-size="7.2" text-anchor="middle" fill="#111">7.63%</text>
<rect x="52.68" y="346.52" width="19.65" height="7.40" fill="#fff" stroke="none" stroke-width="1"/>
<text x="62.50" y="352.77" font-size="7.2" text-anchor="middle" fill="#111">6.91%</text>
<rect x="52.68" y="332.14" width="19.65" height="7.40" fill="#fff" stroke="none" stroke-width="1"/>
<text x="62.50" y="338.39" font-size="7.2" text-anchor="middle" fill="#111">6.38%</text>
<rect x="52.68" y="318.90" width="19.65" height="7.40" fill="#fff" stroke="none" stroke-width="1"/>
<text x="62.50" y="325.15" font-size="7.2" text-anchor="middle" fill="#111">5.86%</text>
<rect x="52.68" y="309.02" width="19.65" height="7.40" fill="#fff" stroke="none" stroke-width="1"/>
<text x="62.50" y="315.27" font-size="7.2" text-anchor="middle" fill="#111">3.55%</text>
<rect x="52.68" y="301.13" width="19.65" height="7.40" fill="#fff" stroke="none" stroke-width="1"/>
<text x="62.50" y="307.38" font-size="7.2" text-anchor="middle" fill="#111">3.19%</text>
<rect x="52.68" y="259.73" width="19.65" height="7.40" fill="#fff" stroke="none" stroke-width="1"/>
<text x="62.50" y="265.98" font-size="7.2" text-anchor="middle" fill="#111">7.42%</text>
<rect x="116.10" y="442.77" width="23.70" height="7.40" fill="#fff" stroke="none" stroke-width="1"/>
<text x="127.95" y="449.02" font-size="7.2" text-anchor="middle" fill="#111">19.55%</text>
<rect x="116.10" y="409.17" width="23.70" height="7.40" fill="#fff" stroke="none" stroke-width="1"/>
<text x="127.95" y="415.42" font-size="7.2" text-anchor="middle" fill="#111">11.53%</text>
<rect x="116.10" y="384.10" width="23.70" height="7.40" fill="#fff" stroke="none" stroke-width="1"/>
<text x="127.95" y="390.35" font-size="7.2" text-anchor="middle" fill="#111">11.66%</text>
<rect x="118.12" y="363.02" width="19.65" height="7.40" fill="#fff" stroke="none" stroke-width="1"/>
<text x="127.95" y="369.27" font-size="7.2" text-anchor="middle" fill="#111">7.84%</text>
<rect x="118.12" y="346.91" width="19.65" height="7.40" fill="#fff" stroke="none" stroke-width="1"/>
<text x="127.95" y="353.16" font-size="7.2" text-anchor="middle" fill="#111">7.06%</text>
<rect x="118.12" y="332.40" width="19.65" height="7.40" fill="#fff" stroke="none" stroke-width="1"/>
<text x="127.95" y="338.65" font-size="7.2" text-anchor="middle" fill="#111">6.37%</text>
<rect x="118.12" y="319.28" width="19.65" height="7.40" fill="#fff" stroke="none" stroke-width="1"/>
<text x="127.95" y="325.53" font-size="7.2" text-anchor="middle" fill="#111">5.76%</text>
<rect x="118.12" y="309.39" width="19.65" height="7.40" fill="#fff" stroke="none" stroke-width="1"/>
<text x="127.95" y="315.64" font-size="7.2" text-anchor="middle" fill="#111">3.67%</text>
<rect x="118.12" y="301.40" width="19.65" height="7.40" fill="#fff" stroke="none" stroke-width="1"/>
<text x="127.95" y="307.65" font-size="7.2" text-anchor="middle" fill="#111">3.17%</text>
<rect x="118.12" y="259.84" width="19.65" height="7.40" fill="#fff" stroke="none" stroke-width="1"/>
<text x="127.95" y="266.09" font-size="7.2" text-anchor="middle" fill="#111">7.35%</text>
<line x1="30.00" y1="251.00" x2="30.00" y2="468.10" stroke="#222" stroke-width="1"/>
<line x1="26.00" y1="467.60" x2="161.30" y2="467.60" stroke="#222" stroke-width="1"/>
<line x1="25.70" y1="467.60" x2="30.00" y2="467.60" stroke="#222" stroke-width="1"/>
<text x="22.20" y="470.10" font-size="7.0" text-anchor="end" fill="#222">0</text>
<line x1="25.70" y1="424.36" x2="30.00" y2="424.36" stroke="#222" stroke-width="1"/>
<text x="22.20" y="426.86" font-size="7.0" text-anchor="end" fill="#222">20</text>
<line x1="25.70" y1="381.12" x2="30.00" y2="381.12" stroke="#222" stroke-width="1"/>
<text x="22.20" y="383.62" font-size="7.0" text-anchor="end" fill="#222">40</text>
<line x1="25.70" y1="337.88" x2="30.00" y2="337.88" stroke="#222" stroke-width="1"/>
<text x="22.20" y="340.38" font-size="7.0" text-anchor="end" fill="#222">60</text>
<line x1="25.70" y1="294.64" x2="30.00" y2="294.64" stroke="#222" stroke-width="1"/>
<text x="22.20" y="297.14" font-size="7.0" text-anchor="end" fill="#222">80</text>
<line x1="25.70" y1="251.40" x2="30.00" y2="251.40" stroke="#222" stroke-width="1"/>
<text x="22.20" y="253.90" font-size="7.0" text-anchor="end" fill="#222">100</text>
<line x1="62.50" y1="467.60" x2="62.50" y2="470.90" stroke="#222" stroke-width="1"/>
<text x="62.50" y="480.30" font-size="7.1" text-anchor="middle" fill="#222">Infected</text>
<line x1="127.95" y1="467.60" x2="127.95" y2="470.90" stroke="#222" stroke-width="1"/>
<text x="127.95" y="480.30" font-size="7.1" text-anchor="middle" fill="#222">Uninfected</text>
<text x="95.50" y="248.20" font-size="11.6" text-anchor="middle" fill="#111">Côte d’Ivoire</text>
<rect x="193.70" y="425.59" width="52.40" height="42.01" fill="#f0e46e" stroke="#222" stroke-width="0.6"/>
<rect x="193.70" y="399.15" width="52.40" height="26.44" fill="#44dd77" stroke="#222" stroke-width="0.6"/>
<rect x="193.70" y="373.79" width="52.40" height="25.36" fill="#9a3ddd" stroke="#222" stroke-width="0.6"/>
<rect x="193.70" y="356.84" width="52.40" height="16.95" fill="#dfc33c" stroke="#222" stroke-width="0.6"/>
<rect x="193.70" y="341.40" width="52.40" height="15.44" fill="#36bcd8" stroke="#222" stroke-width="0.6"/>
<rect x="193.70" y="326.83" width="52.40" height="14.57" fill="#d03a8a" stroke="#222" stroke-width="0.6"/>
<rect x="193.70" y="314.08" width="52.40" height="12.76" fill="#5ad33a" stroke="#222" stroke-width="0.6"/>
<rect x="193.70" y="306.47" width="52.40" height="7.61" fill="#3333cc" stroke="#222" stroke-width="0.6"/>
<rect x="193.70" y="299.66" width="52.40" height="6.81" fill="#dd6633" stroke="#222" stroke-width="0.6"/>
<rect x="193.70" y="293.82" width="52.40" height="5.84" fill="#36cc94" stroke="#222" stroke-width="0.6"/>
<rect x="193.70" y="289.49" width="52.40" height="4.32" fill="#bf33cc" stroke="#222" stroke-width="0.6"/>
<rect x="193.70" y="285.17" width="52.40" height="4.32" fill="#a8c828" stroke="#222" stroke-width="0.6"/>
<rect x="193.70" y="281.17" width="52.40" height="4.00" fill="#2874cc" stroke="#222" stroke-width="0.6"/>
<rect x="193.70" y="278.14" width="52.40" height="3.03" fill="#c02248" stroke="#222" stroke-width="0.6"/>
<rect x="193.70" y="275.23" width="52.40" height="2.92" fill="#22bb3a" stroke="#222" stroke-width="0.6"/>
<rect x="193.70" y="272.31" width="52.40" height="2.92" fill="#5a20c0" stroke="#222" stroke-width="0.6"/>
<rect x="193.70" y="270.04" width="52.40" height="2.27" fill="#b07a1a" stroke="#222" stroke-width="0.6"/>
<rect x="193.70" y="253.73" width="52.40" height="16.30" fill="#22aaa6" stroke="#222" stroke-width="0.6"/>
<rect x="193.70" y="251.79" width="52.40" height="1.95" fill="#b01a80" stroke="#222" stroke-width="0.6"/>
<rect x="193.70" y="251.40" width="52.40" height="0.39" fill="#58a820" stroke="#222" stroke-width="0.6"/>
<rect x="259.10" y="424.84" width="52.50" height="42.76" fill="#f0e46e" stroke="#222" stroke-width="0.6"/>
<rect x="259.10" y="398.55" width="52.50" height="26.29" fill="#44dd77" stroke="#222" stroke-width="0.6"/>
<rect x="259.10" y="373.36" width="52.50" height="25.19" fill="#9a3ddd" stroke="#222" stroke-width="0.6"/>
<rect x="259.10" y="356.73" width="52.50" height="16.63" fill="#dfc33c" stroke="#222" stroke-width="0.6"/>
<rect x="259.10" y="341.04" width="52.50" height="15.70" fill="#36bcd8" stroke="#222" stroke-width="0.6"/>
<rect x="259.10" y="326.77" width="52.50" height="14.27" fill="#d03a8a" stroke="#222" stroke-width="0.6"/>
<rect x="259.10" y="313.93" width="52.50" height="12.84" fill="#5ad33a" stroke="#222" stroke-width="0.6"/>
<rect x="259.10" y="306.34" width="52.50" height="7.59" fill="#3333cc" stroke="#222" stroke-width="0.6"/>
<rect x="259.10" y="299.35" width="52.50" height="6.98" fill="#dd6633" stroke="#222" stroke-width="0.6"/>
<rect x="259.10" y="293.52" width="52.50" height="5.84" fill="#36cc94" stroke="#222" stroke-width="0.6"/>
<rect x="259.10" y="289.19" width="52.50" height="4.32" fill="#bf33cc" stroke="#222" stroke-width="0.6"/>
<rect x="259.10" y="284.87" width="52.50" height="4.32" fill="#a8c828" stroke="#222" stroke-width="0.6"/>
<rect x="259.10" y="280.87" width="52.50" height="4.00" fill="#2874cc" stroke="#222" stroke-width="0.6"/>
<rect x="259.10" y="277.73" width="52.50" height="3.13" fill="#c02248" stroke="#222" stroke-width="0.6"/>
<rect x="259.10" y="274.81" width="52.50" height="2.92" fill="#22bb3a" stroke="#222" stroke-width="0.6"/>
<rect x="259.10" y="271.79" width="52.50" height="3.03" fill="#5a20c0" stroke="#222" stroke-width="0.6"/>
<rect x="259.10" y="269.52" width="52.50" height="2.27" fill="#b07a1a" stroke="#222" stroke-width="0.6"/>
<rect x="259.10" y="253.69" width="52.50" height="15.83" fill="#22aaa6" stroke="#222" stroke-width="0.6"/>
<rect x="259.10" y="251.75" width="52.50" height="1.95" fill="#b01a80" stroke="#222" stroke-width="0.6"/>
<rect x="259.10" y="251.40" width="52.50" height="0.35" fill="#58a820" stroke="#222" stroke-width="0.6"/>
<line x1="246.10" y1="425.59" x2="259.10" y2="424.84" stroke="#333" stroke-width="0.5"/>
<line x1="246.10" y1="399.15" x2="259.10" y2="398.55" stroke="#333" stroke-width="0.5"/>
<line x1="246.10" y1="373.79" x2="259.10" y2="373.36" stroke="#333" stroke-width="0.5"/>
<line x1="246.10" y1="356.84" x2="259.10" y2="356.73" stroke="#333" stroke-width="0.5"/>
<line x1="246.10" y1="341.40" x2="259.10" y2="341.04" stroke="#333" stroke-width="0.5"/>
<line x1="246.10" y1="326.83" x2="259.10" y2="326.77" stroke="#333" stroke-width="0.5"/>
<line x1="246.10" y1="314.08" x2="259.10" y2="313.93" stroke="#333" stroke-width="0.5"/>
<line x1="246.10" y1="306.47" x2="259.10" y2="306.34" stroke="#333" stroke-width="0.5"/>
<line x1="246.10" y1="299.66" x2="259.10" y2="299.35" stroke="#333" stroke-width="0.5"/>
<line x1="246.10" y1="293.82" x2="259.10" y2="293.52" stroke="#333" stroke-width="0.5"/>
<line x1="246.10" y1="289.49" x2="259.10" y2="289.19" stroke="#333" stroke-width="0.5"/>
<line x1="246.10" y1="285.17" x2="259.10" y2="284.87" stroke="#333" stroke-width="0.5"/>
<line x1="246.10" y1="281.17" x2="259.10" y2="280.87" stroke="#333" stroke-width="0.5"/>
<line x1="246.10" y1="278.14" x2="259.10" y2="277.73" stroke="#333" stroke-width="0.5"/>
<line x1="246.10" y1="275.23" x2="259.10" y2="274.81" stroke="#333" stroke-width="0.5"/>
<line x1="246.10" y1="272.31" x2="259.10" y2="271.79" stroke="#333" stroke-width="0.5"/>
<line x1="246.10" y1="270.04" x2="259.10" y2="269.52" stroke="#333" stroke-width="0.5"/>
<line x1="246.10" y1="253.73" x2="259.10" y2="253.69" stroke="#333" stroke-width="0.5"/>
<line x1="246.10" y1="251.79" x2="259.10" y2="251.75" stroke="#333" stroke-width="0.5"/>
<line x1="246.10" y1="251.79" x2="259.10" y2="251.75" stroke="#333" stroke-width="0.5"/>
<line x1="246.10" y1="251.40" x2="259.10" y2="251.40" stroke="#333" stroke-width="0.5"/>
<rect x="208.05" y="442.90" width="23.70" height="7.40" fill="#fff" stroke="none" stroke-width="1"/>
<text x="219.90" y="449.15" font-size="7.2" text-anchor="middle" fill="#111">19.43%</text>
<rect x="208.05" y="408.67" width="23.70" height="7.40" fill="#fff" stroke="none" stroke-width="1"/>
<text x="219.90" y="414.92" font-size="7.2" text-anchor="middle" fill="#111">12.23%</text>
<rect x="208.05" y="382.77" width="23.70" height="7.40" fill="#fff" stroke="none" stroke-width="1"/>
<text x="219.90" y="389.02" font-size="7.2" text-anchor="middle" fill="#111">11.73%</text>
<rect x="210.08" y="361.62" width="19.65" height="7.40" fill="#fff" stroke="none" stroke-width="1"/>
<text x="219.90" y="367.87" font-size="7.2" text-anchor="middle" fill="#111">7.84%</text>
<rect x="210.08" y="345.42" width="19.65" height="7.40" fill="#fff" stroke="none" stroke-width="1"/>
<text x="219.90" y="351.67" font-size="7.2" text-anchor="middle" fill="#111">7.14%</text>
<rect x="210.08" y="330.42" width="19.65" height="7.40" fill="#fff" stroke="none" stroke-width="1"/>
<text x="219.90" y="336.67" font-size="7.2" text-anchor="middle" fill="#111">6.74%</text>
<rect x="210.08" y="316.75" width="19.65" height="7.40" fill="#fff" stroke="none" stroke-width="1"/>
<text x="219.90" y="323.00" font-size="7.2" text-anchor="middle" fill="#111">5.90%</text>
<rect x="210.08" y="306.87" width="19.65" height="7.40" fill="#fff" stroke="none" stroke-width="1"/>
<text x="219.90" y="313.12" font-size="7.2" text-anchor="middle" fill="#111">3.52%</text>
<rect x="210.08" y="299.06" width="19.65" height="7.40" fill="#fff" stroke="none" stroke-width="1"/>
<text x="219.90" y="305.31" font-size="7.2" text-anchor="middle" fill="#111">3.15%</text>
<rect x="210.08" y="258.19" width="19.65" height="7.40" fill="#fff" stroke="none" stroke-width="1"/>
<text x="219.90" y="264.44" font-size="7.2" text-anchor="middle" fill="#111">7.54%</text>
<rect x="273.50" y="442.52" width="23.70" height="7.40" fill="#fff" stroke="none" stroke-width="1"/>
<text x="285.35" y="448.77" font-size="7.2" text-anchor="middle" fill="#111">19.78%</text>
<rect x="273.50" y="407.99" width="23.70" height="7.40" fill="#fff" stroke="none" stroke-width="1"/>
<text x="285.35" y="414.24" font-size="7.2" text-anchor="middle" fill="#111">12.16%</text>
<rect x="273.50" y="382.25" width="23.70" height="7.40" fill="#fff" stroke="none" stroke-width="1"/>
<text x="285.35" y="388.50" font-size="7.2" text-anchor="middle" fill="#111">11.65%</text>
<rect x="275.53" y="361.35" width="19.65" height="7.40" fill="#fff" stroke="none" stroke-width="1"/>
<text x="285.35" y="367.60" font-size="7.2" text-anchor="middle" fill="#111">7.69%</text>
<rect x="275.53" y="345.18" width="19.65" height="7.40" fill="#fff" stroke="none" stroke-width="1"/>
<text x="285.35" y="351.43" font-size="7.2" text-anchor="middle" fill="#111">7.26%</text>
<rect x="275.53" y="330.20" width="19.65" height="7.40" fill="#fff" stroke="none" stroke-width="1"/>
<text x="285.35" y="336.45" font-size="7.2" text-anchor="middle" fill="#111">6.60%</text>
<rect x="275.53" y="316.65" width="19.65" height="7.40" fill="#fff" stroke="none" stroke-width="1"/>
<text x="285.35" y="322.90" font-size="7.2" text-anchor="middle" fill="#111">5.94%</text>
<rect x="275.53" y="306.73" width="19.65" height="7.40" fill="#fff" stroke="none" stroke-width="1"/>
<text x="285.35" y="312.98" font-size="7.2" text-anchor="middle" fill="#111">3.51%</text>
<rect x="275.53" y="298.84" width="19.65" height="7.40" fill="#fff" stroke="none" stroke-width="1"/>
<text x="285.35" y="305.09" font-size="7.2" text-anchor="middle" fill="#111">3.23%</text>
<rect x="275.53" y="257.90" width="19.65" height="7.40" fill="#fff" stroke="none" stroke-width="1"/>
<text x="285.35" y="264.15" font-size="7.2" text-anchor="middle" fill="#111">7.32%</text>
<line x1="187.40" y1="251.00" x2="187.40" y2="468.10" stroke="#222" stroke-width="1"/>
<line x1="183.40" y1="467.60" x2="318.70" y2="467.60" stroke="#222" stroke-width="1"/>
<line x1="183.10" y1="467.60" x2="187.40" y2="467.60" stroke="#222" stroke-width="1"/>
<text x="179.60" y="470.10" font-size="7.0" text-anchor="end" fill="#222">0</text>
<line x1="183.10" y1="424.36" x2="187.40" y2="424.36" stroke="#222" stroke-width="1"/>
<text x="179.60" y="426.86" font-size="7.0" text-anchor="end" fill="#222">20</text>
<line x1="183.10" y1="381.12" x2="187.40" y2="381.12" stroke="#222" stroke-width="1"/>
<text x="179.60" y="383.62" font-size="7.0" text-anchor="end" fill="#222">40</text>
<line x1="183.10" y1="337.88" x2="187.40" y2="337.88" stroke="#222" stroke-width="1"/>
<text x="179.60" y="340.38" font-size="7.0" text-anchor="end" fill="#222">60</text>
<line x1="183.10" y1="294.64" x2="187.40" y2="294.64" stroke="#222" stroke-width="1"/>
<text x="179.60" y="297.14" font-size="7.0" text-anchor="end" fill="#222">80</text>
<line x1="183.10" y1="251.40" x2="187.40" y2="251.40" stroke="#222" stroke-width="1"/>
<text x="179.60" y="253.90" font-size="7.0" text-anchor="end" fill="#222">100</text>
<line x1="219.90" y1="467.60" x2="219.90" y2="470.90" stroke="#222" stroke-width="1"/>
<text x="219.90" y="480.30" font-size="7.1" text-anchor="middle" fill="#222">Infected</text>
<line x1="285.35" y1="467.60" x2="285.35" y2="470.90" stroke="#222" stroke-width="1"/>
<text x="285.35" y="480.30" font-size="7.1" text-anchor="middle" fill="#222">Uninfected</text>
<text x="252.90" y="248.20" font-size="11.6" text-anchor="middle" fill="#111">Laos</text>
<rect x="351.30" y="424.42" width="52.40" height="43.18" fill="#f0e46e" stroke="#222" stroke-width="0.6"/>
<rect x="351.30" y="397.94" width="52.40" height="26.48" fill="#44dd77" stroke="#222" stroke-width="0.6"/>
<rect x="351.30" y="372.73" width="52.40" height="25.21" fill="#9a3ddd" stroke="#222" stroke-width="0.6"/>
<rect x="351.30" y="356.08" width="52.40" height="16.65" fill="#dfc33c" stroke="#222" stroke-width="0.6"/>
<rect x="351.30" y="341.01" width="52.40" height="15.07" fill="#36bcd8" stroke="#222" stroke-width="0.6"/>
<rect x="351.30" y="327.18" width="52.40" height="13.84" fill="#d03a8a" stroke="#222" stroke-width="0.6"/>
<rect x="351.30" y="314.25" width="52.40" height="12.93" fill="#5ad33a" stroke="#222" stroke-width="0.6"/>
<rect x="351.30" y="306.29" width="52.40" height="7.96" fill="#3333cc" stroke="#222" stroke-width="0.6"/>
<rect x="351.30" y="299.29" width="52.40" height="7.00" fill="#dd6633" stroke="#222" stroke-width="0.6"/>
<rect x="351.30" y="293.80" width="52.40" height="5.49" fill="#36cc94" stroke="#222" stroke-width="0.6"/>
<rect x="351.30" y="289.39" width="52.40" height="4.41" fill="#bf33cc" stroke="#222" stroke-width="0.6"/>
<rect x="351.30" y="285.28" width="52.40" height="4.11" fill="#a8c828" stroke="#222" stroke-width="0.6"/>
<rect x="351.30" y="281.17" width="52.40" height="4.11" fill="#2874cc" stroke="#222" stroke-width="0.6"/>
<rect x="351.30" y="278.47" width="52.40" height="2.70" fill="#c02248" stroke="#222" stroke-width="0.6"/>
<rect x="351.30" y="275.57" width="52.40" height="2.90" fill="#22bb3a" stroke="#222" stroke-width="0.6"/>
<rect x="351.30" y="272.18" width="52.40" height="3.39" fill="#5a20c0" stroke="#222" stroke-width="0.6"/>
<rect x="351.30" y="270.08" width="52.40" height="2.10" fill="#b07a1a" stroke="#222" stroke-width="0.6"/>
<rect x="351.30" y="255.96" width="52.40" height="14.12" fill="#22aaa6" stroke="#222" stroke-width="0.6"/>
<rect x="351.30" y="253.67" width="52.40" height="2.29" fill="#f8f2c0" stroke="#222" stroke-width="0.6"/>
<rect x="351.30" y="251.40" width="52.40" height="2.27" fill="#58a820" stroke="#222" stroke-width="0.6"/>
<rect x="416.70" y="424.01" width="52.50" height="43.59" fill="#f0e46e" stroke="#222" stroke-width="0.6"/>
<rect x="416.70" y="399.00" width="52.50" height="25.01" fill="#44dd77" stroke="#222" stroke-width="0.6"/>
<rect x="416.70" y="373.70" width="52.50" height="25.30" fill="#9a3ddd" stroke="#222" stroke-width="0.6"/>
<rect x="416.70" y="356.67" width="52.50" height="17.04" fill="#dfc33c" stroke="#222" stroke-width="0.6"/>
<rect x="416.70" y="341.60" width="52.50" height="15.07" fill="#36bcd8" stroke="#222" stroke-width="0.6"/>
<rect x="416.70" y="327.11" width="52.50" height="14.49" fill="#d03a8a" stroke="#222" stroke-width="0.6"/>
<rect x="416.70" y="314.25" width="52.50" height="12.86" fill="#5ad33a" stroke="#222" stroke-width="0.6"/>
<rect x="416.70" y="306.03" width="52.50" height="8.22" fill="#3333cc" stroke="#222" stroke-width="0.6"/>
<rect x="416.70" y="299.05" width="52.50" height="6.98" fill="#dd6633" stroke="#222" stroke-width="0.6"/>
<rect x="416.70" y="293.56" width="52.50" height="5.49" fill="#36cc94" stroke="#222" stroke-width="0.6"/>
<rect x="416.70" y="289.15" width="52.50" height="4.41" fill="#bf33cc" stroke="#222" stroke-width="0.6"/>
<rect x="416.70" y="285.04" width="52.50" height="4.11" fill="#a8c828" stroke="#222" stroke-width="0.6"/>
<rect x="416.70" y="280.93" width="52.50" height="4.11" fill="#2874cc" stroke="#222" stroke-width="0.6"/>
<rect x="416.70" y="278.23" width="52.50" height="2.70" fill="#c02248" stroke="#222" stroke-width="0.6"/>
<rect x="416.70" y="275.33" width="52.50" height="2.90" fill="#22bb3a" stroke="#222" stroke-width="0.6"/>
<rect x="416.70" y="271.94" width="52.50" height="3.39" fill="#5a20c0" stroke="#222" stroke-width="0.6"/>
<rect x="416.70" y="269.84" width="52.50" height="2.10" fill="#b07a1a" stroke="#222" stroke-width="0.6"/>
<rect x="416.70" y="255.96" width="52.50" height="13.88" fill="#22aaa6" stroke="#222" stroke-width="0.6"/>
<rect x="416.70" y="253.67" width="52.50" height="2.29" fill="#f8f2c0" stroke="#222" stroke-width="0.6"/>
<rect x="416.70" y="251.40" width="52.50" height="2.27" fill="#58a820" stroke="#222" stroke-width="0.6"/>
<line x1="403.70" y1="424.42" x2="416.70" y2="424.01" stroke="#333" stroke-width="0.5"/>
<line x1="403.70" y1="397.94" x2="416.70" y2="399.00" stroke="#333" stroke-width="0.5"/>
<line x1="403.70" y1="372.73" x2="416.70" y2="373.70" stroke="#333" stroke-width="0.5"/>
<line x1="403.70" y1="356.08" x2="416.70" y2="356.67" stroke="#333" stroke-width="0.5"/>
<line x1="403.70" y1="341.01" x2="416.70" y2="341.60" stroke="#333" stroke-width="0.5"/>
<line x1="403.70" y1="327.18" x2="416.70" y2="327.11" stroke="#333" stroke-width="0.5"/>
<line x1="403.70" y1="314.25" x2="416.70" y2="314.25" stroke="#333" stroke-width="0.5"/>
<line x1="403.70" y1="306.29" x2="416.70" y2="306.03" stroke="#333" stroke-width="0.5"/>
<line x1="403.70" y1="299.29" x2="416.70" y2="299.05" stroke="#333" stroke-width="0.5"/>
<line x1="403.70" y1="293.80" x2="416.70" y2="293.56" stroke="#333" stroke-width="0.5"/>
<line x1="403.70" y1="289.39" x2="416.70" y2="289.15" stroke="#333" stroke-width="0.5"/>
<line x1="403.70" y1="285.28" x2="416.70" y2="285.04" stroke="#333" stroke-width="0.5"/>
<line x1="403.70" y1="281.17" x2="416.70" y2="280.93" stroke="#333" stroke-width="0.5"/>
<line x1="403.70" y1="278.47" x2="416.70" y2="278.23" stroke="#333" stroke-width="0.5"/>
<line x1="403.70" y1="275.57" x2="416.70" y2="275.33" stroke="#333" stroke-width="0.5"/>
<line x1="403.70" y1="272.18" x2="416.70" y2="271.94" stroke="#333" stroke-width="0.5"/>
<line x1="403.70" y1="270.08" x2="416.70" y2="269.84" stroke="#333" stroke-width="0.5"/>
<line x1="403.70" y1="255.96" x2="416.70" y2="255.96" stroke="#333" stroke-width="0.5"/>
<line x1="403.70" y1="255.96" x2="416.70" y2="255.96" stroke="#333" stroke-width="0.5"/>
<line x1="403.70" y1="253.67" x2="416.70" y2="253.67" stroke="#333" stroke-width="0.5"/>
<line x1="403.70" y1="251.40" x2="416.70" y2="251.40" stroke="#333" stroke-width="0.5"/>
<rect x="365.65" y="442.31" width="23.70" height="7.40" fill="#fff" stroke="none" stroke-width="1"/>
<text x="377.50" y="448.56" font-size="7.2" text-anchor="middle" fill="#111">19.97%</text>
<rect x="365.65" y="407.48" width="23.70" height="7.40" fill="#fff" stroke="none" stroke-width="1"/>
<text x="377.50" y="413.73" font-size="7.2" text-anchor="middle" fill="#111">12.25%</text>
<rect x="365.65" y="381.64" width="23.70" height="7.40" fill="#fff" stroke="none" stroke-width="1"/>
<text x="377.50" y="387.89" font-size="7.2" text-anchor="middle" fill="#111">11.66%</text>
<rect x="367.68" y="360.71" width="19.65" height="7.40" fill="#fff" stroke="none" stroke-width="1"/>
<text x="377.50" y="366.96" font-size="7.2" text-anchor="middle" fill="#111">7.70%</text>
<rect x="367.68" y="344.85" width="19.65" height="7.40" fill="#fff" stroke="none" stroke-width="1"/>
<text x="377.50" y="351.10" font-size="7.2" text-anchor="middle" fill="#111">6.97%</text>
<rect x="367.68" y="330.40" width="19.65" height="7.40" fill="#fff" stroke="none" stroke-width="1"/>
<text x="377.50" y="336.65" font-size="7.2" text-anchor="middle" fill="#111">6.40%</text>
<rect x="367.68" y="317.01" width="19.65" height="7.40" fill="#fff" stroke="none" stroke-width="1"/>
<text x="377.50" y="323.26" font-size="7.2" text-anchor="middle" fill="#111">5.98%</text>
<rect x="367.68" y="306.87" width="19.65" height="7.40" fill="#fff" stroke="none" stroke-width="1"/>
<text x="377.50" y="313.12" font-size="7.2" text-anchor="middle" fill="#111">3.68%</text>
<rect x="367.68" y="298.79" width="19.65" height="7.40" fill="#fff" stroke="none" stroke-width="1"/>
<text x="377.50" y="305.04" font-size="7.2" text-anchor="middle" fill="#111">3.24%</text>
<rect x="367.68" y="259.32" width="19.65" height="7.40" fill="#fff" stroke="none" stroke-width="1"/>
<text x="377.50" y="265.57" font-size="7.2" text-anchor="middle" fill="#111">6.53%</text>
<rect x="431.10" y="442.11" width="23.70" height="7.40" fill="#fff" stroke="none" stroke-width="1"/>
<text x="442.95" y="448.36" font-size="7.2" text-anchor="middle" fill="#111">20.16%</text>
<rect x="431.10" y="407.81" width="23.70" height="7.40" fill="#fff" stroke="none" stroke-width="1"/>
<text x="442.95" y="414.06" font-size="7.2" text-anchor="middle" fill="#111">11.57%</text>
<rect x="431.10" y="382.65" width="23.70" height="7.40" fill="#fff" stroke="none" stroke-width="1"/>
<text x="442.95" y="388.90" font-size="7.2" text-anchor="middle" fill="#111">11.70%</text>
<rect x="433.12" y="361.49" width="19.65" height="7.40" fill="#fff" stroke="none" stroke-width="1"/>
<text x="442.95" y="367.74" font-size="7.2" text-anchor="middle" fill="#111">7.88%</text>
<rect x="433.12" y="345.43" width="19.65" height="7.40" fill="#fff" stroke="none" stroke-width="1"/>
<text x="442.95" y="351.68" font-size="7.2" text-anchor="middle" fill="#111">6.97%</text>
<rect x="433.12" y="330.66" width="19.65" height="7.40" fill="#fff" stroke="none" stroke-width="1"/>
<text x="442.95" y="336.91" font-size="7.2" text-anchor="middle" fill="#111">6.70%</text>
<rect x="433.12" y="316.98" width="19.65" height="7.40" fill="#fff" stroke="none" stroke-width="1"/>
<text x="442.95" y="323.23" font-size="7.2" text-anchor="middle" fill="#111">5.95%</text>
<rect x="433.12" y="306.74" width="19.65" height="7.40" fill="#fff" stroke="none" stroke-width="1"/>
<text x="442.95" y="312.99" font-size="7.2" text-anchor="middle" fill="#111">3.80%</text>
<rect x="433.12" y="298.54" width="19.65" height="7.40" fill="#fff" stroke="none" stroke-width="1"/>
<text x="442.95" y="304.79" font-size="7.2" text-anchor="middle" fill="#111">3.23%</text>
<rect x="433.12" y="259.20" width="19.65" height="7.40" fill="#fff" stroke="none" stroke-width="1"/>
<text x="442.95" y="265.45" font-size="7.2" text-anchor="middle" fill="#111">6.42%</text>
<line x1="345.00" y1="251.00" x2="345.00" y2="468.10" stroke="#222" stroke-width="1"/>
<line x1="341.00" y1="467.60" x2="476.30" y2="467.60" stroke="#222" stroke-width="1"/>
<line x1="340.70" y1="467.60" x2="345.00" y2="467.60" stroke="#222" stroke-width="1"/>
<text x="337.20" y="470.10" font-size="7.0" text-anchor="end" fill="#222">0</text>
<line x1="340.70" y1="424.36" x2="345.00" y2="424.36" stroke="#222" stroke-width="1"/>
<text x="337.20" y="426.86" font-size="7.0" text-anchor="end" fill="#222">20</text>
<line x1="340.70" y1="381.12" x2="345.00" y2="381.12" stroke="#222" stroke-width="1"/>
<text x="337.20" y="383.62" font-size="7.0" text-anchor="end" fill="#222">40</text>
<line x1="340.70" y1="337.88" x2="345.00" y2="337.88" stroke="#222" stroke-width="1"/>
<text x="337.20" y="340.38" font-size="7.0" text-anchor="end" fill="#222">60</text>
<line x1="340.70" y1="294.64" x2="345.00" y2="294.64" stroke="#222" stroke-width="1"/>
<text x="337.20" y="297.14" font-size="7.0" text-anchor="end" fill="#222">80</text>
<line x1="340.70" y1="251.40" x2="345.00" y2="251.40" stroke="#222" stroke-width="1"/>
<text x="337.20" y="253.90" font-size="7.0" text-anchor="end" fill="#222">100</text>
<line x1="377.50" y1="467.60" x2="377.50" y2="470.90" stroke="#222" stroke-width="1"/>
<text x="377.50" y="480.30" font-size="7.1" text-anchor="middle" fill="#222">Infected</text>
<line x1="442.95" y1="467.60" x2="442.95" y2="470.90" stroke="#222" stroke-width="1"/>
<text x="442.95" y="480.30" font-size="7.1" text-anchor="middle" fill="#222">Uninfected</text>
<text x="410.50" y="248.20" font-size="11.6" text-anchor="middle" fill="#111">Tanzania</text>
<text x="0" y="0" font-size="7.9" text-anchor="middle" fill="#222" transform="translate(7.0,356.2) rotate(-90)">Metacyc superclass pathway abundance</text>
<rect x="15.50" y="488.40" width="16.20" height="7.80" fill="#f0e46e" stroke="#777" stroke-width="0.6"/>
<text x="34.20" y="495.00" font-size="7.4" text-anchor="start" fill="#222">Amino Acid Biosynthesis</text>
<rect x="15.50" y="497.70" width="16.20" height="7.80" fill="#dfc33c" stroke="#777" stroke-width="0.6"/>
<text x="34.20" y="504.30" font-size="7.4" text-anchor="start" fill="#222">Carbohydrate Biosynthesis</text>
<rect x="15.50" y="507.00" width="16.20" height="7.80" fill="#5ad33a" stroke="#777" stroke-width="0.6"/>
<text x="34.20" y="513.60" font-size="7.4" text-anchor="start" fill="#222">Cell Structure Biosynthesis</text>
<rect x="15.50" y="516.30" width="16.20" height="7.80" fill="#36cc94" stroke="#777" stroke-width="0.6"/>
<text x="34.20" y="522.90" font-size="7.4" text-anchor="start" fill="#222">Secondary Metabolite Biosynthesis</text>
<rect x="15.50" y="525.60" width="16.20" height="7.80" fill="#2874cc" stroke="#777" stroke-width="0.6"/>
<text x="34.20" y="532.20" font-size="7.4" text-anchor="start" fill="#222">Aromatic Compound Biosynthesis</text>
<rect x="15.50" y="534.90" width="16.20" height="7.80" fill="#5a20c0" stroke="#777" stroke-width="0.6"/>
<text x="34.20" y="541.50" font-size="7.4" text-anchor="start" fill="#222">Inorganic Nutrient Metabolism</text>
<rect x="15.50" y="544.20" width="16.20" height="7.80" fill="#b01a80" stroke="#777" stroke-width="0.6"/>
<text x="34.20" y="550.80" font-size="7.4" text-anchor="start" fill="#222">Amine and Polyamine Degradation</text>
<rect x="157.90" y="488.40" width="16.20" height="7.80" fill="#44dd77" stroke="#777" stroke-width="0.6"/>
<text x="176.80" y="495.00" font-size="7.4" text-anchor="start" fill="#222">Nucleoside and Nucleotide Biosynthesis</text>
<rect x="157.90" y="497.70" width="16.20" height="7.80" fill="#36bcd8" stroke="#777" stroke-width="0.6"/>
<text x="176.80" y="504.30" font-size="7.4" text-anchor="start" fill="#222">Carbohydrate Degradation</text>
<rect x="157.90" y="507.00" width="16.20" height="7.80" fill="#3333cc" stroke="#777" stroke-width="0.6"/>
<text x="176.80" y="513.60" font-size="7.4" text-anchor="start" fill="#222">Fermentation</text>
<rect x="157.90" y="516.30" width="16.20" height="7.80" fill="#bf33cc" stroke="#777" stroke-width="0.6"/>
<text x="176.80" y="522.90" font-size="7.4" text-anchor="start" fill="#222">Nucleoside and Nucleotide Degradation</text>
<rect x="157.90" y="525.60" width="16.20" height="7.80" fill="#c02248" stroke="#777" stroke-width="0.6"/>
<text x="176.80" y="532.20" font-size="7.4" text-anchor="start" fill="#222">Carboxylate Degradation</text>
<rect x="157.90" y="534.90" width="16.20" height="7.80" fill="#b07a1a" stroke="#777" stroke-width="0.6"/>
<text x="176.80" y="541.50" font-size="7.4" text-anchor="start" fill="#222">Secondary Metabolite Degradation</text>
<rect x="157.90" y="544.20" width="16.20" height="7.80" fill="#58a820" stroke="#777" stroke-width="0.6"/>
<text x="176.80" y="550.80" font-size="7.4" text-anchor="start" fill="#222">TCA cycle</text>
<rect x="317.40" y="488.40" width="16.20" height="7.80" fill="#9a3ddd" stroke="#777" stroke-width="0.6"/>
<text x="335.70" y="495.00" font-size="7.4" text-anchor="start" fill="#222">Cofactor, Carrier, and Vitamin Biosynthesis</text>
<rect x="317.40" y="497.70" width="16.20" height="7.80" fill="#d03a8a" stroke="#777" stroke-width="0.6"/>
<text x="335.70" y="504.30" font-size="7.4" text-anchor="start" fill="#222">Fatty Acid and Lipid Biosynthesis</text>
<rect x="317.40" y="507.00" width="16.20" height="7.80" fill="#dd6633" stroke="#777" stroke-width="0.6"/>
<text x="335.70" y="513.60" font-size="7.4" text-anchor="start" fill="#222">Glycolysis</text>
<rect x="317.40" y="516.30" width="16.20" height="7.80" fill="#a8c828" stroke="#777" stroke-width="0.6"/>
<text x="335.70" y="522.90" font-size="7.4" text-anchor="start" fill="#222">Pentose Phosphate Pathways</text>
<rect x="317.40" y="525.60" width="16.20" height="7.80" fill="#22bb3a" stroke="#777" stroke-width="0.6"/>
<text x="335.70" y="532.20" font-size="7.4" text-anchor="start" fill="#222">Superpathways</text>
<rect x="317.40" y="534.90" width="16.20" height="7.80" fill="#22aaa6" stroke="#777" stroke-width="0.6"/>
<text x="335.70" y="541.50" font-size="7.4" text-anchor="start" fill="#222">Others</text>
<rect x="317.40" y="544.20" width="16.20" height="7.80" fill="#f8f2c0" stroke="#777" stroke-width="0.6"/>
<text x="335.70" y="550.80" font-size="7.4" text-anchor="start" fill="#222">Aminoacyl-tRNA Charging</text>
<line x1="0.50" y1="575.30" x2="0.50" y2="812.58" stroke="#2a2a2a" stroke-width="1"/>
<line x1="57.50" y1="575.30" x2="57.50" y2="812.58" stroke="#2a2a2a" stroke-width="1"/>
<line x1="125.50" y1="575.30" x2="125.50" y2="812.58" stroke="#2a2a2a" stroke-width="1"/>
<line x1="194.20" y1="575.30" x2="194.20" y2="812.58" stroke="#2a2a2a" stroke-width="1"/>
<line x1="0.50" y1="575.30" x2="194.20" y2="575.30" stroke="#2a2a2a" stroke-width="1"/>
<line x1="0.50" y1="812.58" x2="194.20" y2="812.58" stroke="#2a2a2a" stroke-width="1"/>
<line x1="0.50" y1="634.62" x2="57.50" y2="634.62" stroke="#2a2a2a" stroke-width="1"/>
<line x1="0.50" y1="723.60" x2="57.50" y2="723.60" stroke="#2a2a2a" stroke-width="1"/>
<line x1="0.50" y1="797.75" x2="57.50" y2="797.75" stroke="#2a2a2a" stroke-width="1"/>
<line x1="57.50" y1="634.62" x2="125.50" y2="634.62" stroke="#2a2a2a" stroke-width="1"/>
<line x1="57.50" y1="649.45" x2="125.50" y2="649.45" stroke="#2a2a2a" stroke-width="1"/>
<line x1="57.50" y1="679.11" x2="125.50" y2="679.11" stroke="#2a2a2a" stroke-width="1"/>
<line x1="57.50" y1="708.77" x2="125.50" y2="708.77" stroke="#2a2a2a" stroke-width="1"/>
<line x1="57.50" y1="723.60" x2="125.50" y2="723.60" stroke="#2a2a2a" stroke-width="1"/>
<line x1="57.50" y1="768.09" x2="125.50" y2="768.09" stroke="#2a2a2a" stroke-width="1"/>
<line x1="57.50" y1="782.92" x2="125.50" y2="782.92" stroke="#2a2a2a" stroke-width="1"/>
<line x1="57.50" y1="797.75" x2="125.50" y2="797.75" stroke="#2a2a2a" stroke-width="1"/>
<line x1="125.50" y1="590.13" x2="194.20" y2="590.13" stroke="#2a2a2a" stroke-width="1.3"/>
<line x1="125.50" y1="604.96" x2="194.20" y2="604.96" stroke="#2a2a2a" stroke-width="1.3"/>
<line x1="125.50" y1="619.79" x2="194.20" y2="619.79" stroke="#2a2a2a" stroke-width="1.3"/>
<line x1="125.50" y1="634.62" x2="194.20" y2="634.62" stroke="#2a2a2a" stroke-width="1.3"/>
<line x1="125.50" y1="649.45" x2="194.20" y2="649.45" stroke="#2a2a2a" stroke-width="1.3"/>
<line x1="125.50" y1="664.28" x2="194.20" y2="664.28" stroke="#2a2a2a" stroke-width="1.3"/>
<line x1="125.50" y1="679.11" x2="194.20" y2="679.11" stroke="#2a2a2a" stroke-width="1.3"/>
<line x1="125.50" y1="693.94" x2="194.20" y2="693.94" stroke="#2a2a2a" stroke-width="1.3"/>
<line x1="125.50" y1="708.77" x2="194.20" y2="708.77" stroke="#2a2a2a" stroke-width="1.3"/>
<line x1="125.50" y1="723.60" x2="194.20" y2="723.60" stroke="#2a2a2a" stroke-width="1.3"/>
<line x1="125.50" y1="738.43" x2="194.20" y2="738.43" stroke="#2a2a2a" stroke-width="1.3"/>
<line x1="125.50" y1="753.26" x2="194.20" y2="753.26" stroke="#2a2a2a" stroke-width="1.3"/>
<line x1="125.50" y1="768.09" x2="194.20" y2="768.09" stroke="#2a2a2a" stroke-width="1.3"/>
<line x1="125.50" y1="782.92" x2="194.20" y2="782.92" stroke="#2a2a2a" stroke-width="1.3"/>
<line x1="125.50" y1="797.75" x2="194.20" y2="797.75" stroke="#2a2a2a" stroke-width="1.3"/>
<text x="29.00" y="607.26" font-size="6.6" text-anchor="middle" fill="#111">Biosynthesis</text>
<text x="29.00" y="674.21" font-size="6.6" text-anchor="middle" fill="#111">Degradation /</text>
<text x="29.00" y="681.81" font-size="6.6" text-anchor="middle" fill="#111">Utilization /</text>
<text x="29.00" y="689.41" font-size="6.6" text-anchor="middle" fill="#111">Assimilation</text>
<text x="29.00" y="751.55" font-size="6.6" text-anchor="middle" fill="#111">Generation of</text>
<text x="29.00" y="759.50" font-size="6.6" text-anchor="middle" fill="#111">Precursor</text>
<text x="29.00" y="767.45" font-size="6.6" text-anchor="middle" fill="#111">Metabolites and</text>
<text x="29.00" y="775.40" font-size="6.6" text-anchor="middle" fill="#111">Energy</text>
<text x="29.00" y="807.46" font-size="6.6" text-anchor="middle" fill="#111">Superpathways</text>
<text x="91.50" y="603.21" font-size="6.6" text-anchor="middle" fill="#111">Amino Acid</text>
<text x="91.50" y="611.31" font-size="6.6" text-anchor="middle" fill="#111">Biosynthesis</text>
<text x="91.50" y="640.74" font-size="6.6" text-anchor="middle" fill="#111">Amine / Polyamine</text>
<text x="91.50" y="648.33" font-size="6.6" text-anchor="middle" fill="#111">Degradation</text>
<text x="91.50" y="662.48" font-size="6.6" text-anchor="middle" fill="#111">Carbohydrate</text>
<text x="91.50" y="670.68" font-size="6.6" text-anchor="middle" fill="#111">Degradation</text>
<text x="91.50" y="688.54" font-size="6.6" text-anchor="middle" fill="#111">Nucleoside /</text>
<text x="91.50" y="696.54" font-size="6.6" text-anchor="middle" fill="#111">Nucleotide</text>
<text x="91.50" y="704.54" font-size="6.6" text-anchor="middle" fill="#111">Degradation</text>
<text x="91.50" y="714.93" font-size="6.6" text-anchor="middle" fill="#111">Secondary Metabolite</text>
<text x="91.50" y="722.83" font-size="6.6" text-anchor="middle" fill="#111">Degradation</text>
<text x="91.50" y="748.14" font-size="6.6" text-anchor="middle" fill="#111">Fermentation</text>
<text x="91.50" y="777.80" font-size="6.6" text-anchor="middle" fill="#111">Photosynthesis</text>
<text x="91.50" y="792.63" font-size="6.6" text-anchor="middle" fill="#111">TCA cycle</text>
<text x="91.50" y="807.46" font-size="6.6" text-anchor="middle" fill="#111">Superpathways</text>
<text x="159.85" y="585.01" font-size="6.6" text-anchor="middle" fill="#111">METSYN-P</text>
<text x="159.85" y="599.84" font-size="6.6" text-anchor="middle" fill="#111">PWY-4361</text>
<text x="159.85" y="614.67" font-size="6.6" text-anchor="middle" fill="#111">PWY-5347</text>
<text x="159.85" y="629.50" font-size="6.6" text-anchor="middle" fill="#111">PWY-7528</text>
<text x="159.85" y="644.33" font-size="6.6" text-anchor="middle" fill="#111">GLCMANNANAUT-P</text>
<text x="159.85" y="659.16" font-size="6.6" text-anchor="middle" fill="#111">LACTOSECAT-P</text>
<text x="159.85" y="673.99" font-size="6.6" text-anchor="middle" fill="#111">PWY-6906</text>
<text x="159.85" y="688.82" font-size="6.6" text-anchor="middle" fill="#111">P164-PWY</text>
<text x="159.85" y="703.65" font-size="6.6" text-anchor="middle" fill="#111">PWY-6353</text>
<text x="159.85" y="718.48" font-size="6.6" text-anchor="middle" fill="#111">P562-PWY</text>
<text x="159.85" y="733.31" font-size="6.6" text-anchor="middle" fill="#111">CENTFERM-P</text>
<text x="159.85" y="748.14" font-size="6.6" text-anchor="middle" fill="#111">PWY-6590</text>
<text x="159.85" y="762.97" font-size="6.6" text-anchor="middle" fill="#111">PWY-7111</text>
<text x="159.85" y="777.80" font-size="6.6" text-anchor="middle" fill="#111">PWY-7117</text>
<text x="159.85" y="792.63" font-size="6.6" text-anchor="middle" fill="#111">PWY-5913</text>
<text x="159.85" y="807.46" font-size="6.6" text-anchor="middle" fill="#111">MET-SAM-P</text>
<line x1="194.20" y1="582.71" x2="387.00" y2="582.71" stroke="#7c7c7c" stroke-width="1.1"/>
<line x1="194.20" y1="597.54" x2="387.00" y2="597.54" stroke="#929292" stroke-width="1.1" stroke-dasharray="4.4 5.05"/>
<line x1="194.20" y1="612.38" x2="387.00" y2="612.38" stroke="#929292" stroke-width="1.1" stroke-dasharray="4.4 5.05"/>
<line x1="194.20" y1="627.20" x2="387.00" y2="627.20" stroke="#929292" stroke-width="1.1" stroke-dasharray="4.4 5.05"/>
<line x1="194.20" y1="642.03" x2="387.00" y2="642.03" stroke="#7c7c7c" stroke-width="1.1"/>
<line x1="194.20" y1="656.87" x2="387.00" y2="656.87" stroke="#929292" stroke-width="1.1" stroke-dasharray="4.4 5.05"/>
<line x1="194.20" y1="671.69" x2="387.00" y2="671.69" stroke="#929292" stroke-width="1.1" stroke-dasharray="4.4 5.05"/>
<line x1="194.20" y1="686.52" x2="387.00" y2="686.52" stroke="#929292" stroke-width="1.1" stroke-dasharray="4.4 5.05"/>
<line x1="194.20" y1="701.36" x2="387.00" y2="701.36" stroke="#929292" stroke-width="1.1" stroke-dasharray="4.4 5.05"/>
<line x1="194.20" y1="716.18" x2="387.00" y2="716.18" stroke="#929292" stroke-width="1.1" stroke-dasharray="4.4 5.05"/>
<line x1="194.20" y1="731.01" x2="387.00" y2="731.01" stroke="#7c7c7c" stroke-width="1.1"/>
<line x1="194.20" y1="745.84" x2="387.00" y2="745.84" stroke="#929292" stroke-width="1.1" stroke-dasharray="4.4 5.05"/>
<line x1="194.20" y1="760.67" x2="387.00" y2="760.67" stroke="#929292" stroke-width="1.1" stroke-dasharray="4.4 5.05"/>
<line x1="194.20" y1="775.50" x2="387.00" y2="775.50" stroke="#929292" stroke-width="1.1" stroke-dasharray="4.4 5.05"/>
<line x1="194.20" y1="790.33" x2="387.00" y2="790.33" stroke="#929292" stroke-width="1.1" stroke-dasharray="4.4 5.05"/>
<line x1="194.20" y1="805.16" x2="387.00" y2="805.16" stroke="#7c7c7c" stroke-width="1.1"/>
<line x1="316.60" y1="575.30" x2="316.60" y2="812.58" stroke="#777" stroke-width="0.6" stroke-dasharray="1 1.3"/>
<rect x="335.10" y="580.71" width="4.00" height="4.00" fill="#444" stroke="none" stroke-width="1"/>
<rect x="372.50" y="595.54" width="4.00" height="4.00" fill="#444" stroke="none" stroke-width="1"/>
<rect x="334.20" y="610.38" width="4.00" height="4.00" fill="#444" stroke="none" stroke-width="1"/>
<rect x="369.20" y="625.20" width="4.00" height="4.00" fill="#444" stroke="none" stroke-width="1"/>
<rect x="323.80" y="640.03" width="4.00" height="4.00" fill="#444" stroke="none" stroke-width="1"/>
<rect x="299.30" y="654.87" width="4.00" height="4.00" fill="#444" stroke="none" stroke-width="1"/>
<rect x="348.30" y="669.69" width="4.00" height="4.00" fill="#444" stroke="none" stroke-width="1"/>
<rect x="331.10" y="684.52" width="4.00" height="4.00" fill="#444" stroke="none" stroke-width="1"/>
<rect x="324.40" y="699.36" width="4.00" height="4.00" fill="#444" stroke="none" stroke-width="1"/>
<rect x="348.60" y="714.18" width="4.00" height="4.00" fill="#444" stroke="none" stroke-width="1"/>
<rect x="337.90" y="729.01" width="4.00" height="4.00" fill="#444" stroke="none" stroke-width="1"/>
<rect x="336.70" y="743.84" width="4.00" height="4.00" fill="#444" stroke="none" stroke-width="1"/>
<rect x="320.00" y="758.67" width="4.00" height="4.00" fill="#444" stroke="none" stroke-width="1"/>
<rect x="303.30" y="773.50" width="4.00" height="4.00" fill="#444" stroke="none" stroke-width="1"/>
<rect x="304.50" y="788.33" width="4.00" height="4.00" fill="#444" stroke="none" stroke-width="1"/>
<rect x="334.50" y="803.16" width="4.00" height="4.00" fill="#444" stroke="none" stroke-width="1"/>
<circle cx="267.90" cy="582.71" r="2.45" fill="#ee3a3a"/>
<circle cx="272.20" cy="597.54" r="2.45" fill="#ee3a3a"/>
<circle cx="268.80" cy="612.38" r="2.45" fill="#ee3a3a"/>
<circle cx="274.30" cy="627.20" r="2.45" fill="#ee3a3a"/>
<circle cx="329.60" cy="642.03" r="2.45" fill="#ee3a3a"/>
<circle cx="341.90" cy="656.87" r="2.45" fill="#ee3a3a"/>
<circle cx="216.90" cy="671.69" r="2.45" fill="#ee3a3a"/>
<circle cx="341.60" cy="686.52" r="2.45" fill="#ee3a3a"/>
<circle cx="305.10" cy="701.36" r="2.45" fill="#ee3a3a"/>
<circle cx="273.00" cy="716.18" r="2.45" fill="#ee3a3a"/>
<circle cx="290.50" cy="731.01" r="2.45" fill="#ee3a3a"/>
<circle cx="292.00" cy="745.84" r="2.45" fill="#ee3a3a"/>
<circle cx="325.20" cy="760.67" r="2.45" fill="#ee3a3a"/>
<circle cx="332.00" cy="775.50" r="2.45" fill="#ee3a3a"/>
<circle cx="334.10" cy="790.33" r="2.45" fill="#ee3a3a"/>
<circle cx="268.50" cy="805.16" r="2.45" fill="#ee3a3a"/>
<path d="M307.40 579.61 L310.25 584.41 L304.55 584.41 Z" fill="#1f6fe0"/>
<path d="M274.30 594.44 L277.15 599.25 L271.45 599.25 Z" fill="#1f6fe0"/>
<path d="M308.00 609.27 L310.85 614.08 L305.15 614.08 Z" fill="#1f6fe0"/>
<path d="M276.10 624.10 L278.95 628.90 L273.25 628.90 Z" fill="#1f6fe0"/>
<path d="M311.80 638.93 L314.65 643.74 L308.95 643.74 Z" fill="#1f6fe0"/>
<path d="M282.60 653.76 L285.45 658.57 L279.75 658.57 Z" fill="#1f6fe0"/>
<path d="M324.30 668.59 L327.15 673.39 L321.45 673.39 Z" fill="#1f6fe0"/>
<path d="M309.70 683.42 L312.55 688.23 L306.85 688.23 Z" fill="#1f6fe0"/>
<path d="M320.50 698.25 L323.35 703.06 L317.65 703.06 Z" fill="#1f6fe0"/>
<path d="M280.30 713.08 L283.15 717.88 L277.45 717.88 Z" fill="#1f6fe0"/>
<path d="M329.50 727.91 L332.35 732.72 L326.65 732.72 Z" fill="#1f6fe0"/>
<path d="M328.60 742.74 L331.45 747.54 L325.75 747.54 Z" fill="#1f6fe0"/>
<path d="M319.70 757.57 L322.55 762.38 L316.85 762.38 Z" fill="#1f6fe0"/>
<path d="M295.50 772.40 L298.35 777.21 L292.65 777.21 Z" fill="#1f6fe0"/>
<path d="M292.70 787.23 L295.55 792.03 L289.85 792.03 Z" fill="#1f6fe0"/>
<path d="M308.00 802.06 L310.85 806.87 L305.15 806.87 Z" fill="#1f6fe0"/>
<rect x="203.40" y="765.70" width="3.70" height="3.70" fill="#444" stroke="none" stroke-width="1"/>
<circle cx="205.1" cy="781.8" r="2.4" fill="#ee3a3a"/>
<path d="M205.10 793.20 L207.95 798.00 L202.25 798.00 Z" fill="#1f6fe0"/>
<text x="216.3" y="770.8" font-size="9.3" fill="#111">Log2<tspan font-size="6.9" dy="2.6">(FC-CI)</tspan></text>
<text x="216.3" y="785.3" font-size="9.3" fill="#111">Log2<tspan font-size="6.9" dy="2.6">(FC-LA)</tspan></text>
<text x="216.3" y="800.2" font-size="9.3" fill="#111">Log2<tspan font-size="6.9" dy="2.6">(FC-TA)</tspan></text>
<text x="362.0" y="801.5" font-size="9.7" fill="#111">Log2<tspan font-size="7.2" dy="2.8">FC</tspan></text>
<line x1="194.20" y1="812.90" x2="387.20" y2="812.90" stroke="#222" stroke-width="1"/>
<line x1="211.30" y1="809.40" x2="211.30" y2="812.90" stroke="#222" stroke-width="1"/>
<text x="210.90" y="822.70" font-size="9.2" text-anchor="middle" fill="#222">−1.5</text>
<line x1="246.40" y1="809.40" x2="246.40" y2="812.90" stroke="#222" stroke-width="1"/>
<text x="246.00" y="822.70" font-size="9.2" text-anchor="middle" fill="#222">−1.0</text>
<line x1="281.50" y1="809.40" x2="281.50" y2="812.90" stroke="#222" stroke-width="1"/>
<text x="281.10" y="822.70" font-size="9.2" text-anchor="middle" fill="#222">−0.5</text>
<line x1="316.60" y1="809.40" x2="316.60" y2="812.90" stroke="#222" stroke-width="1"/>
<text x="316.60" y="822.70" font-size="9.2" text-anchor="middle" fill="#222">0.0</text>
<line x1="351.70" y1="809.40" x2="351.70" y2="812.90" stroke="#222" stroke-width="1"/>
<text x="351.70" y="822.70" font-size="9.2" text-anchor="middle" fill="#222">0.5</text>
<line x1="386.80" y1="809.40" x2="386.80" y2="812.90" stroke="#222" stroke-width="1"/>
<text x="386.80" y="822.70" font-size="9.2" text-anchor="middle" fill="#222">1.0</text>
<defs><clipPath id="cf"><rect x="424" y="588" width="253" height="208.4"/></clipPath></defs><g clip-path="url(#cf)">
<path fill="none" stroke="#f3b085" stroke-width="0.9" d="M621.4 618.1a2.5 2.5 0 1 0 5.0 0a2.5 2.5 0 1 0 -5.0 0M622.3 621.6a2.5 2.5 0 1 0 5.0 0a2.5 2.5 0 1 0 -5.0 0M590.3 643.0a2.5 2.5 0 1 0 5.0 0a2.5 2.5 0 1 0 -5.0 0M602.4 644.3a2.5 2.5 0 1 0 5.0 0a2.5 2.5 0 1 0 -5.0 0M614.5 666.4a2.5 2.5 0 1 0 5.0 0a2.5 2.5 0 1 0 -5.0 0M529.0 650.6a2.5 2.5 0 1 0 5.0 0a2.5 2.5 0 1 0 -5.0 0M548.0 650.6a2.5 2.5 0 1 0 5.0 0a2.5 2.5 0 1 0 -5.0 0M552.3 707.8a2.5 2.5 0 1 0 5.0 0a2.5 2.5 0 1 0 -5.0 0M548.0 708.5a2.5 2.5 0 1 0 5.0 0a2.5 2.5 0 1 0 -5.0 0M541.1 726.5a2.5 2.5 0 1 0 5.0 0a2.5 2.5 0 1 0 -5.0 0M543.7 726.5a2.5 2.5 0 1 0 5.0 0a2.5 2.5 0 1 0 -5.0 0M578.2 732.0a2.5 2.5 0 1 0 5.0 0a2.5 2.5 0 1 0 -5.0 0M568.7 694.7a2.5 2.5 0 1 0 5.0 0a2.5 2.5 0 1 0 -5.0 0M565.3 697.5a2.5 2.5 0 1 0 5.0 0a2.5 2.5 0 1 0 -5.0 0M625.7 685.1a2.5 2.5 0 1 0 5.0 0a2.5 2.5 0 1 0 -5.0 0M647.3 688.5a2.5 2.5 0 1 0 5.0 0a2.5 2.5 0 1 0 -5.0 0M612.8 709.2a2.5 2.5 0 1 0 5.0 0a2.5 2.5 0 1 0 -5.0 0M582.0 670.8a2.5 2.5 0 1 0 5.0 0a2.5 2.5 0 1 0 -5.0 0M569.2 668.2a2.5 2.5 0 1 0 5.0 0a2.5 2.5 0 1 0 -5.0 0M607.0 663.7a2.5 2.5 0 1 0 5.0 0a2.5 2.5 0 1 0 -5.0 0M578.6 670.8a2.5 2.5 0 1 0 5.0 0a2.5 2.5 0 1 0 -5.0 0M578.3 651.1a2.5 2.5 0 1 0 5.0 0a2.5 2.5 0 1 0 -5.0 0M570.1 664.2a2.5 2.5 0 1 0 5.0 0a2.5 2.5 0 1 0 -5.0 0M593.1 650.4a2.5 2.5 0 1 0 5.0 0a2.5 2.5 0 1 0 -5.0 0M619.3 667.4a2.5 2.5 0 1 0 5.0 0a2.5 2.5 0 1 0 -5.0 0M601.3 676.1a2.5 2.5 0 1 0 5.0 0a2.5 2.5 0 1 0 -5.0 0M584.4 675.2a2.5 2.5 0 1 0 5.0 0a2.5 2.5 0 1 0 -5.0 0M565.2 654.0a2.5 2.5 0 1 0 5.0 0a2.5 2.5 0 1 0 -5.0 0M598.6 667.6a2.5 2.5 0 1 0 5.0 0a2.5 2.5 0 1 0 -5.0 0M599.1 667.9a2.5 2.5 0 1 0 5.0 0a2.5 2.5 0 1 0 -5.0 0M592.0 673.4a2.5 2.5 0 1 0 5.0 0a2.5 2.5 0 1 0 -5.0 0M577.6 673.1a2.5 2.5 0 1 0 5.0 0a2.5 2.5 0 1 0 -5.0 0M600.5 666.2a2.5 2.5 0 1 0 5.0 0a2.5 2.5 0 1 0 -5.0 0M578.5 664.5a2.5 2.5 0 1 0 5.0 0a2.5 2.5 0 1 0 -5.0 0M598.0 649.4a2.5 2.5 0 1 0 5.0 0a2.5 2.5 0 1 0 -5.0 0M564.5 665.7a2.5 2.5 0 1 0 5.0 0a2.5 2.5 0 1 0 -5.0 0M580.1 662.8a2.5 2.5 0 1 0 5.0 0a2.5 2.5 0 1 0 -5.0 0M564.6 675.9a2.5 2.5 0 1 0 5.0 0a2.5 2.5 0 1 0 -5.0 0M569.6 670.8a2.5 2.5 0 1 0 5.0 0a2.5 2.5 0 1 0 -5.0 0M567.6 657.4a2.5 2.5 0 1 0 5.0 0a2.5 2.5 0 1 0 -5.0 0M572.7 676.9a2.5 2.5 0 1 0 5.0 0a2.5 2.5 0 1 0 -5.0 0M599.9 662.1a2.5 2.5 0 1 0 5.0 0a2.5 2.5 0 1 0 -5.0 0M593.1 662.9a2.5 2.5 0 1 0 5.0 0a2.5 2.5 0 1 0 -5.0 0M575.8 657.8a2.5 2.5 0 1 0 5.0 0a2.5 2.5 0 1 0 -5.0 0M560.3 670.6a2.5 2.5 0 1 0 5.0 0a2.5 2.5 0 1 0 -5.0 0M586.0 660.9a2.5 2.5 0 1 0 5.0 0a2.5 2.5 0 1 0 -5.0 0M547.3 658.5a2.5 2.5 0 1 0 5.0 0a2.5 2.5 0 1 0 -5.0 0M594.7 673.6a2.5 2.5 0 1 0 5.0 0a2.5 2.5 0 1 0 -5.0 0M575.3 666.7a2.5 2.5 0 1 0 5.0 0a2.5 2.5 0 1 0 -5.0 0M588.7 677.3a2.5 2.5 0 1 0 5.0 0a2.5 2.5 0 1 0 -5.0 0M566.2 658.9a2.5 2.5 0 1 0 5.0 0a2.5 2.5 0 1 0 -5.0 0M585.5 658.1a2.5 2.5 0 1 0 5.0 0a2.5 2.5 0 1 0 -5.0 0M555.9 665.3a2.5 2.5 0 1 0 5.0 0a2.5 2.5 0 1 0 -5.0 0M577.8 668.3a2.5 2.5 0 1 0 5.0 0a2.5 2.5 0 1 0 -5.0 0M538.3 651.5a2.5 2.5 0 1 0 5.0 0a2.5 2.5 0 1 0 -5.0 0M580.6 649.2a2.5 2.5 0 1 0 5.0 0a2.5 2.5 0 1 0 -5.0 0M589.8 662.1a2.5 2.5 0 1 0 5.0 0a2.5 2.5 0 1 0 -5.0 0M602.8 651.9a2.5 2.5 0 1 0 5.0 0a2.5 2.5 0 1 0 -5.0 0M573.6 659.8a2.5 2.5 0 1 0 5.0 0a2.5 2.5 0 1 0 -5.0 0M590.5 660.2a2.5 2.5 0 1 0 5.0 0a2.5 2.5 0 1 0 -5.0 0M576.4 670.9a2.5 2.5 0 1 0 5.0 0a2.5 2.5 0 1 0 -5.0 0M570.5 658.2a2.5 2.5 0 1 0 5.0 0a2.5 2.5 0 1 0 -5.0 0M599.2 660.5a2.5 2.5 0 1 0 5.0 0a2.5 2.5 0 1 0 -5.0 0M582.8 666.7a2.5 2.5 0 1 0 5.0 0a2.5 2.5 0 1 0 -5.0 0M584.9 654.2a2.5 2.5 0 1 0 5.0 0a2.5 2.5 0 1 0 -5.0 0M588.0 665.2a2.5 2.5 0 1 0 5.0 0a2.5 2.5 0 1 0 -5.0 0M548.9 658.5a2.5 2.5 0 1 0 5.0 0a2.5 2.5 0 1 0 -5.0 0M593.2 668.8a2.5 2.5 0 1 0 5.0 0a2.5 2.5 0 1 0 -5.0 0M600.2 683.9a2.5 2.5 0 1 0 5.0 0a2.5 2.5 0 1 0 -5.0 0M583.2 666.3a2.5 2.5 0 1 0 5.0 0a2.5 2.5 0 1 0 -5.0 0M584.6 665.9a2.5 2.5 0 1 0 5.0 0a2.5 2.5 0 1 0 -5.0 0M572.4 671.0a2.5 2.5 0 1 0 5.0 0a2.5 2.5 0 1 0 -5.0 0M567.2 655.4a2.5 2.5 0 1 0 5.0 0a2.5 2.5 0 1 0 -5.0 0M570.3 669.0a2.5 2.5 0 1 0 5.0 0a2.5 2.5 0 1 0 -5.0 0M572.4 670.4a2.5 2.5 0 1 0 5.0 0a2.5 2.5 0 1 0 -5.0 0M577.0 664.3a2.5 2.5 0 1 0 5.0 0a2.5 2.5 0 1 0 -5.0 0M562.0 660.3a2.5 2.5 0 1 0 5.0 0a2.5 2.5 0 1 0 -5.0 0M589.3 673.7a2.5 2.5 0 1 0 5.0 0a2.5 2.5 0 1 0 -5.0 0M599.2 658.7a2.5 2.5 0 1 0 5.0 0a2.5 2.5 0 1 0 -5.0 0M603.0 666.3a2.5 2.5 0 1 0 5.0 0a2.5 2.5 0 1 0 -5.0 0M575.4 666.1a2.5 2.5 0 1 0 5.0 0a2.5 2.5 0 1 0 -5.0 0M574.9 656.5a2.5 2.5 0 1 0 5.0 0a2.5 2.5 0 1 0 -5.0 0M595.6 663.1a2.5 2.5 0 1 0 5.0 0a2.5 2.5 0 1 0 -5.0 0M612.6 671.6a2.5 2.5 0 1 0 5.0 0a2.5 2.5 0 1 0 -5.0 0M582.5 663.8a2.5 2.5 0 1 0 5.0 0a2.5 2.5 0 1 0 -5.0 0M577.2 664.8a2.5 2.5 0 1 0 5.0 0a2.5 2.5 0 1 0 -5.0 0M575.7 652.4a2.5 2.5 0 1 0 5.0 0a2.5 2.5 0 1 0 -5.0 0M611.9 666.8a2.5 2.5 0 1 0 5.0 0a2.5 2.5 0 1 0 -5.0 0M570.8 647.8a2.5 2.5 0 1 0 5.0 0a2.5 2.5 0 1 0 -5.0 0M608.6 672.2a2.5 2.5 0 1 0 5.0 0a2.5 2.5 0 1 0 -5.0 0M556.0 656.9a2.5 2.5 0 1 0 5.0 0a2.5 2.5 0 1 0 -5.0 0M597.6 668.0a2.5 2.5 0 1 0 5.0 0a2.5 2.5 0 1 0 -5.0 0M589.8 670.1a2.5 2.5 0 1 0 5.0 0a2.5 2.5 0 1 0 -5.0 0M599.4 669.1a2.5 2.5 0 1 0 5.0 0a2.5 2.5 0 1 0 -5.0 0M593.3 654.1a2.5 2.5 0 1 0 5.0 0a2.5 2.5 0 1 0 -5.0 0M603.0 673.3a2.5 2.5 0 1 0 5.0 0a2.5 2.5 0 1 0 -5.0 0M558.3 679.1a2.5 2.5 0 1 0 5.0 0a2.5 2.5 0 1 0 -5.0 0M593.2 675.4a2.5 2.5 0 1 0 5.0 0a2.5 2.5 0 1 0 -5.0 0M578.5 676.5a2.5 2.5 0 1 0 5.0 0a2.5 2.5 0 1 0 -5.0 0M569.5 667.3a2.5 2.5 0 1 0 5.0 0a2.5 2.5 0 1 0 -5.0 0M585.1 658.9a2.5 2.5 0 1 0 5.0 0a2.5 2.5 0 1 0 -5.0 0M583.0 647.5a2.5 2.5 0 1 0 5.0 0a2.5 2.5 0 1 0 -5.0 0M565.5 705.8a2.5 2.5 0 1 0 5.0 0a2.5 2.5 0 1 0 -5.0 0M560.1 682.6a2.5 2.5 0 1 0 5.0 0a2.5 2.5 0 1 0 -5.0 0M556.7 683.1a2.5 2.5 0 1 0 5.0 0a2.5 2.5 0 1 0 -5.0 0M541.3 700.3a2.5 2.5 0 1 0 5.0 0a2.5 2.5 0 1 0 -5.0 0M565.0 688.1a2.5 2.5 0 1 0 5.0 0a2.5 2.5 0 1 0 -5.0 0M562.5 687.6a2.5 2.5 0 1 0 5.0 0a2.5 2.5 0 1 0 -5.0 0M570.7 704.8a2.5 2.5 0 1 0 5.0 0a2.5 2.5 0 1 0 -5.0 0M580.1 688.3a2.5 2.5 0 1 0 5.0 0a2.5 2.5 0 1 0 -5.0 0M567.4 692.8a2.5 2.5 0 1 0 5.0 0a2.5 2.5 0 1 0 -5.0 0M566.7 693.3a2.5 2.5 0 1 0 5.0 0a2.5 2.5 0 1 0 -5.0 0M568.9 694.1a2.5 2.5 0 1 0 5.0 0a2.5 2.5 0 1 0 -5.0 0M557.1 684.9a2.5 2.5 0 1 0 5.0 0a2.5 2.5 0 1 0 -5.0 0M549.0 680.3a2.5 2.5 0 1 0 5.0 0a2.5 2.5 0 1 0 -5.0 0M546.6 696.3a2.5 2.5 0 1 0 5.0 0a2.5 2.5 0 1 0 -5.0 0M539.3 688.0a2.5 2.5 0 1 0 5.0 0a2.5 2.5 0 1 0 -5.0 0"/>
<path fill="none" stroke="#6fa832" stroke-width="0.9" d="M544.5 596.0a2.5 2.5 0 1 0 5.0 0a2.5 2.5 0 1 0 -5.0 0M546.3 601.6a2.5 2.5 0 1 0 5.0 0a2.5 2.5 0 1 0 -5.0 0M558.3 620.2a2.5 2.5 0 1 0 5.0 0a2.5 2.5 0 1 0 -5.0 0M539.3 626.4a2.5 2.5 0 1 0 5.0 0a2.5 2.5 0 1 0 -5.0 0M544.5 630.5a2.5 2.5 0 1 0 5.0 0a2.5 2.5 0 1 0 -5.0 0M602.4 627.1a2.5 2.5 0 1 0 5.0 0a2.5 2.5 0 1 0 -5.0 0M573.9 637.4a2.5 2.5 0 1 0 5.0 0a2.5 2.5 0 1 0 -5.0 0M585.1 638.1a2.5 2.5 0 1 0 5.0 0a2.5 2.5 0 1 0 -5.0 0M593.8 649.9a2.5 2.5 0 1 0 5.0 0a2.5 2.5 0 1 0 -5.0 0M554.9 649.9a2.5 2.5 0 1 0 5.0 0a2.5 2.5 0 1 0 -5.0 0M642.2 636.1a2.5 2.5 0 1 0 5.0 0a2.5 2.5 0 1 0 -5.0 0M549.7 655.4a2.5 2.5 0 1 0 5.0 0a2.5 2.5 0 1 0 -5.0 0M560.1 652.6a2.5 2.5 0 1 0 5.0 0a2.5 2.5 0 1 0 -5.0 0M531.6 726.5a2.5 2.5 0 1 0 5.0 0a2.5 2.5 0 1 0 -5.0 0M551.4 730.6a2.5 2.5 0 1 0 5.0 0a2.5 2.5 0 1 0 -5.0 0M552.3 735.4a2.5 2.5 0 1 0 5.0 0a2.5 2.5 0 1 0 -5.0 0M556.6 740.2a2.5 2.5 0 1 0 5.0 0a2.5 2.5 0 1 0 -5.0 0M560.9 727.8a2.5 2.5 0 1 0 5.0 0a2.5 2.5 0 1 0 -5.0 0M563.5 726.5a2.5 2.5 0 1 0 5.0 0a2.5 2.5 0 1 0 -5.0 0M573.9 743.0a2.5 2.5 0 1 0 5.0 0a2.5 2.5 0 1 0 -5.0 0M586.0 742.3a2.5 2.5 0 1 0 5.0 0a2.5 2.5 0 1 0 -5.0 0M592.0 738.2a2.5 2.5 0 1 0 5.0 0a2.5 2.5 0 1 0 -5.0 0M599.0 737.5a2.5 2.5 0 1 0 5.0 0a2.5 2.5 0 1 0 -5.0 0M582.5 761.6a2.5 2.5 0 1 0 5.0 0a2.5 2.5 0 1 0 -5.0 0M588.6 761.6a2.5 2.5 0 1 0 5.0 0a2.5 2.5 0 1 0 -5.0 0M581.7 770.6a2.5 2.5 0 1 0 5.0 0a2.5 2.5 0 1 0 -5.0 0M586.0 773.4a2.5 2.5 0 1 0 5.0 0a2.5 2.5 0 1 0 -5.0 0M598.1 768.5a2.5 2.5 0 1 0 5.0 0a2.5 2.5 0 1 0 -5.0 0M616.2 761.0a2.5 2.5 0 1 0 5.0 0a2.5 2.5 0 1 0 -5.0 0M621.4 752.7a2.5 2.5 0 1 0 5.0 0a2.5 2.5 0 1 0 -5.0 0M623.1 752.0a2.5 2.5 0 1 0 5.0 0a2.5 2.5 0 1 0 -5.0 0M614.5 772.7a2.5 2.5 0 1 0 5.0 0a2.5 2.5 0 1 0 -5.0 0M625.7 785.8a2.5 2.5 0 1 0 5.0 0a2.5 2.5 0 1 0 -5.0 0M608.5 733.4a2.5 2.5 0 1 0 5.0 0a2.5 2.5 0 1 0 -5.0 0M612.8 723.0a2.5 2.5 0 1 0 5.0 0a2.5 2.5 0 1 0 -5.0 0M621.4 726.5a2.5 2.5 0 1 0 5.0 0a2.5 2.5 0 1 0 -5.0 0M634.4 705.8a2.5 2.5 0 1 0 5.0 0a2.5 2.5 0 1 0 -5.0 0M638.7 712.7a2.5 2.5 0 1 0 5.0 0a2.5 2.5 0 1 0 -5.0 0M625.7 709.2a2.5 2.5 0 1 0 5.0 0a2.5 2.5 0 1 0 -5.0 0M612.8 705.8a2.5 2.5 0 1 0 5.0 0a2.5 2.5 0 1 0 -5.0 0M602.4 689.9a2.5 2.5 0 1 0 5.0 0a2.5 2.5 0 1 0 -5.0 0M580.1 713.8a2.5 2.5 0 1 0 5.0 0a2.5 2.5 0 1 0 -5.0 0M600.4 704.6a2.5 2.5 0 1 0 5.0 0a2.5 2.5 0 1 0 -5.0 0M593.9 691.5a2.5 2.5 0 1 0 5.0 0a2.5 2.5 0 1 0 -5.0 0M606.7 697.2a2.5 2.5 0 1 0 5.0 0a2.5 2.5 0 1 0 -5.0 0M588.4 657.5a2.5 2.5 0 1 0 5.0 0a2.5 2.5 0 1 0 -5.0 0M601.6 725.7a2.5 2.5 0 1 0 5.0 0a2.5 2.5 0 1 0 -5.0 0M585.5 705.9a2.5 2.5 0 1 0 5.0 0a2.5 2.5 0 1 0 -5.0 0M608.2 698.7a2.5 2.5 0 1 0 5.0 0a2.5 2.5 0 1 0 -5.0 0M574.2 713.2a2.5 2.5 0 1 0 5.0 0a2.5 2.5 0 1 0 -5.0 0M590.9 703.8a2.5 2.5 0 1 0 5.0 0a2.5 2.5 0 1 0 -5.0 0M586.7 742.0a2.5 2.5 0 1 0 5.0 0a2.5 2.5 0 1 0 -5.0 0M589.7 688.0a2.5 2.5 0 1 0 5.0 0a2.5 2.5 0 1 0 -5.0 0M606.0 683.8a2.5 2.5 0 1 0 5.0 0a2.5 2.5 0 1 0 -5.0 0M582.2 705.8a2.5 2.5 0 1 0 5.0 0a2.5 2.5 0 1 0 -5.0 0M581.8 717.2a2.5 2.5 0 1 0 5.0 0a2.5 2.5 0 1 0 -5.0 0M591.9 699.4a2.5 2.5 0 1 0 5.0 0a2.5 2.5 0 1 0 -5.0 0M578.4 773.3a2.5 2.5 0 1 0 5.0 0a2.5 2.5 0 1 0 -5.0 0M604.8 678.5a2.5 2.5 0 1 0 5.0 0a2.5 2.5 0 1 0 -5.0 0M556.5 727.7a2.5 2.5 0 1 0 5.0 0a2.5 2.5 0 1 0 -5.0 0M593.5 710.5a2.5 2.5 0 1 0 5.0 0a2.5 2.5 0 1 0 -5.0 0M572.0 712.5a2.5 2.5 0 1 0 5.0 0a2.5 2.5 0 1 0 -5.0 0M603.0 697.3a2.5 2.5 0 1 0 5.0 0a2.5 2.5 0 1 0 -5.0 0M600.0 662.5a2.5 2.5 0 1 0 5.0 0a2.5 2.5 0 1 0 -5.0 0M585.9 722.6a2.5 2.5 0 1 0 5.0 0a2.5 2.5 0 1 0 -5.0 0M576.2 711.9a2.5 2.5 0 1 0 5.0 0a2.5 2.5 0 1 0 -5.0 0M594.0 712.2a2.5 2.5 0 1 0 5.0 0a2.5 2.5 0 1 0 -5.0 0M614.0 696.4a2.5 2.5 0 1 0 5.0 0a2.5 2.5 0 1 0 -5.0 0M578.3 700.9a2.5 2.5 0 1 0 5.0 0a2.5 2.5 0 1 0 -5.0 0M563.9 716.9a2.5 2.5 0 1 0 5.0 0a2.5 2.5 0 1 0 -5.0 0M568.2 706.8a2.5 2.5 0 1 0 5.0 0a2.5 2.5 0 1 0 -5.0 0M574.7 711.9a2.5 2.5 0 1 0 5.0 0a2.5 2.5 0 1 0 -5.0 0M577.1 738.4a2.5 2.5 0 1 0 5.0 0a2.5 2.5 0 1 0 -5.0 0M590.8 713.3a2.5 2.5 0 1 0 5.0 0a2.5 2.5 0 1 0 -5.0 0M577.2 683.3a2.5 2.5 0 1 0 5.0 0a2.5 2.5 0 1 0 -5.0 0M581.5 710.2a2.5 2.5 0 1 0 5.0 0a2.5 2.5 0 1 0 -5.0 0M587.5 720.9a2.5 2.5 0 1 0 5.0 0a2.5 2.5 0 1 0 -5.0 0M585.3 717.3a2.5 2.5 0 1 0 5.0 0a2.5 2.5 0 1 0 -5.0 0M574.2 697.3a2.5 2.5 0 1 0 5.0 0a2.5 2.5 0 1 0 -5.0 0M569.2 702.9a2.5 2.5 0 1 0 5.0 0a2.5 2.5 0 1 0 -5.0 0M575.6 725.9a2.5 2.5 0 1 0 5.0 0a2.5 2.5 0 1 0 -5.0 0M569.7 700.0a2.5 2.5 0 1 0 5.0 0a2.5 2.5 0 1 0 -5.0 0M576.6 687.9a2.5 2.5 0 1 0 5.0 0a2.5 2.5 0 1 0 -5.0 0M563.8 726.3a2.5 2.5 0 1 0 5.0 0a2.5 2.5 0 1 0 -5.0 0M551.4 686.9a2.5 2.5 0 1 0 5.0 0a2.5 2.5 0 1 0 -5.0 0M583.8 718.5a2.5 2.5 0 1 0 5.0 0a2.5 2.5 0 1 0 -5.0 0M587.0 686.0a2.5 2.5 0 1 0 5.0 0a2.5 2.5 0 1 0 -5.0 0M559.0 735.0a2.5 2.5 0 1 0 5.0 0a2.5 2.5 0 1 0 -5.0 0M591.8 713.3a2.5 2.5 0 1 0 5.0 0a2.5 2.5 0 1 0 -5.0 0M565.2 693.1a2.5 2.5 0 1 0 5.0 0a2.5 2.5 0 1 0 -5.0 0M611.1 731.0a2.5 2.5 0 1 0 5.0 0a2.5 2.5 0 1 0 -5.0 0M578.0 729.9a2.5 2.5 0 1 0 5.0 0a2.5 2.5 0 1 0 -5.0 0M598.4 703.9a2.5 2.5 0 1 0 5.0 0a2.5 2.5 0 1 0 -5.0 0M567.9 708.6a2.5 2.5 0 1 0 5.0 0a2.5 2.5 0 1 0 -5.0 0M585.2 697.5a2.5 2.5 0 1 0 5.0 0a2.5 2.5 0 1 0 -5.0 0M602.0 715.2a2.5 2.5 0 1 0 5.0 0a2.5 2.5 0 1 0 -5.0 0M580.2 717.7a2.5 2.5 0 1 0 5.0 0a2.5 2.5 0 1 0 -5.0 0M569.5 688.3a2.5 2.5 0 1 0 5.0 0a2.5 2.5 0 1 0 -5.0 0M592.9 706.9a2.5 2.5 0 1 0 5.0 0a2.5 2.5 0 1 0 -5.0 0M593.4 697.3a2.5 2.5 0 1 0 5.0 0a2.5 2.5 0 1 0 -5.0 0M598.1 702.9a2.5 2.5 0 1 0 5.0 0a2.5 2.5 0 1 0 -5.0 0M597.3 688.2a2.5 2.5 0 1 0 5.0 0a2.5 2.5 0 1 0 -5.0 0M592.2 725.8a2.5 2.5 0 1 0 5.0 0a2.5 2.5 0 1 0 -5.0 0M602.4 719.0a2.5 2.5 0 1 0 5.0 0a2.5 2.5 0 1 0 -5.0 0M582.8 707.3a2.5 2.5 0 1 0 5.0 0a2.5 2.5 0 1 0 -5.0 0M588.3 719.8a2.5 2.5 0 1 0 5.0 0a2.5 2.5 0 1 0 -5.0 0M595.2 715.3a2.5 2.5 0 1 0 5.0 0a2.5 2.5 0 1 0 -5.0 0M592.5 699.3a2.5 2.5 0 1 0 5.0 0a2.5 2.5 0 1 0 -5.0 0M576.2 683.7a2.5 2.5 0 1 0 5.0 0a2.5 2.5 0 1 0 -5.0 0M593.1 689.2a2.5 2.5 0 1 0 5.0 0a2.5 2.5 0 1 0 -5.0 0M598.9 720.4a2.5 2.5 0 1 0 5.0 0a2.5 2.5 0 1 0 -5.0 0M598.0 630.9a2.5 2.5 0 1 0 5.0 0a2.5 2.5 0 1 0 -5.0 0M563.6 700.9a2.5 2.5 0 1 0 5.0 0a2.5 2.5 0 1 0 -5.0 0M593.2 680.2a2.5 2.5 0 1 0 5.0 0a2.5 2.5 0 1 0 -5.0 0M557.7 650.3a2.5 2.5 0 1 0 5.0 0a2.5 2.5 0 1 0 -5.0 0M596.5 715.6a2.5 2.5 0 1 0 5.0 0a2.5 2.5 0 1 0 -5.0 0M552.7 640.0a2.5 2.5 0 1 0 5.0 0a2.5 2.5 0 1 0 -5.0 0M568.0 693.8a2.5 2.5 0 1 0 5.0 0a2.5 2.5 0 1 0 -5.0 0M610.7 657.9a2.5 2.5 0 1 0 5.0 0a2.5 2.5 0 1 0 -5.0 0M574.0 694.0a2.5 2.5 0 1 0 5.0 0a2.5 2.5 0 1 0 -5.0 0M561.9 649.3a2.5 2.5 0 1 0 5.0 0a2.5 2.5 0 1 0 -5.0 0M597.4 652.2a2.5 2.5 0 1 0 5.0 0a2.5 2.5 0 1 0 -5.0 0M560.7 681.3a2.5 2.5 0 1 0 5.0 0a2.5 2.5 0 1 0 -5.0 0M580.3 682.1a2.5 2.5 0 1 0 5.0 0a2.5 2.5 0 1 0 -5.0 0M629.8 706.2a2.5 2.5 0 1 0 5.0 0a2.5 2.5 0 1 0 -5.0 0M611.6 643.9a2.5 2.5 0 1 0 5.0 0a2.5 2.5 0 1 0 -5.0 0M558.9 671.4a2.5 2.5 0 1 0 5.0 0a2.5 2.5 0 1 0 -5.0 0M634.6 689.2a2.5 2.5 0 1 0 5.0 0a2.5 2.5 0 1 0 -5.0 0M574.4 692.9a2.5 2.5 0 1 0 5.0 0a2.5 2.5 0 1 0 -5.0 0M630.4 684.8a2.5 2.5 0 1 0 5.0 0a2.5 2.5 0 1 0 -5.0 0M574.8 678.2a2.5 2.5 0 1 0 5.0 0a2.5 2.5 0 1 0 -5.0 0"/>
<path fill="none" stroke="#5fb6ec" stroke-width="0.9" d="M476.8 617.8a2.5 2.5 0 1 0 5.0 0a2.5 2.5 0 1 0 -5.0 0M476.8 622.3a2.5 2.5 0 1 0 5.0 0a2.5 2.5 0 1 0 -5.0 0M465.9 649.5a2.5 2.5 0 1 0 5.0 0a2.5 2.5 0 1 0 -5.0 0M494.1 642.7a2.5 2.5 0 1 0 5.0 0a2.5 2.5 0 1 0 -5.0 0M489.2 660.2a2.5 2.5 0 1 0 5.0 0a2.5 2.5 0 1 0 -5.0 0M495.3 655.4a2.5 2.5 0 1 0 5.0 0a2.5 2.5 0 1 0 -5.0 0M496.1 658.8a2.5 2.5 0 1 0 5.0 0a2.5 2.5 0 1 0 -5.0 0M434.3 682.8a2.5 2.5 0 1 0 5.0 0a2.5 2.5 0 1 0 -5.0 0M450.3 678.2a2.5 2.5 0 1 0 5.0 0a2.5 2.5 0 1 0 -5.0 0M453.8 682.3a2.5 2.5 0 1 0 5.0 0a2.5 2.5 0 1 0 -5.0 0M465.9 675.6a2.5 2.5 0 1 0 5.0 0a2.5 2.5 0 1 0 -5.0 0M465.9 680.6a2.5 2.5 0 1 0 5.0 0a2.5 2.5 0 1 0 -5.0 0M489.2 689.2a2.5 2.5 0 1 0 5.0 0a2.5 2.5 0 1 0 -5.0 0M504.8 679.5a2.5 2.5 0 1 0 5.0 0a2.5 2.5 0 1 0 -5.0 0M510.8 684.4a2.5 2.5 0 1 0 5.0 0a2.5 2.5 0 1 0 -5.0 0M508.5 690.6a2.5 2.5 0 1 0 5.0 0a2.5 2.5 0 1 0 -5.0 0M496.1 708.5a2.5 2.5 0 1 0 5.0 0a2.5 2.5 0 1 0 -5.0 0M499.6 709.2a2.5 2.5 0 1 0 5.0 0a2.5 2.5 0 1 0 -5.0 0M519.7 710.6a2.5 2.5 0 1 0 5.0 0a2.5 2.5 0 1 0 -5.0 0M519.5 716.8a2.5 2.5 0 1 0 5.0 0a2.5 2.5 0 1 0 -5.0 0M522.9 714.7a2.5 2.5 0 1 0 5.0 0a2.5 2.5 0 1 0 -5.0 0M529.0 716.1a2.5 2.5 0 1 0 5.0 0a2.5 2.5 0 1 0 -5.0 0M541.9 732.0a2.5 2.5 0 1 0 5.0 0a2.5 2.5 0 1 0 -5.0 0M665.5 726.5a2.5 2.5 0 1 0 5.0 0a2.5 2.5 0 1 0 -5.0 0M672.4 726.5a2.5 2.5 0 1 0 5.0 0a2.5 2.5 0 1 0 -5.0 0M604.1 655.4a2.5 2.5 0 1 0 5.0 0a2.5 2.5 0 1 0 -5.0 0M611.1 667.8a2.5 2.5 0 1 0 5.0 0a2.5 2.5 0 1 0 -5.0 0M619.7 673.3a2.5 2.5 0 1 0 5.0 0a2.5 2.5 0 1 0 -5.0 0M617.1 685.1a2.5 2.5 0 1 0 5.0 0a2.5 2.5 0 1 0 -5.0 0M625.7 702.3a2.5 2.5 0 1 0 5.0 0a2.5 2.5 0 1 0 -5.0 0M644.7 688.5a2.5 2.5 0 1 0 5.0 0a2.5 2.5 0 1 0 -5.0 0M651.7 676.8a2.5 2.5 0 1 0 5.0 0a2.5 2.5 0 1 0 -5.0 0M530.7 654.0a2.5 2.5 0 1 0 5.0 0a2.5 2.5 0 1 0 -5.0 0M539.3 648.5a2.5 2.5 0 1 0 5.0 0a2.5 2.5 0 1 0 -5.0 0M526.4 659.5a2.5 2.5 0 1 0 5.0 0a2.5 2.5 0 1 0 -5.0 0M522.1 643.7a2.5 2.5 0 1 0 5.0 0a2.5 2.5 0 1 0 -5.0 0M513.4 648.5a2.5 2.5 0 1 0 5.0 0a2.5 2.5 0 1 0 -5.0 0M509.1 657.5a2.5 2.5 0 1 0 5.0 0a2.5 2.5 0 1 0 -5.0 0M517.7 666.4a2.5 2.5 0 1 0 5.0 0a2.5 2.5 0 1 0 -5.0 0M500.5 654.0a2.5 2.5 0 1 0 5.0 0a2.5 2.5 0 1 0 -5.0 0M548.0 657.5a2.5 2.5 0 1 0 5.0 0a2.5 2.5 0 1 0 -5.0 0M556.6 659.5a2.5 2.5 0 1 0 5.0 0a2.5 2.5 0 1 0 -5.0 0M565.3 654.0a2.5 2.5 0 1 0 5.0 0a2.5 2.5 0 1 0 -5.0 0M582.5 648.5a2.5 2.5 0 1 0 5.0 0a2.5 2.5 0 1 0 -5.0 0M591.2 652.6a2.5 2.5 0 1 0 5.0 0a2.5 2.5 0 1 0 -5.0 0M599.8 664.4a2.5 2.5 0 1 0 5.0 0a2.5 2.5 0 1 0 -5.0 0M543.7 683.0a2.5 2.5 0 1 0 5.0 0a2.5 2.5 0 1 0 -5.0 0M535.0 687.1a2.5 2.5 0 1 0 5.0 0a2.5 2.5 0 1 0 -5.0 0M556.6 688.5a2.5 2.5 0 1 0 5.0 0a2.5 2.5 0 1 0 -5.0 0M573.9 683.0a2.5 2.5 0 1 0 5.0 0a2.5 2.5 0 1 0 -5.0 0M586.9 692.0a2.5 2.5 0 1 0 5.0 0a2.5 2.5 0 1 0 -5.0 0M595.5 676.1a2.5 2.5 0 1 0 5.0 0a2.5 2.5 0 1 0 -5.0 0M612.8 695.4a2.5 2.5 0 1 0 5.0 0a2.5 2.5 0 1 0 -5.0 0M634.4 678.2a2.5 2.5 0 1 0 5.0 0a2.5 2.5 0 1 0 -5.0 0M638.7 705.8a2.5 2.5 0 1 0 5.0 0a2.5 2.5 0 1 0 -5.0 0M625.7 712.7a2.5 2.5 0 1 0 5.0 0a2.5 2.5 0 1 0 -5.0 0M580.1 679.4a2.5 2.5 0 1 0 5.0 0a2.5 2.5 0 1 0 -5.0 0M618.8 705.4a2.5 2.5 0 1 0 5.0 0a2.5 2.5 0 1 0 -5.0 0M594.3 677.6a2.5 2.5 0 1 0 5.0 0a2.5 2.5 0 1 0 -5.0 0M561.1 677.5a2.5 2.5 0 1 0 5.0 0a2.5 2.5 0 1 0 -5.0 0M618.9 699.8a2.5 2.5 0 1 0 5.0 0a2.5 2.5 0 1 0 -5.0 0M518.5 690.4a2.5 2.5 0 1 0 5.0 0a2.5 2.5 0 1 0 -5.0 0M561.5 675.9a2.5 2.5 0 1 0 5.0 0a2.5 2.5 0 1 0 -5.0 0M574.2 663.9a2.5 2.5 0 1 0 5.0 0a2.5 2.5 0 1 0 -5.0 0M506.4 668.1a2.5 2.5 0 1 0 5.0 0a2.5 2.5 0 1 0 -5.0 0M615.6 675.7a2.5 2.5 0 1 0 5.0 0a2.5 2.5 0 1 0 -5.0 0M597.4 669.7a2.5 2.5 0 1 0 5.0 0a2.5 2.5 0 1 0 -5.0 0M521.6 655.1a2.5 2.5 0 1 0 5.0 0a2.5 2.5 0 1 0 -5.0 0M579.5 677.8a2.5 2.5 0 1 0 5.0 0a2.5 2.5 0 1 0 -5.0 0M610.2 681.8a2.5 2.5 0 1 0 5.0 0a2.5 2.5 0 1 0 -5.0 0M530.1 665.9a2.5 2.5 0 1 0 5.0 0a2.5 2.5 0 1 0 -5.0 0M610.3 651.7a2.5 2.5 0 1 0 5.0 0a2.5 2.5 0 1 0 -5.0 0M539.8 660.4a2.5 2.5 0 1 0 5.0 0a2.5 2.5 0 1 0 -5.0 0M586.8 682.4a2.5 2.5 0 1 0 5.0 0a2.5 2.5 0 1 0 -5.0 0M529.6 656.8a2.5 2.5 0 1 0 5.0 0a2.5 2.5 0 1 0 -5.0 0M621.7 693.0a2.5 2.5 0 1 0 5.0 0a2.5 2.5 0 1 0 -5.0 0M612.9 686.5a2.5 2.5 0 1 0 5.0 0a2.5 2.5 0 1 0 -5.0 0M524.9 662.1a2.5 2.5 0 1 0 5.0 0a2.5 2.5 0 1 0 -5.0 0M522.4 663.2a2.5 2.5 0 1 0 5.0 0a2.5 2.5 0 1 0 -5.0 0M577.7 674.4a2.5 2.5 0 1 0 5.0 0a2.5 2.5 0 1 0 -5.0 0M505.2 674.2a2.5 2.5 0 1 0 5.0 0a2.5 2.5 0 1 0 -5.0 0M542.3 683.1a2.5 2.5 0 1 0 5.0 0a2.5 2.5 0 1 0 -5.0 0M603.8 690.6a2.5 2.5 0 1 0 5.0 0a2.5 2.5 0 1 0 -5.0 0M563.0 675.3a2.5 2.5 0 1 0 5.0 0a2.5 2.5 0 1 0 -5.0 0M590.0 651.4a2.5 2.5 0 1 0 5.0 0a2.5 2.5 0 1 0 -5.0 0M507.5 659.6a2.5 2.5 0 1 0 5.0 0a2.5 2.5 0 1 0 -5.0 0M595.5 678.9a2.5 2.5 0 1 0 5.0 0a2.5 2.5 0 1 0 -5.0 0M600.1 682.4a2.5 2.5 0 1 0 5.0 0a2.5 2.5 0 1 0 -5.0 0M549.1 676.1a2.5 2.5 0 1 0 5.0 0a2.5 2.5 0 1 0 -5.0 0M510.4 671.1a2.5 2.5 0 1 0 5.0 0a2.5 2.5 0 1 0 -5.0 0M526.7 665.3a2.5 2.5 0 1 0 5.0 0a2.5 2.5 0 1 0 -5.0 0M596.2 682.2a2.5 2.5 0 1 0 5.0 0a2.5 2.5 0 1 0 -5.0 0M617.2 675.6a2.5 2.5 0 1 0 5.0 0a2.5 2.5 0 1 0 -5.0 0M547.7 678.3a2.5 2.5 0 1 0 5.0 0a2.5 2.5 0 1 0 -5.0 0M568.2 676.2a2.5 2.5 0 1 0 5.0 0a2.5 2.5 0 1 0 -5.0 0M595.3 685.3a2.5 2.5 0 1 0 5.0 0a2.5 2.5 0 1 0 -5.0 0M601.2 678.9a2.5 2.5 0 1 0 5.0 0a2.5 2.5 0 1 0 -5.0 0M619.2 688.2a2.5 2.5 0 1 0 5.0 0a2.5 2.5 0 1 0 -5.0 0M515.8 679.2a2.5 2.5 0 1 0 5.0 0a2.5 2.5 0 1 0 -5.0 0M615.8 671.8a2.5 2.5 0 1 0 5.0 0a2.5 2.5 0 1 0 -5.0 0M545.9 662.1a2.5 2.5 0 1 0 5.0 0a2.5 2.5 0 1 0 -5.0 0"/>
<polyline points="537.5,693.0 539.2,692.6 540.9,692.2 542.6,692.0 544.3,691.7 545.9,691.4 547.6,691.1 549.3,690.9 551.0,690.6 552.7,690.3 554.4,688.9 556.1,687.5 557.7,686.1 559.4,684.7 561.1,683.3 562.8,681.9 564.5,680.5 566.2,679.1 567.8,677.7 569.5,676.3 571.2,674.9 572.9,674.2 574.6,673.8 576.3,673.5 578.0,673.2 579.6,672.8 581.3,672.5 583.0,672.2 584.7,672.0 586.4,671.9 588.1,671.7 589.7,671.5 591.4,671.3 593.1,671.2 594.8,671.2 596.5,671.2 598.2,671.2 599.9,671.2 601.5,671.2 603.2,671.2 604.9,671.2" fill="none" stroke="#111" stroke-width="3.2" stroke-linejoin="round"/>
<polyline points="537.5,663.7 539.2,664.6 540.9,665.7 542.6,667.5 544.3,669.1 545.9,670.6 547.6,672.1 549.3,673.6 551.0,675.1 552.7,676.5 554.4,677.9 556.1,679.2 557.7,680.6 559.4,681.9 561.1,683.3 562.8,684.6 564.5,685.3 566.2,685.7 567.8,686.1 569.5,686.6 571.2,687.0 572.9,687.8 574.6,688.9 576.3,689.9 578.0,691.0 579.6,692.0 581.3,693.5 583.0,695.2 584.7,696.9 586.4,698.6 588.1,699.9 589.7,701.2 591.4,702.4 593.1,703.7 594.8,704.9 596.5,706.8 598.2,708.8 599.9,710.8 601.5,712.8 603.2,715.3 604.9,717.8" fill="none" stroke="#111" stroke-width="3.2" stroke-linejoin="round"/>
<polyline points="491.7,669.5 494.8,669.8 497.8,670.2 500.8,670.6 503.8,670.9 506.8,671.2 509.9,671.4 512.9,671.6 515.9,671.8 518.9,672.0 522.0,672.2 525.0,672.4 528.0,672.6 531.0,672.8 534.1,673.0 537.1,673.2 540.1,673.4 543.1,673.8 546.2,674.2 549.2,674.6 552.2,675.0 555.2,675.4 558.3,675.8 561.3,676.2 564.3,676.7 567.3,677.5 570.4,678.2 573.4,678.9 576.4,679.7 579.4,680.1 582.4,680.5 585.5,680.9 588.5,681.3 591.5,681.7 594.5,682.1 597.6,682.6 600.6,683.1 603.6,683.6 606.6,684.1 609.7,684.6 612.7,685.4" fill="none" stroke="#111" stroke-width="3.2" stroke-linejoin="round"/>
<path fill="#f2a46c" stroke="#111" stroke-width="0.95" stroke-linejoin="round" d="M529.3 689.6l3.52 5.86h-7.04zM533.2 689.7l3.52 5.86h-7.04zM537.5 687.6l3.52 5.86h-7.04zM540.7 686.7l3.52 5.86h-7.04zM543.9 687.7l3.52 5.86h-7.04zM547.1 687.1l3.52 5.86h-7.04zM550.3 687.1l3.52 5.86h-7.04zM553.5 685.5l3.52 5.86h-7.04zM556.7 683.2l3.52 5.86h-7.04zM559.9 679.6l3.52 5.86h-7.04zM563.1 675.4l3.52 5.86h-7.04zM566.3 674.4l3.52 5.86h-7.04zM569.5 671.9l3.52 5.86h-7.04zM572.7 669.3l3.52 5.86h-7.04zM575.9 669.2l3.52 5.86h-7.04zM579.1 667.3l3.52 5.86h-7.04zM582.3 666.7l3.52 5.86h-7.04zM585.5 667.9l3.52 5.86h-7.04zM588.7 667.4l3.52 5.86h-7.04zM591.9 665.9l3.52 5.86h-7.04zM595.1 665.0l3.52 5.86h-7.04zM598.3 665.8l3.52 5.86h-7.04zM601.5 666.4l3.52 5.86h-7.04zM604.7 664.9l3.52 5.86h-7.04zM617.3 674.0l3.52 5.86h-7.04zM623.6 679.2l3.52 5.86h-7.04zM626.5 678.9l3.52 5.86h-7.04zM628.9 681.4l3.52 5.86h-7.04zM635.2 686.5l3.52 5.86h-7.04zM638.4 687.3l3.52 5.86h-7.04zM643.8 689.8l3.52 5.86h-7.04zM648.0 694.0l3.52 5.86h-7.04z"/>
<path fill="#5b9b1c" stroke="#111" stroke-width="0.95" stroke-linejoin="round" d="M529.3 652.7l3.52 5.86h-7.04zM533.4 657.5l3.52 5.86h-7.04zM537.5 659.9l3.52 5.86h-7.04zM540.7 659.4l3.52 5.86h-7.04zM543.9 663.9l3.52 5.86h-7.04zM547.1 665.5l3.52 5.86h-7.04zM550.3 670.7l3.52 5.86h-7.04zM553.5 673.0l3.52 5.86h-7.04zM556.7 676.0l3.52 5.86h-7.04zM559.9 677.6l3.52 5.86h-7.04zM563.1 681.1l3.52 5.86h-7.04zM566.3 681.5l3.52 5.86h-7.04zM569.5 681.9l3.52 5.86h-7.04zM572.7 683.3l3.52 5.86h-7.04zM575.9 686.0l3.52 5.86h-7.04zM579.1 688.0l3.52 5.86h-7.04zM582.3 688.2l3.52 5.86h-7.04zM585.5 693.6l3.52 5.86h-7.04zM588.7 695.4l3.52 5.86h-7.04zM591.9 698.1l3.52 5.86h-7.04zM595.1 700.1l3.52 5.86h-7.04zM598.3 705.1l3.52 5.86h-7.04zM601.5 708.2l3.52 5.86h-7.04zM604.7 713.6l3.52 5.86h-7.04zM618.3 715.9l3.52 5.86h-7.04zM621.3 714.9l3.52 5.86h-7.04zM623.6 715.8l3.52 5.86h-7.04zM628.9 715.1l3.52 5.86h-7.04zM638.4 716.9l3.52 5.86h-7.04zM642.1 717.4l3.52 5.86h-7.04zM643.7 716.0l3.52 5.86h-7.04zM648.0 716.1l3.52 5.86h-7.04z"/>
<path fill="#55b1ea" stroke="#111" stroke-width="0.95" stroke-linejoin="round" d="M436.8 660.3l3.52 5.86h-7.04zM451.7 662.2l3.52 5.86h-7.04zM455.4 662.0l3.52 5.86h-7.04zM459.2 662.2l3.52 5.86h-7.04zM468.4 662.7l3.52 5.86h-7.04zM478.9 664.4l3.52 5.86h-7.04zM491.7 664.6l3.52 5.86h-7.04zM495.6 664.3l3.52 5.86h-7.04zM499.5 666.0l3.52 5.86h-7.04zM503.4 666.7l3.52 5.86h-7.04zM507.3 666.7l3.52 5.86h-7.04zM511.2 667.4l3.52 5.86h-7.04zM515.1 666.2l3.52 5.86h-7.04zM518.9 666.4l3.52 5.86h-7.04zM522.8 667.7l3.52 5.86h-7.04zM526.7 668.3l3.52 5.86h-7.04zM530.6 668.7l3.52 5.86h-7.04zM534.5 668.6l3.52 5.86h-7.04zM538.4 669.2l3.52 5.86h-7.04zM542.3 668.9l3.52 5.86h-7.04zM546.2 669.1l3.52 5.86h-7.04zM550.0 670.3l3.52 5.86h-7.04zM553.9 671.2l3.52 5.86h-7.04zM557.8 670.4l3.52 5.86h-7.04zM561.7 672.3l3.52 5.86h-7.04zM565.6 672.7l3.52 5.86h-7.04zM569.5 673.5l3.52 5.86h-7.04zM573.4 674.3l3.52 5.86h-7.04zM577.3 675.7l3.52 5.86h-7.04zM581.2 675.5l3.52 5.86h-7.04zM585.0 676.2l3.52 5.86h-7.04zM588.9 675.8l3.52 5.86h-7.04zM592.8 676.8l3.52 5.86h-7.04zM596.7 676.7l3.52 5.86h-7.04zM600.6 677.8l3.52 5.86h-7.04zM604.5 678.3l3.52 5.86h-7.04zM608.4 679.3l3.52 5.86h-7.04zM612.3 680.4l3.52 5.86h-7.04zM619.6 683.1l3.52 5.86h-7.04zM623.9 685.4l3.52 5.86h-7.04zM628.2 687.1l3.52 5.86h-7.04zM633.4 690.2l3.52 5.86h-7.04zM637.7 692.0l3.52 5.86h-7.04zM643.8 695.3l3.52 5.86h-7.04zM645.5 694.9l3.52 5.86h-7.04zM670.2 706.2l3.52 5.86h-7.04zM675.5 709.6l3.52 5.86h-7.04z"/>
</g>
<line x1="424.20" y1="588.00" x2="424.20" y2="796.40" stroke="#222" stroke-width="1"/>
<line x1="424.20" y1="796.40" x2="676.60" y2="796.40" stroke="#222" stroke-width="1"/>
<line x1="421.00" y1="778.20" x2="424.20" y2="778.20" stroke="#222" stroke-width="1"/>
<text x="417.80" y="781.90" font-size="10.4" text-anchor="end" fill="#222">−1.5</text>
<line x1="421.00" y1="743.70" x2="424.20" y2="743.70" stroke="#222" stroke-width="1"/>
<text x="417.80" y="747.40" font-size="10.4" text-anchor="end" fill="#222">−1.0</text>
<line x1="421.00" y1="709.20" x2="424.20" y2="709.20" stroke="#222" stroke-width="1"/>
<text x="417.80" y="712.90" font-size="10.4" text-anchor="end" fill="#222">−0.5</text>
<line x1="421.00" y1="674.70" x2="424.20" y2="674.70" stroke="#222" stroke-width="1"/>
<text x="417.80" y="678.40" font-size="10.4" text-anchor="end" fill="#222">0.0</text>
<line x1="421.00" y1="640.20" x2="424.20" y2="640.20" stroke="#222" stroke-width="1"/>
<text x="417.80" y="643.90" font-size="10.4" text-anchor="end" fill="#222">0.5</text>
<line x1="421.00" y1="605.70" x2="424.20" y2="605.70" stroke="#222" stroke-width="1"/>
<text x="417.80" y="609.40" font-size="10.4" text-anchor="end" fill="#222">1.0</text>
<line x1="422.20" y1="760.95" x2="424.20" y2="760.95" stroke="#222" stroke-width="1"/>
<line x1="422.20" y1="726.45" x2="424.20" y2="726.45" stroke="#222" stroke-width="1"/>
<line x1="422.20" y1="691.95" x2="424.20" y2="691.95" stroke="#222" stroke-width="1"/>
<line x1="422.20" y1="657.45" x2="424.20" y2="657.45" stroke="#222" stroke-width="1"/>
<line x1="422.20" y1="622.95" x2="424.20" y2="622.95" stroke="#222" stroke-width="1"/>
<line x1="446.80" y1="796.40" x2="446.80" y2="799.20" stroke="#222" stroke-width="1"/>
<text x="446.40" y="812.20" font-size="10.4" text-anchor="middle" fill="#222">−1.5</text>
<line x1="490.00" y1="796.40" x2="490.00" y2="799.20" stroke="#222" stroke-width="1"/>
<text x="489.60" y="812.20" font-size="10.4" text-anchor="middle" fill="#222">−1.0</text>
<line x1="533.20" y1="796.40" x2="533.20" y2="799.20" stroke="#222" stroke-width="1"/>
<text x="532.80" y="812.20" font-size="10.4" text-anchor="middle" fill="#222">−0.5</text>
<line x1="576.40" y1="796.40" x2="576.40" y2="799.20" stroke="#222" stroke-width="1"/>
<text x="576.40" y="812.20" font-size="10.4" text-anchor="middle" fill="#222">0.0</text>
<line x1="619.60" y1="796.40" x2="619.60" y2="799.20" stroke="#222" stroke-width="1"/>
<text x="619.60" y="812.20" font-size="10.4" text-anchor="middle" fill="#222">0.5</text>
<line x1="662.80" y1="796.40" x2="662.80" y2="799.20" stroke="#222" stroke-width="1"/>
<text x="662.80" y="812.20" font-size="10.4" text-anchor="middle" fill="#222">1.0</text>
<line x1="468.40" y1="796.40" x2="468.40" y2="798.20" stroke="#222" stroke-width="1"/>
<line x1="511.60" y1="796.40" x2="511.60" y2="798.20" stroke="#222" stroke-width="1"/>
<line x1="554.80" y1="796.40" x2="554.80" y2="798.20" stroke="#222" stroke-width="1"/>
<line x1="598.00" y1="796.40" x2="598.00" y2="798.20" stroke="#222" stroke-width="1"/>
<line x1="641.20" y1="796.40" x2="641.20" y2="798.20" stroke="#222" stroke-width="1"/>
<text x="408.4" y="583.2" font-size="10" fill="#111">Log2<tspan font-size="7.4" dy="2.2">FC</tspan></text>
<text x="535.7" y="823.8" font-size="10" fill="#111">Log2<tspan font-size="7.4" dy="2.4">FC</tspan></text>
<circle cx="431.0" cy="593.3" r="2.5" fill="none" stroke="#5fb6ec" stroke-width="0.9"/>
<text x="444.70" y="596.90" font-size="9.8" text-anchor="start" fill="#111">LA/TA</text>
<circle cx="431.0" cy="605.6" r="2.5" fill="none" stroke="#6fa832" stroke-width="0.9"/>
<text x="444.70" y="609.20" font-size="9.8" text-anchor="start" fill="#111">IC/LA</text>
<circle cx="431.0" cy="617.8" r="2.5" fill="none" stroke="#f3b085" stroke-width="0.9"/>
<text x="444.70" y="621.40" font-size="9.8" text-anchor="start" fill="#111">IC/TA</text>
<text x="439.60" y="758.80" font-size="8.6" text-anchor="middle" fill="#222">Pair</text>
<text x="481.7" y="758.8" font-size="8.6" text-anchor="middle" fill="#222">Spearman <tspan font-style="italic">ρ</tspan></text>
<text x="527.50" y="758.80" font-size="8.6" text-anchor="middle" fill="#222" font-style="italic">p-value</text>
<line x1="424.40" y1="760.20" x2="547.20" y2="760.20" stroke="#777" stroke-width="1.3"/>
<text x="440.30" y="770.10" font-size="8.6" text-anchor="middle" fill="#222">LA/TA</text>
<text x="481.70" y="770.10" font-size="8.6" text-anchor="middle" fill="#111" font-weight="bold">-0.383</text>
<text x="527.50" y="770.10" font-size="8.6" text-anchor="middle" fill="#111" font-weight="bold">&lt;0.0001</text>
<text x="440.30" y="781.50" font-size="8.6" text-anchor="middle" fill="#222">IC/LA</text>
<text x="481.70" y="781.50" font-size="8.6" text-anchor="middle" fill="#111" font-weight="bold">-0.395</text>
<text x="527.50" y="781.50" font-size="8.6" text-anchor="middle" fill="#111" font-weight="bold">&lt;0.0001</text>
<text x="440.30" y="793.00" font-size="8.6" text-anchor="middle" fill="#222">IC/TA</text>
<text x="481.70" y="793.00" font-size="8.6" text-anchor="middle" fill="#111" font-weight="bold">0.285</text>
<text x="527.50" y="793.00" font-size="8.6" text-anchor="middle" fill="#111" font-weight="bold">&lt;0.0001</text>
</svg></body></html>
